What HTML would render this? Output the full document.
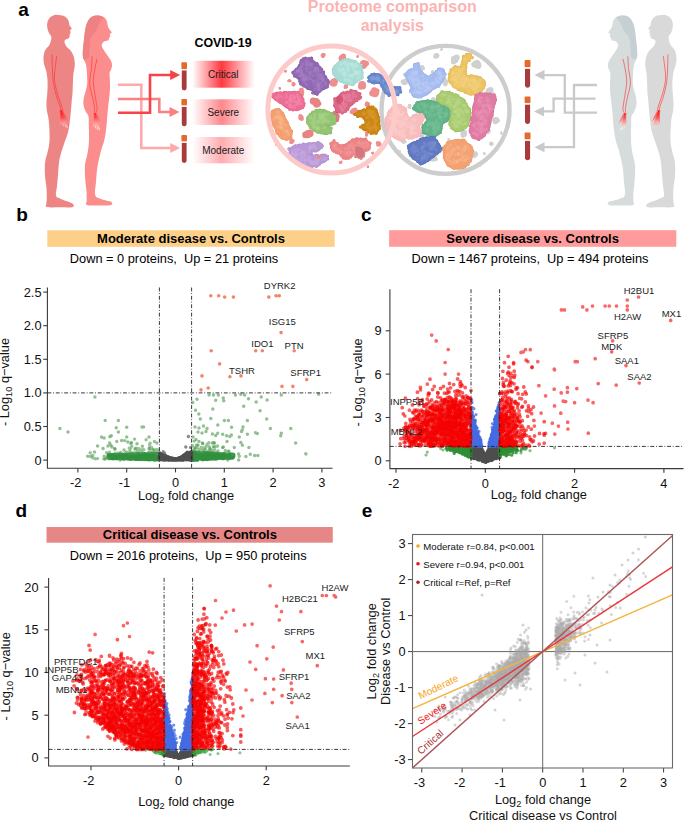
<!DOCTYPE html><html><head><meta charset="utf-8"><style>html,body{margin:0;padding:0;background:#fff;}svg{display:block;}text{font-family:"Liberation Sans",sans-serif;}</style></head><body>
<svg width="685" height="821" viewBox="0 0 685 821">
<rect width="685" height="821" fill="#fff"/>
<defs><path id="man" d="M57.6 14.9C59.6 15 61.5 15 63.5 15.8C65.5 16.6 66.4 17.7 67.5 19C68.6 20.3 68.6 21.2 69 22.5C69.4 23.8 69 24.3 69.6 25.5C70.2 26.7 71.7 27.7 71.8 28.6C71.9 29.5 70.4 29.4 70.2 30.2C70 31 70.7 31.6 70.6 32.5C70.5 33.4 70 33.7 69.8 34.5C69.6 35.3 69.9 35.7 69.6 36.5C69.3 37.3 69.1 37.9 68.3 38.6C67.5 39.3 66.3 39.1 65.5 39.8C64.7 40.5 64.3 40.7 64.5 42C64.7 43.3 65.3 44.8 66.5 46.5C67.7 48.2 69.1 48.6 70.5 50.5C71.9 52.4 72.7 53.7 73.5 56C74.3 58.3 74.5 59.7 74.7 62C74.9 64.3 74.8 65.1 74.5 67.5C74.2 69.9 73.7 70.9 73.4 74C73.1 77.1 73.1 79.4 72.9 83C72.7 86.6 72.8 88.6 72.6 92C72.4 95.4 72.2 96 71.8 100C71.4 104 71.3 107.2 70.8 112C70.3 116.8 70.1 119.8 69.5 124C68.9 128.2 68.9 129 67.8 133C66.7 137 65.4 139.8 64 144C62.6 148.2 61.8 150.2 60.8 154C59.8 157.8 59.6 158.8 59 163C58.4 167.2 58.4 170.4 58 175C57.6 179.6 57.4 181.9 57 186C56.6 190.1 55.4 193.1 56 195.6C56.6 198.1 58 197.4 60 198.5C62 199.6 63.7 200.1 66 201C68.3 201.9 70 202.2 71.5 203C73 203.8 73.4 204.2 73.5 205C73.6 205.8 74.7 206.7 72 207.2C69.3 207.7 65 207.3 60 207.3C55 207.3 49.7 207.7 47 207C44.3 206.3 46.3 205.8 46.3 204C46.3 202.2 46.8 201.2 46.8 198C46.8 194.8 46.8 192 46.5 188C46.2 184 45.5 182 45.2 178C44.9 174 44.7 171.6 44.8 168C44.9 164.4 44.9 163.2 45.5 160C46.1 156.8 46.9 155.2 47.6 152C48.3 148.8 48.8 147.2 49.2 144C49.6 140.8 49.6 139.6 49.6 136C49.6 132.4 49.4 129.6 49.2 126C49 122.4 48.9 121.2 48.4 118C47.9 114.8 47.2 113.2 46.8 110C46.4 106.8 46.4 105.2 46.5 102C46.6 98.8 47 97.2 47.2 94C47.4 90.8 47.6 89.2 47.6 86C47.6 82.8 47.6 81 47.3 78C47 75 46.8 73.6 46.2 71C45.6 68.4 44.8 67.4 44.3 65C43.8 62.6 43.5 61.4 43.5 59C43.5 56.6 43.7 55 44.2 53C44.7 51 45 50.5 46 49C47 47.5 48 47.1 49 45.5C50 43.9 50.4 42.8 50.8 41C51.2 39.2 51.6 38.1 51.2 36.5C50.8 34.9 49.8 34.7 49 33C48.2 31.3 47.7 30 47.4 28C47.1 26 46.9 25 47.3 23C47.7 21 48.3 19.5 49.5 18C50.7 16.5 51.9 16.1 53.5 15.5C55.1 14.9 55.6 14.8 57.6 14.9Z"/><path id="wom" d="M97 15.5C99.2 15.4 100.7 15.7 102.5 16.5C104.3 17.3 105 18.1 106 19.5C107 20.9 106.9 21.9 107.4 23.5C107.9 25.1 107.5 25.7 108.3 27.5C109.1 29.3 111.3 31.1 111.6 32.4C111.9 33.7 110.1 33.1 109.8 33.8C109.5 34.5 110.3 35.2 110.2 36C110.1 36.8 109.6 37.1 109.2 38C108.8 38.9 108.9 39.8 108 40.4C107.1 41 105.7 40.5 104.5 41.2C103.3 41.9 102.5 42.8 102 44C101.5 45.2 101.6 45.4 102.2 47C102.8 48.6 103.7 50 105 52C106.3 54 107.3 55.1 108.5 57C109.7 58.9 110.5 59.8 111.2 61.5C111.9 63.2 112 63.8 112 65.5C112 67.2 111.5 68.3 111 69.8C110.5 71.3 109.8 71.3 109.6 73C109.4 74.7 109.7 75.3 109.8 78.3C109.9 81.3 110.1 84.1 110 88C109.9 91.9 109.6 93.8 109.2 98C108.8 102.2 108.4 104.4 108 108.8C107.6 113.2 107.3 116.2 107 120C106.7 123.8 106.8 124 106.3 128C105.8 132 105.3 136 104.3 140.2C103.3 144.4 102.4 146 101.5 149C100.6 152 100.6 152.4 100 155C99.4 157.6 98.9 159 98.3 162C97.7 165 97.5 166 97 170C96.5 174 96.4 177 96 182C95.6 187 94.4 191.7 95.2 195C96 198.3 97.8 197.4 100 198.5C102.2 199.6 103.6 199.8 106 200.5C108.4 201.2 111 201.2 111.8 202.2C112.6 203.2 112.8 204.7 110 205.3C107.2 205.9 102.6 205.5 98 205.4C93.4 205.3 89.3 206.1 87 205C84.7 203.9 86.8 202.7 86.7 200C86.6 197.3 86.8 195.5 86.5 191.5C86.2 187.5 85.6 184.6 85.3 180C85 175.4 84.7 172.1 84.8 168.3C84.9 164.5 85.2 163.7 85.7 161C86.2 158.3 86.6 158 87.2 155C87.8 152 88.2 149.7 88.6 146C89 142.3 89 141 89 136.6C89 132.2 88.9 128.1 88.8 124C88.7 119.9 89.1 118.6 88.4 116C87.7 113.4 86.5 113.3 85.5 111C84.5 108.7 83.8 107.3 83.5 104.5C83.2 101.7 83.5 99.9 84 97C84.5 94.1 85.4 92.8 86 90C86.6 87.2 87 86.2 87.2 83.2C87.4 80.2 87.1 78 87 75C86.9 72 86.8 70.4 86.5 68C86.2 65.6 86.2 65 85.5 63C84.8 61 83.7 60.6 83.2 58C82.7 55.4 82.7 53.6 82.9 50C83.1 46.4 83.5 44 84 40C84.5 36 84.5 33.6 85.2 30C85.9 26.4 86.2 24.6 87.5 22C88.8 19.4 89.6 18.3 91.5 17C93.4 15.7 94.8 15.6 97 15.5Z"/><path id="hair" d="M97 15.5C98.9 15.3 99.7 15.7 101 16.2C102.3 16.7 103.5 17 103.5 18C103.5 19 102 19.6 101 21C100 22.4 99.5 23 98.5 25C97.5 27 97.3 28.8 96 31C94.7 33.2 93.2 33.8 92 36C90.8 38.2 90.5 39.2 90 42C89.5 44.8 89.7 47 89.5 50C89.3 53 89.5 55.2 88.8 57C88.1 58.8 87.1 58.8 86 59C84.9 59.2 83.8 59.8 83.2 58C82.6 56.2 82.7 53.6 82.9 50C83.1 46.4 83.5 44 84 40C84.5 36 84.5 33.6 85.2 30C85.9 26.4 86.2 24.6 87.5 22C88.8 19.4 89.6 18.3 91.5 17C93.4 15.7 95.1 15.7 97 15.5Z"/>
<linearGradient id="gc" x1="0" x2="1" y1="0" y2="0"><stop offset="0" stop-color="#ff3840" stop-opacity="0"/><stop offset="0.47" stop-color="#ff3840" stop-opacity="1"/><stop offset="1" stop-color="#ff3840" stop-opacity="0"/></linearGradient>
<linearGradient id="gs" x1="0" x2="1" y1="0" y2="0"><stop offset="0" stop-color="#ff878c" stop-opacity="0"/><stop offset="0.47" stop-color="#ff878c" stop-opacity="1"/><stop offset="1" stop-color="#ff878c" stop-opacity="0"/></linearGradient>
<linearGradient id="gm" x1="0" x2="1" y1="0" y2="0"><stop offset="0" stop-color="#ffacb0" stop-opacity="0"/><stop offset="0.47" stop-color="#ffacb0" stop-opacity="1"/><stop offset="1" stop-color="#ffacb0" stop-opacity="0"/></linearGradient>
<linearGradient id="handg" gradientUnits="userSpaceOnUse" x1="0" x2="0" y1="111" y2="129"><stop offset="0" stop-color="#ff1a1a"/><stop offset="0.35" stop-color="#ff4040"/><stop offset="1" stop-color="#ffffff"/></linearGradient>
<linearGradient id="handf" gradientUnits="userSpaceOnUse" x1="0" x2="0" y1="111" y2="129"><stop offset="0" stop-color="#ff2020"/><stop offset="0.5" stop-color="#ff6060" stop-opacity="0.6"/><stop offset="1" stop-color="#ffffff" stop-opacity="0.6"/></linearGradient>
</defs>
<g ><use href="#man" fill="#ee8585"/><use href="#wom" fill="#fc8d8d"/><use href="#hair" fill="#ee8282"/><path d="M59.6 110L62.8 110L67.3 118.7L60.4 121.5Z" fill="url(#handf)" opacity="0.5"/><path d="M61.2 111L60.4 123.5" stroke="url(#handg)" stroke-width="0.8" stroke-linecap="round"/><path d="M61.2 111L62 124.7" stroke="url(#handg)" stroke-width="0.8" stroke-linecap="round"/><path d="M61.2 111L63.7 125.9" stroke="url(#handg)" stroke-width="0.8" stroke-linecap="round"/><path d="M61.2 111L65.7 126.7" stroke="url(#handg)" stroke-width="0.8" stroke-linecap="round"/><path d="M61.2 111L67.3 127.5" stroke="url(#handg)" stroke-width="0.8" stroke-linecap="round"/><path d="M61.2 111L67.3 120.7" stroke="url(#handg)" stroke-width="0.8" stroke-linecap="round"/><path d="M93.4 112.5L96.6 112.5L101 121.5L93.8 124.3Z" fill="url(#handf)" opacity="0.5"/><path d="M95 113.5L93.8 126.3" stroke="url(#handg)" stroke-width="0.8" stroke-linecap="round"/><path d="M95 113.5L95.4 127.9" stroke="url(#handg)" stroke-width="0.8" stroke-linecap="round"/><path d="M95 113.5L97.4 129.1" stroke="url(#handg)" stroke-width="0.8" stroke-linecap="round"/><path d="M95 113.5L99.4 129.9" stroke="url(#handg)" stroke-width="0.8" stroke-linecap="round"/><path d="M95 113.5L101 123.5" stroke="url(#handg)" stroke-width="0.8" stroke-linecap="round"/><path d="M52.1 54.5C52.1 56.6 52.2 62.7 52.4 67.3C52.6 71.9 52.6 77.3 53.3 82C53.9 86.7 55.2 91.4 56.3 95.4C57.4 99.5 59.2 103.9 60 106.3C60.8 108.7 60.7 109.4 60.8 110" stroke="#ff2a2a" stroke-width="0.6" fill="none"/><path d="M56.7 56.1C56.4 58.2 55.5 64.5 55.1 68.5C54.7 72.5 54.1 75.8 54.5 80.1C54.9 84.4 56.3 89.5 57.6 94.1C58.9 98.7 61.3 104.9 62.1 107.6C62.9 110.2 62.4 109.6 62.5 110" stroke="#ff2a2a" stroke-width="0.6" fill="none"/><path d="M92.1 56.3C92 58.3 91.9 64 91.5 68.5C91.1 73 89.4 78.3 89.6 83.2C89.8 88.1 91.9 93.7 92.7 97.8C93.5 101.9 94.2 105.2 94.5 107.6C94.8 110 94.5 111.3 94.5 112" stroke="#ff2a2a" stroke-width="0.6" fill="none"/><path d="M97 58.8C96.6 60.8 95.1 67.1 94.5 71C93.9 74.9 93.2 77.9 93.3 82C93.4 86.1 94.5 91.1 95.1 95.4C95.7 99.7 96.8 104.8 97 107.6C97.2 110.4 96.6 111.3 96.5 112" stroke="#ff2a2a" stroke-width="0.6" fill="none"/></g>
<g transform="translate(720 0) scale(-1 1)"><use href="#man" fill="#d9d9d9"/><use href="#wom" fill="#d6dbdc"/><use href="#hair" fill="#c6cfd3"/><path d="M59.6 110L62.8 110L67.3 118.7L60.4 121.5Z" fill="url(#handf)" opacity="0.5"/><path d="M61.2 111L60.4 123.5" stroke="url(#handg)" stroke-width="0.8" stroke-linecap="round"/><path d="M61.2 111L62 124.7" stroke="url(#handg)" stroke-width="0.8" stroke-linecap="round"/><path d="M61.2 111L63.7 125.9" stroke="url(#handg)" stroke-width="0.8" stroke-linecap="round"/><path d="M61.2 111L65.7 126.7" stroke="url(#handg)" stroke-width="0.8" stroke-linecap="round"/><path d="M61.2 111L67.3 127.5" stroke="url(#handg)" stroke-width="0.8" stroke-linecap="round"/><path d="M61.2 111L67.3 120.7" stroke="url(#handg)" stroke-width="0.8" stroke-linecap="round"/><path d="M93.4 112.5L96.6 112.5L101 121.5L93.8 124.3Z" fill="url(#handf)" opacity="0.5"/><path d="M95 113.5L93.8 126.3" stroke="url(#handg)" stroke-width="0.8" stroke-linecap="round"/><path d="M95 113.5L95.4 127.9" stroke="url(#handg)" stroke-width="0.8" stroke-linecap="round"/><path d="M95 113.5L97.4 129.1" stroke="url(#handg)" stroke-width="0.8" stroke-linecap="round"/><path d="M95 113.5L99.4 129.9" stroke="url(#handg)" stroke-width="0.8" stroke-linecap="round"/><path d="M95 113.5L101 123.5" stroke="url(#handg)" stroke-width="0.8" stroke-linecap="round"/><path d="M52.1 54.5C52.1 56.6 52.2 62.7 52.4 67.3C52.6 71.9 52.6 77.3 53.3 82C53.9 86.7 55.2 91.4 56.3 95.4C57.4 99.5 59.2 103.9 60 106.3C60.8 108.7 60.7 109.4 60.8 110" stroke="#ff2a2a" stroke-width="0.6" fill="none"/><path d="M56.7 56.1C56.4 58.2 55.5 64.5 55.1 68.5C54.7 72.5 54.1 75.8 54.5 80.1C54.9 84.4 56.3 89.5 57.6 94.1C58.9 98.7 61.3 104.9 62.1 107.6C62.9 110.2 62.4 109.6 62.5 110" stroke="#ff2a2a" stroke-width="0.6" fill="none"/><path d="M92.1 56.3C92 58.3 91.9 64 91.5 68.5C91.1 73 89.4 78.3 89.6 83.2C89.8 88.1 91.9 93.7 92.7 97.8C93.5 101.9 94.2 105.2 94.5 107.6C94.8 110 94.5 111.3 94.5 112" stroke="#ff2a2a" stroke-width="0.6" fill="none"/><path d="M97 58.8C96.6 60.8 95.1 67.1 94.5 71C93.9 74.9 93.2 77.9 93.3 82C93.4 86.1 94.5 91.1 95.1 95.4C95.7 99.7 96.8 104.8 97 107.6C97.2 110.4 96.6 111.3 96.5 112" stroke="#ff2a2a" stroke-width="0.6" fill="none"/></g>
<text x="18.3" y="15.8" font-size="19" text-anchor="start" font-weight="bold" fill="#000" >a</text>
<text x="194.5" y="47.3" font-size="12.4" text-anchor="start" font-weight="bold" fill="#000" >COVID-19</text>
<path d="M118 84.7H141.3V148H172" stroke="#fdaaaa" stroke-width="2.6" fill="none" stroke-linejoin="miter"/><path d="M180.2 148L170.2 143L170.2 153Z" fill="#fdaaaa"/>
<path d="M118 99H159.3V112H172" stroke="#fb8080" stroke-width="2.6" fill="none" stroke-linejoin="miter"/><path d="M179.5 112L169.5 107L169.5 117Z" fill="#fb8080"/>
<path d="M118 112.8H150V75H172" stroke="#f6424a" stroke-width="2.6" fill="none" stroke-linejoin="miter"/><path d="M180.2 75L170.2 70L170.2 80Z" fill="#f6424a"/>
<path d="M597 85H574V147.2H543" stroke="#c9c9c9" stroke-width="2.3" fill="none" stroke-linejoin="miter"/><path d="M534.5 147.2L544.5 142.2L544.5 152.2Z" fill="#c9c9c9"/>
<path d="M595.5 98.7H553.6V111.4H543" stroke="#c9c9c9" stroke-width="2.3" fill="none" stroke-linejoin="miter"/><path d="M534 111.4L544 106.4L544 116.4Z" fill="#c9c9c9"/>
<path d="M597 112.6H564.8V75.1H543" stroke="#c9c9c9" stroke-width="2.3" fill="none" stroke-linejoin="miter"/><path d="M534.5 75.1L544.5 70.1L544.5 80.1Z" fill="#c9c9c9"/>
<rect x="181.4" y="62.3" width="5.6" height="6.7" rx="1" fill="#e36a2a"/><rect x="181.4" y="69" width="5.6" height="1.6" fill="#f4eeee"/><path d="M181.8 70.6H186.6V88A2.4 2.4 0 0 1 181.8 88Z" fill="#a83b3e"/>
<rect x="181.4" y="99" width="5.6" height="6.5" rx="1" fill="#e36a2a"/><rect x="181.4" y="105.5" width="5.6" height="1.5" fill="#f4eeee"/><path d="M181.8 107H186.6V123.9A2.4 2.4 0 0 1 181.8 123.9Z" fill="#a83b3e"/>
<rect x="181.4" y="135.1" width="5.6" height="6.5" rx="1" fill="#e36a2a"/><rect x="181.4" y="141.6" width="5.6" height="1.4" fill="#f4eeee"/><path d="M181.8 143H186.6V160.5A2.4 2.4 0 0 1 181.8 160.5Z" fill="#a83b3e"/>
<rect x="524.6" y="60" width="5.9" height="7.3" rx="1" fill="#e36a2a"/><rect x="524.6" y="67.3" width="5.9" height="1.7" fill="#f4eeee"/><path d="M525 69H530.1V85.7A2.6 2.6 0 0 1 525 85.7Z" fill="#a83b3e"/>
<rect x="524.6" y="96.5" width="5.9" height="6.5" rx="1" fill="#e36a2a"/><rect x="524.6" y="103" width="5.9" height="1.7" fill="#f4eeee"/><path d="M525 104.7H530.1V122A2.6 2.6 0 0 1 525 122Z" fill="#a83b3e"/>
<rect x="524.6" y="132.6" width="5.9" height="6.8" rx="1" fill="#e36a2a"/><rect x="524.6" y="139.4" width="5.9" height="1.6" fill="#f4eeee"/><path d="M525 141H530.1V158.2A2.6 2.6 0 0 1 525 158.2Z" fill="#a83b3e"/>
<rect x="192.3" y="60.8" width="62.4" height="26.9" fill="url(#gc)"/>
<text x="223.3" y="77.8" font-size="10" text-anchor="middle" font-weight="normal" fill="#1a1a1a" >Critical</text>
<rect x="192.3" y="99.3" width="62.4" height="25.6" fill="url(#gs)"/>
<text x="223.3" y="116.2" font-size="10" text-anchor="middle" font-weight="normal" fill="#1a1a1a" >Severe</text>
<rect x="192.3" y="137" width="62.4" height="26.3" fill="url(#gm)"/>
<text x="223.3" y="153.8" font-size="10" text-anchor="middle" font-weight="normal" fill="#1a1a1a" >Moderate</text>
<text x="392.3" y="11.8" font-size="16" text-anchor="middle" font-weight="bold" fill="#fbb4b4" >Proteome comparison</text>
<text x="392.3" y="30.8" font-size="16" text-anchor="middle" font-weight="bold" fill="#fbb4b4" >analysis</text>
<circle cx="445.5" cy="109.9" r="64" fill="none" stroke="#cdcdcd" stroke-width="4.4"/>
<path d="M496.1 99.1h0M495.8 98.6h0M483.7 152.8h0M478.8 165.3h0M398.9 152h0" stroke="#d0d0d0" stroke-width="1.2" stroke-linecap="round" fill="none"/><path d="M409.2 104.6h0M410.5 105h0M410.7 106.1h0M496.2 100.6h0M488.4 132.8h0M489.9 130.8h0M484.9 153.9h0M485 153.3h0M448.8 138.8h0M449 140.1h0M449.2 139.7h0M397.1 93h0M397.2 93h0M405 60.1h0M403.8 59.5h0M403.9 59h0M500.9 133.5h0M501.2 132.1h0M501.5 134h0M480.1 165.9h0M479.9 166.1h0M441.7 48.8h0M442.1 49.1h0M441.3 50.2h0M399.1 152.1h0M400 151h0" stroke="#d0d0d0" stroke-width="1.8" stroke-linecap="round" fill="none"/><path d="M421.4 66.2h0M432.5 71.6h0M432.2 99.3h0M432.3 99.6h0M495.5 100h0M405.5 142h0M413.7 115.2h0M412.9 115.4h0M409.9 107.9h0M409.9 107.9h0M490.7 142.7h0M490.3 143.9h0M490.6 142.9h0M488.6 132.9h0M484 153.5h0M448.5 139.5h0M396.8 93h0M404.5 59.5h0M464.1 168h0M463.4 167.8h0M463.7 168h0M501.5 133h0M479.5 165.5h0M441.5 49.5h0M399.5 151.5h0" stroke="#d0d0d0" stroke-width="2.4" stroke-linecap="round" fill="none"/><path d="M423.3 68.4h0M437.6 56.4h0M434 73.9h0M432.5 71.6h0M446.6 81.3h0M434.4 99.7h0M443.5 81.9h0M444.9 78.5h0M403.5 142.5h0M422.2 136.4h0M413.8 117.3h0M409.4 106h0M476.2 153.5h0" stroke="#d0d0d0" stroke-width="3.0" stroke-linecap="round" fill="none"/><path d="M423.2 68.5h0M437.7 55.3h0M435.1 56.9h0M406.5 82.1h0M444.8 84.4h0M445.8 84.8h0M409.6 105.8h0M402.2 141.3h0M423.3 133.3h0M433 156.1h0M413.8 116.2h0M409.1 107h0M463.8 131.8h0M462.5 135.9h0M474.8 156.4h0M498.1 120.8h0M489 131.6h0M397 94h0M464 167h0" stroke="#d0d0d0" stroke-width="3.6" stroke-linecap="round" fill="none"/><path d="M422.4 67.2h0M433.1 72.8h0M405.3 80.7h0M402.6 81.7h0M433.4 99h0M453.6 61.9h0M479.2 64.7h0M491.4 92.7h0M446.5 81.7h0M404 141.2h0M421.8 136.4h0M430.8 158.9h0M476.1 154.6h0M491.6 143.9h0" stroke="#d0d0d0" stroke-width="4.2" stroke-linecap="round" fill="none"/><path d="M445.6 82.8h0M488.7 93.6h0M445 81.3h0M435.4 158.9h0M494.2 119.6h0M495.2 122.1h0" stroke="#d0d0d0" stroke-width="4.8" stroke-linecap="round" fill="none"/><path d="M436.2 55.8h0M453.5 61.8h0M490.8 89.6h0M421.9 134.1h0M464.1 131.9h0M474.7 153.6h0" stroke="#d0d0d0" stroke-width="5.4" stroke-linecap="round" fill="none"/><path d="M404.5 82.3h0M456.7 57.6h0M474.3 64.5h0" stroke="#d0d0d0" stroke-width="6.0" stroke-linecap="round" fill="none"/><path d="M478.1 65.8h0M463.7 134.1h0M496.1 120.3h0" stroke="#d0d0d0" stroke-width="6.6" stroke-linecap="round" fill="none"/><path d="M433.1 158.1h0" stroke="#d0d0d0" stroke-width="7.2" stroke-linecap="round" fill="none"/><path d="M454.8 59.3h0M476.8 63.9h0M489.5 91.5h0" stroke="#d0d0d0" stroke-width="7.8" stroke-linecap="round" fill="none"/>
<path d="M406.7 73.2h0M411.4 69.5h0M414.1 68.1h0M414.3 66.1h0M418.5 65.7h0M419.1 67.7h0M419.8 69.6h0M422.2 72.9h0M423.1 74.4h0M427.3 76.4h0M430.1 77h0M433.4 74.7h0M442.2 69.2h0M444 72.8h0M443.1 78.4h0M442.2 80.3h0M441 82.7h0M439.6 84.3h0M434.5 88h0M429.7 91.5h0M427.9 92.9h0M424.1 95.1h0M422.7 95.6h0M421 97.1h0M414.7 96.6h0M412.7 93.9h0M410.7 91.8h0M411.6 88h0M411.8 86.2h0M406.6 76.8h0" stroke="#8aa4e4" stroke-width="3.0" stroke-linecap="round" fill="none"/><path d="M405.2 74.8h0M408.3 71.7h0M409.4 70.8h0M414.9 64.5h0M418 63.9h0M421.1 71.5h0M424.8 75.3h0M431.3 75.7h0M435 73.2h0M436.6 71.5h0M438.6 69.4h0M440.5 69.4h0M443.2 70.7h0M444.8 74.3h0M443.7 76.4h0M438.5 85.9h0M436.3 86.6h0M432.2 88.8h0M430.6 90.3h0M425.9 94.1h0M418.7 96.8h0M417.5 96.6h0M413.4 94.9h0M411 90.4h0M410.6 84.5h0M409.6 82.3h0M408.4 80.1h0M407.7 78.7h0" stroke="#8aa4e4" stroke-width="3.6" stroke-linecap="round" fill="none"/><path d="M405.5 74.6C405.7 72.9 408.2 71.5 409.6 70.5C411 69.5 412.9 69.5 413.7 68.5C414.5 67.5 414 65.2 414.7 64.4C415.4 63.6 417 63.4 417.8 63.9C418.6 64.4 418.8 66.2 419.3 67.5C419.8 68.8 419.9 70.2 420.9 71.6C421.8 73 423.5 74.8 425 75.7C426.5 76.6 428.4 77.1 430.1 76.7C431.8 76.3 433.9 74.8 435.2 73.6C436.5 72.4 437 70.3 438.2 69.5C439.4 68.7 441.3 68.2 442.3 69C443.3 69.8 444.4 72.6 444.4 74.6C444.4 76.6 443.3 78.9 442.3 80.8C441.3 82.7 439.9 84.6 438.2 85.9C436.5 87.2 433.8 87.7 432.1 88.9C430.4 90.1 429.9 91.6 428 93C426.1 94.4 423.1 96.5 420.9 97.1C418.7 97.7 416.4 97.4 414.7 96.6C413 95.8 411.2 93.8 410.7 92C410.2 90.2 412 87.8 411.7 85.9C411.4 84 409.6 82.7 408.6 80.8C407.6 78.9 405.3 76.3 405.5 74.6Z" fill="#a5bcf0"/><path d="M427.9 92.9h0M424.1 95.1h0" stroke="#a5bcf0" stroke-width="1.8" stroke-linecap="round" fill="none"/><path d="M406.7 73.2h0M411.4 69.5h0M414.1 68.1h0M414.3 66.1h0M414.9 64.5h0M418.5 65.7h0M419.1 67.7h0M419.8 69.6h0M422.2 72.9h0M423.1 74.4h0M427.3 76.4h0M430.1 77h0M433.4 74.7h0M438.6 69.4h0M442.2 69.2h0M443.2 70.7h0M444 72.8h0M443.1 78.4h0M442.2 80.3h0M441 82.7h0M439.6 84.3h0M434.5 88h0M430.6 90.3h0M429.7 91.5h0M422.7 95.6h0M421 97.1h0M417.5 96.6h0M414.7 96.6h0M413.4 94.9h0M412.7 93.9h0M410.7 91.8h0M411.6 88h0M411.8 86.2h0M410.6 84.5h0M409.6 82.3h0M406.6 76.8h0" stroke="#a5bcf0" stroke-width="2.4" stroke-linecap="round" fill="none"/><path d="M405.2 74.8h0M408.3 71.7h0M409.4 70.8h0M418 63.9h0M421.1 71.5h0M424.8 75.3h0M431.3 75.7h0M435 73.2h0M436.6 71.5h0M440.5 69.4h0M444.8 74.3h0M443.7 76.4h0M438.5 85.9h0M436.3 86.6h0M432.2 88.8h0M425.9 94.1h0M418.7 96.8h0M411 90.4h0M408.4 80.1h0M407.7 78.7h0" stroke="#a5bcf0" stroke-width="3.0" stroke-linecap="round" fill="none"/><path d="M418.2 91.5h0M436.2 79.3h0" stroke="#bccdf6" stroke-width="1.8" stroke-linecap="round" fill="none" opacity="0.45"/><path d="M417.5 76.5h0M435.8 77.9h0M422.9 85h0M414.4 75.9h0M420.4 81.7h0M425.4 90.8h0M423.7 84.5h0M439.7 73.5h0M419 91.9h0M440.1 71.8h0M427.3 78.6h0M413 71.2h0M417.4 75.8h0M416.7 77.8h0M415.6 87.2h0M423.1 84.9h0M422.5 93.2h0M437.2 81.8h0M409.2 76.8h0M420.7 89.2h0M416.7 79.6h0M427.7 83.1h0M418.6 85.2h0M424.1 78.9h0M427.6 86.1h0M414.4 84.2h0M428.8 86.8h0" stroke="#bccdf6" stroke-width="2.4" stroke-linecap="round" fill="none" opacity="0.45"/><path d="M439.8 73.7h0M427.9 86.5h0M418.9 83h0M438.5 76.8h0M412.7 81.3h0M430.5 84.1h0M418.1 80.6h0M440.2 79.2h0M416.6 71.3h0M418.1 83h0M409.7 78.8h0M438.5 77h0M415.7 74.1h0M432.2 82.8h0M426.5 81.9h0M419.1 87.5h0M413.8 92.7h0M411.7 78.8h0M434.5 82.7h0M414.4 78.8h0M418.2 84.1h0M422.5 84.3h0" stroke="#bccdf6" stroke-width="3.0" stroke-linecap="round" fill="none" opacity="0.45"/><path d="M413.8 74.1h0M416.4 72.9h0M417.7 92.7h0M427.6 87.4h0M441.8 75.9h0M414.9 81.1h0M426.1 83.6h0M430.3 88.3h0M414.2 79.8h0M422.5 76h0M413.1 82.7h0M428.3 89.1h0M414 73h0M419.7 88.1h0M420.9 92.2h0M436.9 80.6h0M426.4 90.7h0M415.1 85h0M439.7 73.1h0M414.5 85.9h0M425.5 84.7h0M417.9 79.7h0M425.6 86.8h0" stroke="#bccdf6" stroke-width="3.6" stroke-linecap="round" fill="none" opacity="0.45"/><path d="M441.6 77h0M425.6 90.8h0M437.9 82.3h0M415.6 72.3h0M415.8 91.1h0M423.2 88.6h0M440.3 78.4h0M418 84.6h0M433.2 84.5h0M411.7 73.1h0M428.7 88.8h0M422.7 84h0M412.1 79.9h0M416.5 92h0M420 92.8h0M438.3 72.8h0M423 83.3h0M411.7 75.7h0" stroke="#bccdf6" stroke-width="4.2" stroke-linecap="round" fill="none" opacity="0.45"/>
<path d="M451 69.7h0M453.5 68h0M458 67.2h0M460.5 67.6h0M461.4 65.5h0M462.1 63.4h0M470.6 54.8h0M469.2 60.4h0M466.5 61.3h0M466.3 63.2h0M465.7 65.5h0M466 67.3h0M465.3 69.7h0M465.8 73.8h0M472.6 76.1h0M475.3 76.4h0M479.4 77.7h0M482.2 79.9h0M484.6 82.5h0M484.7 84.9h0M473.7 93.2h0M465.6 92.4h0M463.7 91h0M461.9 90.3h0M452.3 84.2h0M450.5 82.6h0M450.6 72.1h0" stroke="#d4a844" stroke-width="3.0" stroke-linecap="round" fill="none"/><path d="M455.4 66.9h0M462.8 61.7h0M463.6 59.9h0M463.7 58h0M463.8 56.6h0M466.6 54.7h0M468.8 54.9h0M472.1 57.6h0M467.4 59.5h0M465.1 71.8h0M466.2 76.5h0M468.9 76.7h0M471 76.1h0M477.2 77.4h0M480.5 78.4h0M483.6 81.1h0M483.4 86.3h0M483.1 87.9h0M481.7 90h0M479.6 91.2h0M478 91.8h0M475.7 92.6h0M471.8 93.9h0M469.8 93.7h0M467.8 92.8h0M460.7 89.9h0M458.2 89.2h0M456.8 87.5h0M454.7 86.7h0M453.7 85.9h0M449.8 80.8h0M449.4 78.5h0M450.1 76.8h0M449.5 74.4h0" stroke="#d4a844" stroke-width="3.6" stroke-linecap="round" fill="none"/><path d="M451.2 69.5C452.1 68.2 453.8 67.3 455.3 67C456.8 66.7 459.2 68.1 460.4 67.5C461.6 66.9 461.9 65.3 462.4 63.4C462.9 61.5 462.8 57.7 463.5 56.2C464.2 54.8 465.3 54.9 466.5 54.7C467.7 54.5 469.7 54.7 470.6 55.2C471.5 55.7 472.3 56.9 472.1 57.8C471.9 58.6 470.5 60 469.6 60.3C468.8 60.5 467.6 58.8 467 59.3C466.4 59.8 466.3 61.4 466 63.4C465.7 65.5 464.9 69.4 465 71.6C465.1 73.8 465.2 75.9 466.5 76.7C467.8 77.5 470.6 76 472.7 76.2C474.8 76.4 476.9 76.9 478.8 77.7C480.7 78.5 482.9 79.6 483.9 80.8C484.9 82 485.2 83.4 484.9 84.9C484.6 86.4 483.4 88.7 481.9 90C480.4 91.3 477.8 92.3 475.7 93C473.6 93.7 471.6 94.3 469.6 94C467.6 93.7 465.4 91.8 463.5 91C461.6 90.2 460.1 89.8 458.4 88.9C456.7 88.1 454.6 87.2 453.2 85.9C451.8 84.6 450.2 82.7 449.7 80.8C449.2 78.9 449.9 76.5 450.2 74.6C450.4 72.7 450.3 70.8 451.2 69.5Z" fill="#edc463"/><path d="M451 69.7h0" stroke="#edc463" stroke-width="1.8" stroke-linecap="round" fill="none"/><path d="M453.5 68h0M458 67.2h0M460.5 67.6h0M461.4 65.5h0M462.1 63.4h0M462.8 61.7h0M463.7 58h0M463.8 56.6h0M466.6 54.7h0M470.6 54.8h0M469.2 60.4h0M467.4 59.5h0M466.5 61.3h0M466.3 63.2h0M465.7 65.5h0M466 67.3h0M465.3 69.7h0M465.8 73.8h0M468.9 76.7h0M472.6 76.1h0M475.3 76.4h0M479.4 77.7h0M482.2 79.9h0M483.6 81.1h0M484.6 82.5h0M484.7 84.9h0M479.6 91.2h0M473.7 93.2h0M471.8 93.9h0M465.6 92.4h0M463.7 91h0M461.9 90.3h0M458.2 89.2h0M452.3 84.2h0M450.5 82.6h0M450.1 76.8h0M450.6 72.1h0" stroke="#edc463" stroke-width="2.4" stroke-linecap="round" fill="none"/><path d="M455.4 66.9h0M463.6 59.9h0M468.8 54.9h0M472.1 57.6h0M465.1 71.8h0M466.2 76.5h0M471 76.1h0M477.2 77.4h0M480.5 78.4h0M483.4 86.3h0M483.1 87.9h0M481.7 90h0M478 91.8h0M475.7 92.6h0M469.8 93.7h0M467.8 92.8h0M460.7 89.9h0M456.8 87.5h0M454.7 86.7h0M453.7 85.9h0M449.8 80.8h0M449.4 78.5h0M449.5 74.4h0" stroke="#edc463" stroke-width="3.0" stroke-linecap="round" fill="none"/><path d="M471.9 79.6h0M458.8 70.2h0M454.5 79.6h0M478.5 84.7h0M472.5 79.4h0" stroke="#f3d283" stroke-width="1.8" stroke-linecap="round" fill="none" opacity="0.45"/><path d="M467.7 86.7h0M462 77.4h0M469.4 83.3h0M473.6 80.4h0M475.8 86.7h0M454 70.2h0M474.5 88.3h0M454.7 78.1h0M464.4 82.2h0M452.5 76h0M463.6 76h0M455.7 80.4h0M470.3 81.2h0M452.5 79.1h0M459.6 72.2h0M457.9 72h0M456 82.6h0M458.5 83.2h0M468.6 90.4h0M466 87h0M469.7 85.6h0M453.8 78.4h0M473 82.9h0M459.7 72.4h0M473.9 81.4h0M475 83.7h0M459.3 86.9h0" stroke="#f3d283" stroke-width="2.4" stroke-linecap="round" fill="none" opacity="0.45"/><path d="M466.1 77.3h0M463.3 68.2h0M477.2 87h0M459.5 76h0M462.2 85h0M465.5 82.7h0M476 81.1h0M458.8 69.6h0M453.8 79.8h0M461.6 73.4h0M465.4 78.7h0M457.8 73.7h0M452.6 77.7h0M478.6 82.6h0M461.8 78.6h0M471.9 87h0M463.7 75.4h0M456.9 85.9h0M456.5 69.3h0M452.6 73.1h0M479.2 82.5h0" stroke="#f3d283" stroke-width="3.0" stroke-linecap="round" fill="none" opacity="0.45"/><path d="M459.8 78.4h0M471.1 80.3h0M476.5 88.2h0M461.1 81.7h0M463.6 86.2h0M479.6 80.2h0M475.9 90.5h0M455.2 81.7h0M474 80.2h0M452.1 79.5h0M454.7 76.5h0M473.4 80.4h0M465.3 84.5h0M480 86.4h0M465.4 59.3h0M466.2 79.1h0M457 79.3h0M479.2 85.9h0M463.7 78.9h0M472.7 80.7h0M468.6 79.7h0M453.3 72.1h0M474.9 90.7h0M469.5 84.8h0" stroke="#f3d283" stroke-width="3.6" stroke-linecap="round" fill="none" opacity="0.45"/><path d="M467.5 79.7h0M462.4 85.3h0M462 83.1h0M458.5 74.8h0M454.8 84.7h0M465.9 79.8h0M474.8 85.2h0M471.6 85.5h0M474.8 88.6h0M464.6 79.3h0M459.7 84h0M475.8 82.1h0M477.7 85h0M456.7 77.8h0M475 82h0M453.3 73.5h0M456.8 82h0M474.2 78.9h0M456.7 74.1h0M472.8 88.2h0M461 70.6h0" stroke="#f3d283" stroke-width="4.2" stroke-linecap="round" fill="none" opacity="0.45"/>
<path d="M413.3 108.2h0M414.8 105.8h0M416.7 103.2h0M422.4 101.5h0M424.2 101.4h0M431.5 101.5h0M433.8 102.1h0M435.9 102.5h0M438 102.8h0M439.7 103.8h0M444.6 105.7h0M449.3 110.8h0M449.4 113.2h0M448.8 116.6h0M447.2 120.4h0M445.6 121.2h0M441.2 125.2h0M440.6 130.5h0M440.4 132.5h0M438.3 133.8h0M431.8 134.7h0M429.7 135h0M427.5 134.2h0M423.3 129.8h0M425.4 123.5h0M426.5 122.1h0M427.9 120.2h0M425.8 116.6h0M423.9 113.1h0M422.4 112.8h0M418.8 111.5h0M416.8 110.9h0" stroke="#4a9d72" stroke-width="3.0" stroke-linecap="round" fill="none"/><path d="M417.6 102.7h0M420 102.3h0M426 101.6h0M427.8 101.1h0M430 101.6h0M441.9 104.5h0M443.1 105.5h0M446.2 108h0M447.6 109.3h0M448.7 114.8h0M447.7 118.6h0M443.3 122.3h0M441.6 124.2h0M441 126.8h0M441 128.4h0M436.6 134.6h0M435.4 135.3h0M433.3 135.8h0M426.3 133.4h0M424.4 132.4h0M423.2 132.1h0M422.9 127.5h0M423.5 125.5h0M427.4 118.8h0M425.1 114.7h0M419.9 112h0M414.9 109.2h0" stroke="#4a9d72" stroke-width="3.6" stroke-linecap="round" fill="none"/><path d="M413.7 108.1C413.6 106.8 414.6 104.6 416 103.5C417.4 102.4 419.7 101.8 422 101.5C424.3 101.2 427.3 101.2 430 101.5C432.7 101.8 435.5 102.2 438 103C440.5 103.8 443.1 104.7 445 106C446.9 107.3 449.1 108.7 449.5 111.1C449.9 113.5 448.8 118.2 447.4 120.3C446 122.3 442.5 121.4 441.3 123.4C440.1 125.5 441.3 130.6 440.3 132.6C439.3 134.6 437.2 135.4 435.2 135.7C433.1 136 430.1 135.3 428 134.6C425.9 133.9 423.6 133.1 422.9 131.6C422.2 130.1 423 127.3 423.9 125.4C424.8 123.5 428 122.3 428 120.3C428 118.3 425.8 114.7 423.9 113.2C422 111.7 418.5 111.9 416.8 111.1C415.1 110.2 413.8 109.4 413.7 108.1Z" fill="#62b388"/><path d="M435.9 102.5h0" stroke="#62b388" stroke-width="1.8" stroke-linecap="round" fill="none"/><path d="M413.3 108.2h0M414.8 105.8h0M416.7 103.2h0M422.4 101.5h0M424.2 101.4h0M426 101.6h0M430 101.6h0M431.5 101.5h0M433.8 102.1h0M438 102.8h0M439.7 103.8h0M443.1 105.5h0M444.6 105.7h0M449.3 110.8h0M449.4 113.2h0M448.8 116.6h0M447.7 118.6h0M447.2 120.4h0M445.6 121.2h0M441.2 125.2h0M441 128.4h0M440.6 130.5h0M440.4 132.5h0M438.3 133.8h0M435.4 135.3h0M431.8 134.7h0M429.7 135h0M427.5 134.2h0M426.3 133.4h0M424.4 132.4h0M423.2 132.1h0M423.3 129.8h0M422.9 127.5h0M425.4 123.5h0M426.5 122.1h0M427.9 120.2h0M425.8 116.6h0M423.9 113.1h0M422.4 112.8h0M419.9 112h0M418.8 111.5h0M416.8 110.9h0" stroke="#62b388" stroke-width="2.4" stroke-linecap="round" fill="none"/><path d="M417.6 102.7h0M420 102.3h0M427.8 101.1h0M441.9 104.5h0M446.2 108h0M447.6 109.3h0M448.7 114.8h0M443.3 122.3h0M441.6 124.2h0M441 126.8h0M436.6 134.6h0M433.3 135.8h0M423.5 125.5h0M427.4 118.8h0M425.1 114.7h0M414.9 109.2h0" stroke="#62b388" stroke-width="3.0" stroke-linecap="round" fill="none"/><path d="M430.3 121.1h0M430.2 110.7h0M440.5 119.8h0M432.1 118.3h0M432.8 129.2h0" stroke="#7cc39d" stroke-width="1.8" stroke-linecap="round" fill="none" opacity="0.45"/><path d="M420.6 110h0M446.4 110.1h0M437.9 105.8h0M440.7 117.1h0M432.8 122.2h0M432.7 108.5h0M430.8 106.7h0M441.5 117h0M435 125.4h0M434.2 107.6h0M438.8 126.8h0M445.3 116h0M443 112.9h0M432.8 106.2h0M419.5 109h0M433.4 129.1h0M427.2 112h0M432.1 122.9h0M442.1 120.4h0M432.7 125.5h0M430.8 124.8h0M435.5 127.4h0" stroke="#7cc39d" stroke-width="2.4" stroke-linecap="round" fill="none" opacity="0.45"/><path d="M434.1 127.4h0M427.7 125h0M424.3 109h0M418.1 105.1h0M446.5 112.5h0M421.5 103.7h0M440.9 108.5h0M435.6 122.9h0M424.8 104.1h0M424.5 107.1h0M430.5 107.8h0M437.5 113.6h0M436.3 120.4h0M439.4 117.5h0M441.6 112.4h0M445.5 113.5h0M443.8 117.2h0M425.6 111.6h0M434 122.6h0M426.8 129.1h0" stroke="#7cc39d" stroke-width="3.0" stroke-linecap="round" fill="none" opacity="0.45"/><path d="M432.3 108.3h0M427.2 130.7h0M434.2 124.2h0M429.5 123.1h0M438.4 106.1h0M437.7 129.1h0M422.9 104.7h0M440.6 109.9h0M429.7 123.4h0M432.7 110.8h0M422.9 105.7h0M439.2 112.5h0M440.5 117.4h0M433.1 125h0M427.8 105.4h0M428.9 116.4h0M432.7 104.7h0M425.9 112.8h0M418.1 107.3h0M434.2 128.2h0M430.3 115.7h0M436.4 129.2h0M435.4 130.4h0M446.5 115.1h0M425.5 106.4h0M429.8 113.4h0M437.2 106.1h0M428.3 124.1h0M433.8 133.1h0" stroke="#7cc39d" stroke-width="3.6" stroke-linecap="round" fill="none" opacity="0.45"/><path d="M438 124.6h0M434.3 115.2h0M434.9 107.3h0M438.2 110.2h0M435.2 132.6h0M438.5 123.3h0M439.8 116.5h0M438.6 106.3h0M438.8 113.9h0M445.6 114.6h0M438.6 128.1h0" stroke="#7cc39d" stroke-width="4.2" stroke-linecap="round" fill="none" opacity="0.45"/>
<path d="M437.7 96.1h0M439.2 95.1h0M440.7 93.6h0M450 93.1h0M452.3 93.5h0M454.5 94.9h0M459 96.9h0M462.3 99.1h0M467.2 106.4h0M469.9 109.5h0M469.5 115.5h0M467.7 123.2h0M463.8 128h0M462.4 129.4h0M454.2 129.8h0M451.5 127.8h0M452.1 114.9h0M449.9 107.5h0M446.7 105.3h0M445.4 104.4h0M442.8 103.9h0M439.4 101.2h0M437.4 97.8h0" stroke="#90b657" stroke-width="3.0" stroke-linecap="round" fill="none"/><path d="M442.1 92.1h0M444.1 92.5h0M446.8 92.6h0M449.4 92.6h0M455.8 95.1h0M457.7 96.1h0M460.8 98.8h0M463.9 100.6h0M464.6 102.3h0M466 104.2h0M468.2 108.4h0M469.3 111.5h0M469.9 113.3h0M470.2 117.5h0M469 119.9h0M468.4 121.4h0M467.3 125.3h0M465.6 126.9h0M460.5 129.9h0M458.4 130.1h0M456 130.8h0M453 128.5h0M450.3 125h0M450 123.5h0M450.3 120.6h0M451 118.2h0M451.8 116.3h0M451.4 112.6h0M452.1 111.6h0M451.2 109.1h0M449.1 106.1h0M440.8 102.9h0M437.4 100.5h0" stroke="#90b657" stroke-width="3.6" stroke-linecap="round" fill="none"/><path d="M437.5 96C438.2 94.8 440.1 93.1 442 92.5C443.9 91.9 446.7 92.1 449 92.5C451.3 92.9 453.8 93.9 456 95C458.2 96.1 460.3 97.5 462 99C463.7 100.5 464.7 102.2 466 104C467.3 105.8 469 107.8 469.6 110C470.2 112.2 470 114.7 469.6 117.3C469.2 119.9 468.7 123.4 467.5 125.4C466.3 127.4 464.3 128.7 462.4 129.5C460.5 130.3 458.2 130.8 456.3 130.5C454.4 130.2 452.2 128.7 451.2 127.5C450.2 126.3 450.2 124.9 450.2 123.4C450.2 121.9 450.9 120.3 451.2 118.3C451.5 116.2 452.6 113.1 452.2 111.1C451.8 109 450.9 107.3 449 106C447.1 104.7 442.9 104 441 103C439.1 102 438.1 101.2 437.5 100C436.9 98.8 436.8 97.2 437.5 96Z" fill="#a9cb6f"/><path d="M437.7 96.1h0M439.2 95.1h0M440.7 93.6h0M450 93.1h0M452.3 93.5h0M454.5 94.9h0M459 96.9h0M460.8 98.8h0M462.3 99.1h0M464.6 102.3h0M467.2 106.4h0M468.2 108.4h0M469.9 109.5h0M469.3 111.5h0M469.9 113.3h0M469.5 115.5h0M468.4 121.4h0M467.7 123.2h0M463.8 128h0M462.4 129.4h0M460.5 129.9h0M458.4 130.1h0M456 130.8h0M454.2 129.8h0M453 128.5h0M451.5 127.8h0M450 123.5h0M450.3 120.6h0M451 118.2h0M451.8 116.3h0M452.1 114.9h0M451.4 112.6h0M452.1 111.6h0M449.9 107.5h0M446.7 105.3h0M445.4 104.4h0M442.8 103.9h0M440.8 102.9h0M439.4 101.2h0M437.4 100.5h0M437.4 97.8h0" stroke="#a9cb6f" stroke-width="2.4" stroke-linecap="round" fill="none"/><path d="M442.1 92.1h0M444.1 92.5h0M446.8 92.6h0M449.4 92.6h0M455.8 95.1h0M457.7 96.1h0M463.9 100.6h0M466 104.2h0M470.2 117.5h0M469 119.9h0M467.3 125.3h0M465.6 126.9h0M450.3 125h0M451.2 109.1h0M449.1 106.1h0" stroke="#a9cb6f" stroke-width="3.0" stroke-linecap="round" fill="none"/><path d="M461.5 102.1h0M453 102.2h0" stroke="#bcd98b" stroke-width="1.8" stroke-linecap="round" fill="none" opacity="0.45"/><path d="M454.7 124.4h0M464.7 110.4h0M460.6 124.7h0M455.4 123.3h0M457.4 125.7h0M455.9 102.3h0M462.4 104.4h0M461.4 118.7h0M456.7 102.2h0M447.1 102.8h0M455.6 107h0M457.7 111.2h0M458.8 108.7h0M463.6 114.9h0M456.4 99.2h0M462 111h0M441.1 100.5h0M464.6 124.2h0M460.5 104.3h0M463.4 105.1h0M452.8 99.3h0" stroke="#bcd98b" stroke-width="2.4" stroke-linecap="round" fill="none" opacity="0.45"/><path d="M456.8 126.8h0M449.4 99.5h0M444.1 94.8h0M460.7 122.6h0M460.9 116.2h0M458.9 99.6h0M455.3 111.7h0M458.8 100.6h0M456.9 102.5h0M449.8 101.6h0M455.8 110.1h0M455.4 110.3h0M454.6 125.9h0M451.3 105.4h0M453.3 98.9h0M456.1 127.2h0M459.1 109.8h0M462.8 124.5h0M459.9 121.4h0M456.8 109.4h0M458.5 116.1h0M454.3 106.8h0" stroke="#bcd98b" stroke-width="3.0" stroke-linecap="round" fill="none" opacity="0.45"/><path d="M457.9 114.5h0M449.1 101.1h0M463.3 112.6h0M457.7 126.5h0M459.4 101.7h0M466.1 109.9h0M457.2 122.8h0M458.6 101.9h0M448.4 98.5h0M463 119.4h0M445.4 95h0M450 96.8h0M453.8 106.9h0M463.9 119.2h0M467.1 111.8h0M454.7 105.8h0M453.5 116.6h0M449.6 96.5h0M459.8 112.8h0M457 117.1h0M461.4 111.2h0M460.2 109.8h0M454.9 111.2h0M457.5 116.5h0M463.8 106h0" stroke="#bcd98b" stroke-width="3.6" stroke-linecap="round" fill="none" opacity="0.45"/><path d="M456.1 111.6h0M467.4 111.8h0M464.5 105.8h0M459.1 122.3h0M457.3 104.7h0M450.3 104.3h0M447.5 102.2h0M459.5 121.3h0M455.4 112.1h0M442.5 95.1h0M456.7 105.7h0M465.8 123h0M458.5 114.6h0M456.2 125.5h0M455.1 120h0M458.7 121.8h0M453.2 122.3h0" stroke="#bcd98b" stroke-width="4.2" stroke-linecap="round" fill="none" opacity="0.45"/>
<path d="M486.9 94.1h0M491.8 95h0M495 101.1h0M494.7 102.7h0M493.5 106.2h0M493.1 108.1h0M490.7 118.3h0M490.2 120.4h0M489.6 124.3h0M489.1 126.8h0M488.7 128.9h0M486.1 132.2h0M484.9 133.8h0M482.4 136.9h0M480.8 138.1h0M478.7 139.4h0M476.9 138.4h0M472.8 137h0M470 130.6h0M470.7 128.8h0M471.9 122.7h0M471.5 120h0M473.1 115h0M474.5 104.2h0M475 101.9h0M475.3 99.8h0M475.4 98.2h0" stroke="#c9648b" stroke-width="3.0" stroke-linecap="round" fill="none"/><path d="M476 95.7h0M478.3 95h0M480.4 93.7h0M482.5 94.2h0M484.8 94h0M489.8 94.4h0M494 95.1h0M494.7 97.1h0M495.2 99.5h0M493.9 104.1h0M492.4 110.5h0M492.3 111.9h0M492.1 114.4h0M491.7 116.1h0M489.8 122.4h0M487.6 129.9h0M484.1 135.3h0M474.5 137.6h0M472.1 135.1h0M470.7 132.2h0M470.8 126.3h0M471.2 124.3h0M472 118.5h0M472.7 117.4h0M473.4 112.8h0M473.8 111.2h0M473.8 109.4h0M473.8 107.5h0M474.3 105.5h0" stroke="#c9648b" stroke-width="3.6" stroke-linecap="round" fill="none"/><path d="M475.7 96C476.6 94.3 478.1 94.3 480 94C481.9 93.7 484.7 93.8 487 94C489.3 94.2 492.7 94.3 494 95.5C495.3 96.7 495.1 98.9 495 101C494.9 103.1 493.6 105.8 493.1 108C492.6 110.2 492.6 111.8 492.1 114.2C491.6 116.6 490.7 119.7 490 122.4C489.3 125.1 489 128.3 488 130.5C487 132.7 485.4 134.2 483.9 135.7C482.4 137.1 480.7 139 478.8 139.2C476.9 139.4 474.1 138.1 472.7 136.7C471.2 135.2 470.3 133.2 470.1 130.5C469.9 127.8 471 123.2 471.6 120.3C472.2 117.4 473.2 115.9 473.7 113.2C474.2 110.5 474.2 106.9 474.5 104C474.8 101.1 474.8 97.7 475.7 96Z" fill="#e07ba3"/><path d="M478.7 139.4h0" stroke="#e07ba3" stroke-width="1.8" stroke-linecap="round" fill="none"/><path d="M480.4 93.7h0M484.8 94h0M486.9 94.1h0M489.8 94.4h0M491.8 95h0M495.2 99.5h0M495 101.1h0M494.7 102.7h0M493.5 106.2h0M493.1 108.1h0M492.4 110.5h0M492.3 111.9h0M491.7 116.1h0M490.7 118.3h0M490.2 120.4h0M489.6 124.3h0M489.1 126.8h0M488.7 128.9h0M487.6 129.9h0M486.1 132.2h0M484.9 133.8h0M482.4 136.9h0M480.8 138.1h0M476.9 138.4h0M474.5 137.6h0M472.8 137h0M470.7 132.2h0M470 130.6h0M470.7 128.8h0M471.2 124.3h0M471.9 122.7h0M471.5 120h0M472 118.5h0M473.1 115h0M474.3 105.5h0M474.5 104.2h0M475 101.9h0M475.3 99.8h0M475.4 98.2h0" stroke="#e07ba3" stroke-width="2.4" stroke-linecap="round" fill="none"/><path d="M476 95.7h0M478.3 95h0M482.5 94.2h0M494 95.1h0M494.7 97.1h0M493.9 104.1h0M492.1 114.4h0M489.8 122.4h0M484.1 135.3h0M472.1 135.1h0M470.8 126.3h0M472.7 117.4h0M473.4 112.8h0M473.8 111.2h0M473.8 109.4h0M473.8 107.5h0" stroke="#e07ba3" stroke-width="3.0" stroke-linecap="round" fill="none"/><path d="M480.3 119h0" stroke="#ea97b9" stroke-width="1.8" stroke-linecap="round" fill="none" opacity="0.45"/><path d="M479.2 124.5h0M481.1 132.4h0M475.8 129.2h0M482.8 122.1h0M477.3 115.2h0M489.4 111.3h0M483.8 107.4h0M487.2 116.3h0M486.2 120.4h0M486 100.1h0M480 133.3h0M488.7 107.9h0M478.5 112.5h0M482.8 101.2h0M478.6 121.4h0M484.1 110.4h0M483.8 123.7h0M475 123.2h0M477.4 116.9h0M481.1 123.8h0M483.2 108.8h0M477 134.4h0M482.3 116.8h0M482 97.9h0M479.2 123.3h0M477.2 103.1h0" stroke="#ea97b9" stroke-width="2.4" stroke-linecap="round" fill="none" opacity="0.45"/><path d="M483.1 120.5h0M474.9 132.9h0M477.4 123h0M478.9 123.6h0M478.3 99.9h0M481.9 125.9h0M490.5 104.9h0M482.3 127.7h0M479 112.8h0M480.9 98.3h0M479.6 105h0M481.4 124.4h0M481.5 118.8h0M478.4 100.8h0M473.6 125h0M489.9 108.6h0M480.5 102.2h0" stroke="#ea97b9" stroke-width="3.0" stroke-linecap="round" fill="none" opacity="0.45"/><path d="M482.7 106.1h0M487.3 101.7h0M485.2 123.9h0M489.9 108.1h0M480.7 118.4h0M480.4 131.3h0M486.8 98.1h0M482.1 129.9h0M480.3 118h0M473.6 133.6h0M489.1 100.4h0M481.6 111.8h0M488.2 105.3h0M479.8 97.5h0M485.9 110.6h0M484.9 119.1h0M485.4 121.7h0" stroke="#ea97b9" stroke-width="3.6" stroke-linecap="round" fill="none" opacity="0.45"/><path d="M476.6 111.4h0M487.2 105.3h0M478.2 129.3h0M482.2 131.1h0M474.3 126.1h0M479.4 101.2h0M476.9 135.2h0M480 114.8h0M479.9 114.4h0M482 124.8h0M481.4 111.3h0M483 116.2h0M476.2 113.6h0M490.7 109.4h0M486 129.5h0M483.7 105.3h0M488 113.3h0M484.5 112.3h0M480.6 127.3h0" stroke="#ea97b9" stroke-width="4.2" stroke-linecap="round" fill="none" opacity="0.45"/>
<path d="M392.4 107.8h0M400.6 105.4h0M402 106.8h0M403.6 107.5h0M406.3 113.7h0M408.8 118.1h0M411 119h0M419.2 114.7h0M422 114.5h0M421.4 123.5h0M419.1 128.4h0M420.6 130.6h0M420.1 132.1h0M419 135.7h0M416.5 136.7h0M405.1 137.6h0M403.9 138.1h0M402.1 139.2h0M400.3 139.8h0M397.1 138.6h0M395.2 137.6h0M391.3 135h0M389 132.3h0M387.9 130.6h0M387.6 129.8h0M386.2 123h0M385.9 119.6h0M386.7 117.6h0" stroke="#f3b0b0" stroke-width="3.0" stroke-linecap="round" fill="none"/><path d="M389.6 111.2h0M391.5 109.5h0M394.5 106.3h0M396.9 106.2h0M398.4 105.5h0M405.4 109h0M405.6 111.3h0M407 116.2h0M412.1 117.8h0M414 117.4h0M415.3 115.5h0M416.7 115.1h0M422.9 116.6h0M423.1 118.2h0M422.1 120.2h0M421.6 121.5h0M419 125h0M418.2 126.5h0M418.9 134.3h0M414.6 136.7h0M412.6 137.8h0M409.9 137.8h0M408.1 137.7h0M398.8 139h0M393.8 136.1h0M389.9 133.8h0M386.3 127.5h0M386.4 125.2h0M386.4 120.8h0M388.2 115.6h0M388.8 113.2h0" stroke="#f3b0b0" stroke-width="3.6" stroke-linecap="round" fill="none"/><path d="M389.5 111.1C390.9 109 392.5 107.4 394.3 106.5C396.1 105.6 398.5 105.1 400.4 105.5C402.3 105.9 404.5 107.3 405.5 109.1C406.5 110.9 405.7 114.5 406.6 116.2C407.5 117.9 409 119.5 410.7 119.3C412.4 119.1 414.9 116 416.8 115.2C418.7 114.4 420.8 114.2 421.9 114.7C423 115.2 423.6 116.8 423.4 118.3C423.2 119.8 421.8 122 420.9 123.4C420 124.8 417.9 125.3 417.8 126.5C417.7 127.7 420.2 129 420.4 130.5C420.6 132 420.1 134.5 418.8 135.7C417.5 136.9 414.9 137.4 412.7 137.7C410.5 138 407.6 137.4 405.5 137.7C403.4 138 402.1 139.7 400.4 139.7C398.7 139.7 397 138.6 395.3 137.7C393.6 136.8 391.5 135.7 390 134C388.5 132.3 387.2 129.9 386.5 127.5C385.8 125 385.5 122 386 119.3C386.5 116.6 388.1 113.2 389.5 111.1Z" fill="#f9bdbd"/><path d="M387.6 129.8h0" stroke="#f9bdbd" stroke-width="1.8" stroke-linecap="round" fill="none"/><path d="M389.6 111.2h0M392.4 107.8h0M396.9 106.2h0M398.4 105.5h0M400.6 105.4h0M402 106.8h0M403.6 107.5h0M406.3 113.7h0M408.8 118.1h0M411 119h0M412.1 117.8h0M415.3 115.5h0M416.7 115.1h0M419.2 114.7h0M422 114.5h0M422.9 116.6h0M422.1 120.2h0M421.4 123.5h0M418.2 126.5h0M419.1 128.4h0M420.6 130.6h0M420.1 132.1h0M419 135.7h0M416.5 136.7h0M414.6 136.7h0M409.9 137.8h0M408.1 137.7h0M405.1 137.6h0M403.9 138.1h0M402.1 139.2h0M400.3 139.8h0M397.1 138.6h0M395.2 137.6h0M391.3 135h0M389.9 133.8h0M389 132.3h0M387.9 130.6h0M386.4 125.2h0M386.2 123h0M386.4 120.8h0M385.9 119.6h0M386.7 117.6h0M388.2 115.6h0" stroke="#f9bdbd" stroke-width="2.4" stroke-linecap="round" fill="none"/><path d="M391.5 109.5h0M394.5 106.3h0M405.4 109h0M405.6 111.3h0M407 116.2h0M414 117.4h0M423.1 118.2h0M421.6 121.5h0M419 125h0M418.9 134.3h0M412.6 137.8h0M398.8 139h0M393.8 136.1h0M386.3 127.5h0M388.8 113.2h0" stroke="#f9bdbd" stroke-width="3.0" stroke-linecap="round" fill="none"/><path d="M396.4 121.4h0M392.6 118.5h0M401.6 135.3h0M397 127.9h0M388.2 121.4h0" stroke="#fccfcf" stroke-width="1.8" stroke-linecap="round" fill="none" opacity="0.45"/><path d="M410.2 123.4h0M400.4 120.1h0M399 109.5h0M410.5 132.1h0M391.7 131.9h0M396.9 114.7h0M411.8 129.1h0M394.7 127.4h0M401.6 115.1h0M413 128.3h0M394.6 125.1h0M412.3 133.7h0M400.3 109.2h0M405.5 123.5h0M405.6 126.8h0M400.4 115.3h0M397.6 121.5h0M413.5 119.9h0M394.4 120.6h0M404.3 133.8h0" stroke="#fccfcf" stroke-width="2.4" stroke-linecap="round" fill="none" opacity="0.45"/><path d="M396.8 121.7h0M398.4 112.7h0M410.9 126.9h0M396.2 129h0M402.9 121.8h0M401.7 124.7h0M399.3 135.3h0M401 123.5h0M396.6 130.9h0M400.2 114.5h0M404.9 135.7h0M393.3 130.8h0M413 123.9h0M402.7 135.5h0M390.2 118h0M400.5 131.3h0M396.9 109.7h0M394.5 115.6h0M412.8 126.9h0M398.5 111.3h0M407.8 122.4h0M393.4 114.3h0M405.2 123.7h0M407.9 126.6h0M402 117.5h0" stroke="#fccfcf" stroke-width="3.0" stroke-linecap="round" fill="none" opacity="0.45"/><path d="M415.5 133.6h0M401.9 134.3h0M405.1 124.7h0M406.7 119.2h0M400.5 131.9h0M400 126.2h0M390.8 118.1h0M402.4 132.6h0M390.6 114.6h0M400.8 127.2h0M411.1 128.9h0M406.7 119.3h0M396.1 131h0M403 124.4h0M397.8 111.9h0M405.4 117.2h0M410.8 126.1h0M398.3 116.4h0M396.9 113h0M412.3 132.3h0M410.3 126.2h0" stroke="#fccfcf" stroke-width="3.6" stroke-linecap="round" fill="none" opacity="0.45"/><path d="M404.4 119.8h0M397 112.8h0M390.5 118.8h0M398.1 132.9h0M401 126.3h0M414.1 119.6h0M399.3 132.2h0M414.8 119.9h0M395.3 134.2h0M403.8 130.3h0M411.4 133.3h0M396 123.3h0M397.6 112.5h0M401.5 122.6h0M398.1 120.6h0M402.5 136.9h0M403 113.4h0M397.7 123.8h0M399.5 115.1h0M414.5 127.4h0" stroke="#fccfcf" stroke-width="4.2" stroke-linecap="round" fill="none" opacity="0.45"/>
<path d="M408.3 145.9h0M415.3 142.3h0M419.4 140.6h0M420.3 139.6h0M430.5 137.6h0M434.4 137.8h0M435 139.5h0M437.3 142.5h0M434.7 154.9h0M431.3 157.8h0M429.5 159.3h0M420.6 163.9h0M417.1 160h0M412.3 157.1h0M409.7 153.3h0M409.1 151.2h0" stroke="#4e65ae" stroke-width="3.0" stroke-linecap="round" fill="none"/><path d="M410.2 145h0M412.2 143.7h0M413.9 143.1h0M417.6 141.6h0M422.6 139.1h0M423.8 138.7h0M426.2 138.1h0M428.1 138.1h0M431.8 137.9h0M436.4 141.1h0M438.4 144.6h0M439.5 146.4h0M441 148.6h0M439.9 151h0M437.7 152.6h0M436.6 153.7h0M433 156.5h0M427.6 160.6h0M426.4 160.8h0M424.7 162.1h0M422.7 162.9h0M419.5 162.5h0M417.8 161.3h0M415.3 159.1h0M413.8 158.2h0M410.9 155.2h0M408.9 148.3h0" stroke="#4e65ae" stroke-width="3.6" stroke-linecap="round" fill="none"/><path d="M408.6 145.9C409.4 144.5 411.6 143.8 413.7 142.8C415.8 141.8 418.5 140.5 420.9 139.7C423.3 138.8 425.8 138 428 137.7C430.2 137.4 432.7 136.8 434.2 137.7C435.7 138.5 436.1 140.9 437.2 142.8C438.3 144.7 440.6 147.2 440.8 148.9C441 150.6 439.5 151.8 438.2 153C436.9 154.2 434.8 154.9 433.1 156.1C431.4 157.3 430 158.9 428 160.2C426 161.5 422.8 163.8 420.9 163.8C419 163.8 418.5 161.6 416.8 160.2C415.1 158.8 412 156.6 410.7 155.1C409.4 153.6 409.5 152.5 409.1 151C408.8 149.5 407.8 147.3 408.6 145.9Z" fill="#6279c3"/><path d="M408.3 145.9h0M412.2 143.7h0M415.3 142.3h0M417.6 141.6h0M419.4 140.6h0M420.3 139.6h0M426.2 138.1h0M430.5 137.6h0M434.4 137.8h0M435 139.5h0M436.4 141.1h0M437.3 142.5h0M438.4 144.6h0M439.9 151h0M437.7 152.6h0M436.6 153.7h0M434.7 154.9h0M431.3 157.8h0M429.5 159.3h0M427.6 160.6h0M424.7 162.1h0M420.6 163.9h0M417.1 160h0M412.3 157.1h0M409.7 153.3h0M409.1 151.2h0" stroke="#6279c3" stroke-width="2.4" stroke-linecap="round" fill="none"/><path d="M410.2 145h0M413.9 143.1h0M422.6 139.1h0M423.8 138.7h0M428.1 138.1h0M431.8 137.9h0M439.5 146.4h0M441 148.6h0M433 156.5h0M426.4 160.8h0M422.7 162.9h0M419.5 162.5h0M417.8 161.3h0M415.3 159.1h0M413.8 158.2h0M410.9 155.2h0M408.9 148.3h0" stroke="#6279c3" stroke-width="3.0" stroke-linecap="round" fill="none"/><path d="M433.4 153.9h0M436 150h0M436 150.1h0" stroke="#7f92d2" stroke-width="1.8" stroke-linecap="round" fill="none" opacity="0.45"/><path d="M413.9 153.3h0M416.5 155.1h0M425.3 151.5h0M420.7 154.4h0M430.4 145.6h0M417.9 158.6h0M431.7 154.2h0M414.7 152.3h0M417.9 154.8h0M435.9 149.9h0M418.6 152.5h0M433.6 142h0M412.3 147.2h0" stroke="#7f92d2" stroke-width="2.4" stroke-linecap="round" fill="none" opacity="0.45"/><path d="M432 148.9h0M431.3 154.2h0M428.6 145.7h0M421.7 147.7h0M414.3 150h0M425.2 144.3h0M412.2 151.2h0M411.3 149.2h0M423.2 146.7h0M430.7 147.7h0M413.2 148.7h0M425.4 145.7h0M423.3 156.3h0M423.7 146.2h0M431.1 143.7h0M435.1 142.9h0M431.3 148.9h0M428.3 153.1h0M424.1 142.8h0" stroke="#7f92d2" stroke-width="3.0" stroke-linecap="round" fill="none" opacity="0.45"/><path d="M434 147.7h0M424.7 155.7h0M415.2 151.3h0M421.7 160.5h0M428.9 143.4h0M431.5 142.4h0M415.7 147.6h0M429.8 153.9h0M421.8 157.9h0M434.8 144.4h0M433.9 145.5h0M422.3 147.3h0M426.3 158h0M421.9 148.1h0M426.3 158.9h0M417.8 150.1h0" stroke="#7f92d2" stroke-width="3.6" stroke-linecap="round" fill="none" opacity="0.45"/><path d="M413.6 146.2h0M423.3 158.6h0M425.7 156.3h0M425.7 154.2h0M433.4 145.1h0M422.9 151h0M427.4 156.1h0M431.1 148.6h0M434.1 142.8h0" stroke="#7f92d2" stroke-width="4.2" stroke-linecap="round" fill="none" opacity="0.45"/>
<path d="M447 144.1h0M452 141.3h0M459.5 140.5h0M468.2 144.6h0M472.5 150.6h0M471.8 155.5h0M471.2 157.8h0M470.7 159.6h0M465.9 165.8h0M462.6 167.7h0M460.3 168.1h0M450.3 166.3h0M447.4 163.6h0M444.4 155.9h0M444.3 152.4h0" stroke="#e38d5c" stroke-width="3.0" stroke-linecap="round" fill="none"/><path d="M444.1 147.5h0M445.3 146.3h0M448.1 142.6h0M450.3 142.1h0M453.7 141.4h0M455.4 140.7h0M457.6 140.6h0M461.2 140.5h0M463.8 140.3h0M464.9 141.8h0M466.4 143.7h0M469.8 145.8h0M471.1 147.5h0M471.6 149.2h0M471.9 153.5h0M470 161.3h0M468.3 162.8h0M467.9 164.2h0M464.3 166.6h0M457.9 168.1h0M456.1 167.8h0M454.2 168.3h0M452.4 167.3h0M448.3 165.1h0M446.7 162h0M445.5 160h0M444.7 158.1h0M444.5 153.9h0M443.6 149.7h0" stroke="#e38d5c" stroke-width="3.6" stroke-linecap="round" fill="none"/><path d="M444 147.9C444.6 145.4 446.2 144.1 448.1 142.8C450 141.5 452.7 140.6 455.3 140.3C457.9 140 461.1 139.9 463.5 140.8C465.9 141.7 468.1 144.2 469.6 145.9C471.1 147.6 472.4 149 472.7 151C473 153 472.3 156.1 471.6 158.1C470.9 160.1 470.1 161.6 468.6 163.2C467.1 164.8 464.8 166.9 462.4 167.8C460 168.7 456.7 168.8 454.3 168.4C451.9 168 449.7 167 448.1 165.3C446.5 163.6 445.3 161 444.6 158.1C443.9 155.2 443.4 150.4 444 147.9Z" fill="#f4a272"/><path d="M450.3 166.3h0" stroke="#f4a272" stroke-width="1.8" stroke-linecap="round" fill="none"/><path d="M447 144.1h0M452 141.3h0M453.7 141.4h0M459.5 140.5h0M463.8 140.3h0M466.4 143.7h0M468.2 144.6h0M472.5 150.6h0M471.8 155.5h0M471.2 157.8h0M470.7 159.6h0M470 161.3h0M465.9 165.8h0M462.6 167.7h0M460.3 168.1h0M456.1 167.8h0M454.2 168.3h0M447.4 163.6h0M445.5 160h0M444.7 158.1h0M444.4 155.9h0M444.3 152.4h0M443.6 149.7h0" stroke="#f4a272" stroke-width="2.4" stroke-linecap="round" fill="none"/><path d="M444.1 147.5h0M445.3 146.3h0M448.1 142.6h0M450.3 142.1h0M455.4 140.7h0M457.6 140.6h0M461.2 140.5h0M464.9 141.8h0M469.8 145.8h0M471.1 147.5h0M471.6 149.2h0M471.9 153.5h0M468.3 162.8h0M467.9 164.2h0M464.3 166.6h0M457.9 168.1h0M452.4 167.3h0M448.3 165.1h0M446.7 162h0M444.5 153.9h0" stroke="#f4a272" stroke-width="3.0" stroke-linecap="round" fill="none"/><path d="M450.5 163.6h0M448.8 152.6h0" stroke="#f8b992" stroke-width="1.8" stroke-linecap="round" fill="none" opacity="0.45"/><path d="M452.1 152.2h0M462.2 154.8h0M447.2 149.5h0M459.8 148.2h0M468.4 148.9h0M459 154.2h0M460.3 159.3h0M466.6 146.2h0M453.7 159h0M457.9 161.2h0M460.5 149.5h0M452.9 150.9h0M465.2 150h0M450.4 151.4h0M465.4 160.1h0M463.2 148.8h0M453 151.6h0M448 149h0" stroke="#f8b992" stroke-width="2.4" stroke-linecap="round" fill="none" opacity="0.45"/><path d="M447.9 147.6h0M454 150.4h0M449.6 162h0M465.6 160.2h0M463.1 152h0M457.7 162h0M452.2 151.7h0M449.8 156.8h0M465.3 146h0M450.1 160.8h0M458.5 147.2h0M455.5 154.3h0M450.4 153.9h0M468.4 158.3h0M465.6 155.7h0M452.1 153.8h0" stroke="#f8b992" stroke-width="3.0" stroke-linecap="round" fill="none" opacity="0.45"/><path d="M453.5 161.8h0M466.3 159h0M464 160.6h0M450.4 145h0M454.9 148.9h0M452.1 148.8h0M460.5 159.5h0M456.1 162.2h0M455.2 161.3h0M453 163.1h0M462.5 157.1h0M458.3 153.5h0M447.1 154.3h0M462.9 159.7h0M465 147.5h0" stroke="#f8b992" stroke-width="3.6" stroke-linecap="round" fill="none" opacity="0.45"/><path d="M457.3 160.8h0M457.8 147.4h0M447.9 156.1h0M464.5 149.6h0M447.2 158.4h0M458.5 154.1h0" stroke="#f8b992" stroke-width="4.2" stroke-linecap="round" fill="none" opacity="0.45"/>
<path d="M279.7 89.2h0M275.9 145h0M368.2 167.2h0" stroke="#ef8e8e" stroke-width="1.2" stroke-linecap="round" fill="none"/><path d="M288.5 81h0M323.3 73.4h0M323 72.3h0M371.9 153h0M372.9 153.8h0M373.1 152.3h0M339.6 162.1h0M339.6 162.8h0M365.9 134.5h0M279.4 87.9h0M279.6 87.8h0M276.7 145.2h0M275.8 144.4h0M368.2 167.2h0M367.6 167.2h0M285.5 70.8h0M284.8 71.3h0M286.1 71h0M358.2 56.3h0M358.1 56h0M357.4 57.2h0" stroke="#ef8e8e" stroke-width="1.8" stroke-linecap="round" fill="none"/><path d="M323.5 54.2h0M322.9 56.9h0M288.5 80.9h0M290.5 81.1h0M294.4 84h0M293.3 83.2h0M332.7 79.7h0M323.8 72.5h0M324 71.6h0M346.8 87.2h0M331.6 146.3h0M333.7 143.8h0M331.6 146.4h0M372.9 153.1h0M341.3 161.7h0M280 88.5h0M276.5 144.5h0M368 166.5h0M285.5 71.5h0M357.5 56.5h0" stroke="#ef8e8e" stroke-width="2.4" stroke-linecap="round" fill="none"/><path d="M324.2 54.6h0M293.3 83.2h0M333 84.6h0M330.9 83.5h0M346.8 85.5h0M345.1 87.4h0M290.8 142.5h0M292 142.4h0M340.8 162.5h0M366.5 132.5h0M366.5 135.2h0" stroke="#ef8e8e" stroke-width="3.0" stroke-linecap="round" fill="none"/><path d="M289.5 80.8h0M368.2 105.1h0M368.2 103.8h0M367 103.1h0M355.2 112.2h0M301.9 119.3h0M292.9 140.9h0M377.9 144.9h0M379.9 144.6h0M377.5 142.9h0M366.9 133.8h0M353.7 113.3h0" stroke="#ef8e8e" stroke-width="3.6" stroke-linecap="round" fill="none"/><path d="M293.4 84.5h0M335.4 81.1h0M345.9 86.3h0M355.3 109.6h0M352.7 112h0M300.4 116.1h0M300.4 116.1h0M291.3 141.2h0M332.7 145.3h0M354.9 112h0M351.7 111.9h0" stroke="#ef8e8e" stroke-width="4.2" stroke-linecap="round" fill="none"/><path d="M323 55.5h0M301.4 90h0M300.9 94h0M301.8 94h0M332.2 82.3h0M342.5 60.8h0M366.3 63.3h0M335 80.8h0M363.5 87h0M366.9 104.5h0M378.8 143.6h0" stroke="#ef8e8e" stroke-width="4.8" stroke-linecap="round" fill="none"/><path d="M343.5 60.3h0M343.4 56.2h0M366.3 63.5h0M363.7 66.2h0M361 87h0M360.7 86.8h0M376.8 90.9h0M301 117.8h0M353.3 111.6h0" stroke="#ef8e8e" stroke-width="5.4" stroke-linecap="round" fill="none"/><path d="M301.3 92h0M335.1 80.9h0M374.1 90.2h0M354.1 110.9h0" stroke="#ef8e8e" stroke-width="6.0" stroke-linecap="round" fill="none"/><path d="M372.5 93.3h0" stroke="#ef8e8e" stroke-width="6.6" stroke-linecap="round" fill="none"/><path d="M342.2 58.3h0" stroke="#ef8e8e" stroke-width="7.2" stroke-linecap="round" fill="none"/><path d="M363.8 63.9h0M333.6 82.8h0M362.2 84.8h0" stroke="#ef8e8e" stroke-width="7.8" stroke-linecap="round" fill="none"/><path d="M375 93.1h0" stroke="#ef8e8e" stroke-width="8.4" stroke-linecap="round" fill="none"/>
<path d="M317.7 104.4h0M318.7 103.6h0" stroke="#e78484" stroke-width="5.4" stroke-linecap="round" fill="none"/><path d="M316.5 104.7h0M310.4 134h0" stroke="#e78484" stroke-width="6.0" stroke-linecap="round" fill="none"/><path d="M305.5 134.9h0M310.2 132.8h0" stroke="#e78484" stroke-width="6.6" stroke-linecap="round" fill="none"/><path d="M313.3 101.1h0" stroke="#e78484" stroke-width="7.2" stroke-linecap="round" fill="none"/><path d="M316.1 102.2h0M307.9 134.1h0" stroke="#e78484" stroke-width="8.4" stroke-linecap="round" fill="none"/>
<path d="M336.9 119.8h0" stroke="#d97a85" stroke-width="4.8" stroke-linecap="round" fill="none"/><path d="M334.1 116.7h0" stroke="#d97a85" stroke-width="5.4" stroke-linecap="round" fill="none"/><path d="M335.1 113.8h0" stroke="#d97a85" stroke-width="6.0" stroke-linecap="round" fill="none"/><path d="M336.1 116.7h0" stroke="#d97a85" stroke-width="7.2" stroke-linecap="round" fill="none"/>
<path d="M301.1 60.5h0M305.5 58.1h0M312.1 60.2h0M313.2 61.4h0M314.8 62.8h0M320 67.4h0M322.3 71.4h0M323.9 74.9h0M326.1 78.5h0M327.6 80.2h0M327.9 84.2h0M325.7 87.2h0M324 88.4h0M322.5 88.8h0M321.2 90h0M319.2 91.7h0M318.2 92.3h0M317.2 94.3h0M315.1 93.5h0M312 89.6h0M306.1 86.9h0M296.3 76.6h0M294.5 75.9h0M293.8 73.7h0M294.7 71.1h0M298.1 67.5h0" stroke="#7a53a0" stroke-width="3.0" stroke-linecap="round" fill="none"/><path d="M303.3 59.1h0M308.6 58.8h0M311.4 58.4h0M316.9 63.8h0M317.8 65.6h0M321.4 69.6h0M323.4 72.7h0M325.4 77h0M328.3 81.9h0M327.1 86.8h0M312.9 92.7h0M310.3 88.8h0M307.9 88.2h0M304.2 85.9h0M302.5 84.7h0M300.8 83.7h0M300 81.3h0M299.7 79.1h0M298 77.6h0M293.1 72.5h0M296.4 69.5h0M299.8 65.5h0M300.9 62.8h0" stroke="#7a53a0" stroke-width="3.6" stroke-linecap="round" fill="none"/><path d="M301.3 60.3C302.4 59.1 304.4 58.8 306 58.5C307.6 58.2 309.8 57.8 311 58.3C312.2 58.8 311.8 60.2 313 61.4C314.2 62.6 316.7 64.1 318.1 65.4C319.5 66.8 320 67.6 321.2 69.5C322.4 71.4 324.1 74.7 325.3 76.7C326.5 78.8 328.1 80.1 328.4 81.8C328.7 83.5 328.3 85.7 327.3 86.9C326.3 88.1 323.9 87.7 322.2 88.9C320.5 90.1 318.6 93.3 317.1 94C315.6 94.7 313.9 93.7 313 93C312.1 92.3 313.2 91 312 90C310.8 89 307.8 87.9 305.9 86.9C304 85.9 301.8 85.2 300.8 83.8C299.8 82.4 300.7 80 299.7 78.7C298.7 77.4 295.7 76.8 294.6 75.7C293.5 74.6 292.8 73.1 293.1 72.1C293.5 71.1 295.6 70.6 296.7 69.5C297.8 68.4 298.9 66.9 299.7 65.4C300.5 63.9 300.2 61.4 301.3 60.3Z" fill="#9068b3"/><path d="M294.5 75.9h0" stroke="#9068b3" stroke-width="1.8" stroke-linecap="round" fill="none"/><path d="M301.1 60.5h0M305.5 58.1h0M311.4 58.4h0M312.1 60.2h0M313.2 61.4h0M314.8 62.8h0M320 67.4h0M322.3 71.4h0M323.9 74.9h0M326.1 78.5h0M327.6 80.2h0M327.9 84.2h0M325.7 87.2h0M324 88.4h0M322.5 88.8h0M321.2 90h0M319.2 91.7h0M318.2 92.3h0M317.2 94.3h0M315.1 93.5h0M312.9 92.7h0M312 89.6h0M307.9 88.2h0M306.1 86.9h0M304.2 85.9h0M298 77.6h0M296.3 76.6h0M293.8 73.7h0M294.7 71.1h0M296.4 69.5h0M298.1 67.5h0M299.8 65.5h0" stroke="#9068b3" stroke-width="2.4" stroke-linecap="round" fill="none"/><path d="M303.3 59.1h0M308.6 58.8h0M316.9 63.8h0M317.8 65.6h0M321.4 69.6h0M323.4 72.7h0M325.4 77h0M328.3 81.9h0M327.1 86.8h0M310.3 88.8h0M302.5 84.7h0M300.8 83.7h0M300 81.3h0M299.7 79.1h0M293.1 72.5h0M300.9 62.8h0" stroke="#9068b3" stroke-width="3.0" stroke-linecap="round" fill="none"/><path d="M313.8 84.5h0M317 76.3h0M301.9 66.6h0" stroke="#a886c8" stroke-width="1.8" stroke-linecap="round" fill="none" opacity="0.45"/><path d="M319.4 74.3h0M312.5 63.6h0M307 71.2h0M305.3 75.5h0M309 68.4h0M299.3 69.7h0M301.7 72.7h0M303.5 73.6h0M299.1 71.9h0M306.6 78.6h0M320.2 71.4h0M322.7 81.5h0M319.8 74.9h0M322.1 86.4h0M317.5 82.7h0M314.2 70.4h0M311.4 79.4h0M318.4 87.1h0M303.6 80.2h0M299.3 69.9h0M318.2 89.8h0M319.2 84.4h0" stroke="#a886c8" stroke-width="2.4" stroke-linecap="round" fill="none" opacity="0.45"/><path d="M304.7 82.2h0M299.3 75.7h0M318.3 84.7h0M322.2 78.7h0M297.3 71.3h0M306.7 84.6h0M300.8 73.8h0M323.9 80.1h0M314.8 68.7h0M315.2 89h0M318.5 84.4h0M302.7 75.6h0M300.9 72h0M325.4 82.6h0M319.4 89.2h0M310.6 71.4h0M313.3 76h0M313.2 75.2h0M315 89.1h0M310.1 64.9h0M304.1 78h0M317.2 80.4h0M312 66.9h0M313.8 71.5h0M306.1 64.4h0M317.6 68.2h0M314.9 70.6h0M304.6 82h0" stroke="#a886c8" stroke-width="3.0" stroke-linecap="round" fill="none" opacity="0.45"/><path d="M302.6 63.9h0M317.8 71h0M325.8 84.5h0M311.1 64.2h0M301.7 70.2h0M317.1 85.7h0M306.1 68.5h0M316.8 84.8h0M318.1 86.3h0M297.3 71.5h0M315.4 68.3h0M300.6 75.3h0M305.3 79h0M296.1 72.6h0M316.8 73.8h0" stroke="#a886c8" stroke-width="3.6" stroke-linecap="round" fill="none" opacity="0.45"/><path d="M302.6 75.7h0M313.8 81.4h0M321.9 76.8h0M318.5 76.7h0M307.3 79.1h0M319.2 87.3h0M321.4 75.7h0M309.6 78.1h0M307 61.7h0M307.8 64.7h0M322.4 79.1h0M306.9 77.3h0M318.8 89.3h0M298.3 70.5h0M310.1 73.9h0M308.1 63.6h0M320.3 83.2h0M319.8 78.4h0M306.5 61.4h0M303.2 79.4h0M317.2 69.2h0M300.8 67.5h0" stroke="#a886c8" stroke-width="4.2" stroke-linecap="round" fill="none" opacity="0.45"/>
<path d="M334.2 67.5h0M336.8 65h0M340.8 61.8h0M344.4 59.8h0M350.5 60.2h0M352.8 61h0M356.2 62.3h0M357.9 63.9h0M359.3 64.2h0M361.3 65.3h0M361.3 68.2h0M361.8 70.6h0M362.1 72.4h0M360.1 79h0M358.3 80.1h0M356.3 81.5h0M350.4 83.9h0M346.6 83.4h0M335.1 75.4h0M333.3 71.9h0" stroke="#8fcac2" stroke-width="3.0" stroke-linecap="round" fill="none"/><path d="M335.3 66.4h0M337.9 64h0M339.5 62.5h0M342.8 61h0M346.5 59.7h0M348.7 60h0M354.7 61.6h0M361.7 74.1h0M361.7 75.7h0M361.9 77.7h0M354.1 83.1h0M352.4 84.5h0M348.5 83.1h0M344.6 82.4h0M342.5 81.4h0M340.4 80.8h0M338.8 79.5h0M337.9 78.4h0M336.5 77.6h0M334.1 73.9h0M333.6 69.4h0" stroke="#8fcac2" stroke-width="3.6" stroke-linecap="round" fill="none"/><path d="M334.1 67.5C335.1 66 337.1 63.8 339.2 62.4C341.2 61 343.8 59.5 346.4 59.3C349 59.1 352.2 60.3 354.6 61.3C357 62.3 359.4 63.9 360.7 65.4C362 66.9 362 68.5 362.2 70.5C362.4 72.5 362.6 75.8 361.7 77.7C360.8 79.6 358.1 80.7 356.6 81.8C355.1 82.9 354.2 84.1 352.5 84.3C350.8 84.5 348.6 83.6 346.4 82.8C344.2 82 341.1 80.9 339.2 79.7C337.3 78.5 336.2 77.1 335.2 75.7C334.2 74.3 333.3 73 333.1 71.6C332.9 70.2 333.1 69 334.1 67.5Z" fill="#a8ddd5"/><path d="M334.2 67.5h0M336.8 65h0M340.8 61.8h0M344.4 59.8h0M348.7 60h0M350.5 60.2h0M352.8 61h0M354.7 61.6h0M356.2 62.3h0M357.9 63.9h0M359.3 64.2h0M361.3 65.3h0M361.3 68.2h0M361.8 70.6h0M362.1 72.4h0M361.7 74.1h0M360.1 79h0M358.3 80.1h0M356.3 81.5h0M354.1 83.1h0M352.4 84.5h0M350.4 83.9h0M346.6 83.4h0M342.5 81.4h0M335.1 75.4h0M334.1 73.9h0M333.3 71.9h0M333.6 69.4h0" stroke="#a8ddd5" stroke-width="2.4" stroke-linecap="round" fill="none"/><path d="M335.3 66.4h0M337.9 64h0M339.5 62.5h0M342.8 61h0M346.5 59.7h0M361.7 75.7h0M361.9 77.7h0M348.5 83.1h0M344.6 82.4h0M340.4 80.8h0M338.8 79.5h0M337.9 78.4h0M336.5 77.6h0" stroke="#a8ddd5" stroke-width="3.0" stroke-linecap="round" fill="none"/><path d="M355.5 67h0M353.9 70.2h0M345.1 70.5h0M349.6 81h0M347.5 68h0M349.1 68.6h0M351.4 81.9h0M355.2 73.4h0M354.9 71.3h0M348.5 79.2h0M345.5 76.8h0M345.3 75h0M351.8 75.6h0M352.1 65h0M348.8 75.2h0M352.7 63.6h0M347 64h0" stroke="#c3ebe5" stroke-width="2.4" stroke-linecap="round" fill="none" opacity="0.45"/><path d="M357.5 66.1h0M345.5 65.2h0M343.2 68.7h0M359.7 71.8h0M339.3 71.1h0M349.6 63.9h0M348.3 70.2h0M350.7 63.6h0M358.4 74.3h0M347.8 68h0M346.5 72.1h0M343.9 62.6h0M355.7 73.9h0M338.7 68.6h0M338.6 69.6h0M348.6 80.1h0" stroke="#c3ebe5" stroke-width="3.0" stroke-linecap="round" fill="none" opacity="0.45"/><path d="M351.5 65.3h0M352.3 75.2h0M345.4 79.6h0M345.9 62.3h0M354.9 74.1h0M356 72h0M344.6 74.3h0M341.9 69.4h0M353.8 67.2h0M347.7 65.3h0M358.1 77.9h0" stroke="#c3ebe5" stroke-width="3.6" stroke-linecap="round" fill="none" opacity="0.45"/><path d="M351.8 76.5h0M355.5 64.5h0M357.4 72.9h0M350.6 76.3h0M340.9 64.2h0M344 74.1h0M342.6 72.9h0" stroke="#c3ebe5" stroke-width="4.2" stroke-linecap="round" fill="none" opacity="0.45"/>
<path d="M278.4 93.2h0M281.9 93.1h0M288.4 92.6h0M290.7 92.4h0M292.8 92.6h0M299 94.5h0M301.7 96.7h0M303.1 100.9h0M304.1 103.5h0M297.6 109.6h0M296.1 109.8h0M287.8 107.5h0M286 106.5h0M284.9 105.4h0M283.6 104.5h0M281.7 103h0M280 102.2h0M278.6 101.2h0M273.9 97.7h0M272.5 96.3h0" stroke="#d9567f" stroke-width="3.0" stroke-linecap="round" fill="none"/><path d="M271 95.3h0M273 94.6h0M274.4 94.2h0M276.9 93.4h0M280.2 93h0M284.5 92.5h0M286 92.7h0M294.2 92.3h0M296.1 93h0M297.6 92.8h0M300.3 95.5h0M302.7 99.1h0M303.4 105.4h0M302.6 107.3h0M300.7 108h0M299 108.8h0M293.2 109.8h0M291.4 109h0M289.8 109h0M277.5 100h0M275.8 99.1h0" stroke="#d9567f" stroke-width="3.6" stroke-linecap="round" fill="none"/><path d="M271.1 95.1C271.6 93.9 277.1 93.5 280.3 93C283.5 92.5 287.6 92 290.5 92C293.4 92 295.8 92.2 297.7 93C299.6 93.8 300.8 95.4 301.8 97.1C302.8 98.8 303.6 101.5 303.8 103.2C304 104.9 304.2 106.2 302.8 107.3C301.4 108.4 297.9 109.6 295.7 109.9C293.5 110.2 291.6 109.8 289.5 108.9C287.4 108 285.4 105.8 283.4 104.3C281.4 102.8 279.4 101.7 277.3 100.2C275.2 98.7 270.6 96.3 271.1 95.1Z" fill="#ee6d95"/><path d="M271 95.3h0M273 94.6h0M276.9 93.4h0M278.4 93.2h0M281.9 93.1h0M284.5 92.5h0M286 92.7h0M288.4 92.6h0M290.7 92.4h0M292.8 92.6h0M294.2 92.3h0M296.1 93h0M297.6 92.8h0M299 94.5h0M300.3 95.5h0M301.7 96.7h0M303.1 100.9h0M304.1 103.5h0M303.4 105.4h0M297.6 109.6h0M296.1 109.8h0M293.2 109.8h0M287.8 107.5h0M286 106.5h0M284.9 105.4h0M283.6 104.5h0M281.7 103h0M280 102.2h0M278.6 101.2h0M273.9 97.7h0M272.5 96.3h0" stroke="#ee6d95" stroke-width="2.4" stroke-linecap="round" fill="none"/><path d="M274.4 94.2h0M280.2 93h0M302.7 99.1h0M302.6 107.3h0M300.7 108h0M299 108.8h0M291.4 109h0M289.8 109h0M277.5 100h0M275.8 99.1h0" stroke="#ee6d95" stroke-width="3.0" stroke-linecap="round" fill="none"/><path d="M291.1 95.3h0M290.8 101.2h0M298.4 103.1h0" stroke="#f48db0" stroke-width="1.8" stroke-linecap="round" fill="none" opacity="0.45"/><path d="M293.3 101.6h0M282.4 97.8h0M291 95.7h0M281.4 96.5h0M299.3 100.3h0M287.3 102.2h0M294.2 98.2h0M295.3 100.8h0M286.5 94.9h0M289.8 99.2h0M298.4 96.6h0M290.1 106.9h0" stroke="#f48db0" stroke-width="2.4" stroke-linecap="round" fill="none" opacity="0.45"/><path d="M299 100.5h0M289.7 97.8h0M290.4 96.4h0M294.8 97h0M286.6 97.2h0M286.1 97.1h0M288.9 100.7h0M293.3 95.2h0M286.1 102.6h0M289.8 99.5h0M296.4 101.8h0M286.2 103.1h0" stroke="#f48db0" stroke-width="3.0" stroke-linecap="round" fill="none" opacity="0.45"/><path d="M301.2 103.5h0M279.2 95.7h0M290.3 106.4h0M298.5 103.8h0M294.3 107.4h0M292.9 106.9h0" stroke="#f48db0" stroke-width="3.6" stroke-linecap="round" fill="none" opacity="0.45"/><path d="M296.1 104.4h0M292.3 98.8h0M291.4 101.1h0M297.3 95.3h0M299.6 100h0M298.7 98h0M277.2 97.6h0M289.9 104.9h0" stroke="#f48db0" stroke-width="4.2" stroke-linecap="round" fill="none" opacity="0.45"/>
<path d="M337.2 98h0M338.3 97.2h0M345.2 93h0M349.3 92.2h0M352.8 91.1h0M354.8 91.5h0M356.1 91.4h0M358.6 93.3h0M360 93.8h0M360.7 97.3h0M359.2 98.7h0M356.9 100.4h0M353.7 102.3h0M351.2 104.5h0M349.5 105.7h0M348.2 107.7h0M347.9 109.2h0M342.2 113.1h0M339.5 112.1h0M336.3 109.7h0M335.6 107.2h0M335 103.4h0" stroke="#c55272" stroke-width="3.0" stroke-linecap="round" fill="none"/><path d="M334.9 99.1h0M340 95.8h0M341.6 94h0M343.4 93.1h0M347.3 92.3h0M350.9 90.9h0M354.7 100.9h0M352.4 103.1h0M345.6 111h0M343.6 111.6h0M337.2 111.4h0M334.8 105.5h0M335.2 101.5h0" stroke="#c55272" stroke-width="3.6" stroke-linecap="round" fill="none"/><path d="M335.2 99.2C336.6 97.2 340.1 94.4 343.3 93C346.5 91.6 351.8 90.8 354.6 91C357.4 91.2 359.2 93 360.2 94C361.2 95 361.3 96.1 360.7 97.1C360.1 98.1 358.3 99 356.6 100.2C354.9 101.4 352 102.8 350.5 104.3C349 105.8 348.8 108 347.4 109.4C346 110.9 344 112.7 342.3 113C340.6 113.3 338.5 112.7 337.2 111.4C335.9 110.1 334.9 107.3 334.6 105.3C334.3 103.3 333.8 101.2 335.2 99.2Z" fill="#dc6788"/><path d="M349.5 105.7h0" stroke="#dc6788" stroke-width="1.8" stroke-linecap="round" fill="none"/><path d="M337.2 98h0M338.3 97.2h0M340 95.8h0M341.6 94h0M345.2 93h0M349.3 92.2h0M352.8 91.1h0M354.8 91.5h0M356.1 91.4h0M358.6 93.3h0M360 93.8h0M360.7 97.3h0M359.2 98.7h0M356.9 100.4h0M354.7 100.9h0M353.7 102.3h0M351.2 104.5h0M348.2 107.7h0M347.9 109.2h0M343.6 111.6h0M342.2 113.1h0M339.5 112.1h0M337.2 111.4h0M336.3 109.7h0M335.6 107.2h0M334.8 105.5h0M335 103.4h0" stroke="#dc6788" stroke-width="2.4" stroke-linecap="round" fill="none"/><path d="M334.9 99.1h0M343.4 93.1h0M347.3 92.3h0M350.9 90.9h0M352.4 103.1h0M345.6 111h0M335.2 101.5h0" stroke="#dc6788" stroke-width="3.0" stroke-linecap="round" fill="none"/><path d="M356.1 95.9h0M345.9 100.6h0" stroke="#e88aa5" stroke-width="1.8" stroke-linecap="round" fill="none" opacity="0.45"/><path d="M344.3 99.5h0M340.8 101.8h0M348 98h0M346.8 99.5h0M342.9 101.4h0M356.2 96.4h0M340.4 106.2h0M343.2 95.6h0M343.8 105.8h0M342.4 108.1h0" stroke="#e88aa5" stroke-width="2.4" stroke-linecap="round" fill="none" opacity="0.45"/><path d="M341.5 100.6h0M344.9 107.2h0M346.1 104h0M346.1 106.6h0M339.8 106.2h0M353.3 96.5h0M341 99.7h0M350.7 101.1h0M345.2 97.9h0M345.1 104.7h0M351.8 98.9h0M342.9 103.2h0M342.7 104.5h0" stroke="#e88aa5" stroke-width="3.0" stroke-linecap="round" fill="none" opacity="0.45"/><path d="M348.4 95.6h0M349.8 99.8h0M343 98.3h0M341.6 108.4h0M343 102.8h0M343.6 96.1h0M343.9 96.6h0M338.8 103h0M347.9 100.7h0M349 95h0" stroke="#e88aa5" stroke-width="3.6" stroke-linecap="round" fill="none" opacity="0.45"/><path d="M342.7 110.4h0M343.2 98.4h0M342 97.9h0M346.4 96.1h0M349.6 96.1h0M353.4 93.4h0" stroke="#e88aa5" stroke-width="4.2" stroke-linecap="round" fill="none" opacity="0.45"/>
<path d="M337 97C337.9 96 341 95.3 342 96C343 96.7 343.5 99.6 343 101C342.5 102.4 340.1 104.3 339 104.5C337.9 104.7 336.8 103.2 336.5 102C336.2 100.8 336.1 98 337 97Z" fill="#cf4a6a" opacity="0.7"/>
<path d="M272.2 111.4h0M281.2 111.9h0M282.7 113.3h0M283.6 115.2h0M284.2 117.1h0M285.7 119.7h0M286.3 121.2h0M288 124.9h0M288.5 126.4h0M289.6 127.9h0M290.3 130.2h0M291.2 134.1h0M290.7 135.7h0M281.9 138.1h0M278.5 134h0M276 129h0M275.4 127.2h0M273.4 123.9h0M272.1 120.2h0M271.5 118.6h0" stroke="#e0895a" stroke-width="3.0" stroke-linecap="round" fill="none"/><path d="M274 110.7h0M275.9 110.1h0M278.6 109.6h0M279.7 110.8h0M287.1 122.9h0M291.3 131.4h0M290.8 137.7h0M288.6 138.4h0M286.4 139.2h0M284.1 138.3h0M280.1 135.9h0M277.1 132.9h0M276.6 130.8h0M274.1 125.7h0M273.3 121.6h0M271.1 116.7h0M271.8 114.7h0M272.3 112.9h0" stroke="#e0895a" stroke-width="3.6" stroke-linecap="round" fill="none"/><path d="M272.2 111.1C273.3 109.6 276.6 109.2 278.3 109.6C280 109.9 281.2 111.6 282.4 113.2C283.6 114.8 284.4 117.1 285.4 119.3C286.4 121.5 287.5 124.5 288.5 126.5C289.5 128.6 291.2 129.7 291.6 131.6C292 133.5 292 136.4 291.1 137.7C290.2 139 288.1 139.2 286.5 139.2C284.9 139.2 282.9 138.8 281.4 137.7C279.9 136.6 278.5 134.6 277.3 132.6C276.1 130.6 275.1 127.8 274.2 125.4C273.2 123 271.9 120.7 271.6 118.3C271.3 115.9 271.1 112.5 272.2 111.1Z" fill="#f4a06e"/><path d="M272.2 111.4h0M274 110.7h0M281.2 111.9h0M282.7 113.3h0M283.6 115.2h0M284.2 117.1h0M285.7 119.7h0M286.3 121.2h0M288 124.9h0M288.5 126.4h0M289.6 127.9h0M290.3 130.2h0M291.3 131.4h0M291.2 134.1h0M290.7 135.7h0M290.8 137.7h0M286.4 139.2h0M281.9 138.1h0M278.5 134h0M277.1 132.9h0M276.6 130.8h0M276 129h0M275.4 127.2h0M273.4 123.9h0M272.1 120.2h0M271.5 118.6h0M271.8 114.7h0" stroke="#f4a06e" stroke-width="2.4" stroke-linecap="round" fill="none"/><path d="M275.9 110.1h0M278.6 109.6h0M279.7 110.8h0M287.1 122.9h0M288.6 138.4h0M284.1 138.3h0M280.1 135.9h0M274.1 125.7h0M273.3 121.6h0M271.1 116.7h0M272.3 112.9h0" stroke="#f4a06e" stroke-width="3.0" stroke-linecap="round" fill="none"/><path d="M280.3 115.9h0M276.6 117.8h0M288.3 133.2h0M285.6 133.8h0" stroke="#f8b991" stroke-width="1.8" stroke-linecap="round" fill="none" opacity="0.45"/><path d="M287.7 135.3h0M288.5 133.8h0M281.8 126.5h0M286.6 130.5h0M275.3 116.8h0M280.5 126.7h0M276.7 117.4h0M284.5 136.4h0M280.9 122.8h0M288.2 133.1h0M283.3 123.8h0M288.9 134.4h0M278.8 119.9h0M287.3 131.7h0" stroke="#f8b991" stroke-width="2.4" stroke-linecap="round" fill="none" opacity="0.45"/><path d="M278.8 118.5h0M277.6 126.2h0M284.1 130.9h0M281 117.2h0M287 131.6h0M279.7 123.1h0M280.2 127.6h0M282.2 123.7h0M280.9 126.8h0" stroke="#f8b991" stroke-width="3.0" stroke-linecap="round" fill="none" opacity="0.45"/><path d="M276.3 117.2h0M280.7 120.3h0M282.7 128.8h0M285.8 125.2h0M274.3 119h0M278.2 117.2h0M282.6 128.8h0M281.3 118.5h0" stroke="#f8b991" stroke-width="3.6" stroke-linecap="round" fill="none" opacity="0.45"/><path d="M280.6 122.7h0M286.9 131.2h0M280.8 126.8h0M278.2 112.7h0M281.7 119.6h0M282.4 121.3h0M278.6 116.6h0" stroke="#f8b991" stroke-width="4.2" stroke-linecap="round" fill="none" opacity="0.45"/>
<path d="M309.2 116.4h0M315.2 112.1h0M317.9 110.2h0M320 109.9h0M322 110.4h0M326.3 111.4h0M328.5 112.3h0M329.7 113.3h0M331.5 113.6h0M334.7 120.2h0M334.8 121.8h0M328.3 124h0M326.4 124.1h0M328 132.9h0M322.4 132.7h0M314.8 130.6h0M312.7 128.6h0M309.5 125.8h0M307.6 119h0" stroke="#7db05c" stroke-width="3.0" stroke-linecap="round" fill="none"/><path d="M308.2 117.3h0M310.3 114.8h0M311.9 113.7h0M312.9 112.2h0M316.1 110.7h0M324.2 110.7h0M332.9 115.4h0M334.7 116.5h0M334.8 117.7h0M334.7 122.9h0M332.4 124h0M330.1 124.5h0M324.1 123.5h0M326.5 126.2h0M328.1 127.1h0M329.2 128.1h0M331 128.3h0M330.4 130.6h0M330.5 132.6h0M326.7 133.2h0M324.3 133.2h0M321 132.6h0M318.7 132h0M317.1 131.7h0M314.1 129.2h0M310.7 127.6h0M308.1 123.2h0M307.7 121.6h0" stroke="#7db05c" stroke-width="3.6" stroke-linecap="round" fill="none"/><path d="M307.9 117.3C308.8 115.4 310.9 113.5 313 112.2C315.1 110.9 317.6 109.6 320.2 109.6C322.8 109.6 326 111.1 328.4 112.2C330.8 113.3 333.4 114.3 334.5 116.2C335.6 118.1 335.7 122 335 123.4C334.3 124.8 332.2 124.3 330.4 124.4C328.6 124.5 325 123.6 324.3 123.9C323.6 124.2 325.1 125.7 326.3 126.5C327.5 127.3 330.7 127.5 331.4 128.5C332.1 129.5 331.6 131.8 330.4 132.6C329.2 133.4 326.5 133.8 324.3 133.6C322.1 133.4 319.3 132.6 317.1 131.6C314.9 130.6 312.5 128.9 311 127.5C309.5 126.1 308.4 125.1 307.9 123.4C307.4 121.7 307 119.2 307.9 117.3Z" fill="#94c472"/><path d="M317.9 110.2h0M328.3 124h0" stroke="#94c472" stroke-width="1.8" stroke-linecap="round" fill="none"/><path d="M308.2 117.3h0M309.2 116.4h0M311.9 113.7h0M312.9 112.2h0M315.2 112.1h0M316.1 110.7h0M320 109.9h0M322 110.4h0M324.2 110.7h0M326.3 111.4h0M328.5 112.3h0M329.7 113.3h0M331.5 113.6h0M334.7 120.2h0M334.8 121.8h0M334.7 122.9h0M332.4 124h0M330.1 124.5h0M326.4 124.1h0M326.5 126.2h0M328.1 127.1h0M329.2 128.1h0M331 128.3h0M328 132.9h0M326.7 133.2h0M322.4 132.7h0M321 132.6h0M317.1 131.7h0M314.8 130.6h0M314.1 129.2h0M312.7 128.6h0M309.5 125.8h0M307.6 119h0" stroke="#94c472" stroke-width="2.4" stroke-linecap="round" fill="none"/><path d="M310.3 114.8h0M332.9 115.4h0M334.7 116.5h0M334.8 117.7h0M324.1 123.5h0M330.4 130.6h0M330.5 132.6h0M324.3 133.2h0M318.7 132h0M310.7 127.6h0M308.1 123.2h0M307.7 121.6h0" stroke="#94c472" stroke-width="3.0" stroke-linecap="round" fill="none"/><path d="M315.1 124.6h0" stroke="#aed78f" stroke-width="1.8" stroke-linecap="round" fill="none" opacity="0.45"/><path d="M310.4 122.5h0M313.4 126.4h0M322.9 116.2h0M318 129.3h0M315.1 115.3h0M322.5 128.1h0M310.6 118.8h0M313.4 124.5h0M325.5 113.6h0M319 127.6h0M323.9 118.7h0M324.1 115h0M318.2 120.7h0" stroke="#aed78f" stroke-width="2.4" stroke-linecap="round" fill="none" opacity="0.45"/><path d="M321.5 118.3h0M314.2 114.2h0M325.5 117.7h0M322.7 121.1h0M314.4 122.7h0M324.3 128.1h0M325.4 127.3h0M316.2 125.9h0M319.8 117.1h0M317 129.1h0M318.8 128.6h0" stroke="#aed78f" stroke-width="3.0" stroke-linecap="round" fill="none" opacity="0.45"/><path d="M319.8 121.7h0M323.9 121.2h0M320.3 114.8h0M327.8 114.5h0M323.5 114.2h0M312.1 123.1h0M324.2 120.7h0M313.8 127.2h0M314 127.2h0M323 122.8h0M320.4 118.5h0M319.8 114.1h0" stroke="#aed78f" stroke-width="3.6" stroke-linecap="round" fill="none" opacity="0.45"/><path d="M314.3 118h0M326.6 120.8h0M310.5 117.4h0M313.4 120.3h0M328 121.6h0M322.6 117h0M320.7 116.4h0M317.3 128.3h0M317.4 121.9h0" stroke="#aed78f" stroke-width="4.2" stroke-linecap="round" fill="none" opacity="0.45"/>
<path d="M354.8 114.4h0M356.8 113.4h0M360.7 111.2h0M367.2 108.4h0M368.9 107h0M373.1 107h0M375.3 109h0M376.5 110.8h0M377.7 115.5h0M378.4 117.1h0M378.4 119h0M378.8 123.3h0M377.6 130.6h0M369 131.7h0M367.1 130h0M364.6 129.7h0M360.4 127h0M362.7 125.3h0M364.1 125h0M366 123.7h0M362.7 116.4h0M360.3 116.1h0" stroke="#b06f08" stroke-width="3.0" stroke-linecap="round" fill="none"/><path d="M358.8 111.5h0M362.7 110.8h0M364.2 110h0M371.2 107.3h0M377 113.5h0M378.6 121.3h0M379.1 126.1h0M379.2 128.6h0M376.1 132.9h0M373.8 132.7h0M371.3 133.2h0M363.2 128.4h0M366 121.2h0M365.6 119.6h0M364 118h0M357.8 116.3h0" stroke="#b06f08" stroke-width="3.6" stroke-linecap="round" fill="none"/><path d="M354.6 114.7C354.8 113.9 357 112.4 358.7 111.6C360.4 110.8 363.1 110.9 364.8 110.1C366.5 109.3 367.5 107.5 368.9 107C370.3 106.5 371.8 106.3 373 107C374.2 107.7 375.1 109.4 376 111.1C376.9 112.8 377.6 115.2 378.1 117.3C378.6 119.3 378.9 121.5 379.1 123.4C379.3 125.3 379.6 127 379.1 128.5C378.6 130 377.4 131.8 376 132.6C374.6 133.4 372.4 133.4 370.9 133.1C369.4 132.8 368.2 131.3 366.8 130.5C365.4 129.7 363.9 129.1 362.7 128.5C361.5 127.9 359.7 127.5 359.7 127C359.7 126.5 361.7 126 362.7 125.4C363.7 124.8 365.3 124.4 365.8 123.4C366.3 122.4 366.3 120.5 365.8 119.3C365.3 118.1 364.1 116.7 362.7 116.2C361.3 115.7 359 116.5 357.6 116.2C356.2 116 354.4 115.5 354.6 114.7Z" fill="#cc8611"/><path d="M354.8 114.4h0M356.8 113.4h0M360.7 111.2h0M362.7 110.8h0M367.2 108.4h0M368.9 107h0M373.1 107h0M375.3 109h0M376.5 110.8h0M377 113.5h0M377.7 115.5h0M378.4 117.1h0M378.4 119h0M378.8 123.3h0M379.1 126.1h0M377.6 130.6h0M371.3 133.2h0M369 131.7h0M367.1 130h0M364.6 129.7h0M360.4 127h0M362.7 125.3h0M364.1 125h0M366 123.7h0M366 121.2h0M364 118h0M362.7 116.4h0M360.3 116.1h0M357.8 116.3h0" stroke="#cc8611" stroke-width="2.4" stroke-linecap="round" fill="none"/><path d="M358.8 111.5h0M364.2 110h0M371.2 107.3h0M378.6 121.3h0M379.2 128.6h0M376.1 132.9h0M373.8 132.7h0M363.2 128.4h0M365.6 119.6h0" stroke="#cc8611" stroke-width="3.0" stroke-linecap="round" fill="none"/><path d="M358.4 114h0M373.1 111.4h0M368.2 126h0M369.2 111.2h0M372.6 117.4h0M373.4 117.3h0" stroke="#dc9d36" stroke-width="1.8" stroke-linecap="round" fill="none" opacity="0.45"/><path d="M372.6 116.7h0M375.3 126.7h0M370.8 115.2h0M372.3 125.6h0M366.3 112.8h0M376.3 129.2h0M370.1 113.5h0M370.7 111.7h0M368 111.7h0M371 116.6h0" stroke="#dc9d36" stroke-width="2.4" stroke-linecap="round" fill="none" opacity="0.45"/><path d="M375.2 124.5h0M372.7 117h0M376.5 120.8h0M364.2 114.6h0M375.9 129.9h0M369.9 110.4h0M368.4 110.9h0M366.5 117.5h0M366.8 124.9h0M371.7 111.7h0M373.7 117.5h0M369.5 127.8h0M370.3 114.1h0M374.9 126.4h0M369.1 113.4h0M375.7 116.6h0M366.8 127.2h0" stroke="#dc9d36" stroke-width="3.0" stroke-linecap="round" fill="none" opacity="0.45"/><path d="M376.8 127.5h0M374.9 127.6h0M368.2 117h0M375.2 122.9h0M373.6 111.7h0" stroke="#dc9d36" stroke-width="3.6" stroke-linecap="round" fill="none" opacity="0.45"/><path d="M374.2 114.3h0M370.4 129.7h0M368.8 123.1h0M363.5 113.3h0M372.4 115.3h0M375.1 120h0M371.5 128.4h0" stroke="#dc9d36" stroke-width="4.2" stroke-linecap="round" fill="none" opacity="0.45"/>
<path d="M291.8 147.9h0M293.6 146.8h0M298 145.6h0M305.6 144.7h0M310.8 143.8h0M313.6 143.3h0M315.8 143.5h0M319.9 143.6h0M322.3 145.9h0M321.4 147.6h0M319.7 148.4h0M314.6 150.9h0M311.2 152.9h0M318.1 155.8h0M320.7 155.8h0M327.6 156.2h0M327.7 158.9h0M325.5 160.3h0M323.9 161.5h0M322.3 162h0M320.5 162.8h0M314 165.8h0M312 166.5h0M302.7 164.6h0M300.7 164.5h0M297.6 162h0M294.5 160h0M289.9 153.2h0M290.1 151h0" stroke="#a081c4" stroke-width="3.0" stroke-linecap="round" fill="none"/><path d="M289.1 149h0M295.6 146h0M299.7 145.4h0M301.9 145.3h0M303.4 144.4h0M307.6 144.2h0M309.1 144.1h0M318 142.7h0M321.5 145h0M318.1 149.8h0M316.2 150.6h0M312.3 150.8h0M309.9 155.1h0M312.2 155.9h0M314.3 156.3h0M316.4 155.6h0M322.3 155.2h0M325 155.4h0M319.3 163.9h0M317.6 165.3h0M316.3 166.1h0M310.1 166.5h0M308 166.8h0M306.2 165.9h0M304.4 166.1h0M299.3 163.6h0M296.2 161.1h0M292.9 158.9h0M291.9 156.8h0M290.2 155h0" stroke="#a081c4" stroke-width="3.6" stroke-linecap="round" fill="none"/><path d="M289.5 148.9C290.4 147.4 293.3 146.6 295.7 145.9C298.1 145.2 301.2 145.2 303.8 144.9C306.4 144.6 308.6 144.2 311 143.8C313.4 143.5 316.2 142.5 318.1 142.8C320.1 143.2 322.7 144.7 322.7 145.9C322.7 147.1 319.9 149.2 318.1 150C316.3 150.8 313.4 150.2 312 151C310.6 151.8 309.7 154.2 310 155.1C310.3 155.9 312 156.1 314 156.1C316 156.1 320 155.1 322.2 155.1C324.4 155.1 326.4 155.4 327.3 156.1C328.2 156.8 328.7 158.2 327.8 159.2C326.9 160.2 324.1 161 322.2 162.2C320.2 163.4 318.5 165.5 316.1 166.3C313.7 167.1 310.4 167.1 307.9 166.8C305.3 166.5 303 165.4 300.8 164.3C298.6 163.2 296.4 161.7 294.6 160.2C292.8 158.7 290.9 157 290 155.1C289.1 153.2 288.6 150.4 289.5 148.9Z" fill="#b898d6"/><path d="M327.7 158.9h0M297.6 162h0" stroke="#b898d6" stroke-width="1.8" stroke-linecap="round" fill="none"/><path d="M291.8 147.9h0M293.6 146.8h0M298 145.6h0M305.6 144.7h0M307.6 144.2h0M310.8 143.8h0M313.6 143.3h0M315.8 143.5h0M319.9 143.6h0M322.3 145.9h0M321.4 147.6h0M319.7 148.4h0M318.1 149.8h0M314.6 150.9h0M312.3 150.8h0M311.2 152.9h0M309.9 155.1h0M318.1 155.8h0M320.7 155.8h0M327.6 156.2h0M325.5 160.3h0M323.9 161.5h0M322.3 162h0M320.5 162.8h0M314 165.8h0M312 166.5h0M308 166.8h0M302.7 164.6h0M300.7 164.5h0M296.2 161.1h0M294.5 160h0M292.9 158.9h0M289.9 153.2h0M290.1 151h0" stroke="#b898d6" stroke-width="2.4" stroke-linecap="round" fill="none"/><path d="M289.1 149h0M295.6 146h0M299.7 145.4h0M301.9 145.3h0M303.4 144.4h0M309.1 144.1h0M318 142.7h0M321.5 145h0M316.2 150.6h0M312.2 155.9h0M314.3 156.3h0M316.4 155.6h0M322.3 155.2h0M325 155.4h0M319.3 163.9h0M317.6 165.3h0M316.3 166.1h0M310.1 166.5h0M306.2 165.9h0M304.4 166.1h0M299.3 163.6h0M291.9 156.8h0M290.2 155h0" stroke="#b898d6" stroke-width="3.0" stroke-linecap="round" fill="none"/><path d="M299.9 161.2h0M314.3 145.4h0" stroke="#c9b0e2" stroke-width="1.8" stroke-linecap="round" fill="none" opacity="0.45"/><path d="M308.3 161.1h0M304.5 157.2h0M320.5 157.4h0M298.6 154.5h0M308.6 151.6h0M316.5 159.7h0M304.9 160h0M310.2 146.1h0M301.5 152h0M303.2 152h0M298.5 153.7h0M295.7 154.5h0M319.3 160.3h0M295.6 155.6h0M301.7 150.5h0M299.2 149.4h0" stroke="#c9b0e2" stroke-width="2.4" stroke-linecap="round" fill="none" opacity="0.45"/><path d="M311.4 148.4h0M304.4 151.9h0M293.8 154.3h0M292.1 153.4h0M310.2 148.9h0M317.8 163h0M309.9 148.1h0M302.5 157.5h0M313.7 162.4h0M316 158.2h0M316.3 147.9h0" stroke="#c9b0e2" stroke-width="3.0" stroke-linecap="round" fill="none" opacity="0.45"/><path d="M302.8 153.2h0M301 153.5h0M297.4 159.2h0M296.5 156.6h0M323.7 159.2h0M305.3 154.6h0M313.9 147.7h0M311.6 164.1h0M311.1 146.2h0M304.9 163.7h0M311.9 162.3h0M325 158.5h0M305.7 160.5h0M316 163.9h0M315.3 161.8h0M313 163.2h0M317.3 161.3h0M309.5 148.3h0M297.6 159.8h0M301.4 155.6h0M304.7 160.7h0" stroke="#c9b0e2" stroke-width="3.6" stroke-linecap="round" fill="none" opacity="0.45"/><path d="M296.7 150.4h0M310.8 161.9h0M309.5 157.9h0M292.7 151.8h0M296.4 152.4h0M294.4 156h0M313.9 145.5h0M295.7 150.7h0M295.9 154.1h0M300.6 159.6h0M318.6 158h0M292.5 155.3h0M318.2 157.8h0M308.9 158.8h0M301.4 160h0" stroke="#c9b0e2" stroke-width="4.2" stroke-linecap="round" fill="none" opacity="0.45"/>
<path d="M332.9 142.3h0M334 140.6h0M335.1 142.8h0M344.7 145.2h0M351.2 141.2h0M352.5 139.7h0M354.6 139.7h0M358.5 139h0M360.7 138.9h0M363.4 139.2h0M368.6 142.7h0M364 153.3h0M361 158.3h0M358.9 157.3h0M357.2 156.6h0M355.6 156.4h0M352.3 155h0M343.4 158h0M340.2 154.1h0M338.1 153h0M336.2 152.5h0M332.5 149.9h0M331.3 145.8h0" stroke="#dd7072" stroke-width="3.0" stroke-linecap="round" fill="none"/><path d="M331 143.8h0M337 143.9h0M338.3 145.4h0M340.9 146.1h0M343.2 145.9h0M346.9 144.5h0M348.4 143.9h0M349.5 142.5h0M356.6 139.1h0M365.6 139.4h0M366.6 141.2h0M369.9 143.2h0M369.3 146.5h0M368.9 148.6h0M367.4 149.8h0M365.3 150.2h0M363.3 151.1h0M363.5 155.7h0M361.8 157h0M350.7 156.7h0M348.5 157.9h0M345.7 158.2h0M341.9 155.9h0M333.9 151h0M331.6 147.7h0" stroke="#dd7072" stroke-width="3.6" stroke-linecap="round" fill="none"/><path d="M331.1 143.8C331.4 142.3 332.9 140.5 334.1 140.8C335.3 141.2 336.7 145.1 338.2 145.9C339.7 146.8 341.6 146.2 343.3 145.9C345 145.6 346.9 144.8 348.4 143.8C349.9 142.8 350.8 140.5 352.5 139.7C354.2 138.8 356.5 138.7 358.7 138.7C360.9 138.7 363.9 138.8 365.8 139.7C367.7 140.5 369.4 142.3 369.9 143.8C370.4 145.3 369.9 147.7 368.9 148.9C367.9 150.1 364.6 149.8 363.8 151C363 152.2 364.3 154.9 363.8 156.1C363.3 157.3 362.1 158.1 360.7 158.1C359.3 158.1 357 156.6 355.6 156.1C354.2 155.6 353.7 154.8 352.5 155.1C351.3 155.4 349.9 157.6 348.4 158.1C346.9 158.6 344.6 158.8 343.3 158.1C342 157.4 341.5 155 340.3 154C339.1 153 337.6 152.7 336.2 152C334.8 151.3 333 151.4 332.1 150C331.2 148.6 330.8 145.3 331.1 143.8Z" fill="#ec8486"/><path d="M344.7 145.2h0" stroke="#ec8486" stroke-width="1.8" stroke-linecap="round" fill="none"/><path d="M331 143.8h0M332.9 142.3h0M334 140.6h0M335.1 142.8h0M338.3 145.4h0M343.2 145.9h0M346.9 144.5h0M351.2 141.2h0M352.5 139.7h0M354.6 139.7h0M358.5 139h0M360.7 138.9h0M363.4 139.2h0M368.6 142.7h0M369.9 143.2h0M367.4 149.8h0M363.3 151.1h0M364 153.3h0M361.8 157h0M361 158.3h0M358.9 157.3h0M357.2 156.6h0M355.6 156.4h0M352.3 155h0M345.7 158.2h0M343.4 158h0M341.9 155.9h0M340.2 154.1h0M338.1 153h0M336.2 152.5h0M332.5 149.9h0M331.6 147.7h0M331.3 145.8h0" stroke="#ec8486" stroke-width="2.4" stroke-linecap="round" fill="none"/><path d="M337 143.9h0M340.9 146.1h0M348.4 143.9h0M349.5 142.5h0M356.6 139.1h0M365.6 139.4h0M366.6 141.2h0M369.3 146.5h0M368.9 148.6h0M365.3 150.2h0M363.5 155.7h0M350.7 156.7h0M348.5 157.9h0M333.9 151h0" stroke="#ec8486" stroke-width="3.0" stroke-linecap="round" fill="none"/><path d="M359.2 141.6h0M346.6 153.3h0M362.2 146.3h0M362.5 144.1h0" stroke="#f39c9c" stroke-width="1.8" stroke-linecap="round" fill="none" opacity="0.45"/><path d="M359.9 153.5h0M339.5 148.5h0M363.5 142.5h0M355 150.8h0M360.4 149h0M357.2 147.3h0M348.8 148.4h0M339.2 150.8h0M358.4 143.1h0M354.3 149.3h0M340.8 150.7h0M353.2 145.6h0M335.9 147.4h0M359.5 153.6h0" stroke="#f39c9c" stroke-width="2.4" stroke-linecap="round" fill="none" opacity="0.45"/><path d="M362.7 143.7h0M354.9 150.8h0M367.8 144h0M351.7 145.3h0M345.4 148.6h0M355.3 145.6h0M349.8 152.4h0M353.6 148.7h0M345.4 149.6h0M360.4 142.8h0M358.8 142.4h0M359 141.4h0M352.1 143h0M335.6 145.8h0M357.6 143.6h0" stroke="#f39c9c" stroke-width="3.0" stroke-linecap="round" fill="none" opacity="0.45"/><path d="M346.1 153h0M360.1 148.6h0M363.9 147.1h0M359.8 144.5h0M335.2 144.9h0M354.5 152.1h0M348.2 148.8h0M336.9 149.4h0M353.5 148.3h0M341.3 151.9h0" stroke="#f39c9c" stroke-width="3.6" stroke-linecap="round" fill="none" opacity="0.45"/><path d="M347.8 152.8h0M349.4 145.7h0M365.6 142.6h0M360.1 148h0M348.4 154.6h0M350.7 152.5h0M334 145.4h0M349.9 146.2h0M333.7 147.3h0M367.2 146.6h0" stroke="#f39c9c" stroke-width="4.2" stroke-linecap="round" fill="none" opacity="0.45"/>
<path d="M355.6 147C356.8 146.5 360.6 147.2 362 148C363.4 148.8 363.7 150.5 363.8 152C363.9 153.5 363.6 156.2 362.5 157C361.4 157.8 358.2 157.5 357 156.5C355.8 155.5 355.2 152.6 355 151C354.8 149.4 354.4 147.5 355.6 147Z" fill="#d0787f"/>
<path d="M320.7 156.7h0" stroke="#ec8a8a" stroke-width="1.8" stroke-linecap="round" fill="none"/><path d="M317.9 156h0M317.8 158h0" stroke="#ec8a8a" stroke-width="2.4" stroke-linecap="round" fill="none"/><path d="M318.5 157h0" stroke="#ec8a8a" stroke-width="3.6" stroke-linecap="round" fill="none"/>
<path d="M368.6 77.6h0M371.7 74.4h0M376 74.6h0M378.2 74.5h0M381.9 76.3h0M383.3 77.2h0M385.3 81h0M386.4 82.3h0M387.8 84.8h0M388.9 87.2h0M392.1 86.9h0M394.4 87.3h0M400.2 89.7h0M400.8 92h0M398 94.7h0M395.4 94.4h0M391.8 94.9h0M388.9 95.4h0M387.2 93.2h0M383.2 88.3h0M374.2 83.1h0M372.4 82.4h0M368.7 81h0" stroke="#5270b8" stroke-width="3.0" stroke-linecap="round" fill="none"/><path d="M370.1 76.6h0M374.2 74.4h0M379.8 75.2h0M384.1 79.4h0M397 87.7h0M399.6 87.8h0M393.9 95.1h0M385.3 92h0M384.3 89.8h0M382 86h0M380.7 83.1h0M378.7 82.2h0M376.7 82.3h0M370.6 81.1h0" stroke="#5270b8" stroke-width="3.6" stroke-linecap="round" fill="none"/><path d="M368.4 77.7C368.9 76.7 370.4 75.2 372 74.6C373.6 74 376.2 73.6 378.1 74.1C380.1 74.6 382.4 76.2 383.7 77.7C385 79.2 385.3 81.3 386.2 82.8C387.1 84.3 387.9 86.1 389.3 86.9C390.7 87.8 392.7 87.7 394.4 87.9C396.1 88.1 398.5 87.2 399.5 87.9C400.5 88.6 400.8 90.9 400.5 92C400.2 93.1 399.9 94 398 94.5C396.1 95 391.4 95.5 389.3 95.1C387.2 94.7 386.4 93.5 385.2 92C384 90.5 383.2 87.6 382.2 85.9C381.2 84.2 380.5 82.3 379.1 81.8C377.7 81.3 375.7 83 374 82.8C372.3 82.6 369.8 81.6 368.9 80.8C368 80 367.9 78.7 368.4 77.7Z" fill="#6787cb"/><path d="M368.6 77.6h0M371.7 74.4h0M374.2 74.4h0M376 74.6h0M378.2 74.5h0M379.8 75.2h0M381.9 76.3h0M383.3 77.2h0M384.1 79.4h0M385.3 81h0M386.4 82.3h0M387.8 84.8h0M388.9 87.2h0M392.1 86.9h0M394.4 87.3h0M397 87.7h0M399.6 87.8h0M400.2 89.7h0M400.8 92h0M398 94.7h0M395.4 94.4h0M391.8 94.9h0M388.9 95.4h0M387.2 93.2h0M383.2 88.3h0M374.2 83.1h0M372.4 82.4h0M370.6 81.1h0M368.7 81h0" stroke="#6787cb" stroke-width="2.4" stroke-linecap="round" fill="none"/><path d="M370.1 76.6h0M393.9 95.1h0M385.3 92h0M384.3 89.8h0M382 86h0M380.7 83.1h0M378.7 82.2h0M376.7 82.3h0" stroke="#6787cb" stroke-width="3.0" stroke-linecap="round" fill="none"/><path d="M387 88.4h0M378.1 78.1h0M377.1 78.8h0M377.6 79.5h0" stroke="#88a2dc" stroke-width="1.8" stroke-linecap="round" fill="none" opacity="0.45"/><path d="M392 91.1h0M389.7 92h0M389.2 90.4h0M371.8 78.1h0M374.4 78.8h0M395.3 91.5h0M383.1 81.1h0M392.2 92.4h0M391 90h0M376.7 78.3h0M390.5 91.7h0M379.9 80.8h0M387.9 89.3h0M379.3 79.1h0M372.2 78.5h0M371 78.8h0M372.7 80h0M372 79.5h0M390.1 91.3h0M397.1 91.1h0" stroke="#88a2dc" stroke-width="2.4" stroke-linecap="round" fill="none" opacity="0.45"/><path d="M382.7 83h0M392.2 92.5h0M375.4 78.5h0M392.2 90.9h0M383.1 80.6h0M389.6 90.4h0M385.3 85.9h0M386.2 87.6h0" stroke="#88a2dc" stroke-width="3.0" stroke-linecap="round" fill="none" opacity="0.45"/><path d="M392.5 90.9h0M393.5 91.5h0M377.1 80.1h0M377.7 78h0M391.3 91.6h0M387 90.7h0M372.2 77.1h0M389.2 90.5h0M395.9 91.9h0" stroke="#88a2dc" stroke-width="3.6" stroke-linecap="round" fill="none" opacity="0.45"/><path d="M390.7 89.9h0M378.3 79.3h0M374.4 78h0M371.6 78.6h0M392.6 92.1h0M377.7 77.4h0M397.1 91.6h0" stroke="#88a2dc" stroke-width="4.2" stroke-linecap="round" fill="none" opacity="0.45"/>
<circle cx="331.5" cy="109.5" r="63.6" fill="none" stroke="#fdcaca" stroke-width="5"/>
<text x="16.2" y="220.8" font-size="19" text-anchor="start" font-weight="bold" fill="#000" >b</text>
<rect x="47.3" y="230.2" width="287.4" height="16.6" fill="#fdd089"/>
<text x="191" y="243.4" font-size="13" text-anchor="middle" font-weight="bold" fill="#000" >Moderate disease vs. Controls</text>
<text x="174" y="263" font-size="12.8" text-anchor="middle" font-weight="normal" fill="#000" xml:space="preserve">Down = 0 proteins,  Up = 21 proteins</text>
<path d="M47.4 287.5V468.2H332.6" stroke="#3a3a3a" stroke-width="1.1" fill="none"/><path d="M43.2 460.1H47.4" stroke="#3a3a3a" stroke-width="1.1"/><text x="41.5" y="464.6" font-size="12.8" text-anchor="end" font-weight="normal" fill="#111" >0</text><path d="M43.2 426.5H47.4" stroke="#3a3a3a" stroke-width="1.1"/><text x="41.5" y="431" font-size="12.8" text-anchor="end" font-weight="normal" fill="#111" >0.5</text><path d="M43.2 392.9H47.4" stroke="#3a3a3a" stroke-width="1.1"/><text x="41.5" y="397.4" font-size="12.8" text-anchor="end" font-weight="normal" fill="#111" >1.0</text><path d="M43.2 359.3H47.4" stroke="#3a3a3a" stroke-width="1.1"/><text x="41.5" y="363.8" font-size="12.8" text-anchor="end" font-weight="normal" fill="#111" >1.5</text><path d="M43.2 325.7H47.4" stroke="#3a3a3a" stroke-width="1.1"/><text x="41.5" y="330.2" font-size="12.8" text-anchor="end" font-weight="normal" fill="#111" >2.0</text><path d="M43.2 292.1H47.4" stroke="#3a3a3a" stroke-width="1.1"/><text x="41.5" y="296.6" font-size="12.8" text-anchor="end" font-weight="normal" fill="#111" >2.5</text><path d="M77.9 468.2V472.4" stroke="#3a3a3a" stroke-width="1.1"/><text x="75.7" y="487.2" font-size="12.8" text-anchor="middle" font-weight="normal" fill="#111" >-2</text><path d="M126.7 468.2V472.4" stroke="#3a3a3a" stroke-width="1.1"/><text x="124.5" y="487.2" font-size="12.8" text-anchor="middle" font-weight="normal" fill="#111" >-1</text><path d="M175.5 468.2V472.4" stroke="#3a3a3a" stroke-width="1.1"/><text x="175.5" y="487.2" font-size="12.8" text-anchor="middle" font-weight="normal" fill="#111" >0</text><path d="M224.3 468.2V472.4" stroke="#3a3a3a" stroke-width="1.1"/><text x="224.3" y="487.2" font-size="12.8" text-anchor="middle" font-weight="normal" fill="#111" >1</text><path d="M273.1 468.2V472.4" stroke="#3a3a3a" stroke-width="1.1"/><text x="273.1" y="487.2" font-size="12.8" text-anchor="middle" font-weight="normal" fill="#111" >2</text><path d="M321.9 468.2V472.4" stroke="#3a3a3a" stroke-width="1.1"/><text x="321.9" y="487.2" font-size="12.8" text-anchor="middle" font-weight="normal" fill="#111" >3</text>
<text x="186" y="500" font-size="12.8" text-anchor="middle" fill="#111">Log<tspan font-size="9.2" dy="3">2</tspan><tspan dy="-3"> fold change</tspan></text>
<text transform="translate(9.1 382) rotate(-90)" x="0" y="0" font-size="12.8" text-anchor="middle" fill="#111">- Log<tspan font-size="9.2" dy="3">10</tspan><tspan dy="-3"> q−value</tspan></text>
<path d="M135.9 454.1h0M146.3 457.1h0M133.9 459.1h0M145.4 454.9h0M154.8 457.2h0M122.7 457.7h0M110.4 455.7h0M153.6 453.5h0M129.8 455.2h0M158.6 456.4h0M128.8 454.8h0M117.6 456.6h0M154.1 454.5h0M152.1 454.7h0M116.7 455h0M148.2 459.7h0M117.8 457.6h0M119.6 454.5h0M114.4 456.9h0M127.1 454.5h0M127.8 457.9h0M118.1 458.6h0M143.1 457.7h0M142 459.5h0M156 455.7h0M128.1 457h0M119.3 457.3h0M108.4 457.6h0M149 455h0M143.1 457.1h0M131.9 454.8h0M139.3 457.4h0M147.7 457.7h0M109.8 455.5h0M131.3 454.4h0M157.2 456.7h0M136.2 455h0M135.2 458.5h0M147.2 454.5h0M152.3 457.3h0M142.4 453.8h0M135.4 457.6h0M151.7 453.5h0M128.8 457.2h0M159.4 456.7h0M122.8 456.9h0M159.4 458h0M117 456.1h0M143.8 455.1h0M143.3 456.7h0M133.2 457.2h0M116.3 455.6h0M120.9 457.8h0M134.4 455.1h0M158.8 458.8h0M153.7 453.7h0M154.3 455.2h0M158.4 458.8h0M139.2 454h0M127.2 454.9h0M155.4 457.5h0M148.9 458.1h0M123.2 455.9h0M140.3 455.5h0M159.3 459.5h0M138.5 454.4h0M118.4 458.6h0M122.5 457.4h0M145 454.4h0M112.5 456.1h0M138.4 458.9h0M158.9 454.5h0M127.2 455.6h0M157.6 453.4h0M144.4 455.1h0M148.1 456.3h0M140.6 456.2h0M117.7 458.6h0M130 457.9h0M128.4 456.2h0M151.2 458.9h0M143.6 459.2h0M157.5 459.5h0M119.6 457.7h0M123 458.4h0M152.8 455.8h0M136.9 456.5h0M151.1 454.8h0M135.8 457.7h0M143.1 455.9h0M118 458.6h0M112.7 455.9h0M139.8 455.9h0M151.6 457.5h0M155.3 453.5h0M144 454h0M151.9 456.8h0M149.4 459.1h0M142.7 453.8h0M119.1 456.8h0M111.3 454.7h0M124.9 458h0M141.8 457.5h0M130.4 459h0M108.7 455.7h0M126.6 456.9h0M146.5 456.5h0M134.8 458.5h0M138 454.9h0M115.8 457.9h0M154.6 456.2h0M124.7 456.3h0M116.6 457.8h0M153.7 454.9h0M133.7 454.3h0M124.4 457.1h0M148.7 455.3h0M125 455.5h0M129.7 455.1h0M113.8 458.3h0M114.5 457h0M147.5 454.9h0M146.4 456.4h0M151.4 456.2h0M115.6 458.2h0M140.7 459.3h0M156.9 457.9h0M144 459.1h0M124.6 457.5h0M114.8 455.6h0M138.1 454.5h0M134.7 457h0M141.1 455.5h0M123.9 458.4h0M110.2 454.6h0M112 454.9h0M124.5 456.2h0M150.5 459.2h0M152.8 454.5h0M144.1 458.3h0M157.3 459.5h0M135.6 458.6h0M136.8 458.2h0M142.7 456.6h0M124.1 456.7h0M134.3 457.3h0M129.4 454.1h0M114.4 457.6h0M136.7 458.4h0M126.2 458h0M150 459.5h0M150.5 458.7h0M128.4 457.3h0M116.3 454.7h0M136.5 459.2h0M116.6 456.9h0M122.2 458.2h0M130.6 454.9h0M135 456.9h0M150.9 456.6h0M120.4 454.3h0M132.3 457.3h0M119.9 454.8h0M149.3 459h0M150.1 454.4h0M129.4 455h0M118.6 455.3h0M110.7 457.2h0M154.8 456.7h0M131 455.9h0M117.8 454.6h0M140.2 457.9h0M119.6 457.6h0M125.3 454.8h0M140.1 457.9h0M110.8 458.3h0M158.8 459.8h0M145.2 457.7h0M123.4 457.2h0M153.2 459.4h0M138.7 455.5h0M124.9 455.4h0M122.7 455.6h0M119.8 457.4h0M139.5 458.8h0M132.1 458.9h0M154.4 456h0M113.3 454.6h0M148.3 455.6h0M118.7 457.8h0M119.8 457.1h0M157.4 458.9h0M154.2 453.5h0M113.8 458.7h0M112.2 455.4h0M146.6 457.5h0M119.7 456.8h0M142 458.3h0M121.5 458.4h0M157.8 454.3h0M159.6 456.8h0M136.4 458.9h0M137.3 459.1h0M109.9 458.6h0M155.9 455h0M154.8 454.6h0M125.8 458.4h0M159.8 456.5h0M125.2 454.7h0M141.1 459.3h0M158.5 459.3h0M147.6 455.1h0M143.4 455.4h0M151.7 455.7h0M143.5 459.5h0M149.6 458.4h0M138.1 455.6h0M116.4 457.5h0M149.9 457.7h0M146.9 456.8h0M151.2 456h0M155.6 459.1h0M118.3 454.6h0M122.5 455.9h0M146 454.4h0M159.6 455.6h0M152 457.8h0M112.8 455.4h0M142.5 454.4h0M137.6 457.6h0M150.5 454.6h0M143.4 458.8h0M131.4 456.2h0M108.2 454.8h0M129.6 457.4h0M138.6 454.7h0M156.3 458h0M143.7 456.5h0M118.3 457.6h0M135.1 456.3h0M122.6 457.3h0M111.1 457.8h0M149.2 458.3h0M134.8 459h0M151.1 453.9h0M157.7 457.5h0M145.8 456h0M121.7 457.6h0M143.7 458.2h0M111.9 458.6h0M134.3 454.1h0M138.5 456.8h0M124.7 456.6h0M150.2 457.2h0M129.9 455.9h0M142.1 454.3h0M122.6 458.2h0M144.7 458.1h0M116.6 457.4h0M137.5 454h0M133.4 457.6h0M114.9 455.9h0M141 457.4h0M118.4 456.8h0M135.5 458.3h0M151.8 456.2h0M130.6 457.9h0M158.4 458.4h0M151.6 457.9h0M128 458.9h0M116.7 454.9h0M126.3 455h0M122.9 454.4h0M134.2 457.3h0M143.3 457h0M124.9 454.2h0M155.9 458.9h0M129.2 456.2h0M112.6 455.3h0M150.2 454.1h0M146.8 458h0M151.7 458.1h0M153.8 457h0M127.8 457.1h0M151.3 454.7h0M127.5 458.4h0M134.3 457h0M136.4 454.2h0M141.3 456.5h0M127 455.1h0M130.1 459.1h0M137.4 456.9h0M126.6 454.5h0M158.6 456.5h0M115.5 454.9h0M138.3 453.8h0M113.5 456.1h0M132.4 455.8h0M134.8 454h0M156.1 454.2h0M140 458.4h0M156.9 455.6h0M111.5 457.7h0M151.6 459.2h0M120.5 458h0M145.8 458.2h0M144.8 454h0M112.6 454.9h0M134.7 459.2h0M133.7 455.6h0M129 454.9h0M116.7 458.5h0M154 459.7h0M135.4 455h0M137.1 455.5h0M138.2 458.9h0M117.5 456.7h0M140.5 459.4h0M159.1 459.1h0M139.9 457.8h0M144.3 455.1h0M153.5 459.2h0M122.8 455.5h0M131.4 454h0M146.7 459.4h0M143 454.4h0M110.8 455h0M154 459.2h0M157.5 455h0M113.6 455h0M144 456.6h0M136.8 455.7h0M145.1 459.6h0M133.7 457.2h0M138.3 459.4h0M116.5 454.9h0M133.8 458.3h0M129.1 455.9h0M135.5 458.4h0M127.8 458.3h0M112.5 455.7h0M144.6 458.9h0M109.8 457.7h0M128.3 456.3h0M151.5 456h0M157 457.5h0M144.3 455.2h0M146.3 459.1h0M156.9 456.9h0M159 454.7h0M138.1 455.3h0M121.5 457h0M144 457.4h0M154.3 456.3h0M157.6 455.9h0M109.9 458.2h0M111.2 456.6h0M134.8 454.6h0M154.2 458.4h0M123.8 458.7h0M154.2 454.6h0M149.8 455h0M159.6 453.8h0M128.5 457.5h0M115.2 458.1h0M135.3 456.1h0M141.8 454.7h0M154.8 454.2h0M135.7 453.9h0M120.5 458h0M156.1 453.5h0M120.8 454.4h0M123 455.8h0M111.5 455.2h0M113.3 455.4h0M130.7 454.6h0M124.7 458.6h0M155.9 458.2h0M132.7 456.8h0M155.1 459.9h0M157.4 455.5h0M129.8 456.2h0M153.3 453.8h0M140.2 454.9h0M139.6 456.1h0M144.6 455.6h0M145.9 455.9h0M140.3 458.1h0M150.6 459.7h0M126.5 457.6h0M127 458.3h0M113.5 455.1h0M151.8 457.2h0M124.3 455.7h0M146.4 455.1h0M135.3 456.4h0M118.6 455.8h0M144.4 453.7h0M127.3 458.3h0M155.4 459.8h0M191.6 456.8h0M193.1 452.9h0M193.6 459.9h0M205.3 453.8h0M196.7 457.7h0M191.6 458.7h0M230.3 457.6h0M218.8 454.1h0M212.7 453.3h0M197.9 458.8h0M196 452.9h0M224.4 455.9h0M211.5 458h0M195.5 452.6h0M232.8 455.6h0M203.7 454.5h0M231.1 457.9h0M220.4 457.1h0M211.1 455.1h0M193.6 455h0M198.1 453.5h0M207.9 456.3h0M200.9 456.4h0M210.8 458h0M195.6 455h0M198.1 457.9h0M198.9 459.1h0M218.3 455.2h0M194.4 459.9h0M196.1 453.5h0M207.6 459.5h0M204.4 458.5h0M211.2 459.1h0M231 455.7h0M206 452.6h0M211.5 453.4h0M223.1 456.7h0M199.2 453.8h0M201.1 457.8h0M214.6 456.3h0M215 458.3h0M209 455.5h0M195.4 457.5h0M215.1 456.5h0M191.5 454.9h0M225.4 457.9h0M203.1 456.8h0M191.5 453.3h0M194.1 456.5h0M206.6 456.3h0M233.5 456.2h0M223.4 458.2h0M233.8 456h0M213.5 458.3h0M194 452.6h0M224.4 456.9h0M221.5 455h0M208.9 458.4h0M196.5 452.5h0M232.3 455.3h0M194.8 459.4h0M214 455h0M230.4 456.2h0M202.3 455.2h0M197.9 454.2h0M221.9 457.7h0M214.2 455.4h0M191.5 456.2h0M194.5 459.8h0M208.6 457.7h0M206.8 454.2h0M208.6 453h0M218.1 453.4h0M208.4 457h0M201.6 456h0M193.9 453.3h0M211.6 456.9h0M229 454.4h0M199.3 458.3h0M209.9 455.3h0M206 458h0M199.8 455h0M221.7 455.4h0M192 453.8h0M216.1 455.5h0M194.8 459.1h0M211.2 458.8h0M191.5 452.7h0M208.5 459.3h0M209.9 458.9h0M222.3 455.2h0M192.5 457.6h0M217.2 456.6h0M210.5 457.9h0M231.6 457.9h0M206.5 453.3h0M226.6 457.3h0M226.1 457.9h0M220.3 455h0M197.7 455.4h0M197.6 460h0M203.3 454h0M194.1 452.3h0M224.4 453.8h0M201.4 457h0M228.5 458.2h0M210.4 456.5h0M209.3 457.7h0M212.6 455.5h0M206.2 459.3h0M221.3 453.7h0M194.2 455.3h0M202.5 458.2h0M200.1 456.3h0M224.4 457.6h0M212 457.7h0M196.5 454.2h0M216.3 458.3h0M194.2 457.6h0M207.8 458.3h0M205.9 457.3h0M229.3 456.5h0M210.6 457.7h0M208.4 452.9h0M200.6 455.8h0M197.4 459.7h0M225.3 454h0M215.4 454.5h0M196.5 457.6h0M214.2 457.8h0M204.3 458.3h0M223.1 454.8h0M208.8 454.8h0M229.1 456h0M204.7 459h0M228.7 455h0M192.7 458.1h0M200.5 458.5h0M192.9 453.2h0M223.6 453.7h0M193.3 459.1h0M191.7 453.5h0M192.3 455.5h0M196.1 453.6h0M228.3 455.2h0M197.8 453.7h0M193.4 460.1h0M191.6 456.4h0M233.6 455.2h0M230.4 454h0M206.7 452.7h0M191.4 454.1h0M197 454.6h0M209 455.7h0M216.4 454.4h0M201.7 459h0M202.1 457.1h0M191.5 456.6h0M209.4 454h0M220.2 455.7h0M191.4 452.1h0M194.5 453h0M225 457.3h0M198.5 453.2h0M224.7 457.5h0M216.4 454.3h0M208.7 458.4h0M208.4 452.7h0M232 454.9h0M191.3 455.9h0M195 452.1h0M230.4 456.2h0M197.2 454.5h0M212.1 456h0M196 459.4h0M218.1 454.6h0M231 456.6h0M191.2 456.6h0M191.4 459h0M195.1 457.2h0M226.3 455.5h0M211.8 456.9h0M223.2 456.2h0M201.8 459.2h0M205.2 458.1h0M208.5 458.9h0M224 456h0M221.3 458.1h0M214.6 457.1h0M192 457h0M203.4 459.6h0M194.4 452h0M201.4 458.5h0M202.5 459.7h0M215.3 458.9h0M200.4 457.7h0M198.2 453h0M192.9 453.9h0M198 452.3h0M221.5 454.5h0M223.3 456.1h0M207.7 456.2h0M212.2 458.9h0M204 452.9h0M212.1 457.7h0M223.9 457.2h0M225.6 456.8h0M213.1 458.9h0M196.4 455h0M222.9 454h0M196.3 452.7h0M201.2 457.8h0M224.8 458h0M199 453h0M210.2 456.7h0M205.4 459.1h0M198.8 452.9h0M198.3 455.5h0M224.9 456.2h0M200.1 458.6h0M200.2 458.8h0M212.6 459.1h0M201.8 456.5h0M194.1 453.8h0M191.7 453.3h0M191.6 455.6h0M228.1 455h0M192.9 454.8h0M192 457.4h0M192.2 456.5h0M204.3 454.3h0M202.1 457.5h0M232.8 454.3h0M191.7 453h0M218.6 457h0M227.3 457.6h0M230.5 455.8h0M225.6 457.1h0M206.9 454.3h0M224.7 455h0M192.3 457.6h0M220 457.9h0M229.8 456.5h0M191.7 457.4h0M219.7 456.2h0M225.7 454.6h0M217.8 457.9h0M228.8 454.7h0M225.9 456.8h0M191.6 453.7h0M205.8 452.9h0M222.4 457.4h0M210.9 457.1h0M209.5 454.4h0M195 456.5h0M200.7 453.7h0M194.9 459.9h0M194.8 456h0M209 453.3h0M208.5 457h0M232.5 457.6h0M203.2 457.8h0M225.5 457.9h0M192 453.9h0M212.3 454h0M233.2 457.5h0M194.6 454.7h0M221.2 457.4h0M219.8 453.7h0M218.4 453.8h0M227.5 457.5h0M210.8 456.3h0M202.9 457.5h0M233.1 456.6h0M231.1 454.1h0M192.1 456.4h0M214.2 454.3h0M204.2 456.1h0M192.6 460.3h0M203 456h0M222.4 457.9h0M191.7 459.6h0M193.8 455.3h0M211.1 454.9h0M196.7 458.3h0M199.1 456.1h0M206.1 457.4h0M210.8 453.1h0M191.1 454.8h0M211.3 458.2h0M193.3 459h0M221.7 454.7h0M230.4 457.4h0M199.1 458.6h0M192.8 460.3h0M207 453.8h0M203 456.6h0M208.8 458.3h0M191.6 453.8h0M191.3 459.7h0M207.6 457.3h0M193.2 456h0M212 455.3h0M233.6 456.4h0M207.4 454.3h0M214.4 458.5h0M192.3 454.6h0M204.9 454.6h0M195.9 460h0M195.4 456.7h0M223.4 453.8h0M192 454.2h0M197.5 452.5h0M201 456.2h0M209.6 456.1h0M193.3 452.7h0M193.8 456.9h0M192.8 458h0M196.5 454.6h0M197.3 452.8h0M206 456.8h0M199 452.3h0M192.4 455.6h0M205.4 457.6h0M203 453.7h0" stroke="#2a8d3a" stroke-width="3.4" stroke-linecap="round" fill="none" opacity="0.85"/>
<path d="M154.3 453.7h0M118.3 457h0M122.5 456.4h0M146.8 456.9h0M151.6 458.1h0M137.4 453.9h0M134.4 457.8h0M135.7 458.7h0M130.4 454.4h0M138.7 459.1h0M131.5 457.9h0M136 455.2h0M126.5 455.2h0M152.2 459.3h0M115.4 456.7h0M128.6 455.5h0M151 455.7h0M154 456.7h0M131.7 459.1h0M118.3 454.9h0M121.7 458h0M118.4 458.1h0M126 458.2h0M148.8 457.1h0M142.9 455.3h0M116 456h0M134.2 458.2h0M149 459.3h0M125.7 458.4h0M127.5 456.8h0M124.1 457.3h0M155.8 458.6h0M146.3 456.1h0M120.4 455.4h0M126.1 456.6h0M151.2 458.9h0M147.2 455h0M110.2 457h0M155.2 455.1h0M150.2 454.5h0M129.7 455.6h0M142.1 454h0M122.3 457.3h0M142.8 456.6h0M109.8 457.5h0M151.3 454h0M108.2 457.6h0M119.5 456h0M159.1 457h0M155 458.4h0M120.3 456.1h0M131 457.7h0M157.2 453.5h0M135 456h0M127 456.3h0M153.9 456.5h0M148.1 458.9h0M152.1 456.4h0M110.9 455.4h0M111.8 458.6h0M156.5 455.9h0M147.5 459.1h0M130.8 459h0M153.8 457.4h0M151 457.1h0M146.1 459.5h0M156.5 453.5h0M154.8 457.4h0M140.9 459h0M155.5 459.2h0M129.4 456h0M120.6 454.7h0M153.4 459.7h0M128.6 454.3h0M157.6 458.9h0M133.5 456.6h0M110.1 456.8h0M142.6 456.3h0M141.9 454h0M157.6 459.6h0M109.1 458.6h0M128.9 458.9h0M148.3 456.1h0M147.8 454.6h0M119.5 455.1h0M151.9 458.2h0M137.7 456.4h0M148 454.1h0M152.9 456.7h0M136.7 459.2h0M118.3 455.2h0M153.6 457h0M142.8 455.6h0M134.2 457h0M126.1 455h0M119.1 454.4h0M142.6 455.9h0M137.8 455.8h0M141.5 457.8h0M148.3 457.9h0M128.6 457.7h0M145.8 456.4h0M109.7 458h0M156.6 458.6h0M115.9 458.6h0M141 455.4h0M148.9 457.3h0M148.1 457.1h0M128.8 456.3h0M156 457.3h0M132.6 458.6h0M140.6 454.2h0M153.3 453.9h0M146.3 457.4h0M159.8 459h0M147.5 453.8h0M110.3 455.5h0M119.6 457.7h0M114.7 454.8h0M143.1 456.9h0M148.7 459.6h0M159.3 458.9h0M143.8 454.3h0M121.1 454.6h0M120.3 455.8h0M153.2 455h0M149.1 455.1h0M143.4 457.6h0M125.9 456.4h0M141.4 456.7h0M154.6 457.1h0M131.2 456.6h0M145.5 456h0M145.6 453.9h0M158.5 454.4h0M124.7 455.7h0M120.5 456.6h0M113.6 455.5h0M146.9 455.8h0M152.9 459.4h0M156.6 454.4h0M135.2 456.4h0M140.1 454.5h0M112.3 457.7h0M120.6 457.3h0M116 454.8h0M123.7 455h0M108.9 457.1h0M118.6 457.3h0M144.3 457.3h0M121.6 454.5h0M144.5 459.1h0M133.2 454.4h0M112 456.2h0M156.1 456.4h0M159.8 458.6h0M151.8 458h0M150.9 456h0M132.2 454.9h0M156.3 456.5h0M137.9 457.7h0M155.5 456.4h0M109.5 457.1h0M140 454.9h0M124.9 458.1h0M112.1 458h0M149.7 457.9h0M147.5 455.3h0M144 456.3h0M140.2 454.4h0M139.4 455.3h0M128.3 454.3h0M150.4 454.9h0M154.2 454.2h0M144.8 453.7h0M146.2 455.3h0M158.4 454.1h0M120.2 457.4h0M147.1 457.3h0M115.7 455h0M116.2 457.1h0M157.1 459.1h0M152.4 454.5h0M144.9 458.9h0M134.2 455.9h0M129.9 455.3h0M118.8 458h0M124.9 454.8h0M112.5 458.5h0M119.8 455.9h0M139.2 454.2h0M109.8 454.9h0M148.6 454.2h0M159.6 457.8h0M142.5 454.5h0M152.2 453.7h0M148.7 453.7h0M140.6 455.3h0M111.4 455.9h0M109.8 455.2h0M131.7 454.6h0M112.1 454.7h0M117.6 455.5h0M140 457.8h0M144.9 459.4h0M130.8 458.1h0M127.1 455.8h0M124.1 455.4h0M122.4 454.6h0M152.6 458h0M135.6 458h0M116.7 455h0M116.8 458.2h0M148.6 458.5h0M139.8 459.2h0M145.5 458.9h0M145 454h0M158.6 454.8h0M132.3 454h0M129.6 455.7h0M134.2 455.8h0M109.6 455.3h0M110.5 457h0M133.3 455.6h0M141.5 458.6h0M150.3 453.7h0M109.1 456.5h0M155.4 458.5h0M145.2 456.8h0M120.6 458.7h0M130.2 456.5h0M138.9 453.9h0M108.7 455h0M127.4 457.6h0M119.2 458.3h0M139 456h0M110.9 456h0M121.3 455.3h0M149.9 455.7h0M151.1 457.8h0M122.3 458.8h0M137.7 454.3h0M109 455h0M130.9 457.9h0M130.1 456.9h0M116.2 457.5h0M149.3 456.3h0M138 456.2h0M155.6 456.2h0M116.1 454.6h0M125.3 456.4h0M126.6 457.9h0M127 454.4h0M148.2 459.4h0M108.2 456.2h0M159.5 458h0M143.8 454.5h0M114.6 458.4h0M151.4 456.7h0M122.6 456.8h0M109.2 457.1h0M113.1 457.2h0M118.3 454.5h0M118.2 455.6h0M150 455.3h0M119.6 455.9h0M155.4 459.7h0M133.5 457h0M138.6 454.9h0M137.6 458.4h0M133.6 455.3h0M148 458.3h0M150.3 456.2h0M122.7 458.4h0M110.9 455.8h0M150.5 456h0M125.8 455h0M120.4 454.5h0M140.2 455.1h0M147.9 453.6h0M145.1 456.7h0M115 454.7h0M140.8 454.7h0M120.5 456.1h0M138.4 454.4h0M122.3 456.2h0M127.6 458.8h0M151.5 458.9h0M143.1 456.7h0M158.2 457.4h0M111.2 456h0M154.2 459.4h0M120.3 458.8h0M132.6 456h0M108.8 457.3h0M125.5 458.8h0M152.1 457.6h0M141.3 455.2h0M116.8 458.2h0M130.7 454.1h0M158.7 454.8h0M133.1 455.3h0M137.5 455.2h0M154.6 453.8h0M159.4 455.6h0M151.8 456.8h0M133 454.5h0M136.7 456.1h0M111.3 458.1h0M120.7 456.4h0M128.7 455.8h0M135.6 459.2h0M116 457.4h0M126.2 454.5h0M115.9 458.3h0M133.5 457.6h0M153.5 454.2h0M148.5 457.3h0M147.1 457.6h0M145.9 456.8h0M121 458.9h0M144.3 457.5h0M115.1 455.8h0M128.8 457.2h0M111.5 455.5h0M122 456.8h0M139.4 457h0M144.1 458.3h0M110.5 455.8h0M128.6 456.5h0M145.9 458.6h0M131.9 455.4h0M151.2 457.9h0M127.9 458h0M126.3 454.8h0M151.9 453.5h0M156.6 459.5h0M120.6 455.9h0M123.6 459h0M153.7 454h0M150.4 456.8h0M150 459.4h0M142.5 458.1h0M121.8 458.9h0M132.4 454.9h0M141.7 456.5h0M156 459.5h0M142.2 456.1h0M133.6 456.3h0M124.3 457.6h0M117.9 457.7h0M110.9 455h0M137.3 454h0M128.5 455.5h0M139.2 457.5h0M125.1 458.1h0M139.1 458h0M157.4 455.5h0M116.8 458.5h0M136.1 455.9h0M150.8 456.8h0M149.3 458.1h0M158.8 457.9h0M131.3 457.3h0M159.4 459.4h0M117.9 454.5h0M141.6 457.4h0M145.1 455.7h0M149.1 456.3h0M118.5 456.3h0M141.2 456.7h0M149.6 458.9h0M139.4 455.8h0M132.9 454.4h0M155.4 456.2h0M135.7 456h0M158 459.8h0M158.3 455.9h0M159.7 456.5h0M120.1 454.7h0M158.1 456h0M108.7 456.1h0M147 456.4h0M156.9 457.5h0M113.6 457.5h0M151.3 456.5h0M132.2 455.6h0M159.5 455.9h0M143.1 457.9h0M143.5 455.3h0M131.9 454.3h0M147.8 453.8h0M155.6 456.2h0M159.7 453.2h0M112.5 455.4h0M154.3 457.4h0M127.6 455.7h0M145.1 458.5h0M109.6 456.3h0M131.1 459h0M204 453.7h0M202.2 453.4h0M203.5 458.2h0M226.9 458.1h0M194.2 456.3h0M191.8 456.4h0M227 457h0M211.3 454.6h0M220.6 456.5h0M206.9 458h0M216.3 455.8h0M201.8 454.7h0M198.8 455.6h0M191.5 452.8h0M195.3 453.5h0M199 458.3h0M191.7 453.6h0M200.9 454.6h0M203.5 452.5h0M195.1 457.4h0M210.1 457.2h0M208.4 457.9h0M192.1 460.3h0M222 458.6h0M193.2 456.7h0M196 452.2h0M228.7 457.6h0M217.2 454.5h0M203.3 456.5h0M192.7 456.1h0M222.5 456.8h0M201.9 456.4h0M203.1 456.1h0M215.5 456.4h0M202.6 452.4h0M209.9 453.9h0M199.2 452.6h0M194.3 456.2h0M196.1 452.3h0M209.7 453.8h0M195.3 452.8h0M193.9 459.1h0M209.1 456.9h0M207 452.9h0M218.2 457.9h0M222.4 457.7h0M209.7 455.2h0M207.5 453.2h0M231.2 455.5h0M228.7 458.3h0M223.1 456.2h0M203 454.1h0M192 453.9h0M195.2 456.1h0M233.5 455h0M192.6 454.1h0M194.3 460h0M198 456.3h0M198.9 455.6h0M201.4 454.1h0M191.4 454.6h0M214.8 455.6h0M193 458.2h0M200.3 456.6h0M224.5 456.9h0M232.5 456.7h0M192.1 455.3h0M208 453h0M212.4 457.3h0M215.7 458.3h0M227.3 456.9h0M193.3 453.3h0M205.8 456.4h0M191.7 455.5h0M216.2 456.7h0M230.5 457.2h0M216.4 458.7h0M193.3 454.9h0M224.6 454.8h0M225.9 456.8h0M204.2 458.5h0M197.4 454.8h0M204.9 456.9h0M231.2 457.2h0M222.6 455.1h0M199.5 458.5h0M214.9 454.3h0M223 458.5h0M205.3 459.1h0M192.3 452h0M221.1 457.6h0M219.6 454.6h0M206.7 454.4h0M205 452.9h0M192.9 459.8h0M207 457.2h0M208.6 453.4h0M198.4 456.8h0M208 456.9h0M222.1 456.9h0M192.7 459.2h0M202.2 458.7h0M212.1 457.4h0M208.5 456.4h0M225.6 455h0M193.2 455.9h0M207.1 453.3h0M206.3 457.5h0M216.7 453.3h0M206.1 456h0M193.9 452.8h0M191.1 453.1h0M230.6 457.9h0M196.9 457.2h0M209 458h0M198.7 455.9h0M195.7 453.3h0M207.2 459.1h0M216.7 455.4h0M198.1 454.6h0M191.9 460h0M227.3 457.3h0M226.7 457.4h0M217.9 455.8h0M191.1 459.3h0M196.1 456.7h0M191.2 456.4h0M193.8 460.2h0M194.6 458.4h0M194.6 458h0M206.1 453h0M230.4 454.2h0M200.1 455.8h0M202.9 454.9h0M201.1 458.8h0M203.6 459.2h0M207.4 458.8h0M192.6 459.3h0M194.4 459.3h0M218.1 458.5h0M192.4 456.2h0M202.4 458.4h0M220.6 455.6h0M207 455.5h0M192.8 454.4h0M209.2 455.8h0M232.4 458h0M230.1 455.9h0M223 454.4h0M199.2 454.4h0M210.6 456.7h0M191.2 454.8h0M233.5 456.7h0M193.9 454.1h0M195.6 459.6h0M197.4 460h0M199.1 457h0M213.8 457.2h0M207.5 453.1h0M192.2 456.3h0M191.5 458.6h0M228.3 455h0M227.5 458h0M215.8 453.5h0M202.7 452.4h0M192.1 452.2h0M209.8 453.3h0M229.5 456.1h0M196.6 459.3h0M219.3 458.2h0M222.2 457h0M196.6 457.3h0M200.9 455.5h0M204.2 457.1h0M216.2 459h0M222.2 455.3h0M204.5 457.6h0M206.3 456.3h0M197.2 456.8h0M197.7 459.2h0M233 455.6h0M222.1 456.3h0M218.4 455.1h0M195.9 456.6h0M196.8 457.5h0M202.3 454.7h0M230.9 455h0M206.5 459.3h0M226.6 457.9h0M193.8 455.6h0M196.3 458.9h0M210.1 454.2h0M199.5 454.5h0M208.9 456h0M227.1 456.3h0M224.8 457.3h0M204.9 459.3h0M199.1 457.6h0M205.7 453.2h0M220.5 457.1h0M194.2 458.1h0M233.2 455.6h0M191.9 457.8h0M191.6 454.1h0M228.8 456.6h0M209.4 454.2h0M195.3 454.8h0M211.2 453.2h0M228.8 456.6h0M191.6 457.9h0M211.1 458.5h0M233.7 454.5h0M201.2 456.5h0M204.3 454.1h0M192.2 453h0M205.3 459.3h0M199.8 457.4h0M206.3 456.9h0M224 456.6h0M191.9 455.4h0M207.5 454.6h0M200.8 454.7h0M221.2 457.9h0M229 457.6h0M209.5 457.8h0M193.7 452.7h0M233 456.9h0M196.3 454.5h0M214 453.3h0M230.6 458h0M205.4 453.5h0M191.3 456.1h0M191.1 460.2h0M200.6 457.8h0M201.3 454.6h0M195.1 458.6h0M223 457.7h0M212.1 457.9h0M194.3 452.2h0M219.2 457.3h0M193.2 457.5h0M192 453.4h0M195.4 452.9h0M222.1 454.8h0M216.5 457.2h0M230.4 454.9h0M209.6 458.9h0M207.9 453.8h0M214.8 458.3h0M195.5 456.9h0M220.6 455.8h0M192.2 458.2h0M233.3 455.9h0M207 458.4h0M196.6 458.5h0M225.7 457.2h0M191.2 457.2h0M193.2 455h0M222.5 458.1h0M191.5 455.6h0M191.1 458.7h0M215.9 457.5h0M193.7 452.1h0M192.2 459h0M211.9 452.9h0M204.8 456.3h0M226 454.9h0M209.4 458.2h0M206.2 455.9h0M192.3 453.9h0M198 456.3h0M209.8 456.8h0M213.8 453.3h0M191.5 454.9h0M215.6 456.8h0M213.9 454.7h0M192.7 455.9h0M204.8 455.3h0M203.5 455.4h0M202 453.7h0M212.3 455.9h0M222.7 454.9h0M227.4 456h0M207.7 453.4h0M192.5 456.5h0M194.3 456.2h0M222.1 456h0M226.4 455.4h0M198.3 458.1h0M218.2 454.5h0M229.3 458.2h0M216.4 458.8h0M226.1 456.1h0M191.2 458.4h0M214.4 453.1h0M232.2 457.8h0M196.4 454.3h0M230.6 457.7h0M203.1 454.9h0M197.6 457.5h0M195.9 452.4h0M195.7 453.5h0M203.5 456.4h0M214 458.6h0M204.9 454.4h0M205.3 459.4h0M195.5 459.8h0M197.5 458.6h0M191.5 456.4h0M228.6 454.7h0M214.5 456.5h0M192.7 457.8h0M225.8 457.3h0M191.6 460.2h0M212.6 453.7h0M195.2 452.6h0M218.3 457.8h0M199.5 453.1h0M223.9 458.6h0M210.2 458.3h0M223.9 454.6h0M191.6 452.5h0M202.8 453.7h0M217 456.8h0M200.2 455.8h0" stroke="#2a8d3a" stroke-width="3.4" stroke-linecap="round" fill="none" opacity="0.85"/>
<path d="M153.7 452.1h0M149.7 444.7h0M137.1 451.5h0M154.4 441.5h0M139.4 450.9h0M149.9 447.1h0M142.2 449.7h0M150.2 449.6h0M155.9 449.7h0M129.3 453.7h0M131.8 446.2h0M126.7 452.2h0M117.6 453.2h0M133.5 453h0M142.1 452.9h0M132.5 453.3h0M139.1 448.8h0M151.7 447.8h0M156.9 443h0M154.5 450.7h0M124.7 440.6h0M137.5 452.4h0M125.9 452.5h0M141.6 452.2h0M141.9 451.7h0M150.1 443.3h0M146.1 439.8h0M143.8 449.7h0M150.8 452.3h0M155.5 452.5h0M129.4 448.2h0M130.8 443.7h0M114.9 453.3h0M137.3 448.5h0M148.6 452.2h0M151.8 448.4h0M156.7 453.4h0M129.2 448.1h0M120.5 452.4h0M157.5 449.8h0M135.1 452.9h0M114.7 448.8h0M158.6 451.3h0M159.4 453.6h0M135.9 448.2h0M110.9 445.3h0M121.5 453.1h0M134.6 439.1h0M140.9 452.7h0M158.6 453.1h0M154.4 451.5h0M138.7 451.9h0M139.3 451.7h0M109.8 436.8h0M130.6 448.1h0M217.6 446h0M203.6 452h0M208.6 450.7h0M225.3 450.5h0M213.7 442.8h0M206.1 446.8h0M192.9 450.8h0M199.2 449.2h0M203.5 448.6h0M217.7 433.3h0M194.6 450.4h0M196.5 446.8h0M215.8 446.4h0M222.6 447.6h0M204.9 448.6h0M205.4 447.7h0M211.5 450.7h0M214.6 450.1h0M201.1 449.6h0M194.5 449h0M208.9 442.7h0M212.8 452.6h0M207.2 445.3h0M202.2 452h0M211.6 450h0M204.7 447.4h0M192.7 445.8h0M191.4 452.6h0M214.6 447.3h0M207.1 444.2h0M209.6 446.9h0M196.6 445h0M194.7 450.7h0M193.1 452.2h0M225.2 452.2h0M198.1 452h0M209.6 449.9h0M202.8 443.8h0M228.1 451.5h0M196.1 447.5h0M194.2 441.1h0M201.3 450.6h0M196.7 448h0M201.3 447.4h0M212.6 451.1h0M108.7 458.5h0M95.4 458.7h0M109.5 452.2h0M108.7 453.1h0M90.5 456.5h0M97.5 458.6h0M90.2 452.8h0M103.9 458.9h0M94.5 452h0M106.7 452.8h0M92.8 457.9h0M106 457.9h0M104.1 456.3h0M105.6 457.1h0" stroke="#4f9a50" stroke-width="3.4" stroke-linecap="round" fill="none" opacity="0.6"/>
<path d="M177.9 459h0M188.5 458h0M177.9 458.8h0M183.8 458.4h0M171.8 459.7h0M189 454.4h0M172.3 458.6h0M178.5 458.2h0M186.1 454.3h0M163.9 455.2h0M185.3 457h0M180.6 459.9h0M188.8 454.4h0M191.7 456.9h0M174.9 458.7h0M160.6 454.8h0M181.2 459.3h0M184.6 456h0M191.7 455.4h0M164.9 455.6h0M176.8 459.7h0M167.3 458.5h0M160.8 457.9h0M177 459.1h0M163 456.5h0M190.4 455.1h0M187.9 457.9h0M174.8 459.2h0M159.9 456.6h0M165 456.5h0M161 459.7h0M162.3 456h0M186.3 455h0M165.6 455.8h0M180.4 458.1h0M179 459.2h0M175.3 459.7h0M174 459h0M190.4 455.3h0M166.5 458.8h0M173.9 459.7h0M183 460h0M172.4 459.2h0M185.9 455.2h0M164.3 456.2h0M177.3 459.4h0M179.4 458.8h0M179.3 457.7h0M179.6 458.4h0M165.3 457.5h0M168.7 458h0M169.7 457.8h0M191 457.2h0M180.1 458.6h0M161.4 455.7h0M175.6 460.1h0M169.6 459.7h0M160.4 454.7h0M185.1 454.4h0M163.2 460h0M164 457.1h0M164.7 458.4h0M168.2 459.3h0M181.2 459.1h0M184.1 455.1h0M177.8 458.7h0M184.6 457.2h0M176.6 460h0M173.5 458.6h0M167.2 459h0M161.9 456.4h0M188.3 457.5h0M175.7 459.1h0M172.1 459.1h0M162.6 455.2h0M191.2 457.1h0M168.7 458.5h0M160.8 455.1h0M168.6 457.4h0M167 459.3h0M163.3 457.3h0M180.6 457.4h0M160 453.5h0M164.9 455.9h0M191.5 459.1h0M169.8 460h0M162.6 458h0M168.7 458.4h0M175.3 459h0M179.9 458.8h0M170.9 459h0M159.9 454h0M164 456.4h0M188.8 459.3h0M167.5 457.7h0M177.4 458.6h0M165 456.8h0M186.8 457.8h0M174.6 459.2h0M184.5 454.9h0M184.3 457.8h0M188.2 455h0M179.4 458.7h0M178.1 459h0M167.9 459h0M171.3 458.2h0M179.2 459.1h0M182.2 458.8h0M166.9 459.7h0M184.4 456.7h0M190.6 456.1h0M179.8 459.3h0M159.9 459.4h0M165.6 456.2h0M164.5 456.1h0M168.4 457.3h0M188.7 455.6h0M169.6 458.5h0M161.2 453.9h0M167 459.6h0M159.4 455.7h0M191.2 459.6h0M174.3 459.6h0M187.3 454.4h0M165 456h0M161.4 454.4h0M189.7 457h0M168.9 458.8h0M173.3 458.5h0M179.1 460.1h0M179.4 459.7h0M182.2 458.4h0M181 459.7h0M168 458.1h0M176.2 460h0M172.2 459.6h0M174.5 459.5h0M176.5 459h0M160.2 454.7h0M187.1 459.5h0M173.9 459.4h0M167 459.5h0M160.6 455.8h0M164 459.2h0M164.7 457.6h0M175.2 458.8h0M175.9 458.8h0M177.9 459.5h0M173.4 458.6h0M169.7 458.8h0M182.2 457h0M162.9 456.2h0M190.4 452.6h0M173.7 458.9h0M178.4 458.9h0M187.2 452.3h0M182.3 456.6h0M164.5 456.5h0M187.5 455.3h0M183.5 455.3h0M168.1 458.4h0M190 455.2h0M176.8 458.9h0M179.1 458.1h0M176.7 460h0M168.3 458h0M187.6 454.3h0M188.2 456.2h0M187.7 454.3h0M183.3 456.2h0M191 452.7h0M175.8 460h0M161.9 459.1h0M190.4 452.3h0M178.3 458.6h0M172.2 458.6h0M162.1 456.7h0M163.5 458.3h0M181.4 459.9h0M160.7 453.4h0M176.9 459.5h0M188.2 454h0M159.9 458.6h0M180.7 458.6h0M161 455h0M170.8 459h0M179.8 457.8h0M180.3 459.6h0M160.3 453.7h0M166.9 459.8h0M187.8 454.8h0M159.4 459.5h0M162.3 459.5h0M178.7 458.1h0M190.7 458.9h0M172.6 458.3h0M187.3 454.9h0M168.9 458.3h0M172.8 459.5h0M176.8 458.8h0M184.2 456.7h0M169 458.7h0M172.1 458.7h0M191.7 453.3h0M167.5 457h0M178.9 459.6h0M172.3 458.6h0M172.7 458.5h0M169.9 459.6h0M184.6 456.2h0M168.7 459.7h0M166 458.8h0M160.6 457.9h0M165.4 459h0M186.3 456.2h0M176.2 459.7h0M166.2 458.9h0M184.7 455.8h0M162.4 459.1h0M182.1 458.9h0M171.4 458.3h0M162.1 459.3h0M191.1 458.7h0M165.5 456.9h0M167.1 457.8h0M185.4 456.7h0M171.4 460h0M163.2 454.7h0M178.7 459.3h0M171.5 459.9h0M175.7 459.5h0M189.3 453.6h0M181.6 458.1h0M187.3 457.7h0M183.2 459.4h0M165.4 456.7h0M185.8 458.4h0M159.2 457.1h0M164.8 460h0M160.7 459.4h0" stroke="#4d4d4d" stroke-width="3.4" stroke-linecap="round" fill="none" opacity="0.9"/>
<path d="M191.8 458.8h0M165.9 456.3h0M188.5 453.4h0M169.5 458.7h0M183 456.6h0M175.9 459.6h0M183.1 459.6h0M186.8 457.3h0M179.4 457.9h0M186.9 457.1h0M185 458.1h0M191.2 453.9h0M181.4 456.9h0M168.8 457.9h0M177.5 459.9h0M170.5 459.4h0M171.4 459.3h0M189.3 457.7h0M171 458h0M159.9 459h0M183 457.4h0M159.7 453.7h0M188.8 455.6h0M182 458.8h0M174.5 459.2h0M165.6 458.6h0M169.1 457.4h0M189.7 452.6h0M181.5 459.6h0M183.3 455.5h0M191.5 453.9h0M180.3 458.1h0M177.2 459.5h0M173.8 459.7h0M178.6 458.2h0M162.2 459.3h0M163.8 455.7h0M187 459.7h0M169.9 458.9h0M179.1 459.7h0M184.6 458.7h0M173.5 459.4h0M186.8 456.2h0M165.6 458.8h0M162.3 454.8h0M177.6 459.2h0M169.2 457.5h0M163.4 454.9h0M189.9 459.6h0M168.9 460.1h0M181.5 460h0M180.5 458.2h0M161.9 456.1h0M190.4 454.2h0M161.3 456.2h0M165.6 458.3h0M179.3 457.8h0M170.7 459.5h0M191.2 451.9h0M183.6 456.3h0M180.2 459h0M168.4 460.1h0M181.2 457.9h0M178.6 459.8h0M184.2 456.2h0M174.3 459.7h0M189.4 455h0M166.4 457.2h0M179.3 459.5h0M166.3 457.9h0M173.2 458.7h0M165.4 458.2h0M190.9 452.3h0M178.2 458.4h0M167.7 459.7h0M183.6 458.3h0M166.8 459.2h0M189.3 460.1h0M178.8 459.8h0M160.3 459.2h0M184.3 457.3h0M184.7 459.5h0M167.7 457.1h0M173.5 460.1h0M159.9 454.4h0M159.5 457.2h0M181.6 456.6h0M182.2 456.9h0M174.2 459h0M187.6 457.5h0M161.2 456h0M170.5 458h0M178.3 459h0M189.2 457.6h0M172.7 459.9h0M159.4 457.3h0M184.9 459.3h0M183.7 459.5h0M175.3 459.2h0M180.4 459.6h0M182 457.4h0M166.7 458.5h0M165.5 456.4h0M165.9 458h0M170.3 458.6h0M183.7 455.2h0M172 460h0M159.9 453.7h0M183.3 456.5h0M160 456.3h0M168.8 458.5h0M184.5 455.4h0M175.5 460h0M191.8 452.7h0M178.2 458.2h0M159.7 458.5h0M166 457.1h0M172.7 460h0M187.6 456.4h0M190.5 455.4h0M183.9 458.5h0M162.8 456.5h0M181.9 456.5h0M168.6 459.2h0M181.3 458.1h0M163.9 457.4h0M174.1 458.7h0M171.6 459.3h0M185.5 459.8h0M161.7 456.3h0M172.3 459.4h0M171.7 458.5h0M176.8 459.8h0M187.4 457.2h0M184.5 459.1h0M176.1 459.7h0M179.2 458.5h0M188.5 456.1h0M174.2 459h0M172.2 458.7h0M174.8 458.7h0M184.2 455.6h0M187.2 454.5h0M173.7 459.5h0M165.4 459.8h0M164.2 459.1h0M173.9 459.8h0M162.9 456.4h0M171.7 459.8h0M168.6 458.8h0M178.5 459.1h0M166.7 457.2h0M168.2 458.6h0M172.8 459.5h0M186.7 453.2h0M178 459.3h0M182.5 457.7h0M188.9 456.1h0M167.8 456.8h0M179.1 458.4h0M171.7 458.7h0M159.4 457.9h0M178.3 459.7h0M176.1 458.9h0M191 459.7h0M185.8 458.7h0M162.1 457.3h0M187.4 458.4h0M160 459.4h0M171.3 459.5h0M191.7 458.6h0M181.4 458.7h0M188.9 452.4h0M176.6 459.3h0M165.6 458.1h0M160.7 455.6h0M166.4 456.2h0M166 459h0M179.4 458.8h0M175 460h0M162.6 455.4h0M174.1 458.9h0M178.2 459.7h0M185.9 453.5h0M161.1 456.4h0M183.4 460.1h0M188.2 455.7h0M165.9 455.9h0M167.9 458.3h0M187.4 455h0M182.7 459.6h0M187 459.8h0M161.3 457.8h0M164.7 459.9h0M183.3 455.7h0M169.4 459.6h0M169 460h0M177.8 459.6h0M161.6 455.9h0M185.5 457.5h0M189.1 458.1h0M163.6 457h0M185.5 459.5h0M183.8 458.9h0M160.7 459.2h0M176.1 459.4h0M165.8 456.8h0M164.2 458.9h0M169.1 459h0M184.8 456.9h0M190.3 454.6h0M177.8 459.2h0M177.8 458.6h0M172.9 459.6h0M166.3 458.1h0M178.7 458.4h0M164.2 458.5h0M189.4 456.7h0M175.9 459.9h0M174.7 459.5h0M160.4 453.9h0M165.5 456.3h0M177 459.2h0M174.2 459.7h0M160.3 454.4h0M160 455.2h0M169.4 459h0M173.1 458.8h0M175.9 459.4h0M186.5 456.5h0M172.9 458.5h0M160.7 457.4h0M185.7 458.2h0M174.3 459.7h0M185.2 455.8h0M161.6 457.3h0M179 459h0M191.7 459.6h0M176.5 459.7h0M161.7 455.7h0" stroke="#4d4d4d" stroke-width="3.4" stroke-linecap="round" fill="none" opacity="0.9"/>
<path d="M188.4 436.5h0M185.8 447h0M190.6 447.5h0M163.2 451.8h0M164.5 453h0" stroke="#555" stroke-width="3.4" stroke-linecap="round" fill="none" opacity="0.7"/>
<path d="M94.9 397h0M59.9 428.4h0M68 432.1h0M105.2 420.5h0M118.4 420.5h0M116.2 427.7h0M126.7 427.3h0M142 427h0M143.5 427h0M118.4 432.1h0M111.3 435.8h0M101.5 436.9h0M104.1 438h0M149 437.1h0M126.7 436.9h0M121.6 440.4h0M116.8 441.5h0M127.8 441.9h0M131.5 442.4h0M109.6 443h0M137 443.7h0M97.6 445.9h0M142.4 446.3h0M103 448.5h0M87.7 456.2h0M92.7 455.5h0M105.2 459h0M120.1 459.9h0M149 448.5h0M153.4 449.8h0M112 447h0M115 449h0M108 446h0M124 450h0M130 451h0M135 449h0M192.7 402.5h0M197 399.2h0M209.1 394.9h0M213.5 394.9h0M218.3 394.9h0M215.7 400.3h0M223.3 398.1h0M223.8 400.8h0M235.4 394.9h0M240.8 394.2h0M244.6 394.9h0M248.5 398.8h0M256.2 402.1h0M261.2 397h0M267.1 399.9h0M281.3 394.9h0M318.6 394.2h0M243.7 406.2h0M212.8 409.1h0M195.5 410.2h0M260.1 410.8h0M198.8 413.9h0M200.3 418.9h0M210.8 418.5h0M224.4 420.5h0M228.4 420.5h0M247.4 420.5h0M266.7 418.9h0M217.8 425.1h0M270.4 428.4h0M290.8 428.4h0M243 427h0M231.6 427.3h0M195 427h0M199 428h0M203.5 426h0M207 428.5h0M198 432h0M202 433h0M206 431.5h0M212.4 434h0M215.7 435.4h0M222.7 434.3h0M229.9 436.5h0M231.4 435h0M241.5 431.6h0M242.2 430h0M247.4 434.3h0M255.5 432.7h0M257.3 433.6h0M281.3 433.2h0M280.7 435.8h0M226.6 435.8h0M239.3 437.1h0M193 437h0M196 439.5h0M199 441.5h0M202.5 443h0M227 441.5h0M212.4 443h0M214.5 443h0M240.8 442.4h0M295.6 443h0M198 445.2h0M213.5 446.7h0M223.3 447h0M234.3 447.4h0M242.4 445.2h0M248.9 447.4h0M228.8 451.3h0M232.7 454.6h0M238.6 454h0M239.3 456.2h0M245.9 456.4h0M250.3 454.2h0M254.6 455.5h0M257.9 455.5h0M305.9 454h0M238.6 459.9h0M227.7 459.9h0M305.8 453.8h0M195 448h0M205 450h0M210 449h0M218 451h0" stroke="#4f9a50" stroke-width="3.5" stroke-linecap="round" fill="none" opacity="0.62"/>
<path d="M210.8 295.8h0M218.7 295.8h0M224.6 297.1h0M233.4 297.1h0M268.8 297.1h0M276 295.8h0M279.3 295.8h0M281.1 332.6h0M211.2 350.7h0M255.7 350.7h0M262.3 350.7h0M294.2 350.7h0M219.6 363.9h0M202 375.9h0M229.9 376.8h0M241 375.9h0M306.7 379.6h0M201 389.9h0M208.2 388h0M282 386.4h0M292.9 386.4h0" stroke="#f3805f" stroke-width="3.6" stroke-linecap="round" fill="none" opacity="0.95"/>
<path d="M159.4 287.5V468.2M191.6 287.5V468.2" stroke="#222" stroke-width="0.9" fill="none" stroke-dasharray="3.9 1.8 0.9 1.8"/><path d="M47.4 392.9H332.6" stroke="#222" stroke-width="0.9" fill="none" stroke-dasharray="3.9 1.8 0.9 1.8"/>
<text x="263.8" y="288.8" font-size="9.5" text-anchor="start" font-weight="normal" fill="#222" >DYRK2</text><text x="268.8" y="324.9" font-size="9.5" text-anchor="start" font-weight="normal" fill="#222" >ISG15</text><text x="251.3" y="346.8" font-size="9.5" text-anchor="start" font-weight="normal" fill="#222" >IDO1</text><text x="284.6" y="349" font-size="9.5" text-anchor="start" font-weight="normal" fill="#222" >PTN</text><text x="229" y="374.2" font-size="9.5" text-anchor="start" font-weight="normal" fill="#222" >TSHR</text><text x="290.3" y="375.7" font-size="9.5" text-anchor="start" font-weight="normal" fill="#222" >SFRP1</text>
<text x="361" y="221" font-size="19" text-anchor="start" font-weight="bold" fill="#000" >c</text>
<rect x="389.1" y="230.2" width="287.2" height="16.6" fill="#ff9b9b"/>
<text x="532.6" y="243.4" font-size="13" text-anchor="middle" font-weight="bold" fill="#000" >Severe disease vs. Controls</text>
<text x="530" y="263" font-size="12.8" text-anchor="middle" font-weight="normal" fill="#000" xml:space="preserve">Down = 1467 proteins,  Up = 494 proteins</text>
<path d="M389.9 289.2V468.6H683.5" stroke="#3a3a3a" stroke-width="1.1" fill="none"/><path d="M385.7 460.8H389.9" stroke="#3a3a3a" stroke-width="1.1"/><text x="381.7" y="465.3" font-size="12.8" text-anchor="end" font-weight="normal" fill="#111" >0</text><path d="M385.7 417.5H389.9" stroke="#3a3a3a" stroke-width="1.1"/><text x="381.7" y="422" font-size="12.8" text-anchor="end" font-weight="normal" fill="#111" >3</text><path d="M385.7 374.1H389.9" stroke="#3a3a3a" stroke-width="1.1"/><text x="381.7" y="378.6" font-size="12.8" text-anchor="end" font-weight="normal" fill="#111" >6</text><path d="M385.7 330.8H389.9" stroke="#3a3a3a" stroke-width="1.1"/><text x="381.7" y="335.2" font-size="12.8" text-anchor="end" font-weight="normal" fill="#111" >9</text><path d="M396 468.6V472.8" stroke="#3a3a3a" stroke-width="1.1"/><text x="393.8" y="487.6" font-size="12.8" text-anchor="middle" font-weight="normal" fill="#111" >-2</text><path d="M485.3 468.6V472.8" stroke="#3a3a3a" stroke-width="1.1"/><text x="485.3" y="487.6" font-size="12.8" text-anchor="middle" font-weight="normal" fill="#111" >0</text><path d="M574.6 468.6V472.8" stroke="#3a3a3a" stroke-width="1.1"/><text x="574.6" y="487.6" font-size="12.8" text-anchor="middle" font-weight="normal" fill="#111" >2</text><path d="M663.9 468.6V472.8" stroke="#3a3a3a" stroke-width="1.1"/><text x="663.9" y="487.6" font-size="12.8" text-anchor="middle" font-weight="normal" fill="#111" >4</text>
<text x="538.8" y="498.8" font-size="12.8" text-anchor="middle" fill="#111">Log<tspan font-size="9.2" dy="3">2</tspan><tspan dy="-3"> fold change</tspan></text>
<text transform="translate(361.5 382.4) rotate(-90)" x="0" y="0" font-size="12.8" text-anchor="middle" fill="#111">- Log<tspan font-size="9.2" dy="3">10</tspan><tspan dy="-3"> q−value</tspan></text>
<path d="M478.3 456.1h0M488.2 452.7h0M478.7 451.2h0M483.3 455h0M499.1 450.1h0M480.8 453.5h0M479.9 447.4h0M473.7 457.5h0M490.6 448.5h0M485.8 458h0M496.9 451.2h0M491 455.8h0M473.5 458.2h0M497 448.4h0M488 452.6h0M475.6 457h0M471.2 448.3h0M485 458h0M492.7 452.2h0M499 455.4h0M471.8 454.7h0M470.9 454.5h0M473.8 458.1h0M479.9 460.1h0M486 462.3h0M483.5 459h0M497.4 446.8h0M487.2 454.1h0M484 456.1h0M494 459h0M473.1 455.5h0M483.7 454.3h0M493.9 454.3h0M499.1 457.6h0M491.6 457.8h0M473.7 458.7h0M476.6 456.3h0M474 446.8h0M489.4 455.9h0M484.4 457.4h0M496.8 455.8h0M487.3 451.8h0M499.2 454.9h0M479.3 451.3h0M485.8 457.3h0M492.3 448h0M472.5 448.4h0M493.8 450h0M491.6 457.1h0M471.8 449.9h0M496.8 455.8h0M476.2 453.3h0M488.7 457.7h0M490.3 450.2h0M496.9 446.9h0M483.3 455.7h0M499.7 455h0M477.4 459.1h0M473.2 456.8h0M485.1 460.8h0M490 447.3h0M477 447.2h0M478.1 458h0M494.8 453.5h0M478.4 450.1h0M480.1 458.2h0M479.4 459.8h0M489.9 457.9h0M493.5 448.5h0M472 452h0M477.1 447.8h0M473.8 453.5h0M480.7 453.8h0M491.9 458.9h0M475.4 457.8h0M481.7 456.1h0M497.6 447.3h0M486.6 459.3h0M486.9 456h0M493.4 458.1h0M494.6 455h0M472.2 452.7h0M490.1 448.6h0M494.2 454.8h0M473.3 449.7h0M482.7 452.7h0M490.5 459h0M479.5 455.4h0M476 449.2h0M478.9 450.7h0M496.3 456.4h0M489.6 451.1h0M497.7 455.4h0M476.6 456.7h0M495.5 452.6h0M492.3 451.5h0M471 447.4h0M487.7 459.5h0M496 455.9h0M486 459.8h0M492.3 451.6h0M486.4 453.6h0M472.1 454.3h0M472 450.4h0M489 457.8h0M477 453.7h0M489.7 459.7h0M481.5 457.7h0M487.4 453h0M494.9 448.6h0M472 450.6h0M482.6 460.3h0M475.7 449h0M483 454.1h0M494.4 454.7h0M488.6 450.6h0M487.5 458.1h0M489.9 449.4h0M496.8 447.7h0M482.5 455.5h0M496.6 451.2h0M497.8 452.2h0M470.7 449h0M471.9 449.8h0M473.4 448.7h0M491 446.8h0M490.4 456.9h0M472.8 456.6h0M497.4 457.2h0M487.5 457.2h0M494.9 453.2h0M484.1 458.8h0M485.9 461.1h0M493.5 446.8h0M477.1 449.1h0M493.6 453.3h0M477.7 452h0M498.1 448.7h0M470.6 447h0M485.6 462h0M493.1 455h0M485.7 461.9h0M483.6 460.5h0M498.2 449.3h0M496 453.1h0M491.2 449.9h0M497.6 447.7h0M475.9 456.8h0M492.9 456.2h0M480.8 453.8h0M476.1 453.6h0M488.3 460.2h0M498.5 447.1h0M493.2 458.6h0M490.4 447.1h0M493.7 451.6h0M495.5 448.1h0M497.3 454.8h0M489.6 452.4h0M485 457.7h0M476.2 446.5h0M480.5 451.5h0M486.5 456.1h0M498 448.2h0M486.1 459.8h0M489.2 455.3h0M475 451.1h0M486.7 456.3h0M498.9 455.9h0M499.6 456.5h0M473.1 455.5h0M473.6 453.6h0M486.3 453.7h0M478.1 454.7h0M487.2 451.8h0M488.7 457.5h0M496.4 457.6h0M493.2 453h0M477.5 456.8h0M488.2 455.2h0M498 447.1h0M479.2 458.7h0M496.4 453.2h0M491.2 450.7h0M474.5 450.3h0M476.3 451.2h0M478.7 451h0M478.8 455.4h0M477.5 452.7h0M482.8 456.5h0M472.8 447h0M486.8 458.8h0M485.9 459.3h0M482.8 456.6h0M483.9 460.9h0M496.4 457.3h0M486.1 461.6h0M492.3 446.4h0M494.2 452.1h0M498.5 450.5h0M490.7 458.5h0M474 452h0M493.2 455.1h0M489.3 459.1h0M489.2 460.3h0M484.9 459.4h0M495.9 446.9h0M471.2 457.9h0M479.4 458.7h0M476.4 452.9h0M497.8 457.1h0M481.2 454.6h0M479.3 454h0M487 461.5h0M475 452.8h0M482.5 458.8h0M490.1 455h0M495 449h0M490.8 455.2h0M493.6 457.8h0M499.6 456.6h0M498.6 456.7h0M476.2 454.1h0M494.9 453.1h0M476.9 458h0M478.4 447.4h0M487.2 456.4h0M485.4 461.5h0M470.6 449.1h0M494.1 456.8h0M495.8 449.2h0M498.8 452.9h0M483.9 454h0M482 457.5h0M475.4 454.4h0M482.3 449.9h0M497.8 453.1h0M494.9 455.7h0M486.1 457h0M477.4 459.3h0M498.2 454.5h0M474.7 452h0M480.9 457.6h0M476.4 458.6h0M481.2 454.4h0M479.4 448.7h0M471.7 452.9h0M499.2 450.9h0M474.6 451.9h0M491.8 448.2h0M494.6 453.8h0M494.2 452.9h0M496.4 449.8h0M492.2 459.6h0M486.5 457.9h0M491.1 449.4h0M482.8 453.1h0M470.9 447.3h0M492.2 454h0M488.5 457.2h0M481.9 451.9h0M494.2 451.1h0M498.3 452.2h0M470.9 452.5h0M472.6 452.3h0M472 449.6h0M487 458h0M478.1 448.2h0M498.2 446.5h0M485.3 457.9h0M480 448.4h0M471.1 447.2h0M479.8 447.2h0M496.8 455.1h0M498.1 456.2h0M474.8 455.8h0M487.2 453.1h0M480.1 447.6h0M488.5 451.6h0M474 450.7h0M477.8 447.7h0M481.8 455.4h0M493 457.8h0M499.8 454.6h0M477.2 458.3h0M478 453.6h0M475.8 449.3h0M499.3 456h0M479.4 453.4h0M494.5 449.9h0M483.1 451.2h0M498.7 449.1h0M494.2 446.9h0M482.4 461.5h0M473.4 452h0M479.6 447.6h0M492.8 447.2h0M495.5 456.5h0M490.7 459.7h0M493.5 458.9h0M494.9 453.9h0M479.3 453.6h0M498.3 449.6h0M474.6 456.2h0M490.2 455.5h0M473.7 452h0M500 456.2h0M482.1 458.5h0M485.9 455.7h0M478.3 452.3h0M492.3 449.3h0M491.2 459.7h0M483.4 451.9h0M480.1 448.2h0M474.4 447h0M472.8 455.8h0M498 452h0M478.8 451.7h0M473.3 447.2h0M496 457.4h0M499.7 449.7h0M485.7 461.6h0M490.5 454.5h0M492.6 457.4h0M494.8 451.7h0M499.5 454.4h0M493.6 450h0M473.4 457.2h0M482.2 450.6h0M493.9 453.9h0M485.7 461.6h0M495 454.7h0M486.8 452.9h0M498.8 446.8h0M490.6 460.5h0M473.5 456.7h0M481.4 452.8h0M471 450.1h0M491.8 447.7h0M476.7 458.6h0M483.9 454.4h0M483 456.4h0M473.7 450.7h0M489.3 458.3h0M494.8 457.7h0M497.2 457.3h0M488.4 461.3h0M480.5 446.7h0M494 446.8h0M486.7 454.7h0" stroke="#4d4d4d" stroke-width="3.2" stroke-linecap="round" fill="none" opacity="0.95"/>
<path d="M494.6 458.3h0M476.1 458.8h0M487.1 460.4h0M483 454.9h0M482.1 459.1h0M496.8 449.1h0M484.4 456.6h0M476.5 447.9h0M489.6 455.2h0M496 453.5h0M495 452.9h0M486 460.6h0M491.3 454.1h0M481.9 448.7h0M482.6 459.3h0M488.4 460.1h0M473.5 453.1h0M485.4 456.2h0M488.8 454.7h0M490.9 452.7h0M497.9 449h0M470.9 448.3h0M499.5 452.8h0M482 456.8h0M474.9 456.5h0M488.6 457.7h0M472.3 455.8h0M472.5 456.2h0M497.2 448h0M499.3 450.8h0M488.9 456.2h0M494.8 452.3h0M499.3 451h0M496.6 451.9h0M486.7 459.4h0M497.3 450.4h0M484.3 455.3h0M498.4 455.4h0M491.1 459.4h0M489 451.8h0M475.1 454.2h0M491.5 450.1h0M478.2 454.4h0M498.6 456.4h0M485.1 456.2h0M473.9 456.4h0M498.9 458h0M497.3 455.3h0M472.8 449.4h0M478.9 453.6h0M484.4 459.3h0M475.9 449h0M499.2 454h0M478.4 460.1h0M475.6 457.4h0M499.7 446.8h0M488.2 456.3h0M475.5 454.7h0M471.9 450.8h0M486.1 458.9h0M481 451.6h0M488.8 459.3h0M475.8 455.4h0M478.7 454.5h0M472.3 454.9h0M492.3 457.8h0M492.8 455.1h0M471.2 454.2h0M480.8 448.6h0M478.2 454.1h0M479.5 447.1h0M483.6 455.1h0M472.6 454.7h0M484.2 460.1h0M494.5 450.5h0M492 451.9h0M484.8 457.4h0M483.9 455.5h0M484.9 455.5h0M494.6 447.4h0M481.4 457.9h0M495.6 449.3h0M490 457.7h0M496.8 454.7h0M473.7 448h0M472.1 451.8h0M488.5 459.7h0M488.8 459.7h0M491.7 454.1h0M484.4 459.6h0M494.3 451.4h0M492.6 448h0M475.4 447.7h0M494.3 446.8h0M481.6 447.9h0M470.9 455.6h0M477.5 457.7h0M486.7 453.4h0M497.6 453.7h0M500 454.3h0M490.9 459.2h0M487.2 459.9h0M492.5 459.8h0M496.6 453.4h0M478.6 453.7h0M474.9 447.3h0M476.3 448.6h0M471.3 450.1h0M475.6 449.6h0M492.6 454.1h0M471.3 457h0M483.9 454.2h0M500 457.4h0M492.1 456.4h0M476.5 452.8h0M490.1 459.8h0M491.3 459.9h0M471.7 458h0M475.8 447.4h0M484.4 459.5h0M498 450.9h0M484.6 457.8h0M474.7 447.1h0M493.2 452.6h0M480 456.7h0M473.4 453.3h0M497.8 451.2h0M474.8 453.3h0M475 456.5h0M482.9 460.1h0M496.1 458.7h0M495.4 450.3h0M490.7 447.9h0M488 458h0M494.5 451.2h0M495.7 450.3h0M489.9 458.1h0M474.8 456.3h0M475.7 448.5h0M476.8 456.3h0M474.7 447h0M499.2 450.1h0M491 459.3h0M491.6 449.6h0M494.5 458.1h0M476.8 458.3h0M473.8 451.5h0M497.9 450.4h0M493.4 450.8h0M477.9 451.9h0M495.8 450.7h0M494.8 451.3h0M498 452h0M471.9 448.9h0M479.5 453.6h0M495.6 454.1h0M497.2 453.8h0M488.1 450h0M481.2 453.8h0M486.5 459.4h0M488.8 459.1h0M477.6 447.8h0M490.1 458.6h0M474.9 451.9h0M481.6 457.8h0M473.5 455.9h0M486.9 458.2h0M476.9 459.1h0M477.7 450.4h0M482.4 451.3h0M488.7 450.7h0M488 455.2h0M499.6 455.5h0M473.5 456.9h0M479.2 457.7h0M471 456.8h0M489.5 455.1h0M477.4 457.1h0M478 456h0M472.6 453.3h0M480 458.6h0M478.2 447.4h0M486.8 455.5h0M492.3 452h0M490.3 458.6h0M481.9 450.9h0M488.7 460h0M479.5 459.3h0M477.2 451.3h0M476.7 449.2h0M487.9 450.7h0M481.5 448.3h0M475.2 457.3h0M494.3 458h0M478 453.4h0M475.7 450.2h0M490.6 447h0M492.5 455.7h0M473.3 454.2h0M481.5 451.4h0M484.1 455.1h0M474.1 455.4h0M494.8 449.9h0M483.9 454h0M485.4 459.4h0M494.5 452.5h0M496.9 449.2h0M475.6 452.7h0M497.9 453.3h0M499.5 449.6h0M492.4 455.5h0M484.2 455.4h0M483.3 455.5h0M495.7 450.9h0M497.1 447.8h0M498.6 449.5h0M496.1 456.6h0M486 459.5h0M482.8 458.6h0M485.2 459.5h0M487.2 459.6h0M497.6 450.7h0M478.7 453.7h0M499.6 447.4h0M490.7 455.6h0M487.6 458.8h0M494.1 454.2h0M495.6 447.4h0M499.2 448h0M499.8 453.6h0M488.4 449.3h0M484.5 455h0M477.3 456.5h0M483.9 460.1h0M475.8 455h0M482.9 455.1h0M478.7 452.4h0M492.3 453.6h0M484.4 460.7h0M496.5 450.7h0M487 456.3h0M488.4 456.1h0M472.8 451.2h0M499.5 447.6h0M476.6 446.5h0M492.6 459.9h0M471.5 447.3h0M479.6 457.6h0M475.2 456.4h0M489.2 447.8h0M481.1 458.3h0M496.4 452.7h0M487.4 454.1h0M494.4 458.1h0M493 457h0M480.7 452.5h0M496.6 452.5h0M487.9 459.6h0M475.7 455h0M474.7 458.4h0M480.7 455h0M499.5 448.3h0M493.4 446.4h0M492.5 457h0M472.5 456.5h0M472 447.3h0M474.9 454.1h0M485.6 462.3h0M499.8 454.7h0M473.8 453.5h0M471.3 447.2h0M484 460.4h0M476.2 448.8h0M487.8 455.9h0M481.6 452.3h0M493.2 451.2h0M477.7 447.5h0M492 450.2h0M479.8 450.2h0M499.2 446.8h0M488.1 456.4h0M483.9 453.3h0M493.6 451.8h0M492.4 453h0M497 458.5h0M479.1 452.7h0M487.8 454.5h0M484.3 460.9h0M492.9 457.5h0M484.6 455.4h0M499 453.2h0M486.2 457.2h0M497.3 446.9h0M474.6 454.2h0M474.1 455.1h0M484.3 461.3h0M491.6 460.4h0M494.7 448.7h0M481.4 459.5h0M483.6 454.8h0M473 447.8h0M470.6 454.3h0M491.7 452.5h0M498.6 456.9h0M492.1 458.3h0M478.2 449.3h0M477.9 457.7h0M488.5 456.7h0M496 456.8h0M484.5 462h0M483.3 460.6h0M472.4 451.5h0M478 457.7h0M491.1 460.6h0M487.3 457.5h0M471.1 448.1h0M493.9 457.9h0M490.7 452.1h0M477.9 450.7h0M484.1 456.7h0M483.3 454.6h0M477 451.4h0M478.2 459.5h0M491.6 447.2h0M472.2 449.9h0M495.3 452.3h0M479.5 453.8h0M479 450.4h0M490.1 447.6h0M473.7 452.7h0M475 446.6h0M471.4 454.9h0M471.3 449.6h0M488.1 452.2h0M478.7 447.2h0M488.8 449.5h0M499.4 448.2h0M473.8 446.9h0M485.1 462h0M492.8 448h0M476.9 453.9h0M471.4 456.1h0M484.7 454.6h0M473.7 450.3h0M485.8 455.2h0M485.1 456.5h0M480.9 457h0M494.7 446.4h0M482.8 451.2h0M476.5 448h0" stroke="#4d4d4d" stroke-width="3.2" stroke-linecap="round" fill="none" opacity="0.95"/>
<path d="M463.8 452.6h0M461.6 449.1h0M454.2 448h0M457.1 449.4h0M452.6 446.4h0M461.7 447.5h0M469.3 447.8h0M466.2 454.9h0M466.3 446.5h0M469.9 446.6h0M469.1 455.7h0M455 448.1h0M465.5 446.5h0M468.9 451.9h0M469 449.1h0M463.5 450.8h0M453.8 448.1h0M471 453.9h0M456.5 446.7h0M464.9 449.2h0M462.4 448.8h0M457.9 448.9h0M456.7 451h0M470.7 447.8h0M453.9 447.6h0M469.1 448.2h0M461 448.5h0M470.5 449.7h0M460.8 449.4h0M465 452h0M457.1 450.3h0M459.7 447.2h0M453.8 448.1h0M460.6 446.5h0M467.2 452.3h0M470 447.2h0M453.5 449.4h0M466.5 449.6h0M459.9 451.3h0M458.6 449.2h0M470.2 456.1h0M461.5 452.5h0M467.1 449h0M469 447.4h0M460.8 447.9h0M460.4 449.4h0M449.4 446.8h0M452.3 446.8h0M453.2 447.6h0M469.5 451h0M465.1 448.3h0M450.1 447h0M451.1 448.2h0M469.7 447.7h0M470.8 448.9h0M470.8 447.8h0M461.9 451.2h0M464.3 448.7h0M470.6 453.2h0M460 452.3h0M459.6 451.7h0M456.7 446.4h0M467.7 452.8h0M469.1 446.8h0M466.3 446.7h0M457 450.2h0M464.5 450.6h0M464.1 449h0M470.8 457h0M449.4 446.7h0M453.7 448.9h0M463.2 449.3h0M461.1 452h0M455.7 447.1h0M462.7 451.9h0M455.1 450.7h0M449.5 447.5h0M455.7 446.7h0M455.9 447.2h0M466.3 452.8h0M470.5 449.5h0M449.3 446.8h0M468.3 448.1h0M469.8 456.1h0M452.7 447.4h0M464.9 455.2h0M465.8 446.6h0M461.2 447.1h0M455.2 446.9h0M461.8 451.5h0M470.9 452h0M467.2 451.9h0M470.8 450.1h0M449.7 447.3h0M451.2 446.5h0M467.7 456.2h0M457.4 450.7h0M467.2 446.9h0M454.9 447.2h0M459 450.6h0M461.2 451.6h0M451 447.8h0M455 446.5h0M450.8 448.7h0M470.6 451.8h0M469.4 448.7h0M470.1 453.4h0M462.5 447.5h0M457.7 446.5h0M453.9 447.3h0M451.2 447.8h0M450.6 447.3h0M461.7 452h0M470 447.5h0M465.2 449.4h0M452.8 447.9h0M457.8 448.7h0M454.5 446.6h0M466.5 447.6h0M464.9 446.9h0M464.6 452.3h0M459.5 449.8h0M462.2 451.8h0M469.2 451h0M450.8 447.9h0M467 454.7h0M466.4 452.1h0M459.6 447.9h0M467.3 451.1h0M467.3 447.7h0M463.5 447.3h0M468.5 448.9h0M458.2 450.4h0M462.2 446.7h0M466.3 449.7h0M470.6 448.6h0M451.9 446.6h0M462.6 451h0M455.6 448.4h0M461.6 448.4h0M456.9 449.2h0M451.7 446.9h0M458.4 449.1h0M466.6 455.2h0M455.7 446.9h0M467 448h0M454.6 449.2h0M453 446.7h0M452.3 446.9h0M451.1 447.7h0M463.6 447.2h0M463.1 454.2h0M468.7 456.4h0M468.6 451.4h0M463.1 448.2h0M450.7 447.3h0M456.6 446.7h0M470 453.7h0M468 447h0M452.1 446.6h0M454.9 449.1h0M469.3 457h0M465.5 449h0M470.9 452.7h0M455.9 449.1h0M452.8 448h0M452.3 447.8h0M459.3 450h0M464.6 446.8h0M457.4 447.9h0M452.4 446.7h0M464.3 448.9h0M465.8 453.1h0M452.7 446.7h0M463.2 450.8h0M469.9 448.4h0M469.6 450.8h0M460.3 449.3h0M451.4 448.8h0M470 447.7h0M467.8 452.9h0M455.6 448.7h0M454.6 447.5h0M460.2 447.1h0M469.9 451.2h0M459.1 446.8h0M458.6 449.6h0M463.4 450.4h0M462.9 447.9h0M469.4 452.7h0M450.9 448.4h0M468.5 451.7h0M451.8 447.1h0M453.1 446.7h0M459.3 448.1h0M457.6 450.6h0M459.6 452.1h0M462.2 446.8h0M451.3 446.7h0M459 448.4h0M452.6 446.8h0M456.3 447.6h0M451.8 448.2h0M450.5 447.4h0M467.2 451.5h0M461.5 450h0M454.3 446.6h0M456.1 449.5h0M453.4 447.7h0M469.3 447.3h0M452.8 446.9h0M469.5 453.9h0M450.5 448h0M468.6 447.6h0M459.2 446.8h0M463.2 453.5h0M471 457.2h0M469.2 451.7h0M468.6 452.6h0M465.1 450.5h0M462.1 447.6h0M466.6 451.4h0M465.2 448.2h0M463.3 448h0M469.3 446.8h0M504.6 452h0M502.4 451.1h0M507.4 450h0M510.5 447.5h0M507.4 448.9h0M502.4 446.9h0M514.8 447.6h0M508.2 448.8h0M501.9 447.2h0M514.3 448.3h0M515.9 447.5h0M505.6 448.5h0M508.9 449.9h0M514.1 448.5h0M507.4 451.3h0M504.2 446.6h0M508.8 447.4h0M503.4 448.5h0M507.2 451.6h0M507.2 451h0M508.5 447.8h0M504.5 448.9h0M514.1 448.1h0M501.2 448.9h0M508.1 447.2h0M505 449.5h0M505.7 450.2h0M503 450.3h0M499.7 447.2h0M513.6 447.5h0M506 447.6h0M504.8 447.6h0M502.9 446.6h0M510.7 446.9h0M502.3 449h0M512.1 449.6h0M502.6 446.4h0M502 450.1h0M500.7 447.1h0M499.8 449.5h0M508 449.8h0M503.9 452.4h0M506 448.7h0M515.4 447h0M509.5 448.7h0M501.7 450.9h0M504 447.6h0M510.1 446.5h0M514.5 446.8h0M513.6 448.6h0M500.8 454.1h0M507.3 448.2h0M516.4 448.4h0M513.3 448.5h0M509.5 447.9h0M506.5 447.3h0M501.5 453.5h0M499.8 453h0M501.3 450.7h0M509.6 450h0M512.5 447.7h0M505.3 446.9h0M509.7 448.7h0M512.8 446.8h0M506.7 451.9h0M502.3 447.8h0M506 447.6h0M509.2 449.9h0M516.3 446.6h0M512.6 447.3h0M513 448.3h0M503.5 449h0M512.6 446.6h0M499.9 447.6h0M513.9 447.1h0M504.2 450.8h0M512.9 447.5h0M509.5 447h0M516.5 446.5h0M506.5 450.3h0M499.7 453.3h0M503.9 449.6h0M510.4 451.2h0M513.2 447.2h0M505.9 448.2h0M502.7 449h0M513.4 449.7h0M510 451.4h0M506 449h0M500.1 447.4h0M500.4 446.9h0M515.4 448.2h0M509.9 448.1h0M502 450.3h0M500.3 449.9h0M514.7 446.9h0M511.8 446.8h0M504.6 448.9h0M500.7 448.4h0M503.6 450.6h0M505.1 449.9h0M511.7 446.9h0M511.7 449.2h0M505.2 449.6h0M500.7 448.9h0M510.2 446.7h0M511.9 448.3h0M516.5 446.4h0M510.7 447.9h0M500.4 454.7h0M501.6 448.8h0M502 448h0M505.8 450.6h0M516.5 446.6h0M500.2 449.8h0M510.2 449.6h0M513.5 447.2h0M512.9 448.1h0M503.4 447.2h0M511 450.5h0M506.1 447.4h0M503 449.8h0M503.2 451.1h0M515.3 447.6h0M500 447.9h0M509 453.5h0M469.5 456.1h0M524.3 447.5h0M523.3 447.3h0M454.5 452.3h0M467.3 456.1h0M462.4 452.5h0M470.9 456.9h0M457.3 450.8h0M506.6 454.9h0M469.9 456.1h0M509.1 454.4h0M513 450.7h0M449 449.2h0M511.8 455.2h0M453.3 449h0M466.8 455h0M466.7 455.5h0M454.2 453.4h0M451.5 449.7h0M525 448.4h0M447.2 450.2h0M465.4 454.9h0M517.7 450.4h0M457.5 451.2h0M515.9 450.4h0M446 448.5h0M504.2 454.3h0M516.2 452.7h0M462.7 453h0" stroke="#2a8c2f" stroke-width="3.2" stroke-linecap="round" fill="none" opacity="0.85"/>
<path d="M461.3 449.3h0M465.3 452.5h0M454.8 448.6h0M453.5 449.7h0M466.4 450h0M466.8 448h0M456.3 449.6h0M451.5 447.4h0M467.3 449h0M461.3 446.4h0M455.9 448.6h0M467.6 454.9h0M455.5 446.5h0M460.4 452.3h0M468.8 449.4h0M469 451.6h0M455 449.3h0M461.6 446.7h0M458.3 451.5h0M458.7 449.9h0M464.3 451.6h0M471 449.4h0M470.9 451.1h0M458.8 447.1h0M459.9 448.9h0M467.4 451.9h0M455.8 447.5h0M451.6 448.5h0M451.5 448.5h0M467.4 453.1h0M468 448.5h0M470.3 446.7h0M452.1 448.8h0M470.2 447.4h0M464.6 451.8h0M452.8 449h0M470.2 455.2h0M461.7 450.5h0M457.1 447.3h0M455 450h0M463.4 448.9h0M458.1 446.6h0M468.2 446.4h0M452.8 447.3h0M455.7 448h0M452.7 447h0M464.6 453h0M454 447.6h0M457.4 450.8h0M462.4 451h0M457.6 447.2h0M459.4 447.5h0M456.6 447.5h0M458 452h0M467.7 449.5h0M457.1 447h0M469.1 448.4h0M458.3 449.2h0M465.3 450.5h0M466.2 447.3h0M469.9 452h0M460.4 447.6h0M464.4 447.6h0M462.7 450.8h0M464 450.5h0M467.9 455.5h0M460 447.7h0M451.6 448.2h0M461.7 449.2h0M449.3 447.8h0M454.3 449.3h0M455.8 447.7h0M462.7 450.2h0M469.4 446.6h0M463.1 450.1h0M462.3 453.2h0M460.9 448.5h0M466.9 446.9h0M457.8 448.9h0M462.8 449.5h0M463.6 448.9h0M460.2 446.7h0M469.8 447.2h0M464 451.9h0M463.4 451h0M463.3 449.9h0M457.4 449.5h0M464.7 450.9h0M467.5 452.7h0M466.6 454.8h0M458.7 447.4h0M461.1 448.5h0M463.5 453.5h0M466.1 455.1h0M456.2 451.3h0M454.5 447.3h0M470.7 447.9h0M457.4 446.5h0M458.3 446.8h0M452.4 449.1h0M468.3 453.7h0M462.8 451.8h0M470.1 448.3h0M455.1 448.7h0M468.4 450.9h0M461.4 451.6h0M461.1 448.2h0M452.8 448h0M468.3 452.9h0M453.4 449.8h0M465.2 448h0M470.3 449.5h0M469.7 446.9h0M452.2 446.7h0M460.2 449.7h0M459.8 447.6h0M452.5 449h0M471 449.3h0M463.7 453.5h0M470.4 451.2h0M470.6 449.6h0M454.1 446.4h0M455.5 448.3h0M455.4 450.1h0M454.2 449h0M460.1 447.9h0M457.3 447.4h0M456.8 446.5h0M470.1 448.4h0M455.2 447.3h0M458.3 449.7h0M462.4 446.9h0M462.3 451.4h0M454.1 448.7h0M470.8 450.7h0M451.2 447.2h0M459.2 449.5h0M468.6 454.3h0M467.7 448.5h0M465.6 448.3h0M454 447.6h0M463.7 451h0M462.6 449.7h0M462.7 451.2h0M468.8 447.1h0M465.3 447.7h0M464.5 453.6h0M458.4 446.6h0M467.3 446.4h0M461.4 447.6h0M464.5 448.4h0M451.8 448.9h0M459.9 452.8h0M461 447.7h0M451.6 447.5h0M450.8 448h0M458.1 448.5h0M453.6 446.4h0M469.8 450.7h0M454.2 448.3h0M454 448.7h0M464.3 449.3h0M470.1 450.9h0M452.8 446.6h0M458.2 450.8h0M457.1 448h0M451.4 446.6h0M454.7 447.6h0M456.3 447.6h0M466.9 452.8h0M460.7 446.6h0M452.8 447.3h0M453.6 448.2h0M467.5 448.9h0M455.1 449.1h0M450.7 448.8h0M470.5 452.2h0M451.4 446.4h0M454.7 448.7h0M462.9 450.7h0M454 448.2h0M464.2 452h0M468 455.4h0M461.2 447.5h0M456.8 451.1h0M470.7 449.7h0M461.8 449.2h0M456.1 447h0M460.2 448h0M465.9 448.4h0M451.8 447.7h0M454.6 449.3h0M458.1 447.6h0M469.6 453.2h0M453 446.6h0M470.1 453.6h0M467.1 447.5h0M462 452.3h0M462.1 449.1h0M470 447.1h0M467.4 448h0M457.6 449.9h0M461.2 447.5h0M470.9 455.4h0M468.7 451.7h0M470.2 448.9h0M459.9 449.8h0M467.4 447.4h0M469.5 446.9h0M469.7 446.4h0M457.7 447.1h0M465.4 454.6h0M453.5 448h0M451.1 448.2h0M452.9 448.5h0M452 448.6h0M462.2 453.9h0M466.1 455.4h0M456.5 450.9h0M450.1 447.3h0M451.6 448.2h0M460.9 448.9h0M468 448.8h0M451.8 447.4h0M454 447h0M504.2 446.8h0M504.4 450h0M506 449h0M503.9 448.5h0M516.2 448.3h0M506.7 451.5h0M511 447.4h0M500.5 451h0M500.4 449.3h0M502.7 452.6h0M505.5 451.5h0M503.7 446.7h0M501.2 454.5h0M515.2 449.2h0M502.4 453.6h0M501.2 449.2h0M513.8 449h0M512.7 449.7h0M500.3 449.4h0M502.3 452.4h0M510.8 450.4h0M515 446.4h0M507.8 449.1h0M504.7 451.6h0M513.5 447.4h0M503.6 449.7h0M505.1 450.3h0M513.6 447.2h0M500.9 447.1h0M502.5 446.9h0M502.4 452.1h0M512.2 446.5h0M505.6 449.9h0M509.4 450.5h0M499.7 451h0M502.3 450.7h0M508.7 450.1h0M505 447.8h0M513.6 449.7h0M504.7 447.8h0M515.7 448h0M509.5 449.6h0M500 447.6h0M506.1 452.9h0M506.1 447.4h0M505.2 450.9h0M499.6 454.9h0M506 449.9h0M502 447.2h0M505.8 452.6h0M508.8 447.9h0M511.6 450.7h0M513 448.9h0M505.7 451.9h0M512 448.6h0M507.4 449.2h0M505.1 453h0M516.7 448.2h0M516.6 447.4h0M509.3 451.5h0M503.9 451.5h0M516 447.2h0M499.9 447.1h0M499.9 447.2h0M508.2 449.6h0M502.6 448.9h0M506.3 446.6h0M503.6 450.5h0M506.5 448.1h0M503.3 454h0M507.3 447.8h0M508.8 446.9h0M508.4 447.2h0M507 447.1h0M502.1 447.7h0M501.6 447.3h0M501.5 454.6h0M514.3 446.9h0M509.5 451h0M511.2 448.4h0M516.1 448.7h0M511.2 448.1h0M509.4 448.1h0M516 447.4h0M512 449.9h0M501.6 454.3h0M510.5 448.9h0M499.9 450.1h0M506 448.2h0M509.8 447.5h0M500.6 449.4h0M509.4 450.8h0M511.8 449.6h0M506 449.5h0M515.3 449h0M508 447.2h0M506.3 446.4h0M507.3 451.2h0M507.3 451.5h0M508.5 446.4h0M500.3 448.3h0M506.7 447.8h0M513 450.1h0M509.6 448.6h0M509.1 447h0M508.3 446.7h0M506.2 448.4h0M503.1 449.5h0M503.4 451.3h0M510.9 446.7h0M506.7 449.9h0M508.1 447.2h0M508.9 448.7h0M501.1 449.4h0M516.5 447.1h0M503.2 447.5h0M508.6 450.4h0M500 454h0M514.9 447.6h0M505.9 450.8h0M508.3 446.6h0M514.7 447.4h0M511.4 450h0M512 449.9h0M511.2 448.9h0M468.4 457h0M449.3 448.5h0M455.1 451.2h0M452.9 450.7h0M513.2 452.8h0M516.7 450.3h0M523.3 448.7h0M506.7 453.3h0M499.8 456.7h0M525.5 447.9h0M457.1 451h0M446.8 447.1h0M510.5 451.8h0M449.8 449.2h0M451.3 449.7h0M526.2 448.2h0M447.5 448.8h0M467.8 456.6h0M525.3 448.7h0M520.9 450.8h0M450.4 450.4h0M455.3 450.2h0M453.8 450.9h0M506.2 455.9h0M465.7 455.3h0M454 451.7h0M468.6 454.9h0M447.8 448.8h0M521.6 449.2h0M512.6 452.1h0" stroke="#2a8c2f" stroke-width="3.2" stroke-linecap="round" fill="none" opacity="0.85"/>
<path d="M426 455h0M427.3 452.1h0M442.9 450h0M440.7 448.5h0M554.5 447.8h0M525.5 449.2h0M530 450.7h0M521 452.9h0" stroke="#5aa55a" stroke-width="3.2" stroke-linecap="round" fill="none" opacity="0.7"/>
<path d="M473.1 422.2h0M479.8 442.5h0M473.3 427.7h0M481.1 445.6h0M478.9 445.4h0M479.8 439.3h0M476.4 444h0M481.1 446.4h0M480.8 441.4h0M473.1 428h0M478.3 439.7h0M481.6 446.4h0M481 445.2h0M478 441.6h0M477.9 441.5h0M481 446.3h0M474.7 441.6h0M473.1 421.7h0M471.4 445h0M481.2 446.4h0M475.4 435.1h0M472.3 412.4h0M480.7 444.2h0M473.1 435.7h0M477.4 445.3h0M476.5 439.6h0M476.5 435.4h0M476.6 441.7h0M479.2 443.9h0M475.2 434.9h0M475.9 444.1h0M476.5 432.3h0M476.1 431.5h0M474.3 425.1h0M472.5 443.8h0M475.6 443.1h0M476.8 437.9h0M479.9 438.8h0M473.5 424h0M471.8 436.9h0M473.2 423.4h0M481.6 446.4h0M478.5 439.4h0M477.3 443.9h0M480.8 445h0M479.9 444.8h0M475.4 444h0M471.9 413.7h0M473.4 421.6h0M477.6 435.7h0M472.8 434h0M472 418.2h0M472.9 417.8h0M472.5 432.2h0M478.6 444.6h0M481.3 446.4h0M478.7 442.5h0M479.6 444.6h0M472.7 426.8h0M479.7 442h0M481.3 446.4h0M471.6 420.3h0M473.9 435.1h0M474.3 443.7h0M472.9 425.6h0M472.5 436.5h0M477.2 439.5h0M476.2 439.7h0M476.1 435h0M479.1 441.5h0M475 421.9h0M474.9 420h0M474.3 434.2h0M478.5 440.7h0M480.5 446.4h0M480.4 446.3h0M479.8 446.2h0M475.7 444.5h0M479.2 440.3h0M476.1 433.4h0M478.6 442h0M477.8 441.4h0M475.3 433.6h0M473 445.7h0M478 443.8h0M479.6 445.7h0M471.4 425.8h0M481.1 446.4h0M479.9 445.4h0M480.9 446.4h0M477.7 442.2h0M478.4 441.1h0M473.8 430.9h0M479 440.8h0M476.1 438.9h0M472.1 440.6h0M472.6 435.2h0M473.9 427.5h0M479.8 443.6h0M477.2 440.1h0M476.9 440.4h0M473.5 435.3h0M472 432.9h0M480.5 446.2h0M471.6 432h0M474.2 435.2h0M478 436.3h0M481.3 445.2h0M477.6 432.9h0M472.7 425.3h0M477.8 438.6h0M480.6 446.2h0M479.5 441.3h0M480.9 446.4h0M477.7 436h0M479.2 444.2h0M477.8 437.1h0M473.2 438.4h0M477.7 443.8h0M475.7 435.4h0M478.6 439.2h0M473.8 437.7h0M477.5 445.9h0M478.9 437.3h0M479.2 446.2h0M479.5 445h0M477.8 440.2h0M477.5 431.8h0M472.6 446.2h0M471.2 435.2h0M479.3 445.9h0M477.8 441.6h0M476.1 433.7h0M477.4 437.6h0M478.5 445.1h0M481.5 446.4h0M481.2 446.4h0M477.1 434.4h0M474 431.5h0M478.6 443.7h0M475.4 430.5h0M471.2 416.8h0M474.8 430.4h0M480.9 440.1h0M477.9 441.8h0M477.7 445.2h0M472.1 425.9h0M477.3 442.8h0M471.2 421.5h0M476.4 436.3h0M476.3 433h0M478.9 440.3h0M473.9 433.8h0M476.7 438.9h0M473.3 435.2h0M474.9 439.7h0M475.1 438h0M471.7 435.3h0M480.4 442.9h0M475.3 438.1h0M480.4 444.3h0M479.9 445.7h0M480 446h0M481.5 446.4h0M475.5 441.4h0M480.6 446.4h0M478.6 442.3h0M481.3 446.4h0M477.4 439.2h0M474.5 438.6h0M478.5 440.2h0M474.4 436.6h0M480.9 445.6h0M474.9 431.9h0M473.1 426.9h0M480.7 443.2h0M471.6 421.1h0M477.8 444.6h0M471.9 426.9h0M473.7 416.7h0M479.7 442.2h0M479.6 445.9h0M479.7 444.6h0M471.2 419.4h0M476 433.2h0M471.4 430.5h0M476 436.6h0M474.3 425.5h0M475.9 426.6h0M471.3 429.6h0M476.4 436.4h0M478.6 439.8h0M481 444.8h0M471.5 421.2h0M479.5 446.3h0M474.8 439.5h0M474.6 422.3h0M480 442.4h0M474.4 427.9h0M481.1 444.6h0M480.3 443.6h0M471.7 432.5h0M475.1 436.9h0M471.9 444.5h0M475.4 443.4h0M479.2 445.1h0M479.6 443.8h0M474.5 434.5h0M479.1 444.2h0M471.7 420.6h0M472.6 428.7h0M480.8 446.4h0M471.8 425.9h0M474.5 437.6h0M474.1 432.5h0M472.4 432.7h0M478.8 439.4h0M481.7 446.3h0M480.2 445.8h0M478.8 441.4h0M478.5 439.6h0M481.2 446.4h0M471.4 434.8h0M477.2 435h0M477.7 446.1h0M479.3 441.9h0M471.3 444.5h0M475.3 439.8h0M481.5 446.4h0M474.7 429.2h0M478.9 442.3h0M473.8 432h0M474.2 439.9h0M477.4 435.1h0M472.4 445.9h0M478.2 437.3h0M479.7 442.6h0M478 438.9h0M478.7 444.9h0M479.7 443.9h0M472.5 434h0M480.4 445.5h0M479.9 444.8h0M476.2 434.1h0M473.8 442h0M480.7 445h0M471.1 426.6h0M473.3 437.6h0M480.5 443.7h0M476.5 444.4h0M493.9 445.7h0M496.9 416.9h0M491.2 443.9h0M498.3 413.8h0M490.1 443.1h0M491.6 445h0M498.9 410.9h0M491.6 435.2h0M496.3 434.9h0M495.7 431.9h0M489.2 446.4h0M488.9 443.5h0M492.7 439.4h0M489 446.4h0M493.2 434.2h0M491.4 440h0M495.5 445.6h0M495.9 422.3h0M489.3 444.2h0M499.4 433.7h0M490.1 444.9h0M492.3 444.9h0M490.7 442.8h0M497.2 427.2h0M499.6 423.5h0M492.4 438.9h0M492.6 438h0M490 445.9h0M491.1 445h0M496 420.2h0M495.3 440.1h0M498.3 437.4h0M497.7 442.1h0M495.9 427.2h0M498.3 422.4h0M490.3 446.3h0M497.2 445.8h0M493.7 438.3h0M496.2 433.5h0M498.1 414.5h0M490.5 444h0M497.5 423.3h0M489.9 445.5h0M489.2 442.4h0M494.1 425.2h0M498.8 444.4h0M495.2 437.4h0M489.4 446.4h0M494.7 441.7h0M498.8 415.3h0M495.1 436h0M491 444.9h0M491.8 441.1h0M494.9 431.7h0M490.3 446.2h0M494.8 437.6h0M497.4 419h0M489.8 444.9h0M496.5 441.1h0M497.7 414.5h0M489.9 446.4h0M497.9 430.5h0M498.8 409.4h0M494.3 430.7h0M497.2 421.5h0M495.5 436.6h0M497.1 439.6h0M493.5 442.1h0M489.5 445.6h0M493.8 434.1h0M490.4 445.1h0M490.6 446.4h0M494 431.9h0M494.7 419.9h0M498.1 408.3h0M490.2 444.8h0M493.3 441.4h0M493.9 444.1h0M489.6 444.7h0M492.9 431.6h0M494.8 436.3h0M492.9 437.1h0M497.8 425.7h0M490.6 446.4h0M490.7 444.9h0M491.1 444.9h0M491.3 440.3h0M489.2 446.2h0M493.9 444.4h0M493 432.7h0M489.9 445.6h0M489.3 446.4h0M495.1 419.8h0M498 442h0M498.8 434.9h0M490.9 444.7h0M493 443h0M491.2 442h0M496 422.6h0M497.2 429.6h0M499.3 411.1h0M492.8 439.4h0M492.9 446.2h0M499.1 433.4h0M494.6 428.3h0M492.1 439.6h0M496 444.6h0M498.5 441.9h0M489.5 446.4h0M491.2 437.7h0M492.1 437.5h0M494.5 440.4h0M490.7 446.1h0M489.7 443h0M497.9 415.8h0M494.2 425.8h0M489.7 446.3h0M492.4 445.5h0M494 436.6h0M495.7 428h0M495.6 424.3h0M490.7 440.6h0M497 438.7h0M497 419.3h0M498.6 436.2h0M497.1 411.3h0M493.9 444.2h0M498.7 437.1h0M497 421.8h0M497.3 442.4h0M494.9 446.1h0M498.4 419.3h0M491.1 443.3h0M499.4 415.6h0M499 435.1h0M494 429.8h0M494.6 443.2h0M494.7 443.2h0M492.6 444.6h0M499.2 402.7h0M494.6 427.4h0M495.6 436.7h0M496.1 443.1h0M493.3 440.8h0M496.5 432.1h0M489.4 446.4h0M493.6 445.5h0M495.3 435.6h0M497.5 440.9h0M492.3 441.1h0M489.5 445.6h0M495.3 442h0M489.3 446.4h0M498.1 415.9h0M498.2 421.5h0M496.1 426.8h0M489 445.9h0M490.3 445.6h0M494 439.3h0M490.1 441.5h0M490.1 445.8h0M493.1 444.8h0M493.6 436.3h0M491.7 442.7h0M490.7 444.7h0M492.7 430.5h0M493.3 439.4h0M494.8 426.3h0M494.6 431.3h0M490.1 439.6h0M494.9 424.1h0M497.9 435.7h0M490.3 444h0M494.9 438.2h0M493.7 434.4h0M489.1 446.4h0M489.5 446.4h0M497.3 419.9h0M493.1 441.7h0M490.1 444.3h0M496.7 423.2h0M498.6 407.7h0M490.4 443.5h0M490.8 446.1h0M498.1 414.5h0M491.6 441.3h0M489.2 445.7h0M498.6 416.2h0M498 407.2h0M489.6 446.3h0M490.3 446.1h0M494.9 431.1h0M489.4 446.3h0M494.7 429.4h0M498.6 407h0M497.7 408.9h0M494.3 437.7h0M499.5 418h0M489.2 446.4h0M489.9 446.3h0M492.8 445.2h0M495.9 422.6h0M495.4 437.9h0M490.6 445.2h0M496.4 425.6h0M489.3 443.8h0M498.3 420.5h0M498.2 407.8h0M498.1 439.8h0M494 437.7h0M497.5 443.3h0M495.9 422.5h0M495.1 433.1h0M490.1 446.2h0M493.9 433.4h0M498.6 430.1h0M490 445.2h0M493.6 441.3h0M496.3 410.8h0M493 430.8h0M495.6 435.1h0M490.1 444.3h0M497.8 424.3h0M494.9 439.1h0M495.7 444.7h0M489.6 444.9h0M495 445.8h0M496.2 442.5h0M494.3 442.1h0M494.3 440.8h0M495.7 440.9h0M498.2 427.8h0M499.2 437.7h0M497.7 434.3h0M494.6 426.6h0M497 424.9h0M492 443.8h0M491.3 446h0M495.8 435.5h0M499.6 445.1h0M490.9 443.6h0M496.8 416.5h0M494.2 425.5h0M493.2 445.8h0M495.2 437.4h0M498.8 412.6h0M498.6 425.8h0M489.4 446.4h0M496.3 435h0M491.3 436h0" stroke="#4169e1" stroke-width="3.2" stroke-linecap="round" fill="none" opacity="0.9"/>
<path d="M481.1 442.9h0M478.9 442.8h0M481.3 446h0M474.8 422.4h0M475.3 433.9h0M475 445.3h0M478.7 443.1h0M478.6 436.7h0M477.2 442.4h0M472.8 442.6h0M471 422.3h0M473.5 420.2h0M481.4 446.4h0M474.5 437.3h0M475 436.9h0M479.8 444.5h0M475.6 443.3h0M477.2 439.8h0M481.1 446.4h0M473.7 434.1h0M480.5 445.3h0M472.9 438h0M473 436.9h0M481.6 445.6h0M477.9 444.8h0M480.2 441.4h0M475.4 428.3h0M477.6 442.5h0M472 427.7h0M480 446.2h0M473.5 433.7h0M478.4 440.6h0M479.3 445.1h0M473.2 430.2h0M481.6 446.4h0M474.6 440.5h0M474.9 425.8h0M474.4 426.5h0M478.4 445.5h0M474 428h0M472.6 438.2h0M477.6 434.7h0M475.6 434.7h0M476.5 441.8h0M480.5 446.4h0M477.9 437.3h0M480.7 446.4h0M473 425h0M478.6 436.9h0M473.8 436.4h0M478.2 442.4h0M480.6 445.5h0M475 427.7h0M473.4 423.9h0M475.9 441.3h0M476.1 431.2h0M472.4 430.1h0M474.2 439.9h0M478.3 440.1h0M476.2 438.1h0M480.8 446.4h0M474.2 427.6h0M473.5 439.7h0M477 434.2h0M480.1 446.4h0M480 443.6h0M476.6 437.1h0M474.3 426h0M479.7 444.4h0M471.3 421.7h0M474.1 437.8h0M480.2 441h0M475.6 441.6h0M478.7 443.1h0M471 426.6h0M475.1 434.9h0M478.5 441.5h0M481.7 446.4h0M472.8 444.3h0M474.8 433.8h0M480 444.6h0M475 443.1h0M472.5 423.6h0M481.6 446.3h0M471 435.5h0M476 435.6h0M474.8 441.5h0M480.1 443.6h0M473.4 421.6h0M471.8 426.2h0M478.6 445.5h0M471.8 431.7h0M472.2 426.3h0M472 426h0M472.8 433.9h0M471.6 441.2h0M474 445.2h0M471.8 413.1h0M477.5 445.5h0M475.8 432.7h0M477.7 435.5h0M474 444.4h0M481.6 446.4h0M475 424.1h0M479.5 442.6h0M472.5 415.3h0M477.9 435.1h0M477.2 434.5h0M472.8 433.7h0M471.1 428.6h0M481 446.4h0M481.5 446.4h0M479.1 441.1h0M474.4 424.9h0M473 422.7h0M481 446.4h0M480.3 445.9h0M475.3 443.8h0M481 445.1h0M480.8 445.8h0M480.6 445.6h0M481.6 446.4h0M472.1 414.4h0M471 435.6h0M476.3 444.2h0M480.7 446.1h0M481 446.4h0M474.9 431.9h0M472.4 436h0M481.6 446.4h0M477.6 436.2h0M471.8 414.8h0M474.3 421.7h0M478.9 436.3h0M474.9 428.5h0M473.6 439.2h0M480.4 441.9h0M478 444.1h0M472.8 425.9h0M472.5 439.6h0M473.1 424.5h0M475.6 443.4h0M474.9 423.5h0M477.9 436.9h0M471.3 426.8h0M481.6 446.4h0M476.5 432h0M477.9 446.2h0M473.5 441.6h0M473.4 420.4h0M475.8 436.7h0M479.3 440.2h0M474.1 429h0M479.7 443.4h0M478.8 438.9h0M474.6 429.2h0M472 424.3h0M480.2 441.8h0M479.8 439.7h0M473.2 436.8h0M474.3 434.3h0M475.7 440.6h0M475.8 442h0M474.4 431.3h0M474.8 423.3h0M475.8 442.1h0M479.6 446.1h0M475.3 425.2h0M475.6 439.9h0M476.7 438.6h0M480.3 444.7h0M472.1 432.7h0M471.2 411.2h0M481.2 446.4h0M481.2 445.6h0M472.1 441.4h0M471.6 434h0M476.6 445.4h0M473.2 433.2h0M471.8 443.4h0M476 433.5h0M477.2 437.7h0M474.9 430.7h0M480.6 446.2h0M475.4 445h0M480 446h0M471.6 412.6h0M481.4 446.4h0M480.1 442.5h0M474.7 440h0M473.4 444.1h0M474.3 422.2h0M477.4 437.6h0M478.9 444.4h0M473.8 442.3h0M477.1 436.4h0M478.7 437.2h0M476.6 432.6h0M480.4 446.4h0M474.2 445.8h0M474.7 436.8h0M478.5 444.1h0M479 444.2h0M474.2 429.2h0M475.3 426.1h0M474.3 435.5h0M471.5 421.4h0M476.3 434.6h0M473.6 443.1h0M474.7 445.8h0M478 438.3h0M478.9 438h0M474.9 439.8h0M480.6 445.5h0M474.3 426h0M477.9 438.8h0M480.6 445.9h0M474.4 440.3h0M474 421.4h0M476.8 427.8h0M477.9 438.1h0M472.2 423.2h0M472.4 422h0M480.2 443.5h0M472.6 443.5h0M481.5 446.4h0M473 431.1h0M479.4 446h0M474.4 425.6h0M479.2 437h0M480.1 442.6h0M479.4 439.9h0M478.1 440.2h0M471.5 420.3h0M476.7 443.4h0M472.1 421.6h0M479 442.8h0M478.5 443.9h0M481.6 446.4h0M476.9 434.9h0M477.4 444.4h0M481 446.3h0M476.1 432.7h0M473.2 428.4h0M476.3 435.6h0M481 446.4h0M479 444.3h0M477.1 439h0M472.2 425.1h0M473.5 436.8h0M491.7 441.4h0M489 446.4h0M499.4 426.7h0M492.5 445.7h0M491.4 446.3h0M494.8 446h0M492.6 445.5h0M499.3 442h0M490.7 441.5h0M492.2 433.6h0M497.1 437.6h0M491.6 441.6h0M492.2 443.9h0M496.1 426.5h0M497 427.1h0M495.8 440.9h0M498.2 444.4h0M492.9 438.1h0M495.2 442.2h0M489 446.4h0M498.1 426.6h0M492.7 441.3h0M490 446.4h0M496.6 432.9h0M494.2 432.6h0M489 446.4h0M495.6 437.7h0M498.7 423.8h0M495.5 416.7h0M491.3 443.4h0M498.6 442h0M490.2 445.7h0M493.7 432.4h0M494 435.1h0M495 433.4h0M496.7 439.6h0M490.9 444.5h0M498.1 445h0M497.4 421.5h0M494.5 446.2h0M492.1 440.9h0M498.2 432.1h0M491.6 438.8h0M493.5 433.6h0M493.8 435.4h0M494.1 429.2h0M498.6 436.3h0M492.8 441h0M494.8 438.3h0M498.3 421.2h0M489.5 444.9h0M490.4 442.9h0M491.4 444.9h0M496.3 444.2h0M494.3 436.7h0M493.2 444.9h0M495.3 437.1h0M492 445.8h0M497 418.6h0M495.7 431.1h0M493.6 443.1h0M493.4 440.7h0M491.1 442.6h0M495.2 434.4h0M494.3 437.5h0M490 445.6h0M494.5 427.7h0M495.3 440.8h0M492.7 435.1h0M493.5 444.3h0M493.6 445h0M499.4 424.7h0M494.8 422.2h0M497.4 423.5h0M491 442.1h0M496.1 423.2h0M489.9 442.6h0M491.7 444.9h0M490.5 443.3h0M493.9 440.8h0M498.8 420.2h0M494.4 442.9h0M495.4 425.8h0M497.3 444.5h0M496.1 429h0M495 438.7h0M488.9 446.2h0M499.5 409.9h0M498.3 436.7h0M489.3 446.4h0M498.8 405.2h0M495.8 441.4h0M490 444.8h0M496.7 436.9h0M499.1 418.6h0M499 433.1h0M496.9 443.6h0M496.1 441.7h0M491.5 444h0M490 446.1h0M493.3 437.1h0M490.5 444.9h0M496.9 440.6h0M495.6 431.7h0M496.6 441.8h0M493.9 431.9h0M496.1 429.3h0M492.2 441.4h0M492.5 445.4h0M499.2 409.3h0M489.7 445.1h0M489.4 446.3h0M495.7 416.3h0M495.4 430.7h0M496.2 432h0M492.8 436h0M493.5 429.5h0M490.1 441.4h0M490.8 442.1h0M498.5 441.1h0M495.6 435.2h0M489.8 446.2h0M491 443h0M490.6 442.6h0M491.4 434.7h0M493 433.3h0M492.9 431.4h0M491.6 446.2h0M499.3 435h0M490.1 445.4h0M493.9 434.7h0M498.6 413.4h0M494.6 419.2h0M493.4 430.9h0M491.2 439.9h0M497.3 412.4h0M495.8 432.4h0M494.7 430.3h0M497.9 434.9h0M489.5 446.4h0M492.7 441.3h0M492 441.6h0M492.9 433h0M495.3 432.1h0M497.8 414h0M496 441.5h0M489.1 446.4h0M498.9 434.3h0M496.7 443.1h0M497.7 444.7h0M490.9 442.2h0M497.8 438h0M499 422.5h0M494.9 434.1h0M499 409.7h0M494.3 440.2h0M492.9 443h0M491.2 443.8h0M496 421.5h0M490 446.4h0M492.2 442.2h0M490.6 446.1h0M498.4 420.1h0M497.4 429.7h0M498.1 441.7h0M497.7 433.4h0M492.7 432.9h0M495 427.4h0M493.3 434.7h0M493 431.1h0M492.8 431.1h0M498.5 424h0M495 424.7h0M491.4 438.5h0M495.4 429.5h0M492 440.8h0M497.6 422.6h0M497.9 417.7h0M492.9 441.6h0M490.7 445.3h0M497.6 444.6h0M498 435.6h0M496.8 415.6h0M489.8 446.4h0M498.7 433h0M495.1 445.1h0M494.6 435.4h0M499.1 422.4h0M499 425.7h0M492.3 441.2h0M490.1 446.3h0M498.9 411.4h0M492.3 443.6h0M489.8 446.4h0M496.9 427.4h0M492.2 443.9h0M496.6 429.4h0M489.4 446.4h0M497.9 433.9h0M494.7 433.6h0M498.9 404.8h0M498 411.2h0M496.3 424.2h0M499 413.2h0M498.6 426.3h0M491.2 440.5h0M489.3 445.6h0M491.4 436.6h0M494.6 442.5h0M492.5 438.1h0M493.2 440.1h0M494.2 435.4h0M490.4 444.9h0M499.2 442.5h0M497.5 435.3h0M493.2 436.6h0M493.4 436h0M490.9 441.1h0M490.5 443.9h0M499.3 414.7h0M495.4 429.2h0M496.1 423.5h0M496.3 423.9h0M497.7 429.9h0M496.7 427.5h0M496.4 446h0M492.5 440.9h0M490.5 438.3h0M497.4 419.5h0M492.7 439.9h0M498.2 443.8h0M491.3 443.8h0M491 444.2h0M493.3 442.6h0M490.1 444.5h0M490.3 444.3h0M494.8 426.7h0M490.8 441.2h0M491 445.8h0M493 432.5h0M495.6 442.7h0M489.9 444.9h0M496.1 419.3h0M498.7 436.1h0M498.2 417.7h0M498.7 422.8h0M490.8 445.1h0M492.9 428.8h0M492.7 433.4h0M498.7 409.9h0" stroke="#4169e1" stroke-width="3.2" stroke-linecap="round" fill="none" opacity="0.9"/>
<path d="M477.1 428.2h0M498.3 408.6h0M472.1 402.6h0M475.3 420.4h0M480.1 437.8h0M496.3 415.1h0M479 431.4h0M499.5 393.3h0M473.1 409h0M472.8 408.5h0M478.2 434h0M496.4 416.2h0M480.5 439.5h0M492.6 429.3h0M490.8 438.8h0M490.1 440.5h0M491.6 436.9h0M472.2 407.7h0M496.2 415.8h0M474 408.6h0M491.9 433.8h0M496.3 416.5h0M499 405.3h0M495.1 418.7h0M471 398.7h0M476 414.6h0M491.5 434.9h0M471.8 400.1h0M472.4 407.5h0M477 428.8h0M491.5 438h0M489.6 442.7h0M492.1 427.4h0M492.1 434.1h0M492.4 423.5h0M490.3 439h0M498.4 407.4h0M479.5 438.9h0M479.9 439.5h0M492.1 434.3h0" stroke="#4169e1" stroke-width="3.2" stroke-linecap="round" fill="none" opacity="0.75"/>
<path d="M450 429.5h0M445.6 435.6h0M419.1 438.9h0M440.8 429.3h0M412.7 422.5h0M455.2 404.3h0M454.6 435.9h0M415.7 423.2h0M449 430.3h0M442.1 427.4h0M433.1 419.5h0M459.6 445.6h0M429.6 434.5h0M432.4 414.8h0M450 430.8h0M418.9 444.7h0M448.4 423.7h0M432.9 430.3h0M446.7 443.2h0M424.5 429.5h0M413.7 441.6h0M444.8 438.3h0M425.6 439.3h0M441.8 419h0M445.1 424.6h0M442.6 429.1h0M438.9 435.4h0M436.1 427.4h0M442.3 431.4h0M448.2 408.8h0M465.3 426.7h0M442.7 442.8h0M449.1 445h0M424.6 441.1h0M441.7 427.2h0M452.9 408h0M445.8 428.6h0M444.2 423.9h0M430.2 406.9h0M432.3 418h0M464.9 415.5h0M445.6 436.6h0M451.2 416.2h0M459.8 437.3h0M425.4 444.8h0M446.9 442.5h0M447.2 414h0M429 444.1h0M455.9 418.7h0M425.9 425.1h0M465.5 436.1h0M455.9 416.1h0M437.2 426.5h0M470.1 429.6h0M454.7 437.5h0M416.9 419.6h0M442.9 417.4h0M447.6 405.1h0M430.9 444.3h0M461.6 414.5h0M461.4 411.3h0M452.4 441.2h0M450.6 443.8h0M457.3 434.8h0M429.8 434h0M414.6 428.8h0M456 437.7h0M462.9 437.9h0M449.1 441.8h0M455.7 413.5h0M439.7 413.5h0M467.3 439.7h0M433.1 416.6h0M453.1 417.2h0M453.5 416.8h0M440.2 420.6h0M453.3 432.6h0M411.9 434.4h0M444.8 404.7h0M441.1 427.3h0M437.4 441.4h0M461 428.1h0M462.7 434.4h0M458.3 429.8h0M467.4 435.9h0M467.5 445.2h0M433.2 439.9h0M439.6 416.3h0M456.9 434.9h0M455.3 427.7h0M441.4 427.7h0M468.6 430.6h0M424.9 423.5h0M438.6 423.5h0M444.1 434.1h0M422.9 422.5h0M433.5 432.8h0M466.3 435.8h0M413.3 425h0M415.2 438.7h0M466.3 441.4h0M458.6 425.1h0M440.8 428.6h0M469.8 417.3h0M440.2 433.9h0M455.3 424.1h0M422.2 441.6h0M460 413.7h0M430.5 420.9h0M428.4 437.2h0M429.7 437h0M458.6 415.7h0M427.6 428.1h0M464.4 412h0M460.9 418.1h0M448.3 401.7h0M442.2 443.3h0M437.2 421h0M430 419.4h0M454.4 434.9h0M440.8 420.4h0M450.8 426.6h0M437.5 418.5h0M426.5 422.3h0M459.1 437.6h0M459.8 401.2h0M454.3 408.3h0M445.9 440.8h0M448.8 407.7h0M449.3 413h0M409.6 443h0M416.2 411.5h0M465.7 435.6h0M455.6 423.3h0M459.5 408.7h0M462.7 433.7h0M453.2 445.9h0M463.3 446h0M457.6 438.2h0M441.7 411.1h0M434 409h0M460.5 441.7h0M446.2 416.9h0M442.9 425.6h0M441.9 410.6h0M411.5 425.7h0M405 430.9h0M447.4 405.5h0M461.3 436.3h0M426 413.6h0M407.2 436.6h0M449.6 425.1h0M429 422h0M467.3 418.9h0M428.2 425.8h0M444.8 423.3h0M461.3 445.3h0M409.4 427.1h0M447.9 414.9h0M421.8 427.1h0M436.1 432.5h0M446.1 429.9h0M418.5 434.4h0M435.9 438.9h0M435.6 416.9h0M463.4 424h0M434.5 417.3h0M410.5 435.7h0M449.9 441h0M449 440h0M454.3 441.1h0M459.8 438.4h0M449.1 445h0M455.9 425h0M434.3 435.7h0M439.2 434.3h0M437 420.3h0M468 434.1h0M468.3 413.8h0M435.3 445.6h0M426.4 428.2h0M444.6 430.9h0M430.2 420.9h0M459.6 404.6h0M400.8 438.7h0M460.3 432.2h0M457.6 409.9h0M456 435.6h0M457.3 431.9h0M450.7 428.4h0M449.7 413.9h0M451.7 436h0M417.4 423.5h0M445.5 407.1h0M430.8 420.2h0M460.1 422.8h0M460.3 424.8h0M439.7 409.3h0M468.7 423h0M470.4 415.6h0M451.2 436.7h0M429.7 414.4h0M431.7 432.4h0M431.9 418h0M429.4 443.8h0M421.9 437.4h0M457 406h0M402.8 438.4h0M418.9 420.3h0M455.8 407.1h0M439.4 430.9h0M417.9 427.1h0M425.4 424.1h0M466.5 442.2h0M441.1 429.3h0M462.2 397h0M443.6 404.5h0M455.7 423.6h0M422.9 439.9h0M436.9 430.7h0M433.3 437.6h0M429.9 433.6h0M442.2 400h0M414.2 418.9h0M455.3 401.6h0M460.4 381.7h0M453.1 405.4h0M422.3 399.7h0M424 415.2h0M446.7 405.6h0M422.9 411.6h0M467.6 402.3h0M400.5 430.3h0M420.4 387.5h0M425.9 414.8h0M455.7 395.6h0M445.2 399.5h0M465.3 400.9h0M429.5 412.4h0M429.5 401.5h0M441.2 404.8h0M423.9 412.8h0M419 416.8h0M428.5 393.2h0M462.6 403.6h0" stroke="#f40000" stroke-width="3.8" stroke-linecap="round" fill="none" opacity="0.64"/>
<path d="M469.1 438.3h0M470.2 423.7h0M456.9 436.3h0M434 410.1h0M428.4 414h0M443.4 439.6h0M413.4 419.6h0M410.9 444.3h0M430.1 445.9h0M412.8 428.5h0M446.7 428.1h0M454.3 432.5h0M425.8 420.1h0M427.6 417.4h0M444.8 429.4h0M442.4 436.7h0M413.2 441.7h0M462.1 424.9h0M448.1 424.1h0M426.2 418.4h0M449.3 424.8h0M460.3 436.3h0M437.6 414.3h0M419.6 429h0M446.9 425.6h0M451.2 436.4h0M450.9 441.4h0M457.8 422.8h0M458.1 435h0M433.1 444.1h0M450.7 434.7h0M442.7 438.9h0M420.8 431.5h0M459.2 409.4h0M419.2 428.6h0M448.4 421.8h0M455.8 441.1h0M447.7 417.4h0M460.2 414h0M431.9 446.1h0M408.9 437.7h0M431.5 441.6h0M451.8 401.9h0M430.1 428.9h0M455.8 422.1h0M409 432.6h0M463.1 443.9h0M444 434.5h0M457.9 424.3h0M400.1 444h0M460.1 423.9h0M465.8 426.1h0M432.8 423h0M451 418.5h0M439.5 419.5h0M452.1 406.8h0M434.5 438.8h0M460.8 402.2h0M455.1 418.4h0M470.5 398.2h0M462.2 431.7h0M456.6 413.4h0M426.4 418h0M417.1 429.8h0M451.4 429.2h0M422.5 415.9h0M463.6 425.9h0M430 407.7h0M425 432.7h0M446.2 403.3h0M426 434h0M467.4 409.6h0M423.2 414.3h0M452.4 430.5h0M424.5 441.5h0M440.1 412.1h0M452.2 426.8h0M431.7 444.2h0M411.4 434.8h0M452.4 433.1h0M456.8 434h0M420.4 422.2h0M462.6 437.6h0M458.9 415.8h0M455.9 442.7h0M439.6 410h0M467.2 429.6h0M450 415h0M466 441.4h0M468.1 444.7h0M451.5 435.4h0M426.8 438.2h0M447.5 423h0M466.5 440.4h0M427.5 421.4h0M468 411.6h0M466.3 441.7h0M469.3 435.9h0M442.5 421.3h0M419.9 419.2h0M463.7 432.7h0M449 416.8h0M403.9 428.1h0M455.6 442.8h0M450.1 411.5h0M422.4 432.4h0M420.2 445.9h0M452.1 422.6h0M427.7 418h0M424.9 439.5h0M452.4 439.4h0M452.2 439.2h0M447.5 426.5h0M428.5 420h0M440.7 445.9h0M426.9 434h0M464.1 410.4h0M415.7 427.1h0M454.9 425.5h0M431.1 428.2h0M435.9 443.6h0M444.6 420.9h0M454.4 446.2h0M465.6 403.6h0M419.5 436.9h0M427.3 438.5h0M421.1 445.1h0M469.5 444.3h0M451.5 406.8h0M463.6 445.7h0M457.9 439.4h0M466.6 445.5h0M438.2 412.2h0M451 418.9h0M469.8 441.7h0M445.3 438h0M434.6 424h0M442.4 430.2h0M430.9 439.2h0M448.4 414.3h0M453.5 438.9h0M467.7 435.3h0M404.3 436.3h0M431.4 445.5h0M447.8 429.8h0M458.3 417.8h0M427.9 420.8h0M466.5 436.1h0M440.2 426.7h0M446.5 426.3h0M453.8 413h0M456.8 443.1h0M435.5 439.4h0M469.9 438h0M468.8 434.6h0M434.9 422.6h0M441.6 419.8h0M446.7 428h0M466.6 444.2h0M450.3 434.1h0M448.9 434.8h0M442.9 426.9h0M461.5 413.7h0M468.1 437.8h0M441.3 420.2h0M417.4 417.4h0M470.7 439.8h0M421 434.7h0M460.5 429.6h0M442.5 428.7h0M457 442.3h0M433.5 426.3h0M441.1 407.1h0M452.9 437.3h0M455.1 426.5h0M465.1 416.2h0M447.2 416.7h0M439.7 429.6h0M442 424.2h0M459.4 414.4h0M450.1 415.6h0M413.8 443.2h0M442.4 436.7h0M447.4 412.1h0M460.3 413.4h0M416.3 440.7h0M465.2 445.3h0M446.7 421.6h0M447.2 410h0M422.8 422.8h0M454.4 416.3h0M447.3 415.2h0M465.9 424h0M460.8 444h0M427.2 442.1h0M466.4 439.1h0M429 445.8h0M454.7 428.2h0M457.5 415h0M439.3 427h0M454.6 406.8h0M417.3 436h0M461.3 443.5h0M448.1 416.8h0M467.6 440.7h0M445.1 403.7h0M425.2 429.9h0M453.9 431.9h0M460.9 438.6h0M444.6 418.4h0M445 438.9h0M442.9 425.9h0M462.9 408.4h0M464.2 439.8h0M418.7 435.2h0M436.7 432.2h0M463.5 442.4h0M452.5 404.9h0M432.5 414.7h0M426.8 424.5h0M408.5 439.4h0M429.9 442.6h0M437.7 392.7h0M405.4 398.2h0M467 401.7h0M429.4 408.4h0M460.4 386.5h0M461.7 401h0M412.6 412.4h0M416.5 410.2h0M437.4 407.9h0M423.9 404.6h0M425.5 404.6h0M429.3 393.6h0M471 390.6h0M426.4 407.2h0M456.4 398.9h0M423.9 406.3h0M436.8 406.6h0M437.9 409.6h0M427.9 403.7h0M418.2 410.4h0M419 414.2h0M444.2 399.8h0M463.2 396.9h0" stroke="#f40000" stroke-width="3.8" stroke-linecap="round" fill="none" opacity="0.64"/>
<path d="M416.7 435.6h0M433.9 432.5h0M468.1 437.2h0M442.5 428.4h0M461.7 434.9h0M451.7 441.8h0M442.7 416.1h0M468.9 446.2h0M453.1 417.6h0M439.4 413.8h0M448.7 399.8h0M445.4 418.7h0M415.4 423.8h0M455.5 429.3h0M439.1 418.9h0M460 445.6h0M464.5 444.5h0M416.9 438.4h0M453.4 423.7h0M408.5 427.3h0M434.2 442.4h0M436 409.3h0M406.2 435h0M437.7 423.9h0M447.7 444.7h0M454.9 422.4h0M460.5 443.6h0M433.6 442.3h0M404.2 442.5h0M448.6 420.4h0M451.8 422.1h0M469.8 432.4h0M410.3 439.5h0M458 414h0M434.2 433.9h0M434.6 433.6h0M453.3 444h0M453.6 405.4h0M455.5 442.5h0M462.9 424.7h0M458.2 395h0M438.9 417.1h0M444.7 430.8h0M439.7 438.7h0M409.9 430.4h0M441.9 426.1h0M450.1 432.2h0M451.8 443.9h0M421.1 424.4h0M423.6 430.7h0M442 405.8h0M449.6 435.9h0M459.6 444.9h0M470.5 430.6h0M435 419.7h0M454.7 426.2h0M420.8 432.7h0M446.5 434.2h0M419.2 433.2h0M450.5 397.8h0M457.2 405.2h0M455.5 441.8h0M424.5 418.9h0M439.5 422.3h0M456.5 434.5h0M452 426.2h0M410.6 438.6h0M431.8 419.7h0M419 435.9h0M452 429.8h0M421.4 410.1h0M438.5 410.4h0M453.5 442h0M411.4 446h0M412.2 427.3h0M449.9 441.8h0M415.9 423.7h0M461.2 439.8h0M452.1 430.1h0M444.3 441.6h0M463.5 445.8h0M454.6 423.4h0M442.1 409.3h0M413.5 440.9h0M434.1 414.6h0M462.3 444.1h0M445.9 429.5h0M458.6 437.2h0M433 419.6h0M446.1 430h0M470.5 418.1h0M433.6 409h0M431.3 427.1h0M418.1 419.4h0M411.6 442h0M435.4 439.6h0M470.3 408.7h0M459.9 406.3h0M450.2 416.6h0M440 442h0M423.4 424.7h0M466.4 417.9h0M447.2 425.5h0M428.5 422.1h0M459.5 408h0M458.5 437.6h0M464.2 408h0M450 411.1h0M442.7 444.1h0M460.8 429.5h0M428.2 423.8h0M449.2 438.5h0M434.7 426h0M428.2 436.9h0M454.7 407.9h0M448 439h0M418.2 426.3h0M470.6 436.9h0M454.1 403.4h0M469.9 442.1h0M432.1 407.3h0M470.7 415.7h0M422.4 434.1h0M429.1 441.2h0M463.1 426h0M422.2 429.8h0M442 414.2h0M464.9 444.9h0M462.7 432.8h0M463.3 433h0M454.9 410.8h0M457.7 431.1h0M459.9 422.3h0M432.5 439.2h0M457.4 410.3h0M405.4 429.8h0M430.6 414.6h0M426.4 438.2h0M436.7 430.4h0M455 418.9h0M435.8 431.1h0M469.2 435.9h0M434.8 438.9h0M450.3 434.8h0M440.3 426.5h0M467 418h0M450.2 440.7h0M455.6 417.6h0M441.5 434.2h0M424.8 435.5h0M452.2 427.2h0M431.1 443.9h0M466.9 430.5h0M448 406.6h0M435.6 409h0M467.2 416h0M448.8 415.3h0M440.5 429.9h0M441.9 429.9h0M446.8 431.4h0M436.9 442.5h0M461.8 420.1h0M458.2 443.4h0M465.4 439.6h0M436.7 419.4h0M437.2 440.6h0M410.5 434.1h0M459.8 441h0M464.9 422.1h0M449.4 405.6h0M460.4 424.4h0M467.3 440.3h0M462.9 442.7h0M464.6 427.8h0M450.9 437.1h0M448.3 408h0M457.4 419.3h0M421.1 426h0M444.9 427.1h0M409.4 430.5h0M431.2 432.1h0M426.5 431h0M441.2 429.9h0M466.3 421.3h0M423.3 423.8h0M451.7 429h0M441.8 434.7h0M429.7 412.9h0M448.7 426.8h0M453.8 416.1h0M422.4 420.2h0M455.2 419.2h0M450.3 408.2h0M420.6 438.7h0M454.4 416.6h0M458.2 434.8h0M453.1 442.6h0M424.1 421.3h0M460 428.7h0M450 410.3h0M433 414.2h0M457.3 411.3h0M452.4 423.8h0M464.2 436h0M456 430.2h0M456.4 417.7h0M440.9 419.9h0M448.2 424h0M463.8 443.3h0M420.9 439.8h0M432 437.9h0M447.7 443.2h0M423.8 420.4h0M406.1 427h0M460.7 411.5h0M463.9 420.7h0M467.5 439.8h0M470.6 402.8h0M442.2 414.5h0M449 440.1h0M432.1 427h0M430.7 445.2h0M432.4 411.1h0M443.9 402.9h0M428.2 395.2h0M440.6 397.8h0M462.1 385.5h0M430 379.2h0M427.2 399h0M405.8 423.5h0M432.5 408.3h0M436.4 401.6h0M426.7 410.9h0M449.4 396.9h0M412.4 404.9h0M441.5 400.7h0M453.7 384.6h0M455.3 403.6h0M459.3 394.9h0M453.1 400.9h0M419.1 404.8h0M414.5 410.1h0M468.1 398.6h0M402.2 407.7h0M428.2 412h0" stroke="#f40000" stroke-width="3.8" stroke-linecap="round" fill="none" opacity="0.64"/>
<path d="M426.9 426.5h0M435 440.5h0M438.2 408.8h0M441.7 421.7h0M421.8 416.9h0M440.3 409.3h0M429.2 435.4h0M464.4 414.5h0M441.8 428.8h0M446.1 434.6h0M450.5 443.4h0M459.8 416.1h0M439.7 432.5h0M441.6 424.2h0M459.4 422.8h0M432.1 435.7h0M460.4 413.7h0M425.4 425.7h0M444.7 423.6h0M436.8 430.8h0M415.8 443.9h0M449.2 441.6h0M465.5 444.6h0M452.9 432.2h0M418.5 445.5h0M456.1 441.2h0M420.9 427.8h0M418.5 439.7h0M450.2 440.8h0M450.8 407h0M454.5 410.1h0M449 412.9h0M448.4 444.6h0M466.1 396h0M458.4 435.6h0M455.8 402.3h0M464.5 443.7h0M405.1 446.3h0M452 427.8h0M415.5 440.3h0M457.1 442.4h0M454.8 438.4h0M461.9 429.5h0M418.6 427.1h0M451.9 427.9h0M453.3 422.3h0M448.3 426.1h0M412.8 419.1h0M417.3 444.4h0M456.5 444.5h0M432.8 430.6h0M469.6 416.2h0M431.9 432.1h0M431.4 434.2h0M455.1 434.1h0M413.6 442h0M463.4 439.7h0M426.9 415.1h0M421.6 444.7h0M447.9 414.3h0M458 409.3h0M436.2 405.8h0M430.6 446.2h0M440 406.5h0M456 422.8h0M466.2 446.1h0M462.1 435.1h0M425.8 429.7h0M464.9 426.6h0M451.3 445.1h0M470 413.6h0M448.4 417h0M427 435.1h0M456.7 432.4h0M434.4 433.7h0M449.2 423.4h0M450.3 432.1h0M434 444.7h0M457.1 410.9h0M460.3 415.9h0M466.9 425.9h0M457.5 403.8h0M410.3 441.2h0M433.5 427.9h0M445.8 412.3h0M423.5 425.2h0M422.3 422.7h0M428.7 445h0M412 425.7h0M448.6 442h0M447.4 417.9h0M405.4 427.2h0M414.3 425.5h0M414.4 437h0M447.5 418.8h0M435.6 430.5h0M468.6 406.3h0M461.6 403.2h0M440.3 420.7h0M450.5 435h0M418.1 428.6h0M449.3 413h0M463.4 424.1h0M432.8 413.6h0M429.3 431.6h0M459.2 424.1h0M455.7 427.2h0M435 435.4h0M444.1 444.4h0M460 426.3h0M447.9 405.8h0M406.4 438.3h0M436 415.4h0M444.9 399.7h0M415.4 431.9h0M447.8 442.3h0M444.2 410.9h0M466.4 425.7h0M460.2 431.2h0M438.5 430.7h0M440.7 412.9h0M467.8 443.8h0M461.5 427h0M441 435.8h0M462.7 430.9h0M440.2 427.6h0M454.6 432.8h0M447.3 416.2h0M431.3 446.2h0M459.3 432h0M466.5 439.2h0M470.7 407.8h0M420.7 441.5h0M459.2 425.6h0M439.5 443.9h0M452 439.6h0M444.1 438.3h0M431.3 437.5h0M462.5 439.8h0M420.3 430.9h0M436.1 433.5h0M422.6 411.3h0M419.5 427.2h0M453.7 444.9h0M450.1 441.1h0M452.9 399.5h0M453.7 413.4h0M449.4 427.5h0M437.6 429.1h0M463.5 435.4h0M438.5 420.6h0M445.9 440.9h0M461.7 426.5h0M441.2 416.5h0M434.7 416.4h0M440.8 440.3h0M435.4 434h0M459 415.9h0M424.1 430.4h0M453.2 401.8h0M470.6 408.4h0M469 415.3h0M466.7 435.4h0M415.6 444.7h0M447.7 408.5h0M441.9 445.8h0M450.7 414.8h0M427.4 430.1h0M439.1 418.3h0M443.5 414.3h0M466.6 435.7h0M440.8 431.6h0M464.1 408.8h0M432.4 420.1h0M451.4 428.2h0M470.4 442.5h0M445.6 401.2h0M454.1 413.4h0M458.2 436h0M437.1 428h0M447.1 433.7h0M433.3 446.2h0M456.7 425.1h0M445.8 420.3h0M460.4 435.1h0M455.9 422.1h0M455.5 406.8h0M455.8 408.2h0M436.1 438.8h0M448 408.4h0M470.1 419.9h0M464.5 429.3h0M451.4 420.2h0M451 432.8h0M469.7 435.6h0M423.8 429.7h0M453.5 431.9h0M465.5 433.5h0M447.2 427.9h0M463.2 434.7h0M462.5 427.4h0M434.7 437.9h0M434.3 431.4h0M458.8 407.2h0M463.6 429.8h0M454.5 416.6h0M461.8 417.1h0M427.3 431.1h0M423.3 431.2h0M459.5 443.3h0M466.7 442.6h0M450.2 410.8h0M446.5 422.7h0M425.2 430.2h0M461.6 428.4h0M434.8 432.2h0M450.2 432.4h0M452.8 424.4h0M445.2 420.5h0M466.8 439.2h0M459.7 412h0M446.7 438.5h0M413.8 413h0M420.3 412.2h0M418.2 415.7h0M442.7 408.2h0M464.5 398.7h0M453.2 404.5h0M434.3 406.6h0M449.5 383.5h0M432.6 389.6h0M438 393.2h0M438.8 406.9h0M459.1 402.9h0M451.3 402.1h0M417.4 392.2h0M410 419.3h0M457.6 378.9h0M439.2 406.2h0M457.3 390.6h0M437.8 397h0M436.9 410.2h0M450.6 387.8h0M443.5 386.5h0M419.1 402.7h0" stroke="#f40000" stroke-width="3.8" stroke-linecap="round" fill="none" opacity="0.64"/>
<path d="M467.7 422.5h0M432.2 409.1h0M431.6 419.7h0M458.4 441h0M459.9 434.9h0M440.4 423.5h0M445.8 435.1h0M431.7 440.9h0M425.5 439.4h0M417.9 429.3h0M422.4 427.3h0M442.6 445.6h0M470.5 435.2h0M432.6 432.6h0M470.5 436.7h0M456.7 442.1h0M448.6 441h0M459.8 405.9h0M456.9 429h0M441.5 433.6h0M455.4 424.1h0M418.6 433.6h0M465.5 435.7h0M440.3 444.4h0M429.7 441h0M408.1 427.2h0M440.9 418h0M441.1 439.7h0M448.4 433h0M411.9 444.2h0M450.1 443.6h0M442.5 446.2h0M420.5 428.8h0M470 433.7h0M457.2 432.8h0M438.5 425.6h0M461.3 409.7h0M419.6 436.6h0M426.3 416.8h0M466.1 409.3h0M468.2 437.2h0M455.1 426.2h0M439.8 433.6h0M422.9 429.7h0M443.4 427.8h0M433.2 419h0M455 426.9h0M429.2 439.8h0M438.6 445.9h0M469.3 439.1h0M470.3 445.6h0M451 405.7h0M438.3 439.2h0M461.8 429.2h0M445.8 434h0M451.5 411.8h0M425.2 429.6h0M461.7 443.9h0M450.8 408.6h0M428.5 415.3h0M405.6 442h0M448.5 422.8h0M423.5 431.1h0M448.2 410.8h0M455.8 398.6h0M443.3 438.2h0M456.9 417h0M455.9 433.8h0M435.8 410.4h0M434.2 434.6h0M444.2 440.1h0M460.2 436.8h0M470.3 417h0M459.3 407.3h0M449.7 420.2h0M431.6 442.6h0M444.8 432.6h0M428.4 432.4h0M445.8 423.3h0M433.3 429.8h0M468 412.9h0M430.1 439h0M434.4 436.6h0M438.6 418.1h0M433.6 437.1h0M464.9 417.6h0M462.6 432h0M452.6 419.1h0M418.9 444.7h0M430.5 417.7h0M447.8 435.3h0M452.7 417.3h0M466.4 434.9h0M452.6 430.8h0M454.6 441.6h0M450.1 412.8h0M439.2 403.7h0M435.1 428h0M448 421.9h0M436.8 416.9h0M428.4 441.9h0M449.4 437.8h0M440.7 440.7h0M454.3 408.8h0M448.6 432.2h0M421.2 426.2h0M425.9 424.3h0M418 432.1h0M425.7 437.8h0M458 446.2h0M428.7 438.9h0M460.9 419h0M430.4 437h0M448.2 431.5h0M436.3 439.5h0M447.4 424.5h0M451.1 424.1h0M468.4 437.9h0M442.4 416.4h0M455.8 412h0M442.5 410.6h0M437.1 432.8h0M417.1 436.9h0M440.1 445.1h0M431 417.2h0M460.2 414.4h0M457.1 435.4h0M405.3 439.3h0M406.9 435.3h0M462.9 424.9h0M454.8 404.8h0M447.6 430.7h0M461.3 444.3h0M451.5 440.5h0M452.5 427.5h0M450.5 428.9h0M461.5 414.5h0M465.3 446.2h0M470.7 418.4h0M470.6 415.6h0M434.9 423h0M458.5 405.4h0M447.8 429h0M447.3 431.5h0M445.7 435h0M459.8 413.9h0M466 430.1h0M454.7 442.2h0M453.7 437.3h0M470.3 416h0M428.4 443.4h0M430.3 434.5h0M463.8 431.9h0M455.7 420.8h0M443.8 415h0M434.6 434.6h0M450.2 428.3h0M428.8 424.4h0M454.7 433.8h0M463.2 444.1h0M451.2 423.9h0M437.4 444.3h0M414.9 426.3h0M451.4 428.9h0M452.4 426.8h0M445.2 422.4h0M442.4 421.8h0M458.8 411.1h0M425.6 421.1h0M425.3 440h0M422.2 439.9h0M426.5 424.8h0M455.3 417.5h0M457.9 414.1h0M438 423.6h0M449.5 422.5h0M444.4 424.3h0M416 426.1h0M450.4 424.5h0M440.1 428.2h0M470.1 414.6h0M431.1 442.9h0M429.1 421h0M459 409h0M459.1 407.3h0M435.1 431.2h0M455.4 423h0M458 414.3h0M454.1 434.6h0M464.1 442.3h0M461.9 441.8h0M449.7 440.9h0M436.1 436h0M464.3 440.2h0M417.9 432.7h0M413.1 438.7h0M466.9 422.6h0M461.6 419.6h0M419.9 433.3h0M456 435.3h0M431 445.5h0M461.2 416.6h0M465.6 429.7h0M449.8 443.2h0M428.7 420.6h0M441.3 428.5h0M406.6 431.7h0M459.6 424.8h0M456.7 426.1h0M465.9 437.3h0M433.2 405.6h0M460.8 439.5h0M461.5 438.5h0M426.2 413.1h0M411.6 442.7h0M435.3 430.2h0M407.4 428.5h0M426.3 423.1h0M464.8 439.8h0M422.9 440.1h0M424.1 439h0M448 392.1h0M428.3 412.3h0M450.7 398.2h0M438.8 402.7h0M415.2 418.6h0M427.9 411.8h0M462.5 392.9h0M460.2 391.7h0M415.4 416.2h0M424 405.8h0M448.6 402h0M460.4 404.8h0M465.2 387.5h0M447.5 397.6h0M426.5 404.2h0M419.4 414.6h0M465.7 404h0M444.4 393.2h0M430.6 407.8h0M434.3 386.3h0M406 429.5h0M467.8 397.7h0M422 401.1h0M451.7 400.1h0" stroke="#f40000" stroke-width="3.8" stroke-linecap="round" fill="none" opacity="0.64"/>
<path d="M459.3 437.3h0M468.5 418.2h0M458.5 420h0M443.3 402.7h0M453.2 417.7h0M463.5 411.2h0M442.9 433.3h0M465.1 437.7h0M452.6 402.1h0M445.7 427h0M443.7 442.3h0M458.6 423.1h0M422 431.5h0M463.2 420.3h0M454.2 431.1h0M448.2 442.9h0M442.3 444.5h0M458.1 435.7h0M454.9 445h0M460.1 431.2h0M436 426.9h0M419.7 425h0M455.6 419.6h0M460.6 429.6h0M424.3 432.8h0M446.4 416.1h0M464.1 432.5h0M452.2 421h0M461.2 432.5h0M468.6 444.8h0M436.4 431.1h0M451.4 432.7h0M439.8 425.2h0M466.4 412.2h0M428.4 421.9h0M470.8 438.1h0M456.3 418.1h0M422.1 436.2h0M448.8 410.4h0M407.2 427.6h0M438.5 438.9h0M468.5 441.5h0M464 425.1h0M451.8 425.7h0M434.7 415.6h0M450.7 416.8h0M442.9 425.2h0M467.9 445h0M459.9 417.7h0M469.9 424.5h0M432.3 438.5h0M470.3 399.8h0M427 413.9h0M453 437.9h0M470.1 406.9h0M452.2 444.8h0M451.6 442.4h0M443.1 444.5h0M459.8 419.1h0M462.5 411.7h0M467 418.3h0M448.8 422.3h0M460.4 422.7h0M465.8 429.1h0M461.3 435.7h0M442.4 422.9h0M452 406.5h0M430.6 440.1h0M445.5 429.3h0M444.2 410h0M464.9 413.4h0M408.6 439.2h0M451.9 437.9h0M421.4 432.5h0M451 410.7h0M456.2 442h0M456.2 419.1h0M445.9 413.7h0M451 432.6h0M449.8 403.2h0M441.8 414.4h0M431.7 433.9h0M456.1 401.5h0M448.1 435h0M436.1 440.2h0M424.9 419.9h0M467.6 446.1h0M410.6 421.5h0M430.9 426h0M467.9 424h0M415.2 441.7h0M424.2 437.6h0M454.4 425.3h0M463.9 435.3h0M416.9 437.3h0M413.6 425.1h0M453.9 405.6h0M427.2 436.3h0M415.8 442.7h0M459 427.4h0M437.9 424.7h0M440.9 425.5h0M435 419.1h0M446.4 423.2h0M444.7 410h0M465.1 426.3h0M454.3 420.6h0M442.6 402.7h0M448.1 442.9h0M441.3 426.8h0M439.6 427.8h0M444.4 434.6h0M468 424.1h0M452.5 436.1h0M448.8 443.2h0M451.9 433.6h0M419 438.5h0M461.8 433.5h0M464.8 417.1h0M435.5 411.9h0M419.9 436.3h0M417.6 437.8h0M458.8 436.3h0M449.6 430.3h0M464.8 421.1h0M437.4 430.7h0M429.5 433.1h0M458.9 416.5h0M458.8 437.2h0M450.1 409.6h0M422.2 431.2h0M470.2 417.6h0M447 442.6h0M437.7 409.9h0M445.3 441.9h0M436.7 438.5h0M409.7 425.1h0M455.6 415.1h0M461.8 412.1h0M467.4 414.4h0M463.9 403.2h0M423.9 440.1h0M466 427.4h0M469.7 408.2h0M431 438.7h0M465.2 420.5h0M445.1 413.7h0M454.2 421.1h0M465.6 430.2h0M448.4 434.3h0M456.6 445.2h0M443.8 432.6h0M407.4 432.5h0M450.6 431.7h0M463.3 428.7h0M413.6 437.3h0M433.6 422.7h0M465 422.7h0M438.6 438.6h0M470.7 431.5h0M446.1 424.9h0M427.5 433.1h0M409.3 446.3h0M431.3 419h0M441.6 428.3h0M437.5 428.4h0M470.4 426h0M427.1 429.7h0M467.7 433.8h0M468.1 408h0M426.6 425.4h0M459 423h0M429.6 420.4h0M457.1 441.4h0M434.4 414.2h0M449.1 417.3h0M462.5 431h0M452.4 408.4h0M432.3 440.6h0M459.7 433.4h0M468.8 414.3h0M425.2 421.9h0M467.9 433.6h0M429.6 414.8h0M463.8 424h0M463.4 425.5h0M428.5 421.9h0M468.2 419.7h0M462.8 411.3h0M459 421.7h0M470.2 411.1h0M469.1 409.1h0M431.3 420.8h0M464.8 434.9h0M431.6 424.8h0M454.1 442.9h0M457.5 419.2h0M468.4 404.5h0M462.2 440.4h0M448.2 417.2h0M466.5 438.7h0M408.7 440.9h0M456.9 443.5h0M421.8 435.2h0M427.4 423.4h0M414.8 445.2h0M457.8 427.4h0M434.2 427.4h0M467 418.5h0M452.5 423.1h0M464.3 432.2h0M444.4 434.1h0M458.8 416h0M432.8 434.7h0M418.1 438.3h0M445.9 445.3h0M433.2 445.1h0M427.8 420.3h0M468.8 422.7h0M434.6 428.2h0M453.9 445.8h0M445.8 401h0M417.6 398.6h0M430.6 407.8h0M432.2 404.5h0M448.8 392.2h0M416.7 416.9h0M447.6 389.1h0M426 410.9h0M446.9 393.4h0M455.2 402.8h0M431.7 400h0M463.1 405.5h0M458.5 391.3h0M437.8 407.1h0M403.3 413.8h0M434.9 402.7h0M468.2 397.4h0M454.9 391.4h0M448.9 402.5h0M460 384h0M449.1 392h0M440.6 388.4h0M461.1 384.1h0M455.9 392.4h0" stroke="#f40000" stroke-width="3.8" stroke-linecap="round" fill="none" opacity="0.64"/>
<path d="M517.6 387.8h0M512.7 427.4h0M509.8 426.4h0M517.8 436.1h0M501.3 438.1h0M501.3 436.7h0M508.9 436.5h0M526.3 393.9h0M502.4 425.3h0M509.3 431.8h0M512.9 417.2h0M531.7 439.8h0M506.5 421.7h0M507.9 434.9h0M512.5 445.3h0M502.9 442h0M501.6 415.4h0M504 419.5h0M502.6 426.6h0M518.4 432.4h0M517.4 417.7h0M527.6 416.3h0M515.3 441.7h0M515.6 434.8h0M505 415.4h0M515.1 427.8h0M510.5 390.7h0M526.5 435.6h0M500.4 413.6h0M500 424.1h0M520.7 431.3h0M516.9 433.7h0M528.4 408.3h0M504.6 403h0M505 405.3h0M511.1 423.9h0M504.3 446.1h0M500.1 444.5h0M508 420.5h0M519.1 410.9h0M533.9 420.4h0M510.2 415.4h0M505.9 419.2h0M513.9 444.3h0M533.5 440.9h0M506.9 436.7h0M502.2 409h0M502.2 438.7h0M505.9 446.2h0M526.1 430.1h0M507.5 435.1h0M522.7 445h0M517.4 435.9h0M506.3 416h0M502 435.9h0M530.4 439.8h0M507.8 391.2h0M500.2 439.9h0M510.2 432.2h0M499.8 444.9h0M507.6 398.1h0M500.3 440.6h0M544.2 435.2h0M510 437.8h0M501.9 425.7h0M501.8 416.8h0M507.7 443.4h0M514.2 421.4h0M508.6 445.2h0M501.9 419.9h0M519 445.9h0M522.4 440.2h0M515.5 424h0M500.9 434.3h0M501.7 409.1h0M502.5 443.2h0M524.5 433.2h0M501.6 436.1h0M505.6 391.9h0M506.6 445.7h0M503 428.3h0M510.8 404.5h0M503.2 441.3h0M501.7 422.9h0M508.1 442.6h0M504.1 425.4h0M503.4 442.2h0M506.2 380.2h0M502.5 378.5h0M514.3 377.4h0M501.2 400.3h0M511.6 421.4h0M503.4 382.7h0M514.5 415.5h0M507 401.8h0M517.3 426h0M525.3 402h0M514 383.8h0M501.2 444.2h0M509 367.2h0" stroke="#f40000" stroke-width="3.8" stroke-linecap="round" fill="none" opacity="0.64"/>
<path d="M520.3 421.9h0M510 439.4h0M519.4 414.4h0M515.4 444.8h0M507.2 438.4h0M506.1 427.2h0M500.1 440.7h0M514.3 411.9h0M509.2 425.8h0M508.5 440.3h0M513.6 424h0M518.1 393.7h0M514.3 443.8h0M512.5 446.1h0M506.6 433.3h0M522.7 394.3h0M508.7 426.9h0M519.8 436.7h0M501.5 443.1h0M510 383h0M507.2 434.8h0M504.9 428.8h0M507.4 418.3h0M499.7 406.3h0M512.4 443.6h0M506.2 435.1h0M510.2 430.8h0M507.7 423.8h0M505.4 396.9h0M509.6 418.2h0M504.5 409.1h0M502.4 423.6h0M501.1 418.5h0M523.8 387h0M500.8 442.9h0M504.9 414.9h0M502.7 446.2h0M511.6 442.5h0M500.8 427.8h0M513.5 441.3h0M516.3 421.3h0M506.9 430.4h0M534.5 436h0M504.9 419.8h0M513.3 421.3h0M506.5 413.9h0M502.1 432.5h0M514.8 419.3h0M523.8 430.7h0M506.5 418.5h0M504.6 435h0M513.8 430.1h0M507 442.3h0M507.7 437.6h0M502.8 426.1h0M510.9 377.7h0M507.1 403.1h0M500.6 420.2h0M516.2 413.6h0M507.8 441.8h0M521.3 438.2h0M511.9 438.6h0M516.1 436.4h0M501.8 432h0M523.8 436.1h0M507.2 438.8h0M501.6 407.3h0M504 415.7h0M502 415.1h0M501.7 430.7h0M502.4 441.2h0M511.3 438.6h0M505.6 430.1h0M516.5 437.3h0M528.4 426.9h0M503.4 421.1h0M512.9 425.8h0M507.4 428.6h0M501.4 427.6h0M507.2 423.2h0M516.8 418.7h0M499.9 444.9h0M510.8 403.9h0M514.1 427.9h0M510 418.2h0M505.8 406.8h0M504.6 410.3h0M509.8 442.9h0M502.6 405.2h0M508 433.2h0M510.7 407.2h0M508.2 356.3h0M526.1 360.2h0M509.1 411.4h0M508 429.3h0M499.7 393.7h0M509.3 403.9h0M531.9 367.6h0M528.4 405.8h0M504.4 386.1h0" stroke="#f40000" stroke-width="3.8" stroke-linecap="round" fill="none" opacity="0.64"/>
<path d="M512.7 435.7h0M509 443.1h0M513.1 417.7h0M512.8 442.3h0M506.3 442.3h0M499.7 430.7h0M505.9 443.3h0M544.2 421.7h0M501.4 393.1h0M512.3 419.1h0M522.5 435h0M507.9 392.3h0M522.7 436.7h0M503.7 423.8h0M501 440.3h0M502.1 399.8h0M522.3 420.7h0M508.5 411.1h0M516.5 445h0M514.9 432.4h0M510.1 380.8h0M501 443.5h0M522.4 445.1h0M519.7 440.9h0M500.4 427.2h0M530.3 439.1h0M505.7 435.3h0M512.4 407.8h0M499.7 419.9h0M502.4 444.8h0M514.4 414.5h0M506 443.8h0M503.4 446.2h0M509.6 384.6h0M500.9 445.2h0M508.5 443.8h0M500.5 444.1h0M507.7 445h0M509.1 442.7h0M539.2 444.1h0M507.4 445.8h0M504.6 420h0M529.1 411.7h0M506.9 434.3h0M500.8 428.6h0M507.9 441.2h0M511.7 401.9h0M511 413.2h0M509.9 439.1h0M529.6 446.1h0M507.6 444.1h0M504.3 406.5h0M503.4 437.2h0M501.5 443.1h0M523.6 443.5h0M520.2 441.5h0M509.4 417.2h0M516.3 441.2h0M505.6 439.9h0M507.7 417.1h0M500.6 439.2h0M507.6 434.4h0M514.2 371.2h0M511.9 431.1h0M515.4 401.5h0M520 416.9h0M503.9 431.2h0M511.2 441.5h0M509.6 444.3h0M506.9 393.3h0M518.8 421.3h0M509.1 424.3h0M508.5 411.4h0M515.8 425.6h0M522.1 425.9h0M516.6 445.3h0M531.3 429.2h0M516.6 443.5h0M529.6 437h0M521.8 407.3h0M503 409h0M502.5 441.7h0M516.1 432.1h0M506.2 414.7h0M501.8 430.7h0M510.6 437.9h0M544 433.6h0M502.1 424.2h0M514.8 375.1h0M514.1 410.3h0M502.9 421.2h0M507.6 373.4h0M508.9 375.3h0M504.5 362.7h0M507.6 407.7h0M509.8 410.1h0M510.5 385.6h0M506 394.4h0M509.8 383.4h0M513.2 375.9h0" stroke="#f40000" stroke-width="3.8" stroke-linecap="round" fill="none" opacity="0.64"/>
<path d="M522.5 406.4h0M506.6 439.9h0M516 389.4h0M510.4 436.9h0M507.9 426.8h0M512.6 414.3h0M501.2 437.5h0M509.4 434.9h0M519.5 437.3h0M515.9 425.2h0M507.6 442.8h0M504.1 417.3h0M512.5 436.8h0M526.5 410.8h0M503.3 441.2h0M505.8 418.6h0M503.1 440.5h0M508.2 443.1h0M503.7 442.6h0M518.9 420.3h0M512.3 439.8h0M513.3 444h0M505.4 435.3h0M517.5 407.9h0M501 439h0M509 443.1h0M507 400.8h0M501.9 442.8h0M502.9 429h0M521 429h0M513 407.1h0M511 445.2h0M509.9 423.3h0M511.6 433.8h0M508.5 431.8h0M500.9 430h0M501.6 438h0M504.5 445.5h0M513.4 443.8h0M503.7 442h0M500.9 426.5h0M511.6 432.2h0M502.1 414.9h0M508.8 441.9h0M539.5 433.5h0M506.1 442.6h0M511.6 428.3h0M512.8 433.7h0M512.1 411.7h0M512.4 438.4h0M500.4 441.3h0M510.6 409.5h0M502.9 412.8h0M511.2 412.8h0M509.2 418.9h0M502.1 418.9h0M515.1 403.3h0M524.7 434.6h0M532.1 441.8h0M505.5 414h0M501.9 428.9h0M502.3 441.7h0M508.1 440.8h0M507.3 403.7h0M506.3 423.6h0M504.3 424h0M502.1 391.8h0M504.6 418h0M503.2 384.6h0M510.6 407.4h0M519.7 437.7h0M502.9 426.2h0M514.5 435.8h0M523.1 428.1h0M511.4 399.5h0M516.4 442.3h0M512.2 391.7h0M507.2 423.7h0M513.7 424.9h0M505.5 420.4h0M502.5 419.2h0M502.5 432.2h0M511.3 439.8h0M508.2 441.2h0M508.9 437h0M502.8 441.4h0M501.2 424.5h0M505.1 414.9h0M511.8 382.6h0M508.3 372.2h0M520.7 434.4h0M518.2 403.7h0M512.1 445.1h0M508.9 438.4h0M517.1 430.4h0M503.4 430.8h0M504.4 422.3h0M513.6 363.8h0M508.3 385.8h0M514.4 428.8h0" stroke="#f40000" stroke-width="3.8" stroke-linecap="round" fill="none" opacity="0.64"/>
<path d="M512.4 429.1h0M502.5 422h0M510.2 400.3h0M501.9 441.4h0M512.1 421.6h0M509.8 429h0M502.8 430.6h0M509.2 418.1h0M515.7 427.6h0M505.7 430.5h0M513.8 445.4h0M510.3 438.8h0M499.9 415.7h0M508.2 426.7h0M526.2 445.7h0M501.6 440.2h0M508.2 417.8h0M503.3 425.8h0M508.6 436.7h0M510.1 442.5h0M512.4 445.8h0M509.1 420.9h0M507.8 423.8h0M504 446.1h0M544.2 443.2h0M500.6 412.6h0M500.5 435.2h0M533.5 407h0M508.6 405.1h0M526 445.3h0M513 439.1h0M502.3 428.2h0M502.6 397.7h0M509.3 398.1h0M503.2 393.8h0M511.6 391.6h0M503.6 386.3h0M531.1 409.5h0M506.9 439h0M521.6 398.8h0M521.3 446.1h0M506.6 434.3h0M507.2 442.8h0M500.9 440.2h0M505.8 428.5h0M507 411.4h0M501 433h0M502.6 439.3h0M506.2 420.6h0M506.4 419.4h0M511.8 436.4h0M508.9 420.7h0M503.7 426.2h0M512.3 408.7h0M507.2 445.6h0M517.2 420.1h0M506.4 445.8h0M505.3 407.5h0M509.7 432.8h0M503.5 408.5h0M525.2 391.9h0M516.3 403.3h0M503.6 439.9h0M500 429.5h0M512.8 416.2h0M499.8 417.3h0M503.4 422.3h0M505.1 444.5h0M501.7 417.4h0M505.4 436h0M526.4 446.2h0M499.7 442.8h0M507.5 435.2h0M504.9 415.6h0M502.2 400.3h0M509.8 424.7h0M514.3 439h0M512.7 440.9h0M517 417h0M528.5 445.1h0M516.5 433.6h0M502 412.3h0M509.5 442.4h0M520 426.2h0M503.9 438.1h0M510.5 445.3h0M514.6 401.8h0M531.7 413.7h0M516.4 426.4h0M505.9 421.4h0M501 402.5h0M513.6 362.7h0M507 429.2h0M517.7 405.1h0M502.9 371.3h0M519.8 398.4h0M510.8 373.5h0M516.3 387.7h0M505.3 400.8h0M519.4 422.7h0" stroke="#f40000" stroke-width="3.8" stroke-linecap="round" fill="none" opacity="0.64"/>
<path d="M561.4 309.9h0M564.4 309.9h0M582.7 306.9h0M586.9 309.9h0M592.5 306h0M605.1 306h0M609.3 306h0M616.5 306h0M627.3 300h0M627.3 306h0M627.3 309.9h0M638.6 297h0M670.7 320.4h0M612.6 340.8h0M611.7 351.8h0M595.2 358.7h0M575.2 361.7h0M577.3 361.7h0M626 365.6h0M639.2 383h0M598.2 383.6h0M616.2 385.1h0M593.1 402.7h0M588.3 433.2h0M567.4 387.7h0M567.4 392.2h0M574.6 402.7h0M567.7 422.2h0M554.2 369.2h0M554.2 389.2h0M563.2 401.2h0M560.8 413.2h0M558.4 426.1h0M554.8 434.1h0M523.4 351.8h0M530.3 349.7h0M537.8 361.7h0M527.9 361.7h0M431.7 335.1h0M436.2 340.9h0M448.2 349.5h0M445.1 362.5h0M445.1 374.1h0M458.5 374.1h0M420.6 390h0M427.3 384.2h0M404.9 416h0M409.4 410.2h0M525.5 349.5h0M521 352.4h0M532.2 366.9h0M538.9 385.7h0M545.6 395.8h0M554.5 369.8h0M554.5 405.9h0M541.1 413.1h0M552.3 423.2h0M534.4 426.1h0M545.6 433.3h0M561.2 392.9h0M565.7 401.6h0M576.8 388.6h0M567.9 429h0M588 400.1h0" stroke="#f40000" stroke-width="3.7" stroke-linecap="round" fill="none" opacity="0.6"/>
<path d="M471 289.2V468.6M499.6 289.2V468.6" stroke="#222" stroke-width="0.9" fill="none" stroke-dasharray="3.9 1.8 0.9 1.8"/><path d="M389.9 446.4H683.5" stroke="#222" stroke-width="0.9" fill="none" stroke-dasharray="3.9 1.8 0.9 1.8"/>
<text x="390" y="404.8" font-size="9.5" text-anchor="start" font-weight="normal" fill="#222" >INPP5B</text><text x="390.7" y="435" font-size="9.5" text-anchor="start" font-weight="normal" fill="#222" >MBNL2</text><text x="623.7" y="294.1" font-size="9.5" text-anchor="start" font-weight="normal" fill="#222" >H2BU1</text><text x="614" y="319.8" font-size="9.5" text-anchor="start" font-weight="normal" fill="#222" >H2AW</text><text x="661.7" y="317.4" font-size="9.5" text-anchor="start" font-weight="normal" fill="#222" >MX1</text><text x="597.6" y="339.3" font-size="9.5" text-anchor="start" font-weight="normal" fill="#222" >SFRP5</text><text x="601.2" y="349.7" font-size="9.5" text-anchor="start" font-weight="normal" fill="#222" >MDK</text><text x="614.7" y="363.8" font-size="9.5" text-anchor="start" font-weight="normal" fill="#222" >SAA1</text><text x="627.3" y="380.3" font-size="9.5" text-anchor="start" font-weight="normal" fill="#222" >SAA2</text>
<text x="15.5" y="517" font-size="19" text-anchor="start" font-weight="bold" fill="#000" >d</text>
<rect x="46.5" y="527" width="286.3" height="15.7" fill="#e68787"/>
<text x="189.9" y="539.4" font-size="13" text-anchor="middle" font-weight="bold" fill="#000" >Critical disease vs. Controls</text>
<text x="188.1" y="560.4" font-size="12.8" text-anchor="middle" font-weight="normal" fill="#000" xml:space="preserve">Down = 2016 proteins,  Up = 950 proteins</text>
<path d="M48.6 577.9V766H349.8" stroke="#3a3a3a" stroke-width="1.1" fill="none"/><path d="M44.4 757.9H48.6" stroke="#3a3a3a" stroke-width="1.1"/><text x="38.6" y="762.4" font-size="12.8" text-anchor="end" font-weight="normal" fill="#111" >0</text><path d="M44.4 715.2H48.6" stroke="#3a3a3a" stroke-width="1.1"/><text x="38.6" y="719.7" font-size="12.8" text-anchor="end" font-weight="normal" fill="#111" >5</text><path d="M44.4 672.5H48.6" stroke="#3a3a3a" stroke-width="1.1"/><text x="38.6" y="677" font-size="12.8" text-anchor="end" font-weight="normal" fill="#111" >10</text><path d="M44.4 629.8H48.6" stroke="#3a3a3a" stroke-width="1.1"/><text x="38.6" y="634.3" font-size="12.8" text-anchor="end" font-weight="normal" fill="#111" >15</text><path d="M44.4 587.1H48.6" stroke="#3a3a3a" stroke-width="1.1"/><text x="38.6" y="591.6" font-size="12.8" text-anchor="end" font-weight="normal" fill="#111" >20</text><path d="M91 766V770.2" stroke="#3a3a3a" stroke-width="1.1"/><text x="88.8" y="785" font-size="12.8" text-anchor="middle" font-weight="normal" fill="#111" >-2</text><path d="M178.6 766V770.2" stroke="#3a3a3a" stroke-width="1.1"/><text x="178.6" y="785" font-size="12.8" text-anchor="middle" font-weight="normal" fill="#111" >0</text><path d="M266.2 766V770.2" stroke="#3a3a3a" stroke-width="1.1"/><text x="266.2" y="785" font-size="12.8" text-anchor="middle" font-weight="normal" fill="#111" >2</text>
<text x="186.3" y="806.2" font-size="12.8" text-anchor="middle" fill="#111">Log<tspan font-size="9.2" dy="3">2</tspan><tspan dy="-3"> fold change</tspan></text>
<text transform="translate(10.1 676.3) rotate(-90)" x="0" y="0" font-size="12.8" text-anchor="middle" fill="#111">- Log<tspan font-size="9.2" dy="3">10</tspan><tspan dy="-3"> q−value</tspan></text>
<path d="M165.5 754.2h0M165.8 753h0M186 756.2h0M176.4 754.5h0M171.8 752.1h0M162.9 749.5h0M191 752.1h0M163.8 751.1h0M183.7 749.9h0M172.2 751.4h0M189 751.7h0M176.3 753.4h0M189.6 753.5h0M184.9 755h0M180.5 755.9h0M168.5 751.1h0M191.9 754.4h0M193.2 751.6h0M187.7 750.9h0M165.5 754.5h0M166.8 754h0M193.3 751.1h0M185.1 756.8h0M181.4 753.2h0M180.3 757.2h0M178 756.5h0M163.5 752.1h0M175.1 754.8h0M173.8 754.8h0M180.1 753.6h0M192.7 750.3h0M188.7 754.6h0M171.1 752.6h0M181.2 757.4h0M185.1 756.5h0M175.6 753h0M192.2 754.1h0M173.5 755.7h0M166.8 753.2h0M194.4 754.2h0M164.5 751.9h0M192.4 752.2h0M175.9 752.2h0M175.6 756.1h0M174.6 751.3h0M179.1 758h0M180.6 752.4h0M187.1 751.7h0M190.5 751.5h0M183.8 754.9h0M187.6 753.1h0M189.9 751.8h0M174.1 751.7h0M190.5 749.6h0M191 753.2h0M183.6 756.3h0M185.6 757h0M176.6 754.9h0M169.5 752.7h0M191.3 750.1h0M191 754.6h0M186.1 753.6h0M174 752.3h0M179 757.5h0M168.7 755.4h0M194 753.8h0M181.8 754.2h0M190.5 752.9h0M191.6 752.5h0M168.8 752.9h0M163.5 751.3h0M167.2 750.7h0M174.9 753.5h0M164.9 754.2h0M183.6 751.2h0M180 757.2h0M163.2 751.1h0M164.4 753h0M176.3 752.1h0M164.3 749.7h0M162.9 752.5h0M188.3 755.4h0M163.7 750.3h0M169.8 751.9h0M172.4 755.3h0M191.3 751.3h0M166.7 754.4h0M172.2 754.5h0M165.5 755.2h0M176.2 754h0M193.2 749.6h0M171.4 752.5h0M191.4 752.5h0M190.7 755.1h0M172.4 756.3h0M163.5 754.9h0M174.5 756.2h0M183.9 753.2h0M179.3 758.2h0M185.9 752.2h0M174.5 755.6h0M189.1 755.3h0M175.4 755.3h0M169.7 755.5h0M173.8 752.7h0M170.5 752h0M164.6 754.8h0M178.4 757.2h0M168.6 750.4h0M171.2 751.3h0M178.8 757.4h0M181 752.1h0M174.8 757.5h0M184.3 752.9h0M182.1 755.4h0M168.7 750.9h0M178.7 756.6h0M171.5 751.6h0M162.9 753.6h0M180.3 753.3h0M183.3 756.7h0M190.4 750.2h0M188 749.5h0M168 755.5h0M181.8 757.1h0M192.5 753.1h0M185.1 751h0M164.6 754h0M193.7 754.8h0M178.8 757.6h0M167.4 752.6h0M179.6 757.4h0M168.5 752h0M194.3 754h0M163 750.6h0M193.3 752.2h0M186 756.8h0M163.2 750.3h0M179.5 755.1h0M177.8 755h0M178.8 757.3h0M176.7 754.5h0M166.2 750.6h0M185.1 752.5h0M177.8 755.6h0M167.5 749.6h0M183.4 755.7h0M171.6 754.9h0M164.8 755.4h0M185.8 753.8h0M176 753.6h0M189.7 750.6h0M177.6 757.8h0M177.6 757.8h0M162.9 752.7h0M166.8 752.7h0M175.8 753.2h0M187.7 756.5h0M181.5 754.5h0M171.9 755.9h0M172.4 750.3h0M174.6 752.2h0M167.1 752.1h0M173 756.6h0M191.4 754.6h0M173.2 757.1h0M169.3 755.3h0M164 749.8h0M179 755.3h0M178.9 757h0M165.6 752.5h0M175.9 751.2h0M166.5 750.4h0M193.2 752.5h0M174.5 750h0M163.9 752.4h0M190.6 751.5h0M178.8 758.5h0M169.5 753.6h0M170.5 754.9h0M185.5 756.1h0M182.1 755.4h0M183.2 752.4h0M192.3 751.9h0M186.2 754.4h0M183.2 754.5h0M174.2 751.3h0M173.4 756.7h0M187 754.5h0M188 756.2h0M171.7 751.1h0M165.3 749.8h0M185.3 757.2h0M186.2 750.9h0M166.1 754.8h0M183.3 756.1h0M193.2 752.9h0M183.4 750h0M172.2 751.5h0M172.3 756h0M167.8 752.6h0M189.2 755.6h0M180.6 753.8h0M188.6 751.8h0M194.1 753.1h0M183 757.2h0M174.8 754.1h0M181.9 757.8h0M176 752.4h0M184.2 749.5h0M165.6 754.4h0M167.6 752.9h0M170.6 754.7h0M177.7 756.7h0M193.4 752h0M174.3 754.5h0M184.7 754.9h0M174.8 752.1h0M189.6 750.4h0M190.5 751.2h0M186.7 752.7h0M175.8 756.5h0M174.2 757.6h0M173.5 755.1h0M190.8 754.7h0M193.8 753.2h0M167.8 751.1h0M172.8 752.9h0M178.2 756.6h0M192.2 750.2h0M185.9 752.1h0M169.9 755.9h0M181 752.2h0M166.8 749.7h0M192.3 755h0M186.6 756.5h0M174.6 756.8h0M173.5 757.3h0M182.4 752.1h0M186.6 751.9h0M193.5 752.4h0M175 753.9h0M191.9 753.2h0M189 751.6h0M181.3 755h0M166.9 753.9h0M179.6 754.6h0M190.4 750.1h0M180.8 757.1h0M168.7 752.1h0M168.6 750.6h0M182.6 755.1h0M191.9 752.8h0M175.3 750.3h0M163.6 754.5h0M181.8 754.7h0M169.7 750.9h0M188.6 753.4h0M170.6 756.2h0M175 749.9h0M187.9 754.3h0M163.5 754.8h0M163.8 753h0M180.6 756.8h0M188.3 750.6h0M165.2 755.3h0M167.5 751.9h0M179.6 755.1h0M190.8 755.8h0M194.3 753.5h0M181.6 753.4h0M185.5 753.7h0M176.8 756.3h0M187.2 750.1h0M174.2 757.2h0M185.7 752.4h0M170.7 754.1h0M192.5 751.6h0M181 757.6h0M191.8 752.1h0M181.4 754.8h0M186.6 755.8h0M193.6 751.7h0M170.5 749.5h0M188.6 751.9h0M184.4 749.8h0M193.1 755.1h0M180.9 755.2h0M172.5 756.7h0M164.5 749.7h0M187.7 755.7h0M168.3 752.6h0M169.4 753.1h0M190.3 752.4h0M169 752.7h0M194.2 754.7h0M192.2 752.1h0M194.1 753.9h0M189.2 756h0M187.2 753.2h0" stroke="#4d4d4d" stroke-width="3.2" stroke-linecap="round" fill="none" opacity="0.95"/>
<path d="M188.1 752.4h0M177.9 758h0M175.2 753.7h0M186.1 749.7h0M184.8 755h0M172.2 754.8h0M177.7 755.2h0M174.6 757.1h0M169.4 752h0M185.6 755.4h0M184.4 750.8h0M190.5 755.3h0M178 758h0M190.3 754.2h0M182.2 756.3h0M186.6 752.6h0M189.7 755h0M182 750.1h0M164.5 753.2h0M169.6 750.4h0M178.4 755.9h0M169.6 752.7h0M184.3 754.5h0M183.9 753.2h0M178.4 758.3h0M187.2 753.8h0M169.3 751.2h0M191.5 753.2h0M178 758.2h0M180.6 753.8h0M186.3 750.8h0M178 757.3h0M172.9 752.4h0M176.8 756.1h0M168.2 752.7h0M173.3 755.9h0M167.5 754.2h0M179.7 754.1h0M183.9 750.3h0M179.8 754.3h0M168.3 751h0M163.1 754.8h0M170.3 751.8h0M185 754.8h0M178.4 756.2h0M176.8 753.4h0M162.9 753.1h0M180.5 754.4h0M180.1 755.5h0M183.9 752.5h0M163.7 752.1h0M183.1 754.4h0M165.3 750.2h0M167.1 755.3h0M171.4 754.1h0M178.2 756.3h0M188.4 753.4h0M171.7 750.2h0M168.1 752h0M167.1 751.9h0M175.9 753.1h0M183 752.1h0M181 753.5h0M176.5 752.6h0M163.2 750.2h0M171.2 755.5h0M188.7 754.9h0M188.3 750.8h0M182.1 753.3h0M192.1 749.9h0M173.1 756.4h0M193.1 752.2h0M189 751.1h0M190.2 752.7h0M182.9 751.6h0M168.7 749.4h0M190.6 754.4h0M173.2 753.7h0M166.6 749.7h0M173.3 751.6h0M184.2 752.4h0M175.5 753.3h0M176 756.4h0M164.3 753.9h0M185.9 752.5h0M172.1 754.7h0M181.9 752.1h0M188.2 749.7h0M186.8 753.1h0M186.8 756.3h0M176 754.9h0M169.3 752.7h0M188.9 755.1h0M169.5 751.4h0M165.6 750.7h0M192.6 750.7h0M190.2 750.8h0M179.4 754.5h0M165.2 751.9h0M186.3 754.7h0M174.6 755.6h0M169.4 751.4h0M193.6 750h0M178.4 756.8h0M184.2 750.9h0M164.7 755.1h0M187.5 754h0M169.4 756.3h0M173.5 754.1h0M185 754.2h0M180.9 754.4h0M192.8 755.1h0M174.6 751h0M165.6 750.6h0M187.6 756.4h0M164.3 754.6h0M181.4 757.8h0M173.8 756h0M192.2 755.3h0M184.9 755.1h0M178.6 757.9h0M186.9 754h0M174.5 753.4h0M185.5 756.7h0M183.9 751.4h0M175.1 754.6h0M166.5 753.8h0M186 749.8h0M175.5 751.3h0M187.5 750.4h0M167.5 754.9h0M188.2 753.9h0M171.1 756.5h0M167 752.8h0M165.2 755.4h0M192.1 750h0M183.1 757.2h0M172.5 751.4h0M183 749.6h0M188.7 752.3h0M183.2 756h0M172.5 755.6h0M190.4 750.5h0M164.7 750.1h0M166.7 751h0M185.2 753h0M178.6 758.5h0M168 753.4h0M173.3 749.4h0M169.1 755.7h0M188.9 753.1h0M189.6 753.9h0M181.3 757.8h0M177.9 757.9h0M176.3 754.7h0M172.3 756.6h0M172.4 751.6h0M169.6 754.6h0M180.7 757.8h0M186.4 751.8h0M167.1 755.9h0M192.7 752.4h0M163.4 750.4h0M167.5 750.5h0M194.3 750.2h0M167.6 753.2h0M171.4 750.3h0M177 754.4h0M168.5 754.6h0M173.3 755h0M189 750.3h0M193.3 753.4h0M192.5 751.5h0M179.4 758.3h0M166.1 754.9h0M181.9 753.8h0M182.9 752.7h0M165.9 751.6h0M183.2 752.7h0M167.3 751.6h0M171.4 755.9h0M190.3 754.3h0M192.5 751.1h0M162.9 753.2h0M183.6 756.6h0M192.7 755h0M175.2 754.2h0M172.9 750.4h0M183.9 751h0M168 749.7h0M182.7 750.4h0M190.5 754.4h0M190.1 753.3h0M163.7 750.1h0M177.2 757.1h0M182.5 751.4h0M171.9 752.7h0M181.3 755h0M182.9 757.1h0M178.5 757.5h0M183.6 754.8h0M164.6 751.2h0M192.3 752.4h0M179 756.8h0M176.2 755.1h0M183.4 757.3h0M180.7 754.8h0M173.2 751.5h0M180 755.5h0M163 754.4h0M163.5 749.4h0M190.6 752.8h0M176.1 756.1h0M165.4 750.2h0M165.8 749.9h0M170.9 749.9h0M174.5 754.2h0M192.8 755.2h0M169.7 749.5h0M166.2 752.9h0M164.7 750.8h0M173.8 756.8h0M194.3 754.3h0M177.3 756.8h0M194.3 752.8h0M165.4 750.4h0M190.6 754.5h0M190.2 750.3h0M188.2 755.4h0M170.2 752.1h0M165.1 755.2h0M178.1 755.9h0M178.3 757.1h0M184 749.5h0M181.9 754.1h0M183.6 752.6h0M184.5 757h0M172.5 755.3h0M185.2 754h0M179.7 754.9h0M193.2 751.6h0M183.5 755h0M182.5 750.5h0M185.4 751.3h0M191.2 754.8h0M170.2 749.6h0M180.3 757.2h0M166.7 750.9h0M173.5 751.5h0M179.6 756.1h0M179.9 755.1h0M186.1 754h0M169 753.2h0M172.5 750.2h0M172.1 751.4h0M175.9 752.1h0M174.6 752h0M169 754.8h0M176.3 754h0M192.5 750.7h0M186.7 756.5h0M172.8 751.6h0M181.6 751.6h0M165.6 752.5h0M182.4 756.3h0M171.3 752.9h0M172.7 751h0M170.9 752.6h0M192.3 751.9h0M178.3 756.3h0M190.1 755h0M191.6 749.7h0M191.2 749.7h0M192.7 752.5h0M176.7 757h0M192.4 751.3h0M178.6 757.1h0M173.1 755.2h0M177.3 754h0M180 756.7h0M183.3 749.7h0M168.3 751.5h0M189.3 754.3h0M190.5 753h0M187.4 752.4h0M176.4 753.6h0M170.8 754.2h0M192.6 754.3h0M168.4 752.2h0M186.8 756.2h0M179.1 757.8h0M190.7 755.4h0M193 753.2h0M177.1 754.4h0M163.9 752.2h0M166 752.1h0M193.2 753.4h0M187.2 754.3h0M172.7 750h0M174.8 749.8h0" stroke="#4d4d4d" stroke-width="3.2" stroke-linecap="round" fill="none" opacity="0.95"/>
<path d="M153.4 751h0M161.7 749.5h0M161.3 750h0M160 749.7h0M164.1 750.4h0M156.2 751.7h0M163.4 751.4h0M157.2 749.7h0M162 750.1h0M158.6 750.3h0M161.9 750h0M162.1 752.1h0M161.1 751.1h0M163.6 751.5h0M156.1 750.9h0M161.2 753.8h0M158.7 751.5h0M160.4 752.4h0M162.4 750.9h0M158.1 750.1h0M162.6 750.9h0M163.9 749.6h0M159.5 750.7h0M161.8 750.6h0M154.5 752.1h0M156.6 751.7h0M163.9 751.3h0M163.3 751.1h0M156 752.9h0M156.8 751h0M158.3 750.7h0M157.5 750.6h0M163.5 753.6h0M157.6 749.9h0M159.2 749.4h0M199.4 751.3h0M194.1 752.9h0M195 752.8h0M212.5 749.4h0M197.7 753h0M199.7 749.5h0M198.6 750.5h0M197.8 750.3h0M202.5 749.8h0M193.2 749.8h0M194.5 750.4h0M195.5 754.4h0M194.8 752h0M200.3 752.6h0M198.9 750.5h0M198.4 749.9h0M200.3 750.6h0M193.4 752.7h0M197.6 751.7h0M195.5 749.6h0M194.9 751.2h0M195.7 755.1h0M201.2 750.6h0M194.5 752.1h0M199.3 750.3h0M199.8 749.5h0M205.2 749.4h0M194.7 750.3h0M199 751.4h0M199.8 749.4h0M197.5 753h0M205.3 752.1h0M206.5 751.1h0M207.3 750h0M196.3 750.2h0" stroke="#34a034" stroke-width="3.2" stroke-linecap="round" fill="none" opacity="0.75"/>
<path d="M157.8 751.5h0M162.6 750h0M159.8 751.8h0M161.9 750.9h0M162.9 750.4h0M160.1 750.3h0M161 753.2h0M155.2 752h0M158.2 750h0M160.2 749.9h0M160.3 752.9h0M160.8 749.4h0M160 750h0M159.7 751.6h0M164.1 751.9h0M161.7 749.4h0M160.7 749.7h0M151.9 749.4h0M163.3 754.4h0M162.3 750.3h0M161 752.9h0M158.9 753.5h0M163.9 749.4h0M163.5 752.2h0M159.5 750.8h0M161.6 750.4h0M161.1 749.8h0M160.2 753.4h0M159.2 751.7h0M160.7 750h0M159.6 750.1h0M156.2 750.7h0M159.2 751.3h0M161.4 750.5h0M161 751.6h0M201 751.1h0M199.2 751.2h0M193.3 750.4h0M193.6 751.7h0M193.8 752.1h0M199 751.1h0M195.9 750.7h0M194.1 750.6h0M197 751.9h0M194.2 751.1h0M195.2 751.8h0M199 750.6h0M193.7 750.4h0M199.3 749.8h0M195.3 750.1h0M193.2 749.8h0M195.9 752.4h0M193.3 752h0M195.9 751.9h0M211.3 749.9h0M193.9 749.6h0M203.4 752h0M193.1 752.4h0M198.4 753h0M193.8 750.1h0M198.1 750.1h0M195.3 749.6h0M193.3 749.8h0M195.9 751.1h0M199.3 750.8h0M198.9 750.7h0M202.7 751.2h0M201.3 751.8h0M200.2 750.4h0M203.7 750.6h0" stroke="#34a034" stroke-width="3.2" stroke-linecap="round" fill="none" opacity="0.75"/>
<path d="M210.1 754.5h0M218 753.6h0M145.8 750.2h0M239.9 752.8h0" stroke="#5ab05a" stroke-width="3.2" stroke-linecap="round" fill="none" opacity="0.7"/>
<path d="M167.7 730.6h0M168.2 727.1h0M170.8 731.5h0M173 740h0M164.4 724.4h0M171.9 740.6h0M165.8 735.1h0M172.7 744.5h0M172.7 734.8h0M165.7 743.5h0M170.5 728.1h0M165.4 715.2h0M174.3 744.5h0M173.2 744.9h0M165.6 728.2h0M165.2 724.4h0M164.2 707.4h0M167.4 729.4h0M170 728.1h0M164.2 710.4h0M166.7 713.5h0M165.9 746.7h0M168.8 747.6h0M173.5 744h0M167.4 739.7h0M173.4 743h0M171.6 746h0M167.1 721.5h0M167.8 719.7h0M171.8 744.1h0M167.8 731.4h0M168 729.3h0M169.4 722.1h0M165.8 736.9h0M174 740.6h0M170.2 743.2h0M170 748.4h0M168.6 742.5h0M174.6 742.7h0M171.9 745.5h0M164.7 734.9h0M165.3 744.7h0M166 708.7h0M165.3 741.1h0M166.3 735.4h0M164.2 735.8h0M165 744.5h0M169 742.6h0M173.9 748.5h0M170 748.7h0M168.5 736h0M165.7 714.9h0M164.3 701h0M164.9 709.8h0M173.3 743.5h0M164.5 735.9h0M165.9 738h0M175.3 748.8h0M166.6 732.2h0M171.7 744.8h0M175.1 748.6h0M166.4 718.6h0M170.2 744.1h0M167.8 722.8h0M174.2 742.1h0M165.4 747.4h0M175.2 748.1h0M165.7 725.8h0M167.7 736h0M172.8 740.7h0M168.7 721.3h0M172.5 739.9h0M174.1 743h0M165.2 731.6h0M175.3 747.3h0M169.8 728.1h0M166.1 745.3h0M164.8 744h0M175.3 745.8h0M174.1 740.2h0M164.8 703.3h0M172.1 735.5h0M164.9 710.8h0M164.6 741.6h0M165.2 732.5h0M172.2 741.1h0M169 731.4h0M175.2 747h0M165.1 710.4h0M171.2 741h0M165.4 707.5h0M165.9 717.9h0M164.3 703.3h0M165.2 740.3h0M170.6 740.5h0M173.2 739.2h0M174.1 746.7h0M168.8 742.3h0M167.8 722.8h0M172.2 745.7h0M169.1 747.7h0M168.9 735h0M171.2 734.5h0M169.5 735.4h0M166.1 741.2h0M174.7 747.9h0M168.9 728.4h0M166.8 728.8h0M175 748.6h0M173.1 743.3h0M175.2 745.2h0M164.8 724.3h0M172.9 749h0M167.3 736h0M171.4 740.3h0M164.3 742.1h0M169.9 746.3h0M173.3 739.7h0M165.2 747.3h0M169 733.2h0M172.5 740.6h0M168.2 745.6h0M164.2 734.8h0M166.8 746.5h0M172.5 738.9h0M165.3 708.9h0M171.9 740.1h0M169 740.9h0M164.5 730.3h0M165.8 730.8h0M166.5 726.7h0M170.9 737.2h0M169.6 736.6h0M173.2 746.9h0M169.4 739.3h0M164.8 705.8h0M170.9 737.3h0M168.6 722.7h0M172.6 740.8h0M168 735.4h0M174.7 748.8h0M172.6 746.9h0M167.4 744.5h0M166.6 746.4h0M172.3 733.4h0M174.1 739.8h0M166.3 737.4h0M168.5 747.3h0M164.4 707.1h0M172.6 734.5h0M170.7 733.3h0M166.7 733.8h0M171.4 738.9h0M164.4 704h0M168.7 739.7h0M167.3 741.3h0M169.6 748h0M164.2 744.7h0M171.3 738.4h0M164.5 713.5h0M166.9 732.3h0M172 746.3h0M170.5 745.4h0M171.8 734.5h0M164.8 718.2h0M169.6 727.7h0M169.9 737.9h0M166.6 720.1h0M166.6 718.9h0M171.1 731.3h0M175 746h0M167.1 748.7h0M172.3 748.7h0M164.8 747.1h0M171.2 734.9h0M166.6 729.9h0M167.9 746.9h0M166.8 733.2h0M174.8 745.5h0M170.3 725.9h0M172.7 745.9h0M165.3 735.7h0M175 749.3h0M166.9 718.3h0M164.6 716h0M174.9 747.8h0M167.5 725.7h0M171.9 737.4h0M171.8 743.2h0M174.6 744.1h0M172.5 734.5h0M165.5 743.1h0M172.2 749.4h0M166 723h0M164.3 718.4h0M173.7 740h0M167.2 742.4h0M169.8 728.7h0M169.1 739.1h0M171.4 742.4h0M164.6 710.4h0M174.7 747.8h0M167.1 747.2h0M170 744.7h0M165.4 707.1h0M171.2 743.8h0M168 720.5h0M172.1 737.2h0M174.8 747.2h0M174.5 745.6h0M173.8 739.3h0M172.5 735.9h0M168.9 737.4h0M170.3 747.2h0M164.8 745.5h0M165.5 710.7h0M165.8 714.2h0M164.3 730.6h0M174.9 743.7h0M173.5 738.8h0M166.9 729h0M173.1 747.7h0M171.8 738.6h0M164.7 741.4h0M164.9 704.7h0M172 744.1h0M171.3 744.7h0M171 729.4h0M166.4 724.7h0M164.2 743.2h0M172.1 736h0M173.4 746.9h0M166.9 734.5h0M166.2 724.2h0M164.5 745h0M172.1 741.6h0M171.5 740.3h0M165.3 734.6h0M171.9 736h0M167.4 733.7h0M173.5 741.6h0M168.3 719.2h0M173.8 745.9h0M168.5 737h0M172.4 734.5h0M166.9 725.8h0M167.8 727.9h0M171.5 743.3h0M166.8 720.4h0M164.5 733.8h0M172.2 743.3h0M168.8 729.7h0M171.9 736.9h0M167.4 716.8h0M173.1 742.7h0M164.7 744.8h0M174 739.7h0M168.9 733.3h0M167.4 716.7h0M175.3 748.9h0M174.6 742.7h0M164.7 710.8h0M167.8 730.8h0M171.6 736.4h0M173.5 740.4h0M166.4 743.7h0M169.1 745.1h0M173.5 740h0M173 746.7h0M167.1 741.9h0M171.9 745.6h0M174.2 746.8h0M165.6 731.5h0M171.5 746.6h0M164.6 713.3h0M165.6 707.3h0M166.5 747.9h0M174.1 742.9h0M175.2 746.8h0M172.1 735.3h0M164.6 701.2h0M164.8 720.2h0M170.4 737h0M171.6 731.8h0M172.5 741.1h0M175.1 749.2h0M169.3 730.5h0M165.5 732h0M172.8 745.5h0M171.9 740.9h0M171.7 742.7h0M171.4 741.6h0M165.4 724.6h0M170.9 748.4h0M167.3 732.6h0M164.9 725h0M164.8 734.7h0M174.6 743.6h0M170.6 744.6h0M169.2 729h0M192.3 704.6h0M191.3 689.1h0M188.8 721.1h0M185.5 735.9h0M188.8 721.8h0M188.2 728h0M191.7 703.9h0M184.7 734.6h0M187.1 728h0M189.4 741.9h0M192 731.9h0M188 720h0M186.6 745.9h0M181.9 744.4h0M192.2 745.5h0M189 717.6h0M191.6 696.2h0M189.7 721.3h0M189.7 732.5h0M185.3 741.8h0M189 706.9h0M192.3 713h0M190.7 729.6h0M192.6 712.9h0M184.1 741.9h0M192.1 688.2h0M188.6 748.3h0M191.8 699.2h0M190.2 738h0M192.1 684h0M184.6 748h0M185.5 738.2h0M185 732.2h0M188.1 717.7h0M187.1 719.9h0M188.9 713.8h0M185.2 728.2h0M191.7 728.6h0M184.3 747.5h0M187.9 741.2h0M189.1 748.6h0M189.4 718.9h0M184.6 732.4h0M188.5 713.8h0M184.7 747.3h0M189 736.7h0M186.6 728.5h0M192 692.7h0M186.8 739.1h0M182.1 746h0M182.6 746.5h0M189.3 706.4h0M188.7 716.8h0M190.8 707h0M190.5 694.4h0M190.7 742.1h0M183.5 740.3h0M183.8 742.7h0M184.5 738.7h0M186.1 729.8h0M191.5 721.1h0M183.8 746.1h0M188.9 748.2h0M182.7 743.3h0M183.3 738.5h0M183.1 740.3h0M188.3 744.7h0M183 741.4h0M189.8 746.8h0M192.3 718.5h0M183.9 746.4h0M187.6 741.1h0M191.8 692h0M182.7 740.6h0M187.3 735.2h0M185.2 729.5h0M182 746.7h0M188.6 736h0M191.5 714.1h0M186.9 742.8h0M190.5 721.6h0M184.1 744.7h0M190.7 691.9h0M182.7 744.8h0M183.4 743h0M188 737.2h0M185.5 738.4h0M191.8 684.1h0M181.4 747.1h0M184 734.7h0M184.2 739.2h0M187.9 728h0M192.1 689.1h0M183.9 738.9h0M187 721.9h0M185.1 742.7h0M190.6 715h0M182.9 742.8h0M187 746.9h0M192 743.4h0M190.2 724h0M187.1 748.1h0M184.1 736.4h0M190.1 731.3h0M189.9 712.1h0M190.3 704.8h0M192.3 744.7h0M187.1 722.9h0M185.9 740.3h0M188.7 707.2h0M182 743.8h0M187.6 729.9h0M192 749.1h0M184.1 748.9h0M184.4 742.6h0M189.7 731.4h0M191.8 708.1h0M183.6 739.5h0M186.8 740.2h0M186.8 727.7h0M185.3 740h0M191.7 746.5h0M188.6 714.5h0M192.4 738.8h0M191.6 723h0M183.7 741.2h0M187.3 738.1h0M186.8 729.7h0M191.8 716.9h0M192.3 689.3h0M184.5 744.4h0M187.5 714.9h0M190.1 705.9h0M192.5 748h0M181.6 747.3h0M189.7 706.9h0M184.4 743.1h0M192 713.4h0M184.7 745.1h0M187.9 735.1h0M192 705h0M188 746.9h0M191.9 736.5h0M190 742.1h0M186.4 727.4h0M190.3 709.7h0M185.7 733.8h0M186.8 742.9h0M186.9 744h0M187.5 737.8h0M182.1 744.5h0M188.4 740.6h0M191.8 710.5h0M185.3 743.2h0M192.3 693.3h0M184.6 739.9h0M190.2 715.3h0M184.8 740.9h0M187.6 716.4h0M188 738.9h0M191.5 736.9h0M187.6 713.8h0M184.7 736.1h0M189.6 741h0M186.3 726.4h0M183.2 740h0M188.5 724.8h0M188.4 724h0M182.4 744.5h0M182.6 748.7h0M189.6 746.7h0M184.2 741.7h0M181.9 744.9h0M192 741.9h0M191.7 712.7h0M187.1 728.1h0M191.7 737.8h0M189.4 745.5h0M190.2 699.8h0M184.9 743.3h0M188.7 722.9h0M189.9 737.9h0M190.9 704.1h0M184.9 741.6h0M184.7 742.5h0M181.5 746.9h0M182.3 743.1h0M182.6 745.7h0M190.8 695.3h0M190.8 701.8h0M187 729.2h0M189.7 742.4h0M188.8 723.4h0M188.4 729.3h0M190.7 736.6h0M181.6 748.8h0M181.4 748.5h0M190.1 725.1h0M184.1 741.3h0M189.6 742.7h0M183.1 738.5h0M192.3 697.1h0M183 742.5h0M187.7 736.7h0M183.2 739.5h0M185.1 738.9h0M181.7 745.1h0M184.4 739.5h0M184.1 741.2h0M189.4 720.1h0M184.8 743.7h0M190.6 708h0M185.4 731.9h0M186.2 748h0M183.6 742.9h0M192.4 702.8h0M187.5 719.6h0M192.5 721.6h0M186.8 744.9h0M186.2 730.6h0M181.9 749.1h0M188.8 723.2h0M185.7 734.1h0M187.6 719.8h0M191.8 690.4h0M191.7 707.8h0M192.5 727.7h0M192.4 717.6h0M188.6 713.8h0M184.8 737.4h0M191.3 690.2h0M190.9 711h0M190.5 707.4h0M191.4 714.9h0M186.6 734.1h0M189.4 748.3h0M185.3 728.1h0M183 749.3h0M190.3 706.6h0M189.4 716.4h0M182.5 745.7h0M192 705.6h0M183.6 737.3h0M191.9 700.5h0M186.3 721.6h0M192.2 687.3h0M183.2 744h0M184 734.5h0M183.4 741.8h0M185.9 745.4h0M187.4 724.3h0M188.8 722.4h0M183.5 748.3h0M191 718.5h0M188.1 732.4h0M186 724.7h0M186.3 744.2h0M183.9 744.7h0M182.5 743.4h0M190.7 742.7h0M182.7 747.4h0M186.3 732.3h0M181.6 746.6h0M183.9 748.5h0M186.7 738.5h0M182 745.1h0M181.9 745.1h0M182.4 745.7h0M183.2 739h0M181.6 747.5h0M185.1 740.6h0M190.2 728.1h0M191.1 726.4h0M190.1 710.9h0M191.4 712.4h0M185 730.1h0M185.6 742.3h0M190.7 717.7h0M190.2 744.6h0M184 738.3h0M182.5 747.4h0M184.9 735.3h0M181.6 745.8h0M182.5 741.8h0M191 701.9h0M190.4 732.2h0M183.8 741.3h0M187.4 725.7h0M190.4 719.5h0M188.7 714.2h0M183 746.3h0M192.2 726.8h0M184.8 745.7h0M191.4 746.9h0M190.9 745.8h0M185.5 748h0M185.7 735.5h0M192.3 719.4h0M185.5 735.5h0M188.5 746.5h0M192.4 678.4h0M186.3 721.7h0M184.2 749h0M190.1 744.2h0M183.9 735.4h0M192.4 714.5h0M181.6 749h0M187.7 740.9h0M186.5 741.1h0M187.3 717.6h0M182.7 744.1h0M184.2 738.7h0M190.5 714.5h0M185.9 724.4h0M189.9 716.1h0M188.9 711.2h0M190 744.4h0M188.1 716.5h0M185 747h0M189.7 719.6h0M187.8 729.6h0M181.7 748h0M190.3 730.2h0M183.5 742.2h0M186.7 736.9h0M181.4 746.4h0M183.9 743.8h0M191.7 702.6h0M190.3 713.9h0M191.7 698.4h0M191 698.6h0M191.1 740.5h0M182.9 747.7h0M184.8 732.4h0M187.7 725.5h0M189.9 709.5h0M192.5 743.5h0M188.8 740.6h0M186.5 733.6h0M184.2 735h0M182.8 744.5h0M190.7 698.4h0M184.5 734.5h0M192.4 679.6h0M182.9 744.5h0M192.5 719.8h0M182.8 747h0M186 731.6h0M190.6 720.4h0M189.7 740h0" stroke="#4169e1" stroke-width="3.2" stroke-linecap="round" fill="none" opacity="0.9"/>
<path d="M167.8 729.8h0M174.6 749.2h0M164.3 726.3h0M168.1 738.2h0M173.2 738.6h0M166.5 738.2h0M164.2 726.2h0M173.6 742.9h0M165.1 730.4h0M171.9 749.3h0M168.5 728.1h0M172.6 740.6h0M170.5 749h0M171.6 740.2h0M174.5 744h0M174.2 749.1h0M170.5 731.9h0M165.5 744.2h0M169.9 748.9h0M167.8 742.8h0M169.1 745.4h0M174.7 745.9h0M166.9 718.6h0M166.9 713.2h0M165.5 727.3h0M173.2 745.2h0M168.9 740.3h0M166.2 728.6h0M166.4 735.3h0M172.1 732.9h0M164.3 708.9h0M166.1 721.5h0M174.7 745.1h0M169.9 728.9h0M172.7 742.6h0M170 740.1h0M165 718.3h0M175 749.2h0M164.1 704.6h0M171.6 731.6h0M165.3 709.7h0M165 709.9h0M164.4 726.6h0M165.9 725.3h0M173.7 742.6h0M170.7 742.3h0M167.7 728.4h0M165.6 735.9h0M164.8 745.2h0M167.2 738.3h0M173.4 745.7h0M166.3 743.6h0M171.3 736.9h0M164.7 715.5h0M165.9 707.9h0M170.7 735.3h0M168.3 718.3h0M173.6 744.8h0M164.6 713.8h0M164.4 712.2h0M175.2 746.1h0M172.5 743.9h0M170.4 744.8h0M172.9 740h0M170.6 734.1h0M166.5 719.2h0M175.1 744.3h0M166.7 720.5h0M170.2 742.2h0M164.6 721.6h0M174.8 748.9h0M169.4 746.3h0M170.9 728.7h0M164.4 735.3h0M173.2 738.3h0M166.2 746.2h0M165 747.2h0M169.9 741.8h0M174.6 743.5h0M168.1 741.8h0M166.5 710.2h0M164.4 703.9h0M164.4 702h0M168.8 744.2h0M164.6 721.1h0M170.1 743.3h0M174.6 745.1h0M170.6 732.8h0M173.3 747.9h0M165.9 740.1h0M173.2 739.8h0M166.8 729.8h0M167.6 725.6h0M172.4 738.4h0M171 730.1h0M168.8 736h0M169.8 743.8h0M173.9 739.9h0M172.9 737.1h0M171 743.7h0M164.3 703.2h0M170.9 748.7h0M164.6 709.5h0M167.3 747.3h0M172.8 740.5h0M172.8 739.6h0M165.8 717.3h0M171.3 744.9h0M174.1 740h0M172.8 740.3h0M165.3 724.4h0M165.2 727h0M167.7 747.2h0M164.3 733.2h0M165.3 730.7h0M168.6 744.5h0M172.6 736.8h0M170.6 729.6h0M167.5 715.5h0M166.7 727.8h0M164.5 731.7h0M164.4 714.3h0M170.7 731.7h0M174.4 743.5h0M171.7 748.1h0M167.1 726.7h0M164.7 721.3h0M168.8 732.3h0M166.1 728.4h0M169 744.7h0M170.8 729.1h0M175.1 743.4h0M174.7 746.6h0M165.8 736.9h0M166.2 745.6h0M172.8 738.2h0M168.9 729.3h0M166.5 731h0M172.4 737.7h0M164.6 730.5h0M174.4 741.9h0M173.5 737.6h0M165.6 737.7h0M166.2 734.3h0M164.2 702.8h0M169.4 738.9h0M166.6 739.1h0M165.4 729.6h0M171.9 745h0M172.8 745.2h0M173.5 744.6h0M164.5 706.7h0M170 725.4h0M167.1 730.9h0M168 730.6h0M164.2 732.6h0M164.6 706.1h0M167.7 726.4h0M168.5 737.2h0M173.7 738.1h0M166.7 721.4h0M166.2 711.6h0M167.8 734.8h0M173 747.7h0M171.7 747.8h0M172.4 735.7h0M170.8 733.9h0M167.8 716h0M173.7 740.7h0M164.6 731.6h0M167.7 741h0M171.8 748.9h0M165.5 729.8h0M175 743.3h0M165.5 747.6h0M172.5 742.3h0M165.7 731h0M170.8 743.5h0M175 746.2h0M167.9 725.8h0M167.9 737.3h0M167 719.7h0M171 735.6h0M168.2 746.9h0M175 745.7h0M166.2 714h0M170.4 739.9h0M175.2 744.1h0M170.8 743.7h0M165.8 714.4h0M175.2 746.6h0M164.3 741.6h0M168.8 729.6h0M171.3 738.3h0M165.1 747.5h0M174.4 748.5h0M167.5 744.7h0M174.9 743.7h0M167.5 727.6h0M170.7 746.2h0M165.9 712.6h0M166.9 727.7h0M169.8 745.9h0M171.1 732.4h0M171.6 737.1h0M164.7 716.6h0M166.3 719.3h0M170.7 743.3h0M167 717.5h0M164.3 720.9h0M166.8 717.9h0M173.3 741.1h0M171.5 744.6h0M167 748.5h0M164.7 740.9h0M169.8 748.1h0M170.9 742.8h0M167.4 739.2h0M172.6 740.5h0M170.3 739.6h0M166.1 741.4h0M167.1 716.1h0M164.8 745.7h0M165.8 745.1h0M174.9 744.8h0M168.6 738.1h0M166.9 744.5h0M171.1 746.4h0M170 739.8h0M166.4 725.6h0M173 746.3h0M166.8 739.8h0M171.6 746.2h0M168.6 719.4h0M169.2 745.4h0M169.5 733h0M166.8 723.6h0M170.6 741h0M172.3 739.7h0M171.5 732.2h0M172 748.8h0M171.8 736.8h0M164.4 716.4h0M165 739.4h0M164.5 720.4h0M166.2 711.7h0M168.5 727.9h0M164.2 749.2h0M169.8 737.2h0M169.7 731.1h0M171.9 748.8h0M173.5 738h0M168.7 735.5h0M167.8 741h0M168.6 721.4h0M170 748.4h0M166.9 716.7h0M168.5 721.8h0M167.5 740.7h0M165.4 722.1h0M171.9 749.1h0M172.8 735.5h0M166.9 745.8h0M164.7 721.5h0M167.2 749h0M168 733.7h0M167.5 741.5h0M174.6 746.2h0M167.7 736.3h0M174.3 745.4h0M171.7 736.5h0M174.7 743h0M168 716.6h0M169.3 728.1h0M171.4 734.7h0M168.1 727.9h0M164.6 721.4h0M164.6 748.4h0M174 741.7h0M168 739.3h0M164.9 708.2h0M173.9 743.4h0M165 703.9h0M173.6 746.7h0M166.2 725.5h0M171.3 741.1h0M166 747.4h0M171.1 739.4h0M165.2 722.2h0M164.6 727.7h0M173.4 746.5h0M165.1 737.2h0M173.5 740.4h0M170.7 732h0M168.8 734.7h0M166.8 728.4h0M165.1 714.1h0M168.1 735.4h0M164.3 706.3h0M168.9 741.6h0M187 749.1h0M184.9 745h0M183.4 747.8h0M185 747.4h0M189.9 721.6h0M183.4 740h0M192.2 725.3h0M181.5 748.4h0M184 735.7h0M190.3 708.3h0M183.4 737.2h0M188.7 738h0M187.8 725.2h0M190.6 725.1h0M181.5 748.7h0M190.5 726.1h0M189.2 741.9h0M188.1 737.9h0M187.7 736.3h0M191.8 744.7h0M188.3 733.9h0M192.4 732.1h0M191.2 737.7h0M190 706.2h0M182.6 746.4h0M181.9 749.1h0M185.6 729.9h0M187 744.2h0M190.6 718.3h0M188.8 732.2h0M190.6 710.3h0M184.8 737.2h0M184.8 732.6h0M184.6 749.2h0M188 735.4h0M189.1 740.2h0M186 748.5h0M184.7 732.1h0M185.3 732.2h0M187.1 734.8h0M190 710.8h0M188.3 740.6h0M184.8 735h0M181.6 746.9h0M192.1 701.6h0M186.2 748.3h0M184.6 749h0M182.9 740.3h0M183.6 744.3h0M192.5 747.6h0M190.8 745.5h0M192.6 688.5h0M183.3 738.3h0M191.2 735.8h0M182.7 742.4h0M184.3 740h0M189.1 725.5h0M192.4 717.8h0M183.5 739.5h0M190.3 739.9h0M188.3 738.9h0M192.2 716.5h0M187.9 732.2h0M190.3 697.7h0M188.7 739.7h0M185.5 747.2h0M182 747.8h0M186.8 726.8h0M183.6 743.8h0M185 733.2h0M192.5 680.8h0M191.5 693.9h0M185.1 745.2h0M191.8 715.5h0M181.9 747h0M182.8 743.5h0M184.5 748.1h0M186.5 747.6h0M181.8 744.7h0M184.8 743.6h0M192 740.8h0M191.6 716.3h0M187.5 725.9h0M185 740.2h0M188.1 714.3h0M182.9 743.2h0M187.7 718.5h0M186.2 729.3h0M192.4 688.8h0M190 706.9h0M184.1 745.3h0M182.2 744.4h0M184.5 734.5h0M186.5 745.3h0M181.9 748.4h0M186.3 740.1h0M189 731.2h0M190.2 734.9h0M183.5 739.5h0M192.1 714.6h0M187.3 721.4h0M189.7 709.9h0M184.8 745.3h0M190.3 718.2h0M192.3 700h0M182.7 744.1h0M184.5 744.8h0M183.7 735.3h0M187.1 734.1h0M182.8 745.5h0M187.7 727.8h0M184 737.7h0M186.1 741.5h0M190.1 718.9h0M187.2 737.2h0M185 736.7h0M183.1 745h0M187.5 746.4h0M181.6 745.9h0M184 734.9h0M191 699.5h0M184 737.8h0M182.6 745.7h0M188.1 739.7h0M187.9 723.7h0M181.5 748.5h0M188.7 745.4h0M191 742.4h0M182.5 749.1h0M189.3 725.4h0M181.7 747.7h0M186.9 743h0M188.8 735.1h0M191.4 730.7h0M192.3 710.9h0M181.5 747.4h0M190.8 710.4h0M183.6 746.8h0M184.9 745h0M192 704.7h0M187.5 719.9h0M189.2 717.9h0M191.7 695.8h0M185.6 743.1h0M185.9 728.7h0M186.2 738.5h0M191.2 732.8h0M188 735.2h0M186 730.3h0M190.7 699.5h0M189.4 711.7h0M187.9 748.9h0M182.2 742.8h0M192.6 686.2h0M184.5 747.5h0M189.7 710.8h0M191.4 689.8h0M191.6 682.5h0M181.6 747h0M187.7 734.5h0M183.5 737.7h0M186 741.3h0M184.2 732.9h0M186.4 739.9h0M189.9 719.8h0M191.8 726.5h0M188 736.1h0M192.1 717h0M184.5 735h0M192 737.8h0M185.9 729.6h0M188.2 738.6h0M183.6 742.3h0M191.9 683.3h0M185 732.6h0M188.6 715h0M189.4 720.9h0M183 748.3h0M184.5 738h0M185 742.1h0M187.7 716.3h0M184.7 748.6h0M192.4 741.6h0M192.3 738.7h0M185.8 727h0M189 720.7h0M187.6 716.7h0M187 736.2h0M182.9 748.2h0M192.3 729.4h0M183.1 746.3h0M189.8 714.4h0M185.4 735.7h0M183.1 745.4h0M189.7 741.7h0M184 740.2h0M182.9 748.1h0M183.1 742.3h0M192.1 740.5h0M182 746.3h0M182.2 748.7h0M189.1 728.1h0M183.8 738.4h0M185.5 727.9h0M190 739.5h0M181.7 748.6h0M192.5 735.4h0M190.9 698.6h0M188.5 712.7h0M186.3 745h0M188.4 739.2h0M192 707.8h0M189.9 746.7h0M182.4 749.3h0M188.2 735.3h0M187.4 730.6h0M188.4 713.5h0M186.7 749.3h0M181.7 745.9h0M183.5 740.8h0M186.4 748h0M185.5 747.9h0M192.6 740.3h0M189 717.9h0M185.1 745.3h0M183.3 742.5h0M187.9 749.2h0M191.4 697.3h0M188.6 735.3h0M187.1 743.9h0M188.5 710.9h0M184.9 733h0M191.9 681.5h0M181.9 747.3h0M185.6 733.7h0M186.3 724.8h0M191.4 733.2h0M189.8 748.2h0M190 744.4h0M185.4 734.7h0M186.8 726.3h0M182.6 745.2h0M182.9 744.3h0M192.3 704.4h0M185.3 744.7h0M187.9 713.8h0M182.5 747.9h0M192.5 710.6h0M183.6 745.2h0M182.1 744.9h0M182.1 748.4h0M188 730.7h0M190.3 742.4h0M184.8 743.3h0M184.7 749.3h0M185.2 733.9h0M182.7 748.4h0M184.3 746h0M192.1 732.9h0M188.7 743.4h0M187 742.4h0M192.5 745.2h0M182.4 744.6h0M189.1 724h0M192.3 712.1h0M184 733.9h0M182.4 747.5h0M191.9 732.7h0M183 740h0M192.4 745.8h0M190.9 736.1h0M181.9 745.5h0M185.5 729.9h0M186.9 719.1h0M186.1 726.6h0M185.9 742.6h0M181.6 748.4h0M189.7 735.4h0M183.7 741.5h0M183.2 748.8h0M188.5 716h0M183.4 740.8h0M183.1 739.3h0M183.9 740h0M189.8 720.8h0M189 719.3h0M192.1 697.4h0M190.5 715.5h0M191.8 722.7h0M190.8 717.1h0M188.9 706.3h0M186.3 747.8h0M182.8 739.9h0M185.6 748.4h0M190.5 702.6h0M191 699.5h0M184.6 735.1h0M191.3 694.5h0M183.4 740.6h0M187.1 720.7h0M187.2 735.2h0M183.4 737.7h0M181.6 746.6h0M185.8 741.4h0M185.9 725.2h0M190.5 740.4h0M186.3 725.3h0M184 739.2h0M182.5 745.3h0M187.6 739h0M183.2 743h0M190.3 746.9h0M188.5 724.2h0M187.8 726.1h0M192 726.2h0M192.6 735.9h0M189.4 713.3h0M189.7 749.2h0M184.2 740.9h0M185.5 728.9h0M189.2 741.1h0M188.6 744.6h0M183.1 739.5h0M183.3 749h0M188.8 746.4h0M183 748.7h0M192.5 710.9h0M186.2 749.2h0M185 736.2h0M181.5 748.2h0M187 748.6h0M184 737.6h0M187.5 728.3h0M189.1 748.2h0M191.4 714.2h0M186.2 733.8h0M187.7 729.7h0M191.6 740.6h0M188.7 720.6h0M186.6 727.6h0M184.2 744.1h0M184.3 741h0M186.6 725.8h0M182.9 742.3h0M187.2 749.1h0M188.8 709h0M187.8 737.9h0M191.9 731.5h0M189 729.4h0M189.4 747.6h0" stroke="#4169e1" stroke-width="3.2" stroke-linecap="round" fill="none" opacity="0.9"/>
<path d="M189.9 697.6h0M191.1 682.1h0M189.7 696.9h0M172.4 731.3h0M182.6 740.2h0M166.9 703.6h0M174.1 733.4h0M176.7 742.6h0M165 700.5h0M164.5 696.8h0M181.4 742.9h0M172.7 731h0M191.8 679.9h0M167.3 708.8h0M184.6 728h0M185.8 709.7h0M189.6 701h0M180.2 737.2h0M186.8 714.7h0M169 714.8h0M187.9 710.3h0M170 721.4h0M168.2 716.3h0M180.3 748.5h0M166.4 706.4h0M190 696.1h0M186.8 718.1h0M183 734.1h0M175.1 742.7h0M187.1 713.7h0M180.5 747h0M192.5 672.8h0M167.7 712.2h0M183 734.6h0M184.7 723.7h0M164.4 693.6h0M173.4 735.1h0M166.2 705h0M169.1 718.1h0M190.6 690.7h0M165.2 700.8h0M173.8 725h0M189.4 700.6h0M185.3 720h0M171.8 727.1h0M176.2 738.6h0M184.8 722.4h0M175.1 735.6h0M174.4 730.2h0M166.8 709.9h0" stroke="#4169e1" stroke-width="3.2" stroke-linecap="round" fill="none" opacity="0.75"/>
<path d="M150 710.3h0M110.4 680.7h0M162.1 748.5h0M132.2 712.8h0M160.9 702.9h0M117.5 725.5h0M146.5 735.6h0M146.8 715.5h0M103.6 681.9h0M146.4 744.2h0M161.6 718.7h0M121.5 658.4h0M108.8 724.6h0M156.4 688.7h0M113.7 719.9h0M108.8 711.3h0M144.3 722.2h0M112.7 728.2h0M132.8 703.7h0M140.3 705.9h0M154.3 700.8h0M154.7 703.5h0M76.5 688.6h0M154.4 720.6h0M119.8 727.6h0M121.3 713.8h0M106.8 689.9h0M133 690.9h0M110 730.1h0M108.9 705.9h0M128.5 695.1h0M134.9 688.2h0M117.9 692.4h0M147.6 688.6h0M120.1 720.5h0M145.3 706.5h0M102 690.9h0M160.1 742.8h0M110.3 720.4h0M97.9 717.2h0M146.1 741.1h0M119.1 713.7h0M91 710.4h0M120.2 708.1h0M146.7 715.8h0M131.5 724.2h0M131.7 675.4h0M136.8 719.1h0M160.6 720h0M118.6 700h0M137 708.1h0M143.2 696.8h0M136.9 709.3h0M131.9 742h0M160.8 700.3h0M156.2 737.7h0M113.3 705.8h0M148.7 695.3h0M161.8 722.5h0M150.3 686h0M159.6 724.1h0M128.9 723h0M132.4 682.6h0M152.6 675.7h0M149.1 699.2h0M89.9 689h0M152.2 708.7h0M132.8 743.1h0M113.8 718.5h0M153.6 734.8h0M125.9 712.8h0M98.8 717.6h0M107.6 724.5h0M115.5 728.3h0M112.2 691.3h0M150.4 739.1h0M127.3 732.7h0M110.4 699.8h0M97 704.9h0M92.3 716.4h0M104.6 705.8h0M114.8 716h0M161.5 725.9h0M141.1 703.5h0M156.4 721.2h0M108.7 704.5h0M84 706.2h0M85.2 672.1h0M160.8 723.1h0M85.5 691.3h0M143.3 738h0M146.8 724.7h0M160.2 732.8h0M123.5 716.6h0M107.5 703.4h0M139.4 743.3h0M124.2 685.3h0M156.1 710.4h0M142.2 735.3h0M145.8 682.8h0M152.4 736.9h0M158.1 734.8h0M138.2 683.3h0M110 721.6h0M107.4 680h0M129.4 688.1h0M115.5 702.8h0M146.4 723.7h0M156.6 708.2h0M154.2 748.8h0M147.4 694.4h0M146.6 737.4h0M157.7 710.1h0M114.4 671.6h0M91.9 710.9h0M130.4 742.4h0M115.1 693.2h0M157.2 733h0M154.2 729.1h0M123 716.5h0M123.6 740h0M125 739.4h0M92.6 682.3h0M154.5 729.7h0M110.2 707.3h0M158.1 722.3h0M164 700.6h0M152.9 748.4h0M100.8 712.4h0M130.3 724.3h0M90.6 700.3h0M80.5 669.4h0M120.8 687.5h0M132.7 716.2h0M145.9 712.4h0M126.8 735.3h0M145.2 694.8h0M128.8 703h0M146.2 747h0M143.3 742.3h0M153 743.2h0M137.2 730.4h0M140 670.9h0M149.8 748.1h0M129.3 729.6h0M153.4 691.8h0M161.2 735.4h0M145.4 695.2h0M144.2 720.7h0M152.8 690.2h0M118.8 682.6h0M138.2 704.4h0M109.3 721.4h0M119.1 697.9h0M142.8 731h0M122.2 725.7h0M100.7 672.7h0M114.1 698.2h0M101.2 716.3h0M119.7 706.4h0M147 696.9h0M119.3 691.1h0M131.9 740.8h0M94.1 677h0M147.1 729.2h0M105.9 697.6h0M100.9 697.7h0M141.2 719.9h0M125.6 677.3h0M105.5 665.7h0M147.9 721.3h0M157.8 742h0M133.6 681.9h0M138.1 732h0M151.5 724.6h0M139.1 702.2h0M131.6 673.9h0M113.9 683.3h0M94.5 697.4h0M149 735.3h0M122.5 708.1h0M127.8 726.7h0M139.7 709.9h0M145.6 739.3h0M125.8 729.5h0M116.6 666.8h0M160.5 710.6h0M111.3 728.9h0M112.1 714.4h0M147.8 705h0M85.3 707.1h0M125.2 717.5h0M98.1 712.2h0M127.8 731.7h0M158.9 736.1h0M156.2 724.1h0M116.7 714.4h0M159.8 748.6h0M146.7 705.6h0M97.5 690.8h0M151.3 741.4h0M110.8 721.8h0M129 723.1h0M161.4 704.8h0M125.9 725.7h0M146 709.6h0M157.3 717.2h0M128.8 742.9h0M117.8 690h0M117.9 732.2h0M107.4 713.9h0M128.5 726.8h0M157 695.1h0M148.5 740.4h0M147.7 728.8h0M108.5 710.5h0M122.9 698.1h0M103.5 694.5h0M134.4 692.5h0M102.5 689.5h0M116 702.7h0M135.8 710.6h0M103.3 674.3h0M140.5 747.4h0M161.8 716.9h0M116.7 700.7h0M149.1 691.8h0M132.2 717.2h0M141.7 730.5h0M125.2 732h0M110.2 694.1h0M155.1 707.4h0M128.9 713.8h0M163 732.2h0M146.3 712.2h0M114.4 709.7h0M128.8 690.6h0M159.7 699.6h0M145.6 726.4h0M108.9 719.4h0M131.2 730.2h0M151.3 727.4h0M145.9 706.8h0M144 709.6h0M127.1 702.2h0M108.5 721.1h0M129.2 678.9h0M139 690.9h0M96.2 707.6h0M158.3 737.5h0M134 724.8h0M158.8 728.9h0M114.6 704.2h0M139.2 690h0M152.3 718.9h0M140.2 724.8h0M87.8 704.9h0M163.8 735h0M118.8 701.2h0M146 727.6h0M157.8 704.9h0M85.9 697.6h0M123.7 721h0M148.2 741.6h0M150.9 702.3h0M140.7 723.8h0M120 700h0M118.8 725h0M140 739.7h0M157.2 739.5h0M155.6 733.7h0M97.5 699.8h0M132.1 691.9h0M126.7 721h0M114.3 686.2h0M112.5 727.6h0M103.3 723.3h0M132.3 724.6h0M95.4 708.7h0M143.4 744.6h0M111.2 720.4h0M110.2 726.4h0M139 717h0M130 704.2h0M102.6 713.9h0M103.5 674.9h0M130.6 692.7h0M151.3 725.9h0M134.9 683.6h0M148 696.5h0M161.8 728.2h0M153.9 710.6h0M81.8 698.1h0M139.2 715.2h0M146 693.1h0M119 728.1h0M145.1 736.2h0M161.8 737.8h0M152.2 744.4h0M118.3 703.2h0M135.9 746.4h0M146.7 718.1h0M140.6 720.6h0M163.7 695.2h0M92.3 693.1h0M153.5 733h0M145.7 699h0M86.6 696.1h0M130.3 695.9h0M124.8 708h0M115 712.6h0M99.3 686.6h0M133.6 676.6h0M126.7 740.3h0M134.7 699.4h0M95 703h0M96.6 698.4h0M79 681h0M137 749.4h0M152.9 747h0M122.5 676.3h0M130 675.3h0M144.9 674.6h0M156.6 749.4h0M107.9 736.3h0M102.1 667.1h0M110.1 738.1h0M147 681.8h0M113.2 673.7h0M100.6 723.9h0M117 667.8h0M161.6 694.1h0M92.1 715.5h0M147 661.4h0M96.1 718.5h0M106 670.9h0M131.8 749.4h0M127.5 657.9h0M137.4 749.4h0M150.2 741.5h0M94.5 715.2h0M81.9 664.9h0M129.5 741.7h0M144.4 743h0M140.8 673.5h0M134.7 677.5h0M135.5 678.8h0M126.6 741.7h0M99 661.9h0M139.7 676.5h0M146.6 676.4h0M134.7 677.8h0M90.2 670h0M113.1 668.9h0" stroke="#f40000" stroke-width="3.8" stroke-linecap="round" fill="none" opacity="0.64"/>
<path d="M152.5 710h0M134.9 725h0M129.3 724.2h0M148.2 729.4h0M160.9 744.6h0M151.6 734.5h0M115.9 671.3h0M142.5 692.8h0M104.2 687.9h0M123 677.1h0M125.7 718h0M148.6 686.6h0M131.3 725.9h0M119.5 691.4h0M124.2 731.1h0M105.4 707.6h0M130.3 717h0M136.1 698.2h0M142.9 715.4h0M158.4 743.5h0M126 729h0M161.4 723.6h0M137 733.3h0M84.8 699.8h0M156.1 704.9h0M138 713.2h0M155 706.5h0M100.3 675h0M154.8 698.5h0M129.8 700.8h0M157.5 710.7h0M89.9 705h0M139 692.1h0M124.3 731.3h0M104.8 703.9h0M159.2 732.1h0M142.6 688.3h0M96.3 688.4h0M109.5 665h0M160.2 742.4h0M144.3 735.6h0M100.7 674.9h0M124.3 730.4h0M121.2 713.3h0M160.7 690h0M76.4 703.1h0M161.3 696.5h0M129.4 735.9h0M79.6 681.3h0M141.1 675.2h0M133.5 733.1h0M99.4 666.3h0M90.9 692.9h0M111.1 720h0M151.5 728.6h0M153.9 691.3h0M140.7 709.6h0M146.7 693.5h0M96.8 703.4h0M124.9 688.4h0M150.9 744.4h0M89.8 695.3h0M125.2 679.1h0M146.1 697.5h0M122.1 724.3h0M108.5 675.5h0M142.6 722.8h0M158.7 696.9h0M110.3 722.6h0M142.5 729.8h0M116.7 706h0M152.9 711.6h0M138.8 700.4h0M162.8 727.3h0M146.8 735.3h0M132.9 736h0M129.6 699.6h0M151.5 690.5h0M107.9 705.3h0M122.9 732h0M153.2 735.9h0M133.1 676h0M106.6 709.4h0M159.1 738.1h0M132.4 673.8h0M160.8 724.3h0M132.5 744.4h0M116.9 706.3h0M99.2 702.1h0M98 676.7h0M158.9 694.5h0M153.1 730.5h0M144.4 731.3h0M108 694h0M144.6 717h0M149.1 731.2h0M122.6 710.6h0M90.4 714.7h0M156.1 694.4h0M128.6 705.1h0M136.9 703.5h0M90.6 660h0M130.8 700.4h0M120.9 721h0M129.8 725h0M147.7 734.8h0M98.4 708.3h0M129.2 666.1h0M148.6 744.1h0M146.2 732.4h0M123.1 715.8h0M140.9 678h0M158.3 745.6h0M129.3 687.2h0M120 696h0M121.9 689.2h0M128.3 719.6h0M157.4 713.7h0M129.3 683.2h0M88.1 675.9h0M96.2 713.3h0M108.3 718.4h0M143.6 711.2h0M136.6 746h0M155.8 698.9h0M109.9 728.4h0M145.7 728.8h0M158.2 697.3h0M91.4 712.8h0M148.9 729.5h0M106.6 699.4h0M124.1 734.7h0M103.2 685h0M150.6 697.2h0M142.5 738.6h0M104.9 708.4h0M155.4 700.2h0M116.3 699.7h0M102 669.2h0M158.4 712h0M133.6 687.2h0M90.6 704.1h0M139.2 743.5h0M134.4 738.9h0M149.2 736.3h0M127.6 676.6h0M91.9 697.1h0M159.7 743.7h0M92.3 698.5h0M114.9 672h0M118.8 713.2h0M77.5 700h0M134.8 732.3h0M141.2 695.9h0M152.7 743h0M141.6 735.9h0M143.7 724.8h0M156.4 696.3h0M149.1 748h0M139.4 744.2h0M149.4 749.1h0M134.7 744.4h0M129 682.8h0M157.4 733.2h0M121.2 714.4h0M128.8 733.3h0M155.6 714h0M146.3 673.4h0M145.4 720.5h0M76.2 680.4h0M106.4 704.7h0M94.4 678.5h0M135.4 742.5h0M111.6 718.8h0M95.7 704h0M135.9 715h0M145.4 695h0M160.8 737.7h0M148.9 700.3h0M107.1 715.6h0M85.9 698h0M147.2 747.7h0M127.8 732.6h0M115.5 730.2h0M124.5 709.8h0M130.8 666.3h0M145.9 707.1h0M144.9 699.3h0M126.3 707.5h0M156.8 695.8h0M161.1 693.1h0M110.5 690.5h0M132.9 726.5h0M132.2 733.2h0M163.5 706.9h0M98 711h0M152.4 673.5h0M83.7 695.5h0M161.6 737.9h0M94.2 677.4h0M142.3 728h0M103.2 716.6h0M123 729.5h0M162 727.3h0M156.4 703.8h0M156.4 697.7h0M156.5 721.4h0M114.2 724.9h0M134.3 717.8h0M122.4 732.9h0M156.4 706h0M120.1 728.9h0M140.8 716.7h0M77.2 689.3h0M134.1 734.4h0M112 726.5h0M87.2 707.5h0M108.2 728h0M120.3 682.8h0M157.7 741.1h0M160.6 746.3h0M106 669.2h0M151.8 746h0M73 680.9h0M83.3 699.1h0M136.7 722.5h0M155 722.4h0M143.9 722.4h0M142 680.4h0M123 674.1h0M147.3 707.6h0M147 748h0M113.3 717.6h0M89.3 698.9h0M146.1 735.4h0M131 742.4h0M153.8 741.7h0M92 702.5h0M119.3 709.1h0M149.6 731.9h0M124.6 708.4h0M160.1 701.5h0M141 715.8h0M116.6 709.3h0M130.2 672h0M144.8 709.8h0M149.4 725.5h0M162.9 717.6h0M131.8 724.1h0M135.8 721.2h0M86.3 708.9h0M135 683.2h0M118.9 720.5h0M107.5 711h0M152.3 744.4h0M153.2 702h0M93.2 688.8h0M119.2 710.4h0M154.7 738h0M119.4 687.7h0M119.7 720.7h0M138.4 745h0M143.9 668.1h0M110.8 726.3h0M115.2 731.6h0M131.4 740.2h0M119.1 731.8h0M89.8 708.2h0M142.1 720.7h0M116.2 706.8h0M131.4 697.2h0M101.3 694.5h0M146.5 722.2h0M123.8 709.2h0M81.6 701.6h0M106.5 687.5h0M108.8 708.5h0M154.3 709.5h0M120.4 677h0M112.1 712.5h0M123.7 694.2h0M138.4 742.3h0M83.6 704.2h0M129.7 689.1h0M142 703.4h0M113.8 708.6h0M78 697.6h0M146.8 741.3h0M154.1 701.7h0M120.9 664.9h0M117.3 722.4h0M111.5 728.1h0M152.8 732.7h0M112.7 696.8h0M136.2 715.2h0M150.9 704.8h0M101.9 684.7h0M153.1 718.4h0M135.1 704.6h0M130.8 712.8h0M120.1 694.2h0M108.7 713.3h0M148.6 725h0M108.2 686h0M147 717.6h0M122.3 698.8h0M149.1 719h0M129.7 710.1h0M137.4 668.3h0M142.3 739.5h0M124 735.5h0M149 701.5h0M115.7 734.3h0M141.5 718h0M141.9 708.5h0M156.3 720.6h0M161.8 743.6h0M76.9 674.8h0M114.9 732.8h0M144.9 665.6h0M162.8 749.4h0M157.4 685.7h0M121.1 672.1h0M105.4 720.4h0M159.4 693.1h0M116.4 665.3h0M123.7 740.5h0M113.6 666.4h0M100.4 721.5h0M134.3 674.1h0M159.9 682.2h0M123.6 658.6h0M109.5 655.4h0M148.6 746.8h0M81.4 675.9h0M116.4 737.5h0M131 659h0M113 657.8h0M84.8 714.6h0M109.3 663.2h0M150.4 680.3h0M116.7 659.1h0M106.9 666.5h0M104.6 674.3h0M157.3 690.1h0M152.5 683.1h0M105.4 671.4h0M152.6 652.8h0M107.7 673.4h0M123 663h0M145 676h0M109.6 656h0M139.1 664.7h0M115.6 663.3h0" stroke="#f40000" stroke-width="3.8" stroke-linecap="round" fill="none" opacity="0.64"/>
<path d="M134.6 693.3h0M143.3 713.2h0M138 691.6h0M135.1 738.6h0M103.8 693.4h0M116.9 711.2h0M141.3 721.2h0M116.3 709.2h0M90.2 706.4h0M92.6 702h0M162.4 741.6h0M90.7 695.7h0M135.6 730.9h0M137.4 719.7h0M124.1 674.5h0M122.9 710.6h0M159.1 714.1h0M110.3 677.3h0M104.7 711h0M133.9 745.9h0M162.2 680h0M148.6 724.6h0M100 710.9h0M147.6 711h0M141 685.2h0M121.9 716.1h0M150.7 747.1h0M119.8 685.9h0M157 741.2h0M115.8 722.9h0M140.5 747h0M118.8 694.8h0M137.3 676.4h0M132.3 727.6h0M163.8 736.5h0M98 692h0M107.6 725.1h0M162.2 724.1h0M141.5 698.4h0M139.7 693.7h0M139.2 724.1h0M134.1 695.4h0M152.5 705.1h0M159.1 710.1h0M100.5 718.2h0M135.5 720.5h0M146 711.8h0M113.7 729h0M121.9 710.5h0M149.1 682.9h0M140.4 726.7h0M137.1 721.9h0M102.4 718.8h0M141.1 734.9h0M119.6 683.4h0M148.1 706.6h0M144.8 689.3h0M94.1 676.2h0M161.9 748h0M117.2 708.1h0M150.1 701.1h0M135.6 725.3h0M112.2 685.3h0M154 710.7h0M106.3 699.9h0M154.7 721.6h0M127.9 682.9h0M154.1 694.8h0M146.7 723.8h0M116.9 710.3h0M139.5 726.5h0M131.6 729.4h0M85.7 663.8h0M128.5 730.6h0M94.3 668.7h0M80.2 675.4h0M158.3 721.6h0M117.1 682h0M138.5 745.2h0M155.8 729.5h0M109.1 665.2h0M164.1 744.6h0M96.6 694.1h0M111.3 687.8h0M158.5 712.7h0M111 723h0M126.5 709.6h0M162 719.5h0M120 715.8h0M158.5 720h0M108.4 724.6h0M113.1 680.2h0M89.2 712.6h0M128.9 715.2h0M98.5 703.5h0M162.9 686.4h0M124.9 686.6h0M139.1 718.9h0M127.8 741.9h0M137.5 745.1h0M152 738.1h0M145.5 735.1h0M141.1 685.3h0M134.7 691.5h0M127.6 675.1h0M118.6 731.4h0M121.8 708.6h0M153.6 724.8h0M117.3 668.1h0M150 728.2h0M156.8 729.5h0M87.2 689.5h0M153.2 736.9h0M143.1 742.4h0M162.8 701.3h0M131.5 736.7h0M113.7 702.4h0M158 732.4h0M121.2 724.6h0M156.8 706.2h0M104.9 723h0M82.2 707.9h0M136.4 723.8h0M131.4 698.1h0M145.2 718.6h0M144.2 717.2h0M121.7 726.5h0M116.8 730.8h0M134.4 707.8h0M157.6 696.9h0M148.7 730.5h0M105.8 725.2h0M124.5 714.9h0M123.4 713.4h0M114.1 732.3h0M119.3 680.9h0M158.3 731.5h0M81.4 690.7h0M137.6 742.6h0M124.6 733.5h0M113 702.5h0M138.7 734.7h0M141.2 717.2h0M105.9 671.5h0M139.9 735.1h0M133.8 727.7h0M116.4 719.4h0M117.4 727.6h0M131 679.2h0M136.5 740.3h0M146 719.4h0M144.4 731h0M139.1 728.1h0M113.1 689h0M86 699.5h0M150.2 714.4h0M135.8 720.9h0M153.6 714.2h0M155.8 733.8h0M104.8 715h0M160 730.1h0M153.2 731.7h0M104.2 706.4h0M160.5 701.4h0M154 725.1h0M120.8 678.6h0M78.6 704.5h0M155.2 707.5h0M110.7 670.7h0M141 736.5h0M116.6 717.1h0M122.7 714.1h0M84 704h0M152.3 741.7h0M144.8 720.5h0M142.9 693.9h0M163.1 712.9h0M98.7 687.5h0M124.4 718.1h0M116.2 708.4h0M105.9 725.4h0M134 711.1h0M109.2 721.3h0M119.5 713.4h0M91.1 682.5h0M155.2 722.4h0M111.5 705.4h0M155.1 726.7h0M161.1 712.7h0M144.9 721.3h0M116.7 704.9h0M112.3 701.9h0M157.6 689.8h0M112.5 727.4h0M91.8 692.5h0M130.3 678.6h0M148.8 732.5h0M150.6 741.7h0M154.7 737.8h0M154.8 719.3h0M140.7 696.7h0M91.2 682.4h0M157.4 726.4h0M136.9 746.6h0M118.3 736.5h0M91.1 690.3h0M129.3 722.6h0M107.4 664.7h0M128.3 730h0M96.3 681h0M107.4 717.2h0M115 712.9h0M145.7 738h0M161.2 722.9h0M123.1 713.5h0M118 731.5h0M139.8 687.9h0M118.5 719.8h0M135.1 713.8h0M158.7 712.2h0M121.2 715.8h0M101.3 687.1h0M154.6 688.7h0M105.4 691.6h0M90 715.2h0M145.7 737.1h0M110.1 672.6h0M114.4 678.1h0M134.9 728.9h0M109.8 709.5h0M118.5 697.6h0M81.3 678.2h0M125.2 736.1h0M146 708.6h0M136.7 720.5h0M124.4 736.7h0M92.4 675.1h0M141.6 692.8h0M131 683h0M147.2 744.2h0M115.2 718.4h0M119.6 701.2h0M135.3 726.2h0M103 720.1h0M99 698.1h0M133.1 744.6h0M99 701.2h0M113.8 729.1h0M123 684.8h0M158.5 747.4h0M149.5 720.2h0M152.4 718.9h0M136.8 706.5h0M124.6 715.2h0M129.4 719.5h0M147.1 699.7h0M145.8 692.9h0M158.7 717.8h0M122.8 728.8h0M145.3 742.4h0M140.4 730.1h0M161.7 745.3h0M154.9 707.9h0M142.1 748.3h0M158.9 699.7h0M97.7 719.8h0M140.4 688.7h0M117.9 726.2h0M163.4 725.8h0M116.9 733.4h0M131.4 705.3h0M152 721.9h0M158.6 733h0M125.9 707h0M118.9 695.5h0M157.7 745.6h0M100.6 706.5h0M160.9 741.3h0M151.4 741.6h0M157.8 746.9h0M107.7 729.3h0M122.6 736.5h0M154.1 686.5h0M161.7 744.5h0M96.1 697.3h0M140.7 690.8h0M158.1 743.8h0M148.1 722.9h0M123.8 714.8h0M92.7 697h0M93 681.1h0M118.8 688h0M130.9 689.6h0M152.4 744.3h0M121.9 695.2h0M163 742.2h0M148.6 741.9h0M121.7 738.7h0M145.6 684.2h0M125.7 692.2h0M93.3 704.3h0M160.6 726h0M158.1 686.6h0M139.9 738.3h0M112.9 711.9h0M137 719.3h0M133 738.7h0M135.6 709.5h0M105.1 672.2h0M102.6 685.2h0M126.5 692.7h0M118.6 714h0M131.8 680.5h0M156.7 710.9h0M125.6 721h0M144.8 730h0M147.8 680.6h0M114 728.6h0M104.5 727.2h0M105 727.5h0M98.6 717.3h0M122.6 676.4h0M105.3 668.9h0M143.3 675.5h0M91.4 673.5h0M104.9 724.1h0M136.8 749.4h0M108.3 673h0M133.6 739.3h0M85.9 714.1h0M149.2 652.1h0M81.7 700.5h0M147 665h0M131.5 677.3h0M108.7 671.4h0M154 677.4h0M143.9 749.4h0M131.8 666.4h0M117.4 639.7h0M121.3 670.2h0M135.3 670.8h0M142.3 675.3h0M112.6 726h0M117.5 730.2h0M74.4 712.5h0M116.4 661.9h0M149.2 681h0M121.9 676h0M86.1 712.2h0M161.2 748.4h0M152.2 745.8h0M148.8 670h0M148 667.1h0" stroke="#f40000" stroke-width="3.8" stroke-linecap="round" fill="none" opacity="0.64"/>
<path d="M103.8 694.2h0M139.5 727.2h0M147.7 731.7h0M100.4 697h0M84.7 708.4h0M106.2 714.3h0M152.5 701.8h0M152 731.7h0M132.8 698h0M133.8 728.3h0M130.3 734.5h0M151.3 727h0M88.1 671.2h0M155.1 718h0M157.6 743.3h0M84.7 701.7h0M104.8 701.1h0M117.8 684.3h0M87.8 695.1h0M140.7 723h0M140.3 738.7h0M135.6 707.4h0M120.9 685.8h0M163.5 723.5h0M129 722.8h0M156.3 738.4h0M137.4 719h0M141.6 742.9h0M125.1 709.6h0M142.1 731.3h0M161.5 744.8h0M138.3 742h0M95.6 718h0M124.5 725.1h0M83.7 689.6h0M160.9 745.4h0M95.1 711.4h0M96 710.4h0M92.7 691.1h0M126 705.7h0M158.5 703.6h0M112.2 687.7h0M145.4 746.7h0M99.9 718.6h0M155.9 744.7h0M113.9 683.3h0M127.5 680.4h0M158.1 727h0M112 710.7h0M156 724.4h0M101.7 707.9h0M152.7 726.5h0M109.4 718.7h0M128 707.7h0M97.9 697.3h0M118.8 685.6h0M151.9 742.9h0M160.3 709.7h0M156.3 727.9h0M134 687.6h0M87.5 700.3h0M146.9 683.4h0M123 727h0M119.5 690.1h0M130 701.6h0M146.2 693.1h0M116.4 696.7h0M135.1 688.4h0M94.9 696h0M94.9 705.8h0M114.2 693.7h0M159.4 742.4h0M158.8 745.2h0M152.6 747.8h0M157.1 713.5h0M94 713.2h0M130.7 745.9h0M144.8 731.6h0M159 737.8h0M145.4 709.1h0M158.6 689.8h0M147.8 740.9h0M150.2 682.7h0M97.6 685.6h0M89.8 675.9h0M88.6 694.9h0M163.4 749.3h0M116.7 722.8h0M154.1 744.7h0M150 733.8h0M161.9 726.3h0M107.1 710.8h0M143.1 741.1h0M111 671.8h0M135.4 733.9h0M127.6 728.9h0M138.9 734.3h0M77.4 678.9h0M128.4 731.6h0M95.5 680.8h0M140.9 742.7h0M159.1 689.9h0M112.8 670.1h0M121.4 679.5h0M119.2 676h0M144.8 721.5h0M146.9 699.8h0M137.2 707.2h0M158.9 712.2h0M133.8 721.9h0M143.1 731.3h0M141.7 722.8h0M113.1 731.1h0M97.3 671.3h0M162.3 723.2h0M117.8 680.6h0M163.4 745.4h0M145.8 725.3h0M133 693.1h0M145.6 727.6h0M90.5 698.7h0M125.7 739.5h0M116.1 717.8h0M122.9 704.3h0M142.2 714.5h0M149.9 698.6h0M149 748.7h0M162.4 723.2h0M109.1 726.7h0M137.5 725.7h0M157.3 716h0M107.8 688.8h0M136.5 727.6h0M153.2 735h0M91.5 673.9h0M142.4 703.2h0M132.5 695.1h0M161.3 739.3h0M155.5 742.1h0M84.4 678.6h0M126.8 729.6h0M138 723.9h0M145 701.9h0M158.5 714.1h0M107.7 723h0M130 737.8h0M131.1 688.2h0M141.9 688.4h0M161.5 711.4h0M121 714.5h0M154.3 695.7h0M149.8 727.4h0M156.9 748h0M136.5 712.2h0M134.2 705.1h0M112.7 722.2h0M131.9 714.4h0M147.5 714.7h0M112.9 726.3h0M108.9 717.4h0M147.8 719.8h0M124.4 740h0M146.8 731.6h0M131.5 730.4h0M101.8 722.9h0M144.2 696.5h0M156.4 735.3h0M81.2 699.6h0M124.7 722.5h0M128.5 675.1h0M106.8 690.3h0M157.4 741.6h0M124 691.4h0M81.5 674.4h0M127.6 720.3h0M140.1 715.7h0M156.2 725h0M145.5 724.8h0M157.3 704.8h0M159.8 723.5h0M162.7 745.4h0M115 731.2h0M138.3 746h0M152.3 747.3h0M162.3 744.4h0M161 727.7h0M116.2 735.5h0M128 715h0M91.9 699.9h0M108.4 704.1h0M129.1 736.5h0M159.1 691.1h0M149.3 717.5h0M100.8 711.1h0M149.2 742.5h0M99.1 689.3h0M104.1 706.9h0M110.2 701h0M159 726.2h0M111.7 717.6h0M135.1 708.6h0M93.4 687.1h0M150.5 739.9h0M161 745.7h0M129.5 699.7h0M144.4 692.2h0M94.1 693.2h0M93.7 694.4h0M141.8 717.6h0M161.5 711.9h0M140 718.9h0M151.6 699.4h0M132.9 739h0M147.7 727.5h0M151.8 735h0M142 730.5h0M132.7 679.1h0M121.2 710.9h0M110.3 705.1h0M152.9 714h0M125.4 731.6h0M147.7 745.3h0M104.1 718.4h0M163 738.8h0M138 700.3h0M85.3 678.3h0M157.9 682.4h0M147.3 722h0M115.9 734.2h0M152.5 735.7h0M154.9 724h0M101.4 710.4h0M126.5 713.2h0M147.7 716.1h0M141.5 721.4h0M157.3 733.4h0M107.9 711.3h0M134.1 732.1h0M141.7 737.7h0M159.1 739.6h0M143.2 744.5h0M135.4 718.8h0M135.2 744.6h0M133.6 669.5h0M153.1 684.5h0M124.8 731.9h0M104.7 702.1h0M158.1 714.1h0M96.1 702.7h0M85.3 704.6h0M142.4 700.3h0M115 680.5h0M142.9 711.2h0M95.8 707.3h0M119.8 718.4h0M147.5 701.7h0M123.8 722.3h0M136.7 698.6h0M154 746.6h0M99.3 712.4h0M114.2 704h0M120.5 735.5h0M148.2 704.3h0M134 694.9h0M123.4 699.3h0M158.2 745.6h0M122.7 682.2h0M149.8 715.1h0M160 743.8h0M111.7 690.2h0M113.1 699.8h0M110.2 681.8h0M122.6 698.6h0M110.3 708.4h0M121.1 705.7h0M156 728.5h0M115.7 721h0M136.4 732h0M128 743.8h0M139.6 710h0M148.6 703.8h0M105.8 727.1h0M102 693h0M155.1 746.6h0M132.1 710.1h0M150 733.5h0M119.3 725.8h0M143 689.6h0M99.4 718.7h0M147.3 706.9h0M150.4 741.3h0M122.1 728.1h0M161.6 737.8h0M103.4 714.2h0M154 714.4h0M127.4 701.1h0M135.3 730.2h0M142.6 715.3h0M121.5 721.1h0M107.3 698.4h0M136.2 706.2h0M156.5 679.7h0M145.2 742.2h0M148.6 733.4h0M153.5 742.3h0M134.5 676h0M150.2 705h0M114.1 704.7h0M134.8 732.6h0M126.5 707.1h0M134.2 696h0M91.5 710.7h0M90.7 672.8h0M127.4 707.8h0M84.7 700.4h0M114.8 715.4h0M111.6 684.6h0M133.1 741.3h0M99.3 660.5h0M106.3 673.2h0M89 666.2h0M97.8 722.7h0M152.3 748.5h0M155.1 749.4h0M131.3 672h0M124.3 744h0M94.5 671.8h0M163 742h0M97.6 661.4h0M156.5 678.4h0M109.3 669.2h0M126.1 737.7h0M100.7 671.8h0M124.1 667.1h0M121 656.5h0M142.1 749.4h0M101.3 656.4h0M154.4 743h0M108.2 674h0M98.4 673.3h0M84 670.9h0M121.5 741h0M81.6 707.8h0M114.6 738.3h0M146 671.9h0M134.6 744.5h0M124.4 674.6h0M142.4 668.6h0M128.1 671.7h0M157.1 673.5h0M113.6 670.2h0M89 645.4h0M113.7 660h0" stroke="#f40000" stroke-width="3.8" stroke-linecap="round" fill="none" opacity="0.64"/>
<path d="M113.8 719.9h0M103.6 711.6h0M133.8 733.9h0M154.5 714.7h0M130.3 692.3h0M123.7 680.5h0M149.8 738.3h0M135.9 702.4h0M112.4 695h0M138.1 737.1h0M89.7 680.1h0M113.9 678.3h0M120.5 705.6h0M157.6 698.2h0M152.4 696.7h0M112.3 724.5h0M107.6 716.3h0M133.2 693.8h0M136.3 693.8h0M128.8 717.8h0M143.7 722.2h0M103.7 718.4h0M129.6 742h0M148.7 689.6h0M106.9 716.4h0M144.5 691.3h0M98.6 720.7h0M110.4 715.2h0M137.7 728.7h0M146.3 719.3h0M135.4 745.9h0M135.4 736.7h0M137.7 708.1h0M160.2 734.2h0M125.6 715.3h0M82.8 682.5h0M100.6 676.5h0M154.6 700.1h0M129.2 731.2h0M105.7 705.9h0M119.6 689.3h0M136.3 723.8h0M105.6 680.1h0M138.4 706.8h0M151.4 713.5h0M139.8 712.9h0M108.9 689.2h0M80.5 703.4h0M129.8 676.3h0M95.6 659.6h0M145.2 719.6h0M144.4 737.5h0M134.6 703.3h0M112.1 719.7h0M133.6 674.4h0M91.4 677.9h0M109 726.5h0M154.1 747.1h0M149.8 673.7h0M130.5 704.1h0M108.5 712.9h0M103.6 699.2h0M113.4 728.8h0M105.9 716h0M121.9 738.4h0M112.3 701h0M135.1 689.6h0M132.4 681.2h0M162.4 725.3h0M114.9 719.8h0M159.1 731.4h0M163.3 685.7h0M88.1 697.4h0M158 728.1h0M127.1 681.4h0M156.2 717.1h0M156.8 737.3h0M99.5 681.7h0M158.7 717.8h0M108.7 700.7h0M133.9 703.3h0M103 713.5h0M103.7 713.8h0M133.6 744h0M147.9 721.7h0M90.1 692h0M130.4 736.5h0M100.9 720.5h0M93.6 701.3h0M142.3 701.3h0M104.6 721.5h0M113.9 702.8h0M131 701.7h0M82.8 704.6h0M160.2 736.9h0M131.9 710.7h0M158.4 720.2h0M141 676.4h0M142.8 691.4h0M140.6 693.5h0M159.5 692.6h0M162.3 747.7h0M89.9 708.2h0M144 693.9h0M132 718.7h0M127 728h0M161.5 737.9h0M145.8 719.5h0M162.2 739.3h0M157.1 746.1h0M114.3 724.2h0M163.6 705h0M163.2 700h0M110.4 704h0M150.8 746.7h0M153.3 693.1h0M108.1 726.5h0M157.2 717.7h0M139.5 724h0M135.2 694.9h0M104.4 683.3h0M154.8 730.7h0M157.9 745h0M104.3 674.5h0M112.1 683.7h0M117.5 677.6h0M105.8 665.6h0M115.7 716.9h0M141.9 693.2h0M113.8 697.9h0M141.5 747.6h0M125 731.9h0M123.6 671.4h0M136.3 727.5h0M98 690h0M118.8 715.7h0M139.7 708.6h0M118.3 696.5h0M160.2 701h0M132.3 739.6h0M115.4 723.9h0M135.4 694.4h0M115.6 722.1h0M103.3 669.5h0M114.1 716.5h0M143.9 733.3h0M141.9 725h0M151.2 720h0M124.3 726.5h0M138.3 743.5h0M126.8 728.4h0M128.4 719.2h0M92.4 711.6h0M129.7 709.9h0M137.9 736.2h0M139.5 704h0M100.5 723.9h0M114.5 719.3h0M138 727h0M136.2 674.7h0M160.6 720.9h0M150.5 680.4h0M146.5 724.1h0M131.1 726.5h0M81.3 698.2h0M151.6 715.9h0M97.3 681.7h0M131.4 676.2h0M158.5 718.2h0M128.3 685.7h0M163.7 707.1h0M89.9 713.2h0M105.2 703.6h0M121.6 686.3h0M125.4 742.2h0M142.9 748h0M135.3 725.7h0M121.4 711.9h0M121.7 724.7h0M109.7 717.6h0M152 710.3h0M93.7 704.8h0M94.7 694h0M151 736.6h0M148.6 679.5h0M97.8 667.7h0M160.5 740h0M113.7 703.3h0M147.7 742.6h0M114.2 727h0M104.5 709.5h0M131.8 699.6h0M151 722.9h0M134.6 747h0M122 708h0M120.2 734.7h0M147.2 731.8h0M129.5 738.7h0M138.3 745.1h0M114.4 721.7h0M149.6 711.6h0M144.4 682.9h0M141 705.9h0M134.7 737.6h0M112.3 664.6h0M122.8 686.7h0M142.2 748.1h0M133.2 691.3h0M150.2 733.9h0M134.3 674h0M141.8 739.7h0M160.3 705.6h0M157.1 700.4h0M141.1 733.8h0M124.6 727.6h0M148.3 747.7h0M120.8 727.9h0M109.3 694.1h0M132.5 732.3h0M146.9 746.8h0M153.2 696h0M155.9 742.5h0M158.8 695.6h0M112.3 697.1h0M122.8 683h0M116.7 707.7h0M153.1 696.2h0M110.2 674.6h0M132.1 717.2h0M129.7 731.1h0M162.1 728.5h0M126.9 717.3h0M91.9 685.7h0M106.1 692.9h0M116.6 679.8h0M138.6 715.2h0M136.9 673.3h0M157.7 738.9h0M130.8 728.7h0M141.1 704.6h0M147.3 736.2h0M146.3 666.8h0M124.9 697.6h0M124.5 719.3h0M111.2 720.7h0M103.8 687.2h0M115.1 708.3h0M87 677.6h0M119 734h0M121.6 730.4h0M142.2 725.5h0M102.4 687.7h0M148.6 706.7h0M137.4 748.5h0M136.2 725.6h0M137.2 737.2h0M109.1 728.4h0M102.4 718h0M96.9 683.8h0M107.7 688.2h0M152.1 740.1h0M154.9 680.5h0M99.2 694.8h0M146.7 736.2h0M92.9 716.6h0M151 727.6h0M161.2 724.3h0M163.2 731.5h0M133.6 689.2h0M114.2 730.7h0M143.5 720.3h0M113.6 700.8h0M128.5 695.2h0M115.9 687.3h0M139 706.1h0M90.9 706.5h0M118.8 712.4h0M138.9 728.4h0M80.5 694.4h0M153 691.6h0M127.7 702h0M150.2 679.8h0M98.5 680.3h0M108.1 726.2h0M117.3 710.4h0M151.7 746.8h0M121.4 714.1h0M147.8 683.8h0M123.5 714.6h0M140.2 743.9h0M108.3 724h0M131.3 745.1h0M163.7 727.6h0M112 712.9h0M122.3 661.9h0M124.8 692h0M109.5 731.1h0M152.1 686.4h0M147.3 686.9h0M160.3 703.8h0M134.4 739h0M161.5 719.3h0M133.1 721h0M151.6 707.1h0M100.8 708.2h0M117.6 690.4h0M80.5 694.1h0M161.5 732.1h0M141.9 733.4h0M143 696.4h0M122 730.8h0M121.2 702h0M159.9 728.6h0M89.7 689h0M154.7 743.7h0M139.6 710.3h0M160.8 692.3h0M119.7 664.4h0M91.9 668.9h0M126.5 673.8h0M133.9 745.6h0M113.8 728h0M128.7 672.5h0M127 665.8h0M91.9 675.8h0M91.4 666.7h0M148.6 742.6h0M87.7 671.5h0M88.6 669.6h0M110.7 666h0M150 744.9h0M121.5 653.5h0M133.9 741.4h0M100.3 665.2h0M135.9 668.1h0M105.3 723.4h0M113.1 665.9h0M102.8 729h0M112.5 728.7h0M95 721.1h0M118.9 661.9h0M148.3 676.4h0M111.6 669.1h0M126.9 748.9h0M114.1 732.4h0M125.2 663.4h0M128.9 670.3h0M156 749.4h0M143.1 671h0M129.4 747.5h0M140.2 681.4h0M156.3 672.4h0M149.2 742.8h0" stroke="#f40000" stroke-width="3.8" stroke-linecap="round" fill="none" opacity="0.64"/>
<path d="M112.8 729.7h0M138.7 678.6h0M140.3 734.5h0M84.4 708.5h0M86.1 668.9h0M163.1 723.5h0M94 685.7h0M158.6 685.7h0M136 708.6h0M99 689.4h0M118.3 673.6h0M134.6 697.3h0M154.1 746.4h0M90.7 686.4h0M92.7 701.9h0M132.9 726.5h0M161.3 725.8h0M111.5 721.1h0M102.6 674.6h0M140.1 686h0M154.4 701.3h0M122 726h0M141.3 735.1h0M154.5 719.7h0M91.5 711.4h0M120.3 688.4h0M151.6 736h0M120 701.1h0M110.3 722.3h0M129.9 700.5h0M102.6 681.3h0M132.2 726.4h0M160.6 704.7h0M158.6 743.8h0M125.9 706.6h0M160.6 745.8h0M113.7 678h0M85.8 705.7h0M156.2 745.9h0M120.9 701.2h0M87.9 688.1h0M156.1 729.3h0M116.3 726.4h0M130 725.8h0M149.6 733.6h0M149.7 748h0M127.3 686.8h0M125.4 694.5h0M83.9 669.9h0M113.5 678.3h0M131 721h0M146.5 725.8h0M144.4 728.7h0M163.1 730.9h0M152.4 716.9h0M163.7 711.9h0M157.7 735.1h0M104 702.9h0M161.7 740.1h0M143.1 716.1h0M127.9 685.8h0M160.3 731.8h0M143.8 706.7h0M83.1 683.9h0M151.3 716.8h0M112.2 717.8h0M157.2 710.5h0M105.5 726.4h0M149.9 739.5h0M126.6 706.8h0M105.3 680.7h0M81.2 690.4h0M157.5 710.6h0M109.7 680.9h0M110.1 727.9h0M112.8 731.4h0M161.5 722.6h0M147.5 704.1h0M145.4 682.7h0M111.2 713.1h0M138.8 678.1h0M114 676.5h0M138.2 735.3h0M153.6 724.3h0M141.7 746.3h0M162.3 714h0M161.8 730.1h0M112.3 699.4h0M140.6 712.2h0M109.5 705.7h0M104.5 700h0M150.5 706.2h0M154.3 697.8h0M149 738h0M142.8 699.8h0M161.5 747.9h0M111.1 705.7h0M124.6 718.3h0M139.8 714.2h0M152.4 724.3h0M160.3 729.5h0M97.4 712h0M154.8 734h0M122.4 687.8h0M163.8 732.2h0M92.7 700.5h0M157.5 737.4h0M122 730.6h0M142.6 720h0M150.1 721.1h0M134.8 728.6h0M130.3 715.7h0M109.9 730.9h0M150.3 738.4h0M156.7 725.6h0M141.5 746h0M156.1 688.2h0M150.2 722.5h0M163.4 729.3h0M104.4 696.8h0M155 715.2h0M150.6 731.2h0M154.1 725.8h0M144.3 708.3h0M117.6 672.7h0M159 719h0M134.8 727.3h0M137.4 746h0M116.5 712.3h0M152.2 681h0M159.1 696.6h0M148.6 740.8h0M134.2 706.8h0M142.6 683.9h0M154.5 747.3h0M163.6 701.5h0M125.2 729.4h0M118.2 685.3h0M164.1 716.2h0M157 684.1h0M141.8 675.5h0M80.6 705.5h0M105.9 689h0M147.6 677.6h0M93.4 716h0M163.6 698.6h0M116.4 735.6h0M160.3 747.9h0M98.8 718.7h0M158.6 725.4h0M113.6 675h0M97.7 712.7h0M123.3 728.6h0M142.9 711.7h0M139.6 704.5h0M155.1 739.9h0M162.2 701.9h0M149 714h0M154.4 717.1h0M120.1 681.4h0M124.8 736h0M104.2 721.9h0M161.4 702.7h0M140.8 740.1h0M148 692.3h0M107.3 717.8h0M96.5 706.1h0M143.9 730h0M152.5 734.1h0M135 682.4h0M135.4 696.3h0M150.2 687h0M137 736.8h0M140.1 699.1h0M118.2 672.3h0M148.1 747.2h0M117 719.6h0M134 743.4h0M146 741.1h0M151.8 708.6h0M93.9 708.7h0M146 744h0M147 746.3h0M109.8 719.1h0M136.5 682.4h0M96.5 707.3h0M117 710.5h0M155.2 707.2h0M141.5 709.7h0M148.4 685.7h0M153.4 669.1h0M111.5 707.6h0M91.8 703.6h0M137.1 721.6h0M151.9 713.6h0M117 672.1h0M130.1 735.9h0M146.1 731.3h0M155.4 736.9h0M147.5 741h0M147 677.7h0M127 726.1h0M123.3 680.6h0M159.8 701.9h0M118.6 718.1h0M142.6 716.8h0M117 727.5h0M162.5 696.9h0M80.8 680.7h0M127.4 723.2h0M152.4 735.7h0M110.7 725.8h0M110.4 705.7h0M158.9 719.3h0M105.5 708.9h0M148.7 736.2h0M161.5 705.1h0M137.6 703h0M160.8 737.4h0M152.8 708.5h0M134.1 724.5h0M121.3 710.7h0M138 710.5h0M129.4 723.3h0M125.2 726.3h0M161.7 734.9h0M145.4 725h0M158.7 714.5h0M146.6 721h0M148.4 710.5h0M121.6 703.5h0M121.9 693.5h0M136.9 745.8h0M113.2 705.8h0M157.8 720.3h0M145.1 705.7h0M103 682.3h0M146.3 709.8h0M141.3 729.9h0M112.8 726.9h0M129 720.6h0M121.1 707.6h0M143.6 745.5h0M149.3 692h0M120.9 713.8h0M157.7 709.2h0M135.2 709.4h0M157.7 712.4h0M113.1 714.3h0M150.3 728.6h0M147.4 700.3h0M153.7 744.2h0M111.2 674.7h0M149.6 735.3h0M91.9 715.1h0M104.1 718.7h0M150.6 710.2h0M134 715.3h0M161.3 721.1h0M122.2 711.6h0M154.4 744.2h0M133.1 695.1h0M103 704.1h0M121.2 733.5h0M118 681.2h0M91.4 692.3h0M140.4 723.1h0M139.7 723.5h0M152.8 696.8h0M142.9 708.1h0M81.8 703.8h0M105.4 688.2h0M119.3 659.8h0M103.3 709h0M159.9 728.5h0M135.5 733.2h0M110.6 663.5h0M153 714.5h0M151 720.9h0M159.3 746.7h0M142.9 744h0M94.9 702.3h0M131.4 733.6h0M111 716.2h0M77.3 697.4h0M106.8 688.9h0M129.4 742.8h0M91.5 682.4h0M109.4 730.3h0M134.7 694.4h0M139 742.2h0M118.7 680.2h0M158.4 737.8h0M119.3 738h0M158.4 746.2h0M143 696.2h0M146.6 746.1h0M129 709.8h0M135.7 730.8h0M129.3 722.6h0M144.6 745.7h0M102.5 699.4h0M147 739.5h0M114.1 698.8h0M133.8 708.1h0M123.6 668.1h0M96.4 685.9h0M131.9 722.5h0M153.1 737.5h0M158.8 711.5h0M138.4 684.5h0M144.7 707.7h0M139.6 701.1h0M155.8 722h0M151.8 703.8h0M103.8 689.5h0M158.2 749.4h0M114.9 739.9h0M138.8 745.5h0M108 723.8h0M143.8 670.9h0M141.2 680.6h0M141.3 749.4h0M118.9 665.8h0M92.9 674.1h0M120.9 655.1h0M74.1 685.8h0M131.3 743.5h0M130.8 672.5h0M129 669.3h0M151.2 749.4h0M90.2 650.1h0M129.6 739.4h0M160.7 677.6h0M162.7 749.4h0M141.3 749.4h0M133.9 662.3h0M117.1 674h0M103.3 721.9h0M88.8 661.7h0M155.4 689.7h0M143.7 747.8h0M86.9 707.6h0M87.2 666.4h0M139.3 674.9h0M117.6 675.8h0M119.2 668.2h0M140 662.9h0M139.3 749.4h0M159.8 691.3h0M147.8 681.6h0M92.5 672.7h0M95.4 715.8h0" stroke="#f40000" stroke-width="3.8" stroke-linecap="round" fill="none" opacity="0.64"/>
<path d="M204.9 735.8h0M200.8 738.7h0M197 670.8h0M195 718.5h0M208.1 672.8h0M205.9 737.7h0M203.1 697.8h0M199.3 703.9h0M198.2 717.5h0M197.3 701.9h0M213.3 742.3h0M202.4 671.1h0M193.4 732.2h0M196.9 690.2h0M221.2 737.7h0M206.9 744.2h0M199.9 698.8h0M196.2 723.3h0M206.2 737.7h0M200.9 744.8h0M193.9 747.3h0M194.1 715.5h0M198.2 671.7h0M205.4 746.1h0M202.1 743.3h0M200.2 725.7h0M195.4 726.2h0M192.7 727.3h0M196.5 691.5h0M208.1 690.3h0M206.3 698.2h0M201.4 686h0M197.5 722.4h0M207.8 655.6h0M211.2 724.8h0M194.5 680.1h0M196.6 695.5h0M201.1 671.8h0M208.5 712.5h0M206.5 659.3h0M203.2 651.9h0M218.5 738.8h0M201.4 731.4h0M211.8 725.5h0M201.5 724.8h0M240.8 736.2h0M194.1 731.3h0M195.2 687h0M200.4 701.7h0M204.7 746h0M198.2 722.3h0M202.3 733.4h0M199.3 700.1h0M225.8 747.3h0M203.1 693.7h0M197.5 682.9h0M204.1 672.5h0M232.8 704h0M208.6 720.4h0M204.6 695.4h0M199.7 742.6h0M197.3 680.1h0M212.9 678.3h0M195.4 704.9h0M211.5 744h0M210.3 727.5h0M240.8 729.7h0M199.1 743.2h0M193.8 670.5h0M197.5 665.9h0M194.6 719.6h0M196.8 720.3h0M200.6 684.7h0M193.8 722h0M199.2 740.5h0M195.7 676.5h0M210 735.6h0M197.3 747.1h0M193.5 665.3h0M205.4 728.7h0M196.2 705.9h0M193.4 700.5h0M197.5 692.3h0M194.4 696.4h0M201.1 709.9h0M211 735.3h0M197.8 689.8h0M201.5 697.2h0M199.6 681.1h0M207.8 740.4h0M206.8 746.3h0M210.6 726.2h0M200.3 707.4h0M212.4 741.4h0M204.1 703.8h0M211.6 692.4h0M217.6 727.1h0M193.4 748.4h0M196.4 735.4h0M209.5 733.9h0M192.9 744.4h0M200.9 670.5h0M218.7 696h0M200.9 743.7h0M192.9 743.8h0M216.1 723.3h0M203.1 698.5h0M209.7 748.9h0M206.5 691.5h0M211 684.6h0M192.9 725.5h0M201.4 737.9h0M197.1 664.1h0M198.2 694.6h0M198.5 681.4h0M196.1 674.5h0M212.2 726.1h0M194.6 671.7h0M198.9 710.6h0M194.5 727.7h0M199.7 706.5h0M201.7 746.7h0M197.4 681.6h0M194.9 747.2h0M197.3 712.8h0M199.2 735.6h0M195.4 718.6h0M201.8 709.1h0M197.2 715.9h0M194.4 720.6h0M193.9 689.5h0M202.8 736.4h0M199 681.3h0M204.2 699.5h0M207.6 694h0M196.6 743.3h0M195.9 705.8h0M195.8 675.8h0M240.8 708h0M193.4 729.8h0M194.2 705.2h0M201.8 720.5h0M218.4 725.5h0M216.3 739h0M201.5 633.7h0M218.8 666.7h0M217.8 675.5h0M203.6 648.4h0M222.2 674.9h0M202.2 645.3h0M204.8 642.5h0M215.3 625.1h0M214.2 658.7h0M203.7 631.9h0M213.5 660.1h0M220.3 672h0M211.5 645.4h0M196.3 658.2h0M226.3 673.5h0M213.2 660.2h0M216.7 648.3h0M195 658.6h0M222.3 676h0M231.4 698h0M200.1 628.7h0" stroke="#f40000" stroke-width="3.8" stroke-linecap="round" fill="none" opacity="0.64"/>
<path d="M193.3 678.9h0M200.4 677.2h0M210.5 691.4h0M202.3 717.2h0M198.4 704.3h0M195 730h0M207.1 730.9h0M197.5 733.7h0M196.2 693.2h0M193.1 703.3h0M203 681.6h0M207.3 735.9h0M202.8 715.3h0M200.9 689.3h0M215.4 693.4h0M194.2 738.4h0M213.1 689.5h0M192.7 706.2h0M220.8 722.4h0M194.3 744.9h0M194.1 735.5h0M197.6 739.1h0M203.6 692h0M221.7 713h0M212.7 746h0M199.3 743.6h0M206.4 704h0M201.2 713.8h0M196.2 722h0M196.6 669.9h0M199.3 688h0M209.4 710.2h0M205.6 674.5h0M201.7 666h0M195.3 715h0M197.1 739.6h0M196.7 683.5h0M195.9 704.9h0M196 643.2h0M208.1 711.6h0M192.9 720h0M202.8 699.3h0M208.5 730.3h0M201.9 720.7h0M215.8 690.5h0M202 681.9h0M195.3 667h0M202.6 714.5h0M202.2 744.1h0M202.2 741.3h0M195.1 743.5h0M200.2 706.3h0M196.7 668h0M199.5 652.8h0M193.2 730.7h0M197.7 694.5h0M219.6 739.3h0M199.7 685.7h0M208.7 725.6h0M228.2 718.1h0M206.9 662.2h0M197.9 737.8h0M199.3 674.4h0M203.5 700.4h0M227.2 715h0M192.7 690.9h0M213.7 731.3h0M194.9 746.3h0M193 685.1h0M205.6 738.7h0M202.9 745.3h0M213.2 692.9h0M201.2 721.3h0M197.9 727.4h0M196.1 671.4h0M207.4 731.5h0M202 717.3h0M197.4 684.3h0M217.2 724.8h0M220.2 706.1h0M215 723.4h0M201.4 704h0M208.2 708.2h0M204.6 730h0M220.1 732.9h0M204.5 730.4h0M194.9 682.5h0M205.2 705.3h0M194.6 673.7h0M204.1 730.9h0M198.1 747.8h0M194.7 720.6h0M200.7 709.9h0M229.5 712.3h0M207.9 730h0M217.1 742.1h0M208.7 737h0M194.7 672.3h0M205.9 735.1h0M208.7 743.7h0M195.3 704.4h0M196.8 684.9h0M200.8 716.7h0M193 702.8h0M196.1 716.3h0M214.2 707.3h0M193.9 686.4h0M192.8 689.5h0M227.6 724h0M212.1 722.1h0M203.3 726.4h0M199.6 675.2h0M197.6 664.9h0M200.9 726.6h0M192.7 699.1h0M206.3 676.7h0M207.4 698.7h0M203.2 687.5h0M199.8 695.5h0M194.6 666.1h0M197.5 692.8h0M195.5 724.7h0M193.4 742.7h0M209.4 684.5h0M220.7 688.8h0M194.7 668.6h0M206.2 664h0M222.4 740h0M197.1 724.2h0M194.3 718.6h0M210 689.3h0M200.7 700h0M202.9 730.5h0M201.3 743.3h0M199.3 653.5h0M205.2 664.3h0M199 713h0M197.8 686.2h0M199.8 704.8h0M199.6 675.9h0M201.4 696.4h0M223.6 715.8h0M203.8 686.7h0M205.3 742.6h0M199.4 653.5h0M198 654.7h0M198.8 643h0M206.1 623.6h0M203.6 642h0M199.3 650.1h0M213 651.8h0M205.8 624.6h0M204.3 650.7h0M208 655.6h0M216 664.4h0M199 652h0M195.1 640.5h0M207.1 651h0M198.1 646.8h0M218.7 655.6h0M196.2 653.6h0M199.3 626.1h0M221.3 655h0M197.7 642.9h0M207.3 636.1h0" stroke="#f40000" stroke-width="3.8" stroke-linecap="round" fill="none" opacity="0.64"/>
<path d="M196.4 723.4h0M194.3 738.2h0M207.7 662.6h0M194.3 723.8h0M207.6 663.4h0M196.8 678.9h0M196.4 720.9h0M196.5 746.1h0M199.5 721.6h0M198.2 731.6h0M207.9 741.5h0M196.9 717.3h0M195.8 737.9h0M227.4 730.6h0M203.4 708.8h0M196.2 687.6h0M210.1 740.3h0M204.5 690.5h0M224.6 680.1h0M194.1 738.7h0M212.3 739.8h0M198.4 739.3h0M197.1 664.9h0M217.7 746h0M193.7 733.8h0M229.1 696.1h0M207.1 679.7h0M201.2 658.6h0M215.2 724h0M196.2 664h0M216.7 677.7h0M194.7 698.8h0M193.2 690.3h0M226.6 709.7h0M194.9 656.3h0M194 749.1h0M200.9 686.9h0M204.4 711.1h0M210.1 695.3h0M223.5 747.3h0M227.3 727.5h0M219.5 698.9h0M200.5 695.2h0M204.7 733.1h0M195.4 700.4h0M201.1 684.4h0M194.9 737.1h0M212.7 716.4h0M193.9 711.2h0M197.9 715.5h0M203.1 675.7h0M196.9 671.9h0M201.3 664.4h0M198.8 683.7h0M192.7 688.9h0M201.6 734.9h0M206.8 687.3h0M197.9 734h0M212.8 693.3h0M208.5 725.7h0M203.4 720.5h0M194.7 690.5h0M205.2 739.8h0M198.3 722.6h0M233.8 709.9h0M194.7 727.5h0M197.8 700.4h0M204.5 678.8h0M200.9 706.7h0M203 724.8h0M199.7 739.6h0M195 744.9h0M209.9 724.9h0M194.1 708.1h0M197.4 738.2h0M198.4 707h0M195.9 677.8h0M204.8 706.5h0M200.1 655.6h0M194.8 685.8h0M221.6 722.7h0M196.6 710.9h0M198.1 740.6h0M211.7 712.7h0M210.6 712.4h0M202.3 658.3h0M211.8 651h0M194.6 709.9h0M196 673.9h0M201 675h0M216.4 692.9h0M207.5 705.8h0M200.5 728.4h0M208 670.8h0M201.2 715.8h0M208.8 722h0M193.4 724.1h0M194.5 727.9h0M201.2 665h0M193.8 696.3h0M194.8 662.8h0M203.7 675.1h0M195.2 722.5h0M203.4 689.4h0M202.1 688h0M207.3 663.6h0M196.7 673.2h0M200.3 709.9h0M197.8 711.7h0M193.2 711.6h0M196.7 742.2h0M194.5 701.3h0M206.7 719.1h0M196.9 677.4h0M213.7 715.4h0M197.5 666.6h0M200.7 711.2h0M195.6 703.8h0M201.4 736.7h0M198.6 734h0M211.9 724.5h0M218.7 721h0M206 703.5h0M202.5 737.8h0M197.1 720.4h0M200 732.4h0M210.8 736.7h0M207.2 651.2h0M207.2 650h0M193.9 698.8h0M196.7 700.7h0M207.6 721.7h0M199.3 727h0M207.8 739.5h0M195 722.4h0M201.6 744.3h0M204.5 688.5h0M193.8 694.1h0M207 707.4h0M203.6 718.7h0M200.4 746.2h0M198 710.5h0M215.4 721.9h0M208.6 641.6h0M207.9 649.5h0M207.4 648.6h0M223.6 684.3h0M221.7 681.2h0M194.5 650.8h0M206.8 617.7h0M213.1 652.8h0M202.1 628.2h0M207.5 642.3h0M200 648.2h0M219.3 677.6h0M209.7 624.9h0M201.7 626h0M208.1 639.7h0M222.1 680.2h0M207.1 636.6h0M212.4 664.4h0M206.1 650.7h0M203.7 646.8h0M221.4 683.2h0M211.4 646.1h0" stroke="#f40000" stroke-width="3.8" stroke-linecap="round" fill="none" opacity="0.64"/>
<path d="M193.1 737.3h0M199.5 684h0M201.9 718.1h0M198.8 672.6h0M226.6 696.4h0M195.6 731.1h0M210.3 708.5h0M206.1 676.2h0M205.1 747.5h0M195 726.4h0M204.1 671.8h0M196.8 666.2h0M204.2 701.3h0M210.2 735.1h0M195.5 747.8h0M205.1 695.6h0M197.9 691.1h0M202.5 742.5h0M201.7 671.9h0M198.9 686h0M218.4 738.5h0M202.5 659.5h0M194.2 730.2h0M209.1 728h0M219.6 742.8h0M196.6 685.7h0M215.7 660.7h0M193.5 748.8h0M204.7 706.9h0M202.2 711h0M212.4 711.3h0M200.4 694.3h0M197.7 710.7h0M202 694.6h0M197.2 735.7h0M208.7 719.4h0M211.6 698.8h0M204 746h0M204.6 733.1h0M200.8 656.6h0M211.6 673.5h0M204 736.9h0M203.5 723.2h0M197.7 645.8h0M203.2 731.5h0M208.3 695.6h0M203.1 715.1h0M218.2 718.8h0M196.1 702h0M197.3 666.2h0M214.3 686.1h0M200.9 721h0M203.1 710.9h0M202.2 701.7h0M204.4 688.8h0M200 742.1h0M209.7 736.7h0M202.5 694.6h0M240.8 734.8h0M199.2 712.8h0M201.7 745.2h0M197.7 678.8h0M195.2 669.4h0M213.4 695.8h0M198.9 654.1h0M193 739.4h0M212.8 696.8h0M193.8 724h0M197.1 659.2h0M198 719h0M204.7 730.3h0M195.1 702.4h0M195.6 709.4h0M198.3 720.3h0M204.2 674.8h0M200.7 693.3h0M210.1 696.9h0M200.6 716.5h0M209.6 732.8h0M202.5 698.1h0M204 709.8h0M198.4 728.9h0M195.3 737.6h0M193 741.5h0M204.1 715.5h0M204 699.3h0M208.5 678.6h0M212.4 742.5h0M207.7 717.4h0M231.9 718.8h0M212.6 679.1h0M212.2 659.8h0M193.7 724.1h0M197.6 708h0M205.9 666h0M199.3 683.8h0M209.9 713.8h0M197.1 722.2h0M199.7 713.1h0M194.9 668.5h0M205.4 706.3h0M202.4 672.2h0M209.5 669.3h0M203.1 663.6h0M194.4 734.1h0M195.7 659.1h0M192.9 732.3h0M202.3 716.3h0M199.2 689.8h0M197.4 725.5h0M196.1 694h0M195.1 709.1h0M195.1 734.9h0M195.2 707.3h0M194 698.6h0M203.6 726.7h0M200.7 719.2h0M197.2 742.3h0M200.5 722.1h0M209.4 698.5h0M195.6 720h0M198.1 734.4h0M202.2 696.1h0M224 746.6h0M192.7 699.3h0M219.5 710h0M225 719.2h0M199.1 695.9h0M204.9 704.6h0M193.6 743.7h0M200.7 704.7h0M197 743.1h0M211 682.7h0M196.5 707.2h0M207.9 689.1h0M226.1 695.4h0M208.9 729.9h0M194.5 683.1h0M196.2 703.4h0M208.5 672.3h0M204.1 692.6h0M197.2 720.8h0M200.2 722.9h0M203.7 629.3h0M218.7 651.6h0M200.6 634h0M202.5 625.8h0M200.3 645.7h0M204 608.3h0M215.7 649.1h0M203.7 625.4h0M210.6 640h0M213.7 667.4h0M197 653.3h0M206.4 652.3h0M197.8 658h0M209.3 637.4h0M197.4 631.4h0M211.7 647.1h0M227.3 687.1h0M198.6 647.5h0M210 636.2h0M209.4 653.4h0M196.7 638.6h0M218.2 672.2h0" stroke="#f40000" stroke-width="3.8" stroke-linecap="round" fill="none" opacity="0.64"/>
<path d="M199.7 663.1h0M206.8 746.2h0M212.3 713.1h0M200 735.3h0M198.4 712.7h0M194.2 725.8h0M204.9 705.4h0M197 708.8h0M198.7 714.6h0M203.9 711.7h0M203.4 712.9h0M198.8 645h0M201 727.2h0M201.6 710.7h0M198.6 701.3h0M193.5 740.2h0M218.1 663.5h0M206.5 680.4h0M215.1 719.3h0M210.4 666.4h0M198 731.8h0M203.9 699.8h0M193.2 749.2h0M204 697.6h0M227.5 714.1h0M207 747.1h0M201.1 696.2h0M202.2 655.3h0M207.6 718.4h0M196.8 726.3h0M215.5 697.9h0M208.9 727.9h0M198 734.1h0M194.3 670.9h0M220.5 697.4h0M201.8 674h0M196.4 740.1h0M193.7 695.8h0M197 737h0M203.7 714h0M209.8 686.8h0M200.7 714.2h0M210 707.6h0M193.7 670.8h0M194.5 727.8h0M195.5 707.6h0M208.6 700.8h0M209.2 688.1h0M193.4 701.4h0M210.4 719h0M193.2 736.9h0M209 701.3h0M195.1 732.3h0M200.9 718.4h0M211.7 746h0M225.4 747h0M194.8 717.6h0M200.1 696.8h0M204.8 725.2h0M194.9 663.9h0M207.1 747.3h0M200 671.8h0M224.8 725h0M204.8 720.8h0M201.5 672.1h0M201 703.5h0M202.3 699.8h0M222.1 742.6h0M195.5 720.6h0M219.9 736.6h0M211.6 719.6h0M197.6 718.4h0M195.3 744.8h0M203.2 732h0M204.8 676.1h0M194.7 734h0M232.8 735.6h0M210.2 709.4h0M201.1 663.7h0M202.3 719.4h0M193 702.6h0M216.7 722.3h0M194.8 741.8h0M196.8 726.8h0M211.5 736.8h0M202 715.6h0M211.7 692.6h0M194.1 730.9h0M194 742.6h0M199.6 663.2h0M193.9 700.7h0M219.3 727.9h0M197.4 675.2h0M210.8 696.5h0M193.3 733.5h0M215.2 727h0M195.4 713.9h0M194.6 743.3h0M209.3 727.1h0M195.6 665.1h0M195.3 690.7h0M220 745.6h0M225.5 746.5h0M202.3 685.4h0M193.5 743.3h0M193.2 685.5h0M207.5 736.6h0M206 719.8h0M208.4 715.1h0M240.8 742h0M207.7 697.5h0M194.3 736.2h0M200.5 703.1h0M195.7 741h0M209.5 712h0M193.1 693.6h0M198.7 719.5h0M213.1 725.1h0M196.1 696.3h0M197 670.2h0M193.3 692.1h0M199.4 649.7h0M219.1 732.7h0M195.3 683.6h0M201.4 671.9h0M203 698.8h0M211.5 688.5h0M206.7 735.9h0M211.2 702.1h0M192.6 727.3h0M197 650.2h0M196.6 744.3h0M197 715.2h0M224.3 699.6h0M192.7 736.4h0M213.4 729.2h0M233 712.6h0M199 728.7h0M196.7 693h0M201.7 642.3h0M194 675.1h0M202.9 692.9h0M197.4 693.2h0M213.1 661.8h0M196.3 658.8h0M199.9 647.8h0M213.6 660.5h0M203.5 641.5h0M229.9 686.8h0M203.9 614.2h0M208.5 658h0M199.4 651h0M227 674.1h0M196.2 641.8h0M196.7 642.8h0M194.1 660h0M198.1 620h0M205.6 624.2h0M198.4 644h0M199.4 652.3h0M216.3 661.4h0M199.8 638.6h0M211.6 651h0M227.9 672.5h0M221.2 671.4h0" stroke="#f40000" stroke-width="3.8" stroke-linecap="round" fill="none" opacity="0.64"/>
<path d="M203.2 667.8h0M194.9 719.2h0M195.5 744.6h0M202.5 712h0M224.9 702.2h0M215.3 736.4h0M209.7 674.7h0M195.9 682.1h0M202.3 736.5h0M194.4 687.1h0M204.1 682.8h0M196.6 733.5h0M201.1 673.4h0M197.5 679.7h0M201.9 699h0M208.9 712h0M203.8 725.8h0M201 719.9h0M218 720.6h0M200 716.9h0M196 725.4h0M192.9 677.1h0M196.3 689.5h0M194.8 730.6h0M201 710.7h0M219.1 742.6h0M194.6 686.1h0M200.1 739.8h0M196.4 746.3h0M194.3 700.5h0M221.1 714.3h0M203.3 691.4h0M203.6 748.4h0M209.5 692.2h0M212.7 705.1h0M218.9 713.5h0M199.7 690.6h0M198.6 716.2h0M198.1 741.6h0M200 718.8h0M224.1 748.9h0M193.2 721.7h0M196.6 686.9h0M197.3 736.4h0M194 736.9h0M204 680.9h0M202.9 667.8h0M199.9 643h0M196.4 702h0M207 742.4h0M195.2 718.7h0M193 675.5h0M211 719.5h0M196.6 738.6h0M219.2 747.2h0M197.6 710.8h0M194.2 724.7h0M207 646.2h0M203.3 661.5h0M200.6 733.9h0M209.4 745.7h0M230.8 749.1h0M194.9 735.8h0M192.9 738.9h0M212.6 703.8h0M222.1 733.6h0M204.7 678h0M194.8 690.6h0M217.4 710.7h0M199.2 706.9h0M193.5 731.3h0M193.4 737.8h0M200.7 703.1h0M196 716.9h0M194.1 699.2h0M202.2 703.6h0M196.3 651.2h0M194.2 727.6h0M202.7 721.7h0M199.5 664.1h0M197.1 733.2h0M202.1 673.8h0M197.7 724.2h0M198.8 724.1h0M202 735.4h0M197.3 711.8h0M204.9 732.2h0M207.5 684.5h0M213.9 681.1h0M220.3 735.5h0M200.6 707.9h0M195.2 733.7h0M194.5 696.6h0M194.5 689.3h0M203.4 704.6h0M193.1 703.4h0M192.9 747.6h0M196.8 669h0M211.1 714.9h0M198.1 738.7h0M194.8 687.6h0M217.9 737.5h0M203.9 684.4h0M194.1 715.9h0M197.1 644h0M205.3 718.1h0M196 687.4h0M194.9 743h0M202.1 724.5h0M196.1 734.2h0M210.7 740.5h0M199.8 693.2h0M199.9 703.6h0M230.2 689.8h0M210.9 727.2h0M202.1 654.1h0M210.7 728.6h0M194.1 722h0M204.9 656.2h0M209.4 691.9h0M196.1 681.5h0M199 741.3h0M194.9 706.5h0M218 715.7h0M197.1 706.9h0M202.4 706.2h0M204.1 711.2h0M195.6 693.1h0M197.3 670.8h0M197.9 679h0M200 746.8h0M203.1 696.1h0M203.1 718.3h0M199.1 687.8h0M197.1 740.9h0M194.3 704.6h0M195.5 684.2h0M199.2 707.8h0M201.7 727.8h0M196.9 710.3h0M193.9 708.6h0M200.5 727.8h0M199.3 701.3h0M214.5 656.5h0M223 660.2h0M201.7 653.4h0M205.8 647.8h0M211.4 645.6h0M194.2 634.4h0M204.3 618.9h0M223.7 676.9h0M198 628h0M202.6 628.6h0M197.5 658.1h0M209.4 630.2h0M220.8 681.7h0M202 644.3h0M194 673.1h0M196.5 637.6h0M202.2 619.2h0M225.3 681.1h0M204.3 608.8h0M223.8 663.9h0M210.7 632.4h0M211.7 648.2h0" stroke="#f40000" stroke-width="3.8" stroke-linecap="round" fill="none" opacity="0.64"/>
<path d="M270.1 585.8h0M322.3 595.5h0M326.4 595.5h0M334.2 595.5h0M335.6 596.9h0M276.5 606.1h0M281.5 611.6h0M300.9 611.6h0M279.3 620h0M252.1 624.1h0M244.6 624.9h0M236.3 631h0M302.3 641.6h0M273.2 647.1h0M257.1 645.7h0M266.8 658.8h0M317.3 665.7h0M255.7 669.3h0M283.4 669.9h0M265.4 678.7h0M273.7 679h0M291.2 683.2h0M264.9 693.4h0M273.7 689.3h0M282.1 695.7h0M291.8 689.3h0M291.8 702.6h0M272.3 702.6h0M297.3 717h0M215.5 600.5h0M233.5 610.2h0M226 612h0M222 618h0M250 662h0M246 690h0M252 700h0M243 716h0M123.5 625.7h0M127.4 623h0M95.1 634.4h0M129.5 636.5h0M110 728h0M88 737h0" stroke="#f40000" stroke-width="3.7" stroke-linecap="round" fill="none" opacity="0.6"/>
<path d="M164.1 577.9V766M192.6 577.9V766" stroke="#222" stroke-width="0.9" fill="none" stroke-dasharray="3.9 1.8 0.9 1.8"/><path d="M48.6 749.4H349.8" stroke="#222" stroke-width="0.9" fill="none" stroke-dasharray="3.9 1.8 0.9 1.8"/>
<text x="53.9" y="665" font-size="9.5" text-anchor="start" font-weight="normal" fill="#222" >PRTFDC1</text><text x="44.7" y="673" font-size="9.5" text-anchor="start" font-weight="normal" fill="#222" >INPP5B</text><text x="51.8" y="681.1" font-size="9.5" text-anchor="start" font-weight="normal" fill="#222" >GAP43</text><text x="55.7" y="692.7" font-size="9.5" text-anchor="start" font-weight="normal" fill="#222" >MBNL1</text><text x="321.4" y="590.5" font-size="9.5" text-anchor="start" font-weight="normal" fill="#222" >H2AW</text><text x="282" y="602" font-size="9.5" text-anchor="start" font-weight="normal" fill="#222" >H2BC21</text><text x="284" y="634.6" font-size="9.5" text-anchor="start" font-weight="normal" fill="#222" >SFRP5</text><text x="305.6" y="659.3" font-size="9.5" text-anchor="start" font-weight="normal" fill="#222" >MX1</text><text x="278.7" y="680.1" font-size="9.5" text-anchor="start" font-weight="normal" fill="#222" >SFRP1</text><text x="286.2" y="699.3" font-size="9.5" text-anchor="start" font-weight="normal" fill="#222" >SAA2</text><text x="285.4" y="728.7" font-size="9.5" text-anchor="start" font-weight="normal" fill="#222" >SAA1</text>
<text x="361.8" y="517" font-size="19" text-anchor="start" font-weight="bold" fill="#000" >e</text>
<path d="M408 543.6H412.5" stroke="#3a3a3a" stroke-width="1"/><text x="405.6" y="548.1" font-size="12.8" text-anchor="end" font-weight="normal" fill="#111" >3</text><path d="M408 579.6H412.5" stroke="#3a3a3a" stroke-width="1"/><text x="405.6" y="584.1" font-size="12.8" text-anchor="end" font-weight="normal" fill="#111" >2</text><path d="M408 615.6H412.5" stroke="#3a3a3a" stroke-width="1"/><text x="405.6" y="620.1" font-size="12.8" text-anchor="end" font-weight="normal" fill="#111" >1</text><path d="M408 651.6H412.5" stroke="#3a3a3a" stroke-width="1"/><text x="405.6" y="656.1" font-size="12.8" text-anchor="end" font-weight="normal" fill="#111" >0</text><path d="M408 687.6H412.5" stroke="#3a3a3a" stroke-width="1"/><text x="405.6" y="692.1" font-size="12.8" text-anchor="end" font-weight="normal" fill="#111" >-1</text><path d="M408 723.6H412.5" stroke="#3a3a3a" stroke-width="1"/><text x="405.6" y="728.1" font-size="12.8" text-anchor="end" font-weight="normal" fill="#111" >-2</text><path d="M408 759.6H412.5" stroke="#3a3a3a" stroke-width="1"/><text x="405.6" y="764.1" font-size="12.8" text-anchor="end" font-weight="normal" fill="#111" >-3</text><path d="M421.8 768V772.5" stroke="#3a3a3a" stroke-width="1"/><text x="419.5" y="786.6" font-size="12.8" text-anchor="middle" font-weight="normal" fill="#111" >-3</text><path d="M462.1 768V772.5" stroke="#3a3a3a" stroke-width="1"/><text x="459.8" y="786.6" font-size="12.8" text-anchor="middle" font-weight="normal" fill="#111" >-2</text><path d="M502.4 768V772.5" stroke="#3a3a3a" stroke-width="1"/><text x="500.1" y="786.6" font-size="12.8" text-anchor="middle" font-weight="normal" fill="#111" >-1</text><path d="M542.7 768V772.5" stroke="#3a3a3a" stroke-width="1"/><text x="542.7" y="786.6" font-size="12.8" text-anchor="middle" font-weight="normal" fill="#111" >0</text><path d="M583 768V772.5" stroke="#3a3a3a" stroke-width="1"/><text x="583" y="786.6" font-size="12.8" text-anchor="middle" font-weight="normal" fill="#111" >1</text><path d="M623.3 768V772.5" stroke="#3a3a3a" stroke-width="1"/><text x="623.3" y="786.6" font-size="12.8" text-anchor="middle" font-weight="normal" fill="#111" >2</text><path d="M663.6 768V772.5" stroke="#3a3a3a" stroke-width="1"/><text x="663.6" y="786.6" font-size="12.8" text-anchor="middle" font-weight="normal" fill="#111" >3</text>
<path d="M412.5 651.6H672.5M542.7 534.5V768" stroke="#555" stroke-width="0.9"/>
<path d="M519.7 667.5h0M521.3 662.3h0M499.1 688h0M522.6 661.3h0M511.9 663.2h0M487.7 688.7h0M505.8 668.2h0M523.5 663h0M515.4 673.6h0M521.2 664.2h0M502.6 682.6h0M497.2 675.6h0M446.9 716.5h0M514.2 667.1h0M485.6 681.5h0M436.9 722.1h0M508.1 679.6h0M518.5 651h0M474.1 694.8h0M514.1 663.3h0M510.5 676h0M501.7 670.8h0M507.4 681.8h0M508.5 671.6h0M490.5 692.1h0M484.7 688.3h0M443.8 709.9h0M508.6 666.3h0M512.4 681.1h0M514.6 671.8h0M501 672.6h0M515.8 674.5h0M462.2 701.5h0M496.1 681.3h0M515.6 662.1h0M523.4 649.5h0M444.1 705.5h0M500.7 681.1h0M500.3 673.4h0M500.8 674.7h0M526.2 650.5h0M501.9 676h0M466.2 707.7h0M528 669.2h0M501.9 688.7h0M506.8 680.5h0M496.9 681.1h0M517.6 686.2h0M520.5 665.7h0M503.7 679.2h0M503.1 668.2h0M483.6 689.2h0M505.6 678.1h0M508.8 668.4h0M518.3 672.9h0M493.5 685h0M523.4 683.4h0M524.2 671.7h0M499.2 682.4h0M488.4 690.3h0M512.1 668.2h0M522.5 666.1h0M517.3 683.3h0M496.8 677.4h0M504.3 663.8h0M483 688.1h0M477 684.7h0M501.9 683.6h0M486.3 689.5h0M498.2 676.2h0M526.1 674h0M517.3 642.4h0M524.8 663.2h0M526.3 652.9h0M514.8 660.4h0M525.3 671.5h0M484.2 688.2h0M513.2 668.3h0M504.8 667.9h0M498.9 669.8h0M466.3 694.8h0M512.8 669.1h0M517.5 661.5h0M468.9 697.8h0M506.4 666.9h0M505.4 677.7h0M465.8 693.3h0M488.1 692.5h0M519.9 658.7h0M459 703.2h0M527.6 668.8h0M522.8 654.1h0M500.8 676h0M516.2 663.7h0M510 670h0M498.6 679.3h0M503.6 676.7h0M498.4 667.6h0M479.1 699.2h0M479.1 693.3h0M485.1 686.9h0M505.8 675.5h0M513.1 673.3h0M520 661h0M516.9 674.1h0M505.7 682.7h0M477.9 699h0M509 669.6h0M524.6 656.4h0M510.5 669.8h0M487.4 687.5h0M524.6 666h0M516.5 670.5h0M506.4 673.9h0M498.5 677.2h0M516 665.8h0M512.4 672.5h0M474 685.3h0M499.6 665.5h0M490.6 681.1h0M523.3 667.2h0M515.6 659.2h0M515.1 686.5h0M502.5 677.4h0M472.1 698.3h0M520.7 639.7h0M488.4 674.9h0M517.4 662.2h0M509.4 672.9h0M521.5 667h0M525.2 656.7h0M497.5 677.1h0M514.5 656.8h0M484.8 688h0M490.6 681.8h0M491.9 686.4h0M504.5 680.7h0M496 676h0M523.9 650h0M513.4 675.6h0M516.9 677.7h0M520 654.6h0M495.8 685.3h0M510.4 655.9h0M522.1 661.9h0M508.1 673.8h0M513.7 655.6h0M519.5 664.1h0M521.3 674.9h0M464.8 697h0M526.6 657h0M490.1 690.6h0M520.4 658.9h0M504.3 673.8h0M509.7 661.5h0M527.7 669.2h0M492.2 691.2h0M497.5 684.4h0M468.1 699h0M522.8 671.9h0M468.5 694.3h0M508.3 678.7h0M500.7 677.3h0M503.8 678.7h0M505.8 672.4h0M438.7 718.1h0M517.1 671.5h0M516.6 671.1h0M496.5 663.8h0M477.4 686.6h0M522.9 659.4h0M488.2 692.9h0M485.2 686.5h0M473.2 705.4h0M525.6 670.2h0M508.1 673.6h0M520.6 668.2h0M457.9 709h0M504.4 669.4h0M478.7 687.1h0M453.5 705.4h0M523.7 685.7h0M485 675.6h0M522.8 675.8h0M528.1 652h0M527.9 638.1h0M497.4 688.8h0M511.5 672h0M522.2 659.2h0M472.2 693.2h0M507.6 677.4h0M481.3 685.2h0M516.6 685.4h0M501.5 681.3h0M504.2 679.9h0M494.9 681.3h0M501.9 670.7h0M451.9 707.7h0M509.7 660.9h0M504.8 678.9h0M516.6 676.2h0M471.5 695.7h0M525.1 671.6h0M501.4 675.2h0M504.3 677.5h0M438.7 706.1h0M518.9 660h0M519.6 663.1h0M524.4 673.4h0M521.5 674.7h0M522.8 659.6h0M477.1 691.7h0M516.1 663h0M517.7 668.2h0M503.9 667.1h0M508.2 664.5h0M517.9 654.5h0M488.8 686.4h0M521.4 655.2h0M494.6 677.4h0M513.5 667.2h0M496.5 690.9h0M495.3 680.9h0M518.4 665.1h0M484.2 685.6h0M482.5 683.7h0M521.2 665h0M501.1 693.6h0M479.7 691.5h0M480.5 690h0M465.1 701.6h0M497.3 674.7h0M522.3 643.2h0M498.7 675.2h0M454.5 697.1h0M526.8 647.9h0M517.3 668.4h0M494.2 677.9h0M497.3 676.3h0M488.4 683.1h0M510.2 670.9h0M501.7 674.1h0M463.2 707.1h0M504.4 666.9h0M498.6 676.6h0M515.5 670.8h0M527.3 662.9h0M481.9 681.4h0M443.3 710.8h0M500.5 677.6h0M502.6 677.3h0M494.5 679.5h0M498.5 677.4h0M524.7 654.1h0M515.7 677.5h0M489.7 688h0M510.1 671h0M513.4 671h0M469.5 701.6h0M522.2 651.4h0M479.2 696.5h0M521 653h0M519.7 666.9h0M480.9 681.8h0M512.9 660.9h0M504.1 669.7h0M518.5 669.1h0M509 672.6h0M511.4 667.4h0M517.1 684.4h0M517.8 650.8h0M481.7 689.4h0M505.8 672.7h0M525.2 673.3h0M495.8 677h0M516.7 666.3h0M527.6 636.2h0M529.2 678.8h0M506 674.9h0M451.8 707h0M525.7 643.4h0M479.5 681.3h0M489.6 687.3h0M509.7 670h0M517.2 673.8h0M521.3 646h0M514.5 654.5h0M439.8 709.5h0M522.7 669h0M476.3 686.7h0M467.4 699.1h0M522.6 652.5h0M505.6 669.7h0M512.3 674h0M516 664.5h0M498.1 683.4h0M482.5 686.3h0M444.9 707.9h0M518.2 673.5h0M510.2 659.8h0M499.8 683.7h0M491.1 679.4h0M508.6 661.7h0M486 684.4h0M506.5 670.2h0M486.9 692.7h0M514.2 665.4h0M512.1 680.4h0M457.1 701.3h0M516.9 657.7h0M488.9 673.5h0M494 673.1h0M517.3 686.3h0M516.2 654.8h0M528.6 628.1h0M522.9 661.4h0M514.4 667.9h0M528.1 662.6h0M507.8 671.5h0M483.5 686.4h0M501.7 686h0M491 676.1h0M483.9 686.1h0M520 671.3h0M512.4 667h0M457 697.7h0M517.1 655.7h0M488.8 682.6h0M477.2 687.3h0M521.6 665.8h0M467.7 704.8h0M512.2 661.4h0M503.3 679.2h0M524.8 659.9h0M498 683.5h0M508.5 669.5h0M512.7 663.8h0M516.9 675.8h0M509 662.9h0M470.1 689.2h0M486.1 693.5h0M522 671.3h0M522.1 659.6h0M508 676.4h0M497 684.2h0M497.7 685.4h0M503 678.8h0M501.5 679h0M513.8 663.6h0M519.9 647.8h0M520.4 660.6h0M470.8 689.6h0M467.4 698.8h0M516 662.4h0M517.3 666.2h0M507.6 668h0M490.4 683.5h0M495.9 678.3h0M519.7 669.8h0M521.2 667.8h0M523.8 671.7h0M517.7 664.6h0M486.4 691.8h0M512.3 664h0M517.9 666.7h0M467 699.2h0M514.6 665.5h0M495.1 675.5h0M508.1 662.6h0M489.2 686.2h0M513.3 657.2h0M527.5 664.1h0M514.8 663.3h0M503.4 683.8h0M467.9 699.4h0M527.4 662.4h0M490.8 683.4h0M484.5 679.8h0M519.3 679.4h0M499.2 678.7h0M528.9 662.5h0M486 689.6h0M448.5 719.7h0M499.6 670.8h0M480 687h0M526.8 671.7h0M473.7 696.1h0M483.5 695.8h0M481.4 696.8h0M506.5 674.8h0M472.4 691.7h0M513.8 657.3h0M524.1 669h0M456.4 709.7h0M523.3 666.4h0M453.9 698h0M503.1 667.9h0M524.5 671.7h0M522.1 680.6h0M508.8 661h0M501.4 669.7h0M528.8 658.1h0M524.3 666.4h0M481 693.3h0M517.4 661.8h0M502.3 681.6h0M503.5 670.3h0M510.5 653h0M501.4 671.6h0M517.6 683.7h0M520.2 666.4h0M520.4 652.3h0M479.5 692h0M504.7 670.5h0M524.4 662.2h0M482.2 689.4h0M502.9 678h0M453.1 707.6h0M450.9 704.7h0M514.8 670.8h0M509.1 659.3h0M493.5 675.9h0M482.8 679.8h0M508.3 669.6h0M506.1 681h0M496.7 679.9h0M508.5 682.8h0M493.3 667h0M517.9 669.2h0M524.9 666.4h0M518.6 678.1h0M445.5 716.2h0M504.9 674.9h0M510.6 675.6h0M515 658.9h0M477.5 683.7h0M486.4 681h0M481.5 693.5h0M513.8 670h0M486.6 692h0M486 681.4h0M523.2 659.8h0M499.7 678.4h0M525.6 668.1h0M521.8 657.9h0M523.5 666.6h0M557.7 627h0M561.6 653.5h0M564.6 628.7h0M570.7 626.5h0M570.3 627.2h0M561 640.6h0M561.9 628.3h0M556.8 640h0M568.1 641.6h0M560.3 643.1h0M565.2 643.4h0M559.6 641.4h0M559.9 637.1h0M567.8 624.5h0M557.1 645.2h0M562.6 636.7h0M564.4 642.6h0M559.9 634.3h0M559.8 648.2h0M569.4 619.4h0M570.1 648.8h0M559.3 639.8h0M569.8 632.4h0M557.4 661.8h0M558.5 639.6h0M565.1 635.2h0M559.1 623.7h0M559.2 636.6h0M570.9 607.8h0M570.2 648.6h0M562.3 629h0M557.6 642h0M559.9 623.6h0M561 612.3h0M570.9 624.2h0M560.7 627.1h0M555.7 639.1h0M577.3 632.9h0M570.6 640.7h0M558.1 640.1h0M565.2 639.1h0M557.7 641.9h0M566 639.5h0M557.8 639.4h0M557.3 629.5h0M565.7 624.4h0M577.5 619.1h0M568 640.8h0M561.3 634h0M558.1 637.7h0M560.9 631.4h0M556 653.9h0M558.2 634.2h0M558.9 644.7h0M556 651.5h0M556.1 639.4h0M557.7 642.5h0M562.8 640.7h0M560.9 639.4h0M558.9 646.1h0M556.5 648.5h0M561.6 639.3h0M572.6 632.8h0M557.4 635.2h0M556.4 642.2h0M562.3 625h0M584.7 641h0M570.9 624.1h0M557.2 636.3h0M573.1 623.9h0M568.2 630.5h0M558.8 633.1h0M559 642.3h0M557.5 631.4h0M573.1 633.2h0M565.2 651.8h0M575.2 627.4h0M598.8 613.3h0M566.2 639.2h0M562.4 632.7h0M570.7 634.3h0M560.7 630.6h0M568.9 654h0M559.7 647.1h0M561.7 634.9h0M570.9 637h0M556.4 651.2h0M563.6 649.2h0M576.6 633.3h0M558.7 637.5h0M556.6 618.6h0M559.2 633.8h0M560.1 635.9h0M559.2 645.7h0M568.4 631.6h0M588.4 609.7h0M556.2 631.4h0M560.5 638.9h0M560.5 639.1h0M560.7 657.1h0M561.2 630.6h0M588.5 639.5h0M562.3 637.1h0M564.6 650.3h0M558.1 640.7h0M558.7 649.2h0M575.9 642h0M559.4 646.6h0M563.7 638.8h0M564.7 636.8h0M564.3 651.3h0M560 639.7h0M557 639.6h0M559.5 626.2h0M560 618.1h0M573.6 611.9h0M565 635.8h0M558.2 637.3h0M567.6 633.8h0M561 638.6h0M562.4 642.8h0M563.1 623.3h0M562.9 639.8h0M556.9 643.7h0M584.2 617.2h0M557.1 651.7h0M560.2 629h0M563.3 631.2h0M559 649.5h0M560.6 642.7h0M556.2 643.6h0M561.3 639.6h0M559.5 636.7h0M577.1 612.3h0M563.7 635.2h0M557.8 628h0M568.7 626.6h0M561.5 631.4h0M560.4 650h0M559.2 634.2h0M557.4 652.9h0M559.1 637.2h0M556.9 642.8h0M557.3 651.1h0M558.1 630.7h0M567.8 631.2h0M556.2 642.6h0M561.1 649.1h0M560.1 641.8h0M562.9 627.7h0M562.8 624.7h0M556.9 646.8h0M575.1 633.3h0M571.7 626.1h0M566.9 634.8h0M620.3 608h0M578.9 612.5h0M594.9 610.1h0M610.3 592.6h0M617.2 602.4h0M609.1 596.4h0M629.5 574.4h0M582.5 612.1h0M626.3 576.6h0M565.2 644.7h0M612.6 586.5h0" stroke="#a0a0a0" stroke-width="3.0" stroke-linecap="round" fill="none" opacity="0.42"/>
<path d="M498.9 677.6h0M526.9 674.3h0M512.3 671.2h0M522.8 656.3h0M523.4 674h0M509.1 674.6h0M524.2 666.2h0M515.1 657.7h0M516.2 670.5h0M517.5 674.9h0M522 659.7h0M505.2 680.2h0M470.3 706h0M480.6 694.8h0M471.6 698.4h0M516.9 663.1h0M467.6 709.3h0M456.8 702.8h0M477.6 691.1h0M498.1 682.8h0M493.1 687.1h0M471.9 697h0M456.3 705.6h0M513.4 668.7h0M481.1 682.8h0M523.1 677h0M498 675.6h0M524.5 642.7h0M515.4 680.9h0M499.6 675.6h0M503.3 684.5h0M514.1 671.5h0M518.4 675.2h0M491.1 677.8h0M491.8 684.8h0M526.1 653.4h0M523.4 654.5h0M506.7 680h0M496.5 689h0M518.7 662h0M444 708.1h0M503.1 673.9h0M526.5 663.9h0M508.3 664.8h0M527.5 656.3h0M475.7 696.1h0M517.7 669.1h0M494.2 685.6h0M505.6 669.1h0M522.9 663.9h0M501.1 690.2h0M498 687.4h0M444.4 708.3h0M506.6 668.6h0M461.5 701.6h0M516.5 679h0M490.4 681h0M453.6 709h0M516.3 658.5h0M470.2 691.4h0M479.9 688.4h0M520.6 668.2h0M502.1 673.7h0M496.5 695.9h0M514.2 658.5h0M521.9 660.7h0M489.5 685.3h0M517.4 653.3h0M527.5 679.6h0M499.7 680.3h0M515.9 664.5h0M504.9 673.1h0M500.1 670.9h0M514.9 667.3h0M519.8 657.7h0M457.8 707.6h0M516.3 655.6h0M485.8 674h0M503.2 667.3h0M482.2 692.7h0M517.5 665.3h0M476.5 696.6h0M505.9 675.4h0M481.3 680.2h0M506 664.7h0M507.9 674.3h0M527.7 655.9h0M513.4 661.2h0M521.1 656.8h0M527.5 655.9h0M518.5 667.7h0M499.6 671.7h0M526.4 661.3h0M486.4 691.7h0M515.2 653.6h0M513.7 672.7h0M510.5 677.8h0M483.9 688.5h0M524.3 655.5h0M520.7 677h0M526.2 665.3h0M485.5 691.7h0M495.9 680.1h0M484.4 685.4h0M502.6 671.7h0M525.3 662.1h0M508 680.6h0M504.7 674.9h0M469.8 692.8h0M497.4 678.1h0M512.6 661.3h0M515.1 667.4h0M499 689.5h0M527.6 671.2h0M527.4 670.5h0M512.6 676.2h0M498.7 677.1h0M498.8 681.4h0M491.8 677.8h0M527.5 654.5h0M506.9 666.1h0M497.2 682.4h0M477.9 692.5h0M498.2 671.7h0M527.8 670.2h0M509.7 686.6h0M451.9 717.3h0M523.8 663.8h0M521.3 665.2h0M502.1 663.1h0M507.9 678.4h0M497.9 683.8h0M527.5 655h0M516.5 668.8h0M515.4 674.9h0M489.7 683h0M456 707.3h0M511 673.8h0M512.5 668.8h0M503.3 679.8h0M524.1 660.1h0M501.4 680h0M507.7 673.5h0M509.7 668.9h0M452 704.7h0M499.2 675h0M511.8 672.1h0M517.1 677.1h0M505.4 676.9h0M476.8 683.6h0M474.8 689.7h0M527.9 677.5h0M478.8 690.8h0M506.2 671h0M498.8 684.9h0M493.4 686.9h0M485.5 686.3h0M510.2 668.4h0M506.1 668.6h0M517 670.8h0M518.6 665.4h0M511.9 667.9h0M508.4 671.4h0M527.1 659.3h0M516 660.9h0M513.6 668.9h0M502.4 672.1h0M487.2 680.9h0M480.8 683.6h0M511.1 664.4h0M528.6 656.7h0M527.3 644.5h0M501.3 684.4h0M509.6 677.9h0M527.8 659.9h0M444.3 705.4h0M487.2 681.7h0M517 672.6h0M501.1 674.2h0M513.9 668.1h0M524 655.1h0M490.3 684.1h0M498.5 672h0M522.4 658.2h0M502.9 671.6h0M484.1 693.1h0M509.2 672.7h0M520.1 652.4h0M494.3 684.4h0M501 672.7h0M514.2 669h0M507.8 671.5h0M496.3 684.5h0M524.2 660.6h0M526.3 666.3h0M476.6 701.6h0M480.8 698h0M490 680.9h0M464.3 689.9h0M510.3 667.9h0M511.2 677.7h0M519.5 659.2h0M526.1 672.7h0M514.7 668.5h0M513 669.7h0M529.3 659h0M481.1 685.8h0M501.7 683.4h0M521.4 669.2h0M491.9 683.1h0M470.7 708.6h0M521.8 669.5h0M515.6 683.2h0M519.4 674.5h0M499.1 675.5h0M512 674.1h0M510.4 688.1h0M497.2 678h0M488.5 679.9h0M498 684.5h0M509.2 676.7h0M524.5 658.3h0M503.8 684.4h0M507.7 670h0M439.8 716.9h0M503 678h0M518.9 652.5h0M501.4 677.2h0M516.8 674.9h0M515.7 685h0M510.9 677h0M508.9 675.1h0M502.6 671.8h0M497 677.2h0M524 657.4h0M504.5 671.8h0M515.9 651.8h0M510 665.4h0M518.7 664.5h0M519 670h0M498.6 669.9h0M497.5 683.6h0M523 670.7h0M500.2 680.7h0M481.8 687.6h0M513.4 659.3h0M514.9 664.9h0M519.1 649.9h0M513 653.5h0M526.2 670h0M516.3 670.3h0M493 684.5h0M486.6 689.2h0M475.2 683.2h0M507.2 661.8h0M510.5 658.6h0M521.7 670h0M484 694.9h0M514.2 672h0M496.6 677.1h0M462.4 705h0M495.9 674.9h0M502.1 671.1h0M507.9 676.4h0M515.6 649.8h0M520.3 663.1h0M516.6 676.6h0M516.3 654h0M496.9 673.5h0M495.4 680.1h0M506.7 673.9h0M509.2 671.4h0M456.4 703.9h0M488 676.5h0M510.1 675.2h0M486.6 682.4h0M528.1 674.1h0M505 665.4h0M521 655.3h0M524.9 655.3h0M528.3 665h0M484.5 694.6h0M452.3 713.1h0M526.2 650.3h0M517.4 672.6h0M497.7 674.9h0M512.7 670.2h0M516.2 674.4h0M463.3 692.7h0M518.5 660.3h0M464 696.2h0M506.2 676.4h0M519.7 654.5h0M519.9 665.3h0M510.1 673.6h0M479.5 677.3h0M523.7 667.1h0M507 672.8h0M502 672.3h0M434.9 716.5h0M503.1 669.9h0M505.1 670.3h0M506.3 676.3h0M523.2 675.1h0M519.8 652.9h0M492.8 690.4h0M474.3 695.2h0M492.4 682.1h0M450.3 701.9h0M497.5 680.2h0M493.9 683.8h0M505.9 672.9h0M487.6 686.5h0M505.8 667.3h0M492.9 680.5h0M482.8 694.2h0M527.8 656.1h0M513.2 663.4h0M521.6 664.2h0M501.5 669.1h0M512 666.8h0M517.8 660.9h0M492.8 680.2h0M510.1 658h0M519.7 680.3h0M524.8 662.4h0M517.2 678.4h0M480.2 694.5h0M502.8 675.9h0M466.9 695.5h0M498 679.6h0M507.6 676.8h0M522 648.3h0M465.6 697.9h0M518 665.8h0M515.7 675.1h0M513.5 667.1h0M481.4 687.1h0M479.8 696.6h0M506.9 670.2h0M479.8 691.3h0M478.9 698.2h0M509.4 665.3h0M478.6 683.8h0M513.3 663h0M525.1 653h0M514.1 663.6h0M520.4 665.6h0M520.5 648h0M518.8 652.1h0M525.6 666.2h0M489.1 683.7h0M497.8 671.1h0M495.4 684.4h0M515.5 673.5h0M473.7 697.7h0M518 668.5h0M465.8 703.4h0M509 664.7h0M489.6 677.6h0M513.3 665.7h0M528.7 662.3h0M503 679h0M523.7 673.8h0M497.6 679h0M502.2 674.6h0M517.2 662.8h0M512.8 673.4h0M498.5 665.9h0M473 697.9h0M466.8 704.8h0M470.6 700.6h0M491.9 677.5h0M496.6 677.5h0M508.7 662.7h0M512.2 673.2h0M491 686.2h0M474.9 695.4h0M479 688.6h0M499.6 681.9h0M455.7 702.1h0M465 699.8h0M466.9 700.1h0M521.6 659.8h0M485 688.4h0M527.1 668.2h0M505.2 681.2h0M508.9 664.5h0M525.1 657h0M504 680.2h0M510.3 667.2h0M522.5 656.8h0M501.7 669.2h0M520.9 648.8h0M465 705.2h0M506.2 665.1h0M528.7 643.1h0M527.4 654.5h0M504.4 669.7h0M485.6 684.7h0M502.3 675h0M529 665.2h0M502.2 679.4h0M517.2 669.4h0M504.5 687.1h0M465 695.9h0M488.1 687.2h0M514.2 663.3h0M496.3 685.6h0M472.5 688.9h0M514.4 667.3h0M519.1 671h0M499 674.6h0M517.6 669.8h0M509.6 673.2h0M478.5 701.6h0M462.1 699.1h0M506.5 664.9h0M500.3 681.4h0M506.1 676.3h0M458 704.1h0M526.7 650h0M518.1 665.7h0M496.2 680.6h0M508 677.4h0M500 681h0M522 678.9h0M501.3 669.7h0M510.4 675.6h0M515.6 662.9h0M518.2 681.4h0M518.2 669.4h0M516.2 666.6h0M520.7 663.7h0M502.7 675.6h0M488.9 678.9h0M472.4 698.3h0M479.3 693.6h0M518.3 656h0M502.7 679.8h0M493 691.6h0M515.6 666.4h0M515.8 671.9h0M508.7 670h0M519.6 666.3h0M511 674.9h0M565.2 631.7h0M560.2 647.9h0M559.1 621.6h0M560.8 639.5h0M556.4 631.2h0M568.9 620.6h0M563.7 651h0M558.7 626.8h0M556.1 647.5h0M557 647.4h0M556.4 648.3h0M568.5 648.8h0M561.4 630h0M585.9 607.8h0M564.4 642.5h0M557.6 633.5h0M561.2 643.3h0M558.7 630.5h0M570.2 624.3h0M555.8 635.9h0M589.9 599.8h0M558.4 650.1h0M566.4 646.6h0M564.6 650.5h0M557.3 637.2h0M557.9 638.8h0M566.4 643.8h0M568.4 625.2h0M568 640.9h0M561.6 643.3h0M561.6 644.6h0M558.5 653.3h0M557.4 648.7h0M563.3 651.3h0M561.2 648h0M559.6 658.7h0M585 636.7h0M560.3 650.8h0M558.2 626.1h0M577.8 620.8h0M558.2 638.9h0M558.7 651.4h0M573.2 618.1h0M556.2 629h0M564.8 621.7h0M567.8 656.6h0M562.6 631.3h0M556.3 648.8h0M567.2 646.3h0M557.4 642.8h0M556.4 647.6h0M567.8 619.7h0M562.2 638.1h0M573.8 638.9h0M558.1 642.6h0M560.4 648.5h0M557.4 646.2h0M573.3 637.2h0M557.8 644.1h0M566.6 625.6h0M565.9 641.1h0M558.4 630.5h0M559.1 664h0M574.7 638.7h0M559.4 639.9h0M570.4 626.2h0M575 633h0M556.3 623.7h0M574.5 625.2h0M560 644.7h0M560.7 633.2h0M567.2 641.7h0M579.4 623.9h0M556.4 648.5h0M563.6 634.9h0M559 658.6h0M565.2 628.7h0M565.9 633.9h0M556 651.6h0M567.5 621h0M566.7 634.3h0M559.1 628.3h0M563.1 633.4h0M571.4 633.2h0M578.7 623.9h0M558.2 658.9h0M568.3 644.9h0M556.8 635.9h0M559.6 621.4h0M556.8 652.3h0M564.6 639.1h0M557.5 645.9h0M564.5 634.9h0M567.9 632.8h0M570.6 638.1h0M571.2 632.3h0M560.4 639.6h0M570.3 640.4h0M558.6 663.5h0M568.3 634.4h0M558.2 648.7h0M560.5 653.2h0M555.9 627.6h0M564.4 642.8h0M588.1 625.3h0M556.4 624h0M572.4 626.1h0M560.3 637.9h0M560.3 650.5h0M558.8 633.1h0M557.1 635.1h0M561.5 629.1h0M574.5 617.9h0M561.7 649.1h0M559.4 628.5h0M562.2 645.3h0M556.3 636.3h0M561.8 637.4h0M563.1 630.8h0M562.6 632.8h0M564.9 639h0M564.4 639.7h0M556.3 630.5h0M561.2 619.4h0M557.8 641.4h0M564.3 653.9h0M560.9 643.7h0M562.3 622.8h0M569 632h0M560 638.3h0M565.3 633.2h0M568.2 636h0M563.3 641.8h0M560.6 624.5h0M557.4 626.7h0M560.8 645.4h0M574.7 634.2h0M565 634h0M555.7 640.5h0M556.2 640.3h0M556.5 648.5h0M571.4 637.6h0M560.1 632.8h0M566.1 626.3h0M567 628.1h0M558 626.9h0M559.2 649.4h0M564.1 647.4h0M557.1 629.9h0M570.7 633.6h0M590.7 610.3h0M566.3 628.8h0M560.1 648.3h0M559.4 639.1h0M574.2 636.6h0M629 586.2h0M619.3 583h0M603.1 610.9h0M576.2 627.8h0M629.7 577.8h0M588.9 603.1h0M593.4 613.5h0M617.6 582.5h0M638.4 559.8h0M583.3 620.1h0M615.7 607.4h0" stroke="#a0a0a0" stroke-width="3.0" stroke-linecap="round" fill="none" opacity="0.42"/>
<path d="M516.6 661.1h0M517.6 672.5h0M524.2 662.8h0M528 673.5h0M513.4 658.4h0M504 671.2h0M521.5 660.2h0M516.1 682.1h0M505.8 670.8h0M506.9 675.4h0M516.3 661.6h0M513.5 664.4h0M514.8 656.1h0M523.1 670.2h0M514.3 669.6h0M482.1 693.6h0M517 657.3h0M478.6 691.5h0M487.3 692h0M508.8 678.6h0M526.4 665h0M508.8 674.2h0M513.8 670.2h0M521.5 670.7h0M508.8 676.4h0M517.8 677.5h0M506.3 674.1h0M507 665.7h0M503.6 679.7h0M518.1 662.6h0M486.6 683.1h0M477 687.9h0M461.4 710.1h0M503.5 676.6h0M516.1 680.9h0M518.4 668.9h0M485.9 682h0M517.3 670.3h0M520.6 657.2h0M513.4 665.8h0M520.6 658.6h0M498 676.3h0M508.9 678.4h0M470.8 688.5h0M512.9 682.2h0M501.8 680h0M512.1 669.1h0M497.9 678.8h0M523.7 650.9h0M519.8 651.8h0M489.8 683h0M524.1 640.5h0M475.7 694.6h0M485.5 685.6h0M520.3 665.9h0M517.1 665.5h0M492.6 683.2h0M498.5 686.8h0M505.2 670.3h0M509.7 669.3h0M513.5 668.3h0M451.8 706.8h0M506.4 678.7h0M521.3 669h0M522 650.5h0M513.7 646.1h0M499.8 671.5h0M485.2 688.7h0M509.7 680.5h0M495.6 678.1h0M521.6 673h0M514.4 671.2h0M513.1 667.7h0M522.3 667.8h0M491.1 684.8h0M492.2 671.8h0M488.7 683.2h0M513.7 667.9h0M526.7 658.5h0M486.6 684.8h0M520.6 655.6h0M493.1 680.4h0M510.5 684.7h0M522 657h0M502.5 677.2h0M512 663.8h0M523.2 667.5h0M515 667.1h0M509.9 676.5h0M501.4 671.3h0M518.4 660.9h0M478.9 683.9h0M483.2 687.3h0M465 695.1h0M491.9 690.3h0M526.2 649.5h0M517 669.8h0M481.6 684.7h0M478.1 693.8h0M471.8 693.9h0M515.9 672.2h0M521.2 658.9h0M515.3 666.7h0M510.8 680h0M510 674.5h0M527.9 668.9h0M524.6 650.7h0M503.7 668.3h0M504.4 677.1h0M520.4 658.6h0M507.3 666.6h0M499.4 671.6h0M515.9 657h0M524.6 669h0M502.1 678.7h0M503.7 669.6h0M522.2 678.4h0M499.6 677.3h0M494.2 683.5h0M495 685.9h0M498.1 688.4h0M511.8 676.2h0M467.7 693h0M528.6 655.3h0M510.4 663.6h0M482.3 692.3h0M525.1 650.5h0M476.1 691.6h0M517.6 667.3h0M527.2 661.4h0M506.7 686.5h0M519.2 664.5h0M518.8 659.9h0M518.4 661.7h0M480.4 688.4h0M499.5 673.7h0M524.5 663.6h0M496.2 686h0M506.8 677.6h0M503.3 672.3h0M511.5 665.2h0M480.5 687h0M442.2 708.7h0M490.2 687.6h0M515.7 661.2h0M489.2 685.1h0M489.1 692.5h0M471.4 703.5h0M525.5 678.6h0M509.4 670.4h0M452.9 707.2h0M523 657.8h0M509.6 661.7h0M515.2 664.6h0M522.6 665.2h0M501.4 670.8h0M493.6 698.4h0M477.3 695.5h0M526.7 670h0M452.9 709.9h0M526.6 673h0M526.4 654.2h0M515.3 655h0M503.8 678h0M499 693.9h0M526.1 655.7h0M505.5 673.5h0M467.9 698h0M527.3 670.4h0M522.4 659.9h0M524.2 658.6h0M519.8 668.4h0M493.6 682.5h0M443.6 711.9h0M474.7 693.5h0M492.2 682.4h0M496.2 675.8h0M518 664.6h0M518.7 677.7h0M524.5 632.3h0M496.9 684.3h0M501.9 685.8h0M519.5 658.4h0M483.9 701.4h0M522.2 669.8h0M483.1 685.4h0M494.1 678h0M468.5 685.9h0M510.2 673.2h0M526.1 674.2h0M510.3 666.9h0M516.8 662.1h0M523.1 672h0M523 669.3h0M513.7 668.5h0M508.7 682.3h0M475 690.9h0M507.1 678.2h0M524.1 660.1h0M510 672.2h0M513.6 671.7h0M487.7 683.2h0M492.2 677.7h0M483.2 692.9h0M476.4 695.8h0M505.2 692h0M520.1 653.2h0M490.6 685.9h0M514.4 678h0M517.1 665.8h0M513.7 669.2h0M473.2 696.2h0M520.3 660.4h0M491.5 678.5h0M445.4 709.4h0M518.1 678.1h0M444.1 708.5h0M514.3 662.4h0M515.6 661.4h0M518.2 671.3h0M514.8 667.5h0M499.3 673.9h0M515.4 664.5h0M483.3 694.8h0M519.1 669.9h0M522.4 650.2h0M455.7 697.1h0M525.7 654.8h0M521.6 685.5h0M491.4 683.1h0M500.6 668.2h0M440.5 713.9h0M449.1 711.3h0M508.2 676.3h0M526.4 682.3h0M482.7 681.2h0M519.3 668.4h0M484.6 684.5h0M476.9 686.7h0M515.6 661.5h0M510.1 671.9h0M521.7 662.3h0M450.4 711.3h0M503.1 666.3h0M492.4 680h0M508.9 662.6h0M514.2 669h0M524.5 673.3h0M514.3 654.6h0M474.9 692.2h0M521.4 667h0M487.6 691.2h0M477.8 695.3h0M514.1 675.3h0M504.1 673.2h0M515.1 668.3h0M496.8 690.1h0M491 680.6h0M484.2 691h0M523.7 653.6h0M493.4 682.7h0M521.8 652.6h0M518.9 666h0M520.9 640.1h0M521.9 666.9h0M516.7 673h0M478.7 689.3h0M529.3 661h0M497.7 679.9h0M502.1 680.8h0M495 678.8h0M526.5 646.5h0M510.3 667.7h0M505 666h0M503.5 682.2h0M516.7 672.7h0M511.2 669.9h0M471.5 698.3h0M516.4 659.4h0M512.4 669.2h0M488.2 674h0M496.4 672.3h0M474.6 709.9h0M479.9 678.9h0M511.1 668.2h0M509.8 665.1h0M495.8 671.1h0M499.8 675.2h0M498.5 677.7h0M519.1 667h0M502.9 674.5h0M502.1 672.5h0M490.6 691.1h0M485.2 692.9h0M466.2 692h0M506.5 664.3h0M486.9 683.9h0M515.7 673.7h0M520.7 662h0M475.5 695.9h0M497.7 681.4h0M519.9 671.4h0M482.6 681h0M526 674.4h0M468.9 691.8h0M528.8 649.1h0M517.9 684.5h0M515.6 662.8h0M506.3 672.6h0M505 671.8h0M518.8 677.8h0M509.2 667.8h0M520.6 665.1h0M485.2 689.4h0M524.8 642.8h0M527.6 668.9h0M521.7 664.2h0M521.2 678.7h0M493.5 677h0M515.9 674.9h0M491.8 682.8h0M452.6 716.3h0M502.3 683h0M498.9 672.1h0M477.8 688h0M525.4 658.7h0M524.8 652.6h0M520 671.4h0M518.6 674.4h0M513.9 668.7h0M504.9 673.8h0M473.7 693.5h0M515.7 677.8h0M474.2 688.4h0M482.4 689.9h0M470.1 703.1h0M513.5 663.1h0M473.9 697.3h0M481.1 685.6h0M509.2 667.4h0M510.3 672.4h0M473.1 693.1h0M520.6 654h0M445.7 715.5h0M517.9 670.1h0M462.4 697h0M523.1 663.7h0M490 682.7h0M501.7 661.5h0M504.3 672.2h0M511.7 683.1h0M518.6 665.8h0M493.4 669.2h0M516.1 662.5h0M485.5 690h0M506 674.8h0M478.2 696.4h0M502.1 666.4h0M507.9 679.1h0M472.3 697.9h0M496.8 685h0M451.8 705.9h0M526.2 656.8h0M518.8 661.6h0M510.5 668.5h0M489.4 680.4h0M498.4 682.8h0M489.7 686.7h0M515.8 654.4h0M494.7 677.9h0M501.9 678.5h0M505.8 669.2h0M511.9 665.8h0M516.8 668.6h0M519.8 682.3h0M474.6 692.3h0M525.1 659.5h0M524.1 661.4h0M516.8 653.2h0M482.1 683.8h0M520 660.3h0M471.6 698.8h0M515.6 673.6h0M481.5 686.9h0M500.3 666.4h0M482 691.8h0M495 671.9h0M509.4 675.2h0M502.4 676h0M508.3 659.9h0M522.3 662.9h0M510.7 657.9h0M514.5 675.7h0M524.7 671.5h0M489.3 672.5h0M479.2 680h0M501.4 675.1h0M509.9 674.8h0M525.7 665.7h0M484.8 689.6h0M527.2 649.2h0M502.4 667.8h0M434.9 710.2h0M508.2 676.4h0M499.1 692.4h0M499.5 666.7h0M451.1 702.3h0M514.8 675.6h0M515.2 673.8h0M502.9 684.7h0M512.7 670.2h0M516.1 666.5h0M478.4 685.1h0M505.8 662.8h0M445.2 717.7h0M481 675.5h0M491.8 693.1h0M520.4 660.9h0M526.6 665.8h0M489.5 682.8h0M526.1 668.8h0M478.6 689.2h0M490.3 683.9h0M517.6 681.3h0M491 688.2h0M502.5 689.2h0M498.2 686.4h0M522 647.4h0M475.8 694h0M518.2 661h0M520.6 661.3h0M513.6 662.3h0M526.8 658.1h0M515.7 670.3h0M517.7 669.8h0M501.7 680.9h0M481.1 696.7h0M518.9 675.6h0M524.2 664h0M526.7 656.3h0M488 684.9h0M500.3 680.5h0M470.9 692.6h0M526.9 669.9h0M479.5 694.7h0M516.2 681.9h0M559.1 646h0M560.2 641.7h0M557.8 638.8h0M556.3 646.2h0M569.3 636.2h0M566.2 627h0M568.4 645h0M559.8 641.7h0M556 641.3h0M557.7 651h0M556.5 632.6h0M557.4 647.4h0M557.7 656.8h0M555.6 644.5h0M557.8 638.2h0M570.4 636.5h0M579.6 627.7h0M557.8 657.1h0M560 641.2h0M567.2 640.2h0M567 631.6h0M559.8 640.9h0M559.1 638.2h0M561 637.2h0M561.3 635.9h0M558.3 645.7h0M557.2 664.7h0M567.9 643.7h0M561.8 637.2h0M556.9 639.6h0M557.3 642.2h0M573.9 619.2h0M558 620.5h0M557.1 631.8h0M559.7 636.5h0M559.6 648.9h0M556.6 637.6h0M556.6 629.9h0M556.8 637.1h0M563.9 633.5h0M556.3 642.1h0M566.6 625.7h0M559.8 643.2h0M575 631.5h0M559.4 629.7h0M561.5 625.9h0M559 635h0M564.4 632.1h0M564.7 645.1h0M579.5 625.2h0M562.7 624.8h0M559.5 629h0M558.5 628.2h0M557.1 643.6h0M561.8 651.5h0M557.4 630.3h0M579.9 633.6h0M564.6 641.1h0M558 634.4h0M557.1 634.7h0M557.4 642.1h0M555.9 654.6h0M557.5 640h0M560.6 648.5h0M556.3 638.7h0M555.8 629.9h0M558.3 635.8h0M558.2 645.8h0M557.9 648.8h0M563 631h0M575.8 624.4h0M571.3 629.9h0M555.7 635.3h0M569.1 631.5h0M556.3 658.1h0M561.8 623.9h0M557.6 642.9h0M559.5 650.8h0M565.4 634.6h0M558.1 629.8h0M574.1 615.7h0M557.7 649.1h0M557.9 645.3h0M557.5 645.4h0M558.1 639.4h0M558.8 641.5h0M556.2 646.8h0M568.4 640.6h0M569.5 638.4h0M565.9 645h0M563.7 651.5h0M569 627.1h0M558.8 652.8h0M559.7 633.5h0M557 658.3h0M556.6 657.7h0M568.3 629.6h0M572.8 635.4h0M556.7 642.5h0M594.8 613.3h0M558.2 647h0M556.3 638.1h0M563.1 627.1h0M577.2 628h0M566 650h0M570.3 625.6h0M572.4 628.7h0M568.5 635.2h0M576.7 626.6h0M569.5 637.5h0M559.7 637.4h0M556.2 645.6h0M571.4 629.2h0M566.5 627.8h0M558.3 637.2h0M565 639.2h0M560.8 642.4h0M568.6 622.1h0M562.3 637.5h0M566.2 627.3h0M558.1 639.2h0M558.8 645.4h0M561.2 636.4h0M557.7 645.8h0M557.2 642h0M556.1 647.2h0M556.6 626.8h0M559.1 636.5h0M560.4 636h0M574.6 636.9h0M568.8 643.7h0M563.8 647.9h0M567.3 629.1h0M558 647.2h0M558.4 634.2h0M568.9 649.2h0M579.5 614.3h0M562.4 643.4h0M557 644.6h0M558.1 643.2h0M562.9 629.5h0M555.8 646.9h0M556.2 642h0M570.2 621.2h0M567.9 637.5h0M569.3 647.5h0M572.9 628.8h0M560.7 643.8h0M565.8 632.3h0M556.7 631.5h0M572.7 623.4h0M569.5 624.4h0M558.9 634.8h0M561.6 639.2h0M557.9 637.4h0M645.6 576.4h0M568.6 629.7h0M573.8 633.6h0M628.2 571.1h0M588.4 596.1h0M583.4 632.9h0M582.9 617.2h0M588.6 614.4h0M610.2 605.7h0M567.5 630h0M568.1 614.7h0" stroke="#a0a0a0" stroke-width="3.0" stroke-linecap="round" fill="none" opacity="0.42"/>
<path d="M460.4 709.1h0M495.6 683.8h0M513 672.4h0M507.1 686.3h0M495.2 676.8h0M514 667h0M522.3 657.7h0M511.4 668.6h0M526.1 657.3h0M498.9 685.6h0M501.7 673.7h0M463.8 708.2h0M519.6 667.8h0M517.6 650.4h0M511.8 656.9h0M496.8 668.5h0M521.9 656.3h0M520.3 665.6h0M481.3 695.4h0M472.2 691.5h0M513.7 666.9h0M495.7 685h0M512.6 660.5h0M520.8 663.1h0M497.9 680.1h0M496.2 687.7h0M518.9 671.9h0M472.5 702.3h0M521.3 667.9h0M511.3 688.2h0M503.8 669.6h0M488.9 682.4h0M453.9 703.6h0M479.5 692.3h0M474.1 691.4h0M475.5 691.7h0M522.3 674.7h0M454.8 705.4h0M496.8 682.8h0M500.3 686.4h0M522.3 664.7h0M512.2 668.5h0M528.1 656.8h0M523.3 651.6h0M500 667.6h0M494.2 686.1h0M463.8 698.8h0M509.3 664.9h0M512.9 675h0M525.9 659.4h0M505.9 660.7h0M518.5 639.5h0M526.2 673.8h0M457 708.6h0M509.7 676.8h0M512.6 667.5h0M516.6 672h0M521 662.9h0M501.9 665.7h0M461 707.7h0M513.4 668.5h0M518.1 658.4h0M520.8 652.8h0M522.9 658.2h0M498.7 674h0M522.1 653.6h0M489.8 678.6h0M504.1 673.8h0M509.9 658.2h0M522.2 679.3h0M525.9 654.6h0M482.5 696.8h0M493.8 674.6h0M464.5 695.8h0M527.9 661.7h0M471.8 709.7h0M493.9 674.2h0M517.8 673h0M512.5 669.2h0M496.6 676.4h0M499.2 682h0M527.1 653.6h0M525.7 664.8h0M494.8 674.6h0M487.3 678.4h0M525.3 651.1h0M501.2 675.8h0M506.6 672.1h0M511.8 660.9h0M505.3 663.7h0M506.9 679.3h0M490 680.4h0M452.3 702.8h0M485.5 688h0M490.9 687.9h0M506.7 672.9h0M449.7 710.9h0M508.8 662.3h0M493.1 683h0M481.1 689.6h0M510.9 667h0M475.6 685.3h0M513.1 673.8h0M486.7 677.8h0M494.5 683.4h0M500.9 670.9h0M475.1 699.4h0M522.2 670.6h0M457.6 694.8h0M479.3 691.1h0M494.8 672.9h0M527.2 651.4h0M511.9 663.4h0M512.2 666.8h0M502.3 674.4h0M522.9 667h0M511.5 674.8h0M504.9 687h0M525.5 644.1h0M496.2 685.5h0M460 692.7h0M517.7 670.6h0M501.2 675.4h0M501 687.8h0M515.1 667.4h0M526.9 649.3h0M504.5 693.6h0M518.5 680.7h0M516.6 661.2h0M480.8 683.1h0M527.5 651h0M521.9 651.6h0M516.3 653.5h0M514.1 668.7h0M466.8 697.5h0M487.5 696.9h0M491.1 682.6h0M492.2 677.8h0M522.5 644.4h0M504 670.4h0M514.3 676.3h0M491.1 688.8h0M522.1 666.2h0M511 670.6h0M510.9 683.3h0M499.4 670.5h0M512.3 665.3h0M516 659.7h0M475.6 694.5h0M522.6 655.2h0M476.6 685.6h0M502.2 678.5h0M502.2 674.6h0M503.9 675.9h0M508.3 672.8h0M500.4 678.3h0M522.2 680.1h0M476.5 694.1h0M476.6 696.4h0M472.7 691.7h0M509.5 667.7h0M517 688.3h0M507.2 662h0M499.6 676.1h0M501.5 688.7h0M492.9 687.9h0M518.9 664.9h0M520.5 649.3h0M439.4 708.9h0M522.3 669.2h0M526.5 687.6h0M525.6 689.2h0M512.6 666.1h0M522.7 646.9h0M526.8 660.9h0M504.7 676.9h0M521.4 664.6h0M504 669.9h0M483.4 686.9h0M508.8 666.7h0M505.1 684.1h0M504.3 671.6h0M524.2 652.1h0M523.4 651.1h0M513.1 671.9h0M489.8 695.7h0M460.8 705h0M514.9 678.7h0M488.7 695.4h0M499.8 687.3h0M482.7 694.2h0M510.1 657.4h0M520.8 672.1h0M514.6 671.9h0M493.6 674.1h0M522 642h0M510 663.1h0M509.5 667.4h0M499.6 689h0M484.6 681.6h0M487.4 680.5h0M491.8 691.1h0M524.4 678.9h0M527.6 647.9h0M449.7 713.2h0M520.5 634.9h0M518.3 660h0M510.5 678.2h0M525 648.5h0M492.5 667.2h0M524.9 659h0M509.5 673h0M522 675.8h0M498.8 665h0M520 656.5h0M493.3 673.3h0M515.4 676.5h0M510.4 649.9h0M520.6 671h0M451.2 710h0M521.1 667.6h0M500 678.9h0M507.2 683.3h0M518.6 649.3h0M496.1 688.5h0M510 672.8h0M514.9 658h0M494.5 676h0M523.7 657.3h0M498.8 680.2h0M503.1 679.4h0M519.8 657.9h0M510.5 662h0M526.1 672.5h0M497.4 679.7h0M447.7 711.5h0M521.8 665.3h0M521.2 666.5h0M497.2 668h0M529.1 668.2h0M496.9 672.9h0M518.1 666.6h0M522.7 652.9h0M489.9 686h0M481.5 683.4h0M518.8 675.1h0M522.8 670.6h0M489.9 675h0M510.5 669.1h0M526.2 643h0M478.6 698.4h0M456.9 701.5h0M513.4 680.7h0M502.5 681.4h0M503.4 694.5h0M507.3 673.3h0M476.9 692.4h0M499 682.7h0M502.5 685h0M494.5 686.6h0M525.2 660h0M492.3 691.3h0M520.5 666.2h0M489.1 677.6h0M522.8 661.6h0M521.3 681.7h0M517.8 669.3h0M521.7 680.5h0M518.1 653.3h0M527.9 657h0M501 673.3h0M513.3 664.7h0M495.1 688.1h0M498.7 681.5h0M486.8 694.4h0M509.4 668.1h0M522.6 641.9h0M478.1 695.5h0M519.2 668.5h0M483.7 690.1h0M477.3 688.7h0M510.7 679.1h0M498.1 677.7h0M499.3 676.5h0M473.9 688.2h0M523 659.7h0M493.5 668.2h0M477.1 698.3h0M494.9 680.8h0M499.1 678.4h0M520.5 670.9h0M523.4 658.4h0M507.3 675.1h0M495.6 675.5h0M505.1 680.2h0M520.9 663.6h0M512.2 677.7h0M488.4 682h0M523.1 651.3h0M521.2 662.7h0M505.7 670.3h0M508.8 671h0M512.3 681.4h0M483.3 688.3h0M507.9 678.9h0M497.1 678.6h0M505.1 674.4h0M511.3 667.7h0M483.2 690.6h0M516 675.6h0M526.4 647.2h0M520.5 657.7h0M523 646.3h0M471.9 695.7h0M503.2 676.3h0M486.6 682.3h0M453.2 710.9h0M517.9 677.4h0M479.7 684.6h0M445.2 697h0M483.5 690.2h0M523.3 660h0M515.3 646.6h0M518.1 677.2h0M506.9 673.3h0M497.7 675.8h0M458.2 698.2h0M516 667h0M512.6 666.8h0M471.8 690.9h0M510.8 670.7h0M501.4 688.9h0M513.1 670.5h0M526.7 674.2h0M509.1 679.5h0M528.2 641.7h0M509.7 669.5h0M502.3 664.2h0M476.3 687.5h0M509.4 674.1h0M511.1 663.6h0M498.9 672.2h0M475.5 694.1h0M506.7 665h0M497.5 666.6h0M523.9 656.8h0M491.1 683h0M477.4 688h0M503.4 669.8h0M523.4 661h0M520.3 677.6h0M496.2 688h0M516.7 668.9h0M505.3 678.5h0M524.4 651h0M514.9 659.7h0M526.6 668.4h0M527.1 645.5h0M504.3 683h0M520.9 672.9h0M495.4 681.5h0M480.3 692.9h0M456.7 713.5h0M516.5 663.1h0M496.4 676.4h0M459.3 707.2h0M528.8 669.4h0M498.8 669.7h0M497.2 686.3h0M521.8 643.3h0M518.1 639.1h0M507 668.8h0M528.5 651h0M525.9 651.7h0M470 702.6h0M468.4 693.4h0M490.8 676.5h0M510.3 670.2h0M516.2 665.6h0M492.2 679.2h0M528.4 665.8h0M523.8 685.4h0M438.9 707.9h0M501.4 676.6h0M521.3 666.5h0M519.4 655.1h0M488.7 674h0M466 697.8h0M503 683.7h0M516.2 659.6h0M519.3 668.6h0M518.5 658.6h0M515.5 676.8h0M488 697.6h0M512.8 667.4h0M515.2 662.3h0M523.7 660.9h0M527.4 651.3h0M509.4 667.1h0M466.7 696.9h0M486.7 683.2h0M509.8 665.6h0M527 662.6h0M507.6 663.8h0M514.4 684.2h0M479.5 682.3h0M499.9 678.5h0M462.2 699.3h0M528.2 673.4h0M506.1 689.5h0M469.7 695.5h0M507.5 664.4h0M510.7 681.7h0M493 684.5h0M506.6 680.8h0M526.4 667.6h0M520.3 662.9h0M525.6 662.5h0M472 703.3h0M501.7 676.1h0M487.8 689.1h0M479 695.6h0M524.4 668.2h0M502.8 680.4h0M491.1 686.4h0M516.3 667.1h0M498.1 687.9h0M484.3 686.8h0M525.9 660.6h0M484.5 684.8h0M522 663.4h0M470.5 692.8h0M517.6 655.7h0M502.7 675.6h0M513.8 657.9h0M465.8 700.4h0M453.1 698h0M515.7 674.8h0M477.3 694.6h0M500.8 684.2h0M522.2 658.4h0M482.9 688.5h0M491.7 690h0M519.1 666.4h0M511.4 674.5h0M556.8 638.7h0M557.1 642.7h0M562.3 631.9h0M576.1 618.3h0M565.4 630.7h0M562 643.1h0M569.8 619.8h0M558.5 625.5h0M580.1 628.2h0M560.9 650h0M556.7 642.7h0M557.8 649.8h0M557.9 632.9h0M568.7 627.1h0M560.3 641.1h0M556.6 649.3h0M555.9 635.9h0M580.2 628.4h0M565.9 629h0M564.8 628.7h0M562.5 636.4h0M560.5 651.7h0M558.4 646.7h0M561.9 646.9h0M557.7 640.1h0M566.2 619.3h0M570.9 619.4h0M557.5 634.7h0M580 630.4h0M571 635.3h0M556.8 655.3h0M559.7 634.3h0M564.5 644h0M556.6 630.9h0M561.1 622.9h0M562 624.3h0M563.7 648h0M565.5 636h0M558.1 636.4h0M558.7 634.1h0M556.8 642.9h0M555.6 633.7h0M564.2 637.2h0M557.1 633.2h0M566.5 637.5h0M569.9 636.3h0M587.4 620.4h0M559.4 626.8h0M555.7 635.5h0M579.6 631.4h0M566.6 620.6h0M565.8 635.9h0M560.2 620.3h0M556.7 639.2h0M582.4 624.6h0M562 631.3h0M567.4 636.7h0M587.3 615h0M559.8 631.7h0M561.7 645.6h0M559.5 650.8h0M563.9 637.4h0M558.2 648.7h0M565.4 631h0M557 635.7h0M578.5 625.7h0M557.4 643.2h0M557 652.8h0M557.7 643h0M561 627.4h0M557.5 658.6h0M558 638.8h0M567.7 639h0M557.6 638.9h0M559.8 648.6h0M567.9 634.2h0M565.8 657.9h0M560.7 639.8h0M565.5 638.6h0M563.8 634h0M555.9 628.1h0M580.8 633.3h0M565.8 639.4h0M562.9 630.2h0M561.5 635.1h0M572.6 631.1h0M561 642.2h0M560.6 639.8h0M567.3 648.1h0M555.9 655.4h0M564.8 636.3h0M560.3 643.4h0M556.5 637.1h0M569.6 631.1h0M557.4 642.5h0M558.5 656.5h0M568.1 635.9h0M575.5 622.6h0M564.5 634.6h0M565 648.1h0M566.1 639.2h0M581.2 628.3h0M561.2 627.1h0M556.3 639.2h0M564.9 632.8h0M565.3 635.4h0M564.4 627.8h0M563 637.9h0M556.8 641.7h0M563.9 634.1h0M556.1 640h0M559.4 639h0M557.8 650.2h0M563.5 634h0M610.4 597.1h0M559.5 632.4h0M556.7 652.1h0M556 639.7h0M559.9 645.7h0M556.4 645.3h0M558.1 644.3h0M557.3 668.8h0M555.9 631.7h0M556.4 653.2h0M564.7 637.8h0M558.9 652.6h0M564.3 629.4h0M561.6 650.2h0M564.8 644.9h0M567.2 627.6h0M558.4 628.3h0M564.3 639.6h0M556.3 643h0M566.2 636.8h0M558.6 645.4h0M569.4 635.5h0M575.4 636.5h0M567.9 628.3h0M560.3 640.5h0M557.4 630.6h0M562.4 639.4h0M557.6 624.5h0M569.4 638.9h0M568 635.4h0M573.1 637.3h0M556.3 636.7h0M565.6 631.4h0M563.7 629.7h0M556.1 650.3h0M559.8 636h0M565.4 644h0M557.8 655.7h0M579.5 620.4h0M590.4 627.7h0M563.2 622.7h0M630.5 579.4h0M627.6 573.7h0M573.9 596.2h0M626.7 594.3h0M608.4 591.7h0M643.6 573.2h0M611.3 614.6h0M566.8 601.4h0M592.9 578.1h0M596 607.4h0M580.6 619.2h0M601.6 623.1h0" stroke="#a0a0a0" stroke-width="3.0" stroke-linecap="round" fill="none" opacity="0.42"/>
<path d="M482.1 595h0M645.3 537h0M638.6 549h0M633 553h0M628 560h0M622 565h0M615 575h0M620 580h0M610 585h0M603 592h0M598 597h0M602 609h0M590 620h0M580 628h0M590 635h0M575 673h0M580 685h0M565 680h0M610 640h0M597 645h0M530.5 689h0M520 700h0M504 720h0M495 710h0M470 715h0M460 720h0M455 725h0M511 648h0M520 640h0M526 630h0M523 625h0M585 655h0M595 663h0M607 672h0" stroke="#a8a8a8" stroke-width="3.0" stroke-linecap="round" fill="none" opacity="0.5"/>
<path d="M412.5 708.6L672.9 594.6" stroke="#f3b43f" stroke-width="1.45"/><path d="M412.5 736.5L672.9 566.7" stroke="#e6383d" stroke-width="1.45"/><path d="M412.5 767.9L672.9 535.3" stroke="#b05458" stroke-width="1.45"/>
<rect x="412.5" y="534.5" width="260.0" height="233.5" fill="none" stroke="#6a6a6a" stroke-width="1.1"/>
<text transform="translate(420.5 699.5) rotate(-26)" font-size="10.2" fill="#f5a623">Moderate</text>
<text transform="translate(420.5 725) rotate(-33.5)" font-size="10.2" fill="#ee2020">Severe</text>
<text transform="translate(421 755) rotate(-42)" font-size="10.2" fill="#a83232">Critical</text>
<path d="M418 546h0" stroke="#f5a623" stroke-width="3.6" stroke-linecap="round" fill="none" opacity="1.0"/><path d="M418 563.8h0" stroke="#ee1111" stroke-width="3.6" stroke-linecap="round" fill="none" opacity="1.0"/><path d="M418 582.2h0" stroke="#a52a2a" stroke-width="3.6" stroke-linecap="round" fill="none" opacity="1.0"/>
<text x="423.3" y="550" font-size="9.65" text-anchor="start" font-weight="normal" fill="#111" >Moderate r=0.84, p&lt;0.001</text>
<text x="423.3" y="567.8" font-size="9.65" text-anchor="start" font-weight="normal" fill="#111" >Severe r=0.94, p&lt;0.001</text>
<text x="423.3" y="586.2" font-size="9.65" text-anchor="start" font-weight="normal" fill="#111" >Critical r=Ref, p=Ref</text>
<text transform="translate(375.8 651.3) rotate(-90)" font-size="12.8" text-anchor="middle" fill="#111">Log<tspan font-size="9.2" dy="3">2</tspan><tspan dy="-3"> fold change</tspan></text>
<text transform="translate(390.2 651.3) rotate(-90)" font-size="12.8" text-anchor="middle" fill="#111">Disease vs Control</text>
<text x="543" y="804.4" font-size="12.8" text-anchor="middle" fill="#111">Log<tspan font-size="9.2" dy="3">2</tspan><tspan dy="-3"> fold change</tspan></text>
<text x="543" y="819.6" font-size="12.8" text-anchor="middle" font-weight="normal" fill="#111" >Critical disease vs Control</text>
</svg></body></html>
